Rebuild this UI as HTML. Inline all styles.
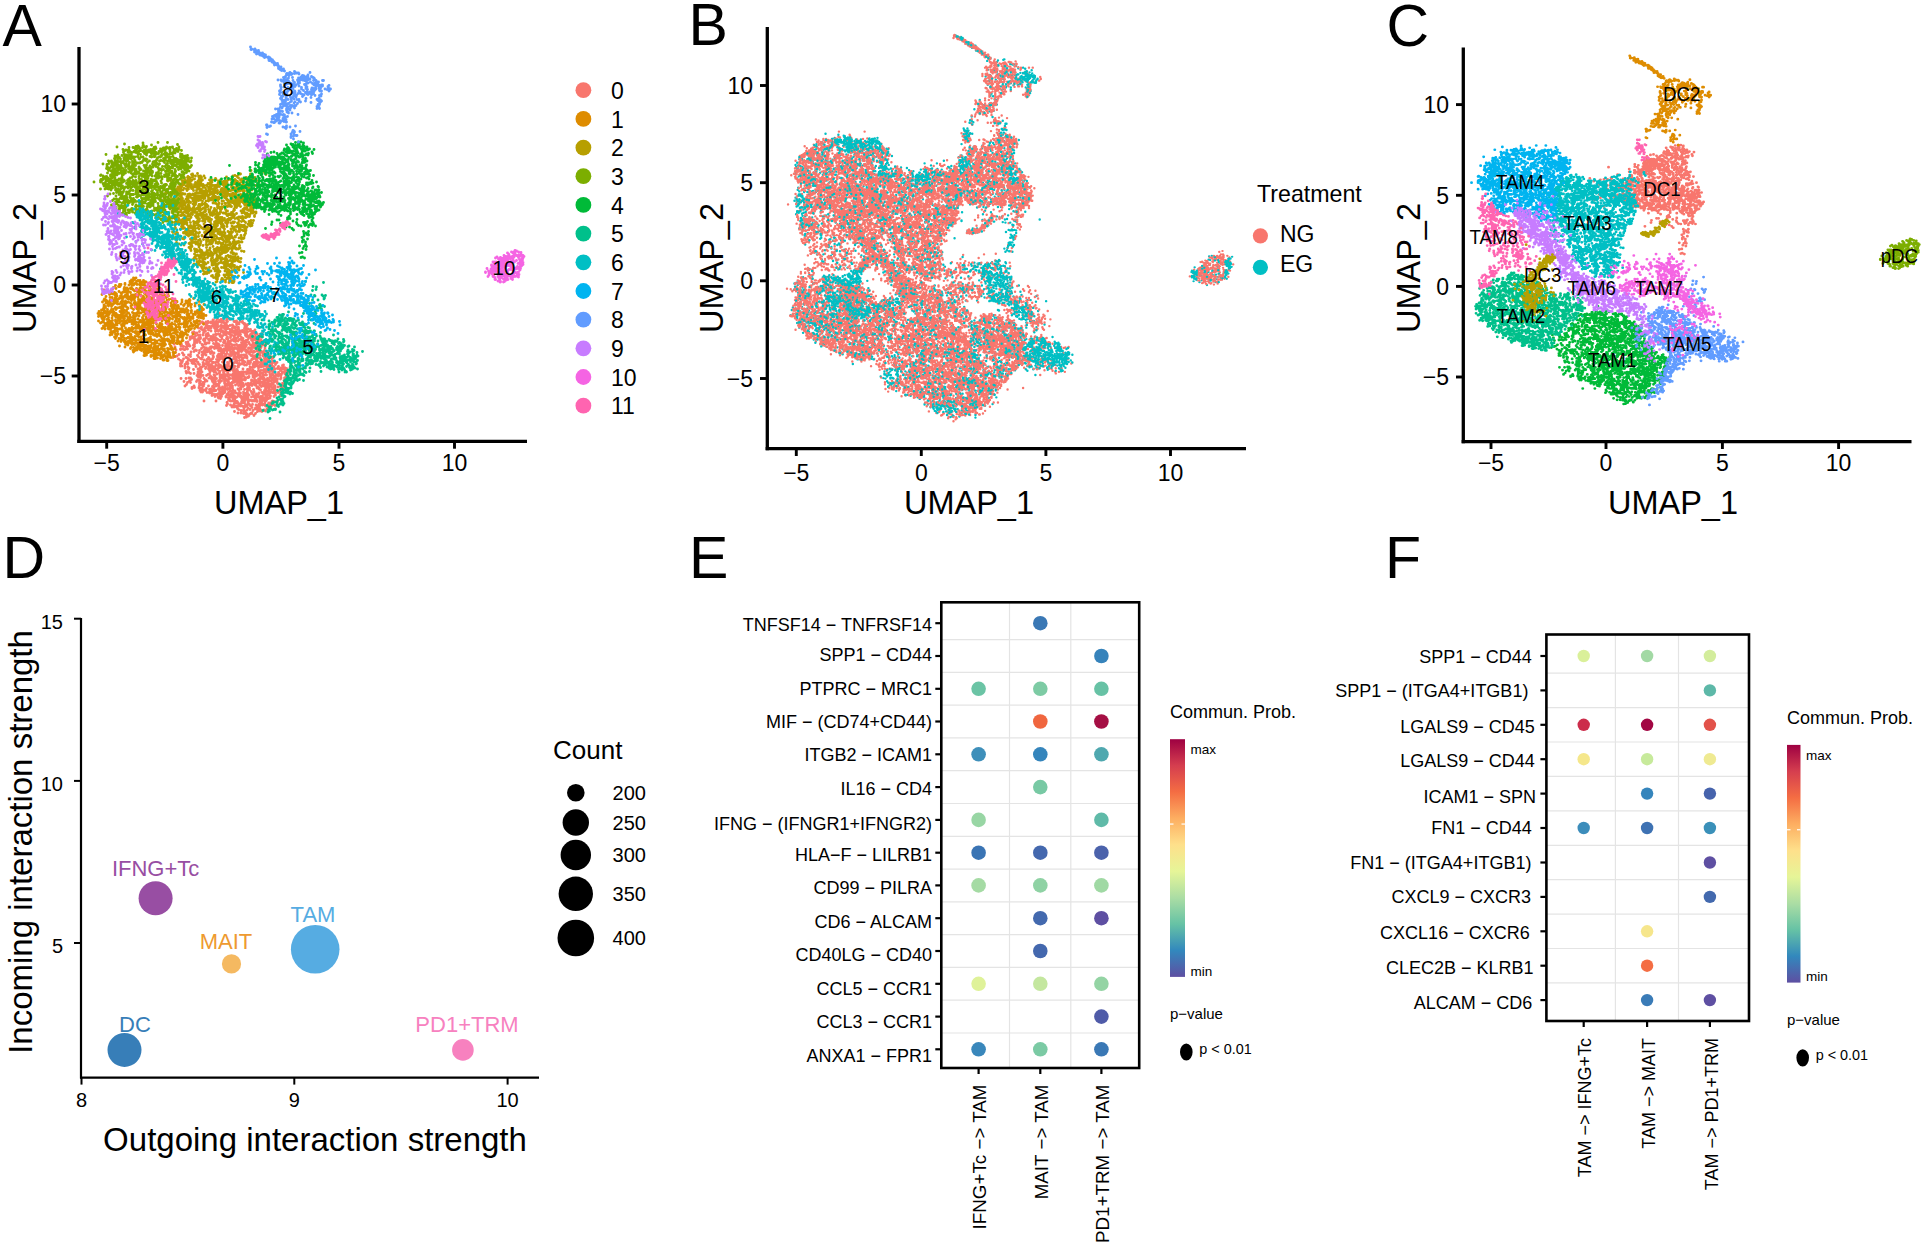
<!DOCTYPE html>
<html><head><meta charset="utf-8"><title>Figure</title>
<style>html,body{margin:0;padding:0;background:#fff}svg{display:block}text{font-family:"Liberation Sans",sans-serif}</style>
</head><body>
<svg width="1925" height="1244" viewBox="0 0 1925 1244">
<defs><linearGradient id="spec" x1="0" y1="0" x2="0" y2="1">
<stop offset="0.000" stop-color="#9E0142"/><stop offset="0.111" stop-color="#D53E4F"/><stop offset="0.222" stop-color="#F46D43"/><stop offset="0.333" stop-color="#FDAE61"/><stop offset="0.444" stop-color="#FEE08B"/><stop offset="0.556" stop-color="#E6F598"/><stop offset="0.667" stop-color="#ABDDA4"/><stop offset="0.778" stop-color="#66C2A5"/><stop offset="0.889" stop-color="#3288BD"/><stop offset="1.000" stop-color="#5E4FA2"/>
</linearGradient></defs>
<defs><path id="k0" d="M438 627h0m47 16h0m-5 0h0m-7-1h0m-3 1h0m-2 0h0m-8-4h0m-4-4h0m-1 8h0m-1-5h0m-1 3h0m-6 1h0m-2-2h0m-3-1h0m0 0h0m-3 2h0m-4-4h0m0 0h0m-1 1h0m-1 4h0m-6-2h0m-1 0h0m-10 3h0m-19 13h0m3-9h0m1 10h0m2-1h0m0-2h0m1-10h0m1 0h0m0 1h0m3 3h0m2 8h0m1-10h0m1 9h0m0-11h0m0 9h0m1-3h0m1-3h0m0-1h0m0 1h0m0 9h0m1-2h0m1-2h0m1-7h0m1 10h0m1-2h0m2 3h0m1-10h0m0 9h0m0 1h0m0-12h0m1 9h0m1-9h0m0 0h0m1 1h0m1 7h0m0-2h0m2-5h0m0 8h0m1-8h0m0 11h0m1-11h0m0 11h0m1-5h0m0-2h0m0 8h0m1-2h0m1-9h0m1 11h0m0-12h0m1 3h0m0 1h0m0 3h0m2 1h0m0-9h0m5 13h0m0-13h0m0 7h0m1 2h0m0-8h0m1 7h0m1 0h0m2 0h0m0-7h0m0 10h0m2-2h0m0 4h0m1-10h0m0 6h0m1-7h0m0 6h0m0-2h0m0 5h0m1-8h0m0-1h0m1 3h0m1 8h0m2-4h0m0 4h0m4-6h0m5 5h0m0-1h0m0-5h0m2 3h0m3 3h0m1-2h0m2-6h0m1 1h0m2-3h0m0 0h0m0 9h0m1 2h0m0-2h0m1-7h0m7-3h0m3 3h0m1-1h0m0 10h0m1-5h0m0 2h0m1 3h0m0-8h0m1 2h0m1 2h0m3-4h0m29 21h0m-1-3h0m-3 2h0m-1 0h0m-6-1h0m-2 1h0m-2-2h0m0-1h0m0-6h0m-1 7h0m0-2h0m-3-2h0m-2 3h0m0 0h0m0-2h0m0 6h0m0-7h0m-3 6h0m0-10h0m-1 12h0m0-11h0m0 2h0m-4-4h0m-1 6h0m0-6h0m-1 1h0m0 11h0m-1-8h0m0 5h0m-2 4h0m-1-4h0m-1-4h0m-1 0h0m-1 1h0m-1 0h0m-1-3h0m-1 2h0m-3-1h0m0 1h0m0 6h0m-1-4h0m0 6h0m-1-3h0m0-3h0m-1 1h0m-1-7h0m0 11h0m0-12h0m0 7h0m-1-7h0m-1 8h0m-1 0h0m0 2h0m0-5h0m-1 2h0m0-5h0m-1 9h0m0-9h0m-1 1h0m0 5h0m0-3h0m0 6h0m-1-6h0m0 2h0m-1 1h0m0 1h0m-2-5h0m-2 2h0m-1-4h0m-1 9h0m0-6h0m0 8h0m-3-12h0m0 5h0m0 4h0m-2-1h0m-1 0h0m-2-1h0m0-1h0m-2-1h0m0 0h0m-1-5h0m0 11h0m-1-5h0m0 4h0m-1-6h0m-2 3h0m-2-1h0m0 6h0m-1-9h0m-3 1h0m0-5h0m-1 3h0m0-3h0m-1 10h0m0 0h0m-2-7h0m-1 7h0m-1-6h0m-3 7h0m0-8h0m0-2h0m-2 1h0m0 3h0m0 6h0m-4 1h0m-5-8h0m-5 8h0m0 1h0m0-11h0m-1 7h0m-1 4h0m-2-3h0m-1 3h0m-1-9h0m-2 1h0m0-5h0m-1 4h0m-1 4h0m0 0h0m-1 4h0m-1-10h0m-5 10h0m-1-7h0m-2 8h0m-1-1h0m-2-4h0m-4 0h0m0 2h0m-2-4h0m-1 0h0m-2 1h0m-25 20h0m12 0h0m4-1h0m4-5h0m0-5h0m0 5h0m3-3h0m1-3h0m2 3h0m1-2h0m1 3h0m1 8h0m0-8h0m0 5h0m2-3h0m0-7h0m0 12h0m1-4h0m1 1h0m1 4h0m3-8h0m1 4h0m2 3h0m0 1h0m1-10h0m0 2h0m6 3h0m1-2h0m0 1h0m1 4h0m1-3h0m2-4h0m1-1h0m4 4h0m1-1h0m0 7h0m0 0h0m0-7h0m2 2h0m2-4h0m0-3h0m1 4h0m0-1h0m2 5h0m1-1h0m0-2h0m1-4h0m2 5h0m2-4h0m1 3h0m0 5h0m1-6h0m1 1h0m2 1h0m4-7h0m0 9h0m1 1h0m0-9h0m2 1h0m0-2h0m1 5h0m3 8h0m1-4h0m1 4h0m1-3h0m3-5h0m2-3h0m1 4h0m0 5h0m3 0h0m0 1h0m2-9h0m0-3h0m2 8h0m0 1h0m4-3h0m1-1h0m0-5h0m0 10h0m1 0h0m1-7h0m1 8h0m0-5h0m1 3h0m1-4h0m0 5h0m3 0h0m0-8h0m3 5h0m3 0h0m0 0h0m1-4h0m0 10h0m1-8h0m1 8h0m0-5h0m1-3h0m2 5h0m2 1h0m2-2h0m1 3h0m0-11h0m3 6h0m0-6h0m1 1h0m1-1h0m0 12h0m2-13h0m0 3h0m1 0h0m2 5h0m0-4h0m2 6h0m0-10h0m1 4h0m0 4h0m2-5h0m1 1h0m0-2h0m1-1h0m1 6h0m0 1h0m4-5h0m0 4h0m1 4h0m1 2h0m0-12h0m1 1h0m0 5h0m1 0h0m0 4h0m1-3h0m2 0h0m0 2h0m0 3h0m0-4h0m1-7h0m2 9h0m3 0h0m1-1h0m1 3h0m2 3h0m-2 8h0m0-5h0m-4-1h0m-3 1h0m-1-5h0m0 9h0m-1 1h0m-1-3h0m0-2h0m-1 6h0m-3-8h0m0 10h0m-1-8h0m-2 7h0m-1-6h0m-1-6h0m-1 3h0m0-2h0m0 0h0m0 3h0m-1 1h0m-1 4h0m-1-2h0m-1-7h0m-2 4h0m0 5h0m0-5h0m-1 9h0m-1 0h0m-1-9h0m-2 6h0m-1-9h0m-1 9h0m0 1h0m-4-7h0m-1 2h0m-1 2h0m0-7h0m-1 6h0m-1-2h0m-1 6h0m0-7h0m-1 1h0m0-5h0m-1 13h0m-1-11h0m0 1h0m0 10h0m0-4h0m-1 3h0m0-7h0m-1-1h0m-1 7h0m-1-7h0m-1 5h0m0-2h0m0 6h0m-2-8h0m0 6h0m-1-5h0m0 1h0m-1-1h0m-3-3h0m0 8h0m-2-2h0m-2-5h0m-1 9h0m-1-3h0m-2 3h0m0-9h0m-1 1h0m0 5h0m-1-7h0m-1 6h0m-1-8h0m0 10h0m-1-1h0m-1-2h0m0-8h0m0 8h0m-1-4h0m-1 8h0m0-12h0m0 12h0m-1-4h0m0-2h0m0-6h0m0 3h0m-1 1h0m0 2h0m-2 7h0m0-3h0m0-7h0m-1 6h0m0-8h0m-1 5h0m-2 7h0m0-13h0m-1 12h0m-3-7h0m-2 8h0m-2-3h0m0 1h0m-2-6h0m0 7h0m-1 1h0m-1-1h0m0-6h0m0-4h0m-1 8h0m-1-1h0m0 0h0m-1 0h0m0-5h0m-1 0h0m0-4h0m0 10h0m0-5h0m0 5h0m-1-2h0m0-2h0m0-3h0m-1 6h0m0-5h0m0 4h0m0-2h0m-2 2h0m0 3h0m-1-2h0m-1-8h0m0 0h0m-3 7h0m0 0h0m-1 0h0m-1 3h0m-1 0h0m0-3h0m-2 2h0m-1-10h0m-1 13h0m-2 0h0m-1-13h0m-1 10h0m-1-8h0m-1-2h0m-1 2h0m-1 7h0m-2-1h0m-2-3h0m0-1h0m-1-1h0m-1 8h0m0 0h0m-14-8h0m0-2h0m0 6h0m-2-3h0m0 1h0m-1 6h0m-6-5h0m-1 0h0m-1-3h0m-2-1h0m-1 10h0m-1-5h0m-1-5h0m-1 6h0m-2 5h0m-2 0h0m-1-6h0m-3 5h0m-1-9h0m-1 3h0m-1 6h0m0 1h0m-11-5h0m-2-6h0m3 25h0m1-13h0m2 12h0m4-3h0m7-3h0m2 4h0m1 0h0m9 0h0m4 3h0m0-4h0m1-5h0m6-1h0m3-3h0m2 1h0m2 10h0m3-5h0m1-5h0m5 3h0m0 6h0m2 0h0m0-6h0m3 4h0m0-8h0m2 4h0m0-1h0m1-2h0m0 9h0m2-6h0m3-4h0m1 3h0m3 4h0m2-2h0m0-2h0m0 3h0m1-2h0m2 7h0m2-5h0m7 6h0m2-3h0m0-8h0m1 7h0m1 5h0m0-13h0m0 13h0m0-12h0m0 12h0m2-12h0m1 12h0m0-4h0m1 2h0m0-6h0m1 6h0m0-5h0m0 3h0m0-9h0m2 3h0m1 3h0m1-2h0m0 0h0m0-3h0m1 0h0m0 12h0m1 0h0m1-4h0m0 1h0m3-8h0m0 5h0m3-7h0m2 9h0m0 4h0m1-13h0m1 4h0m1 6h0m0-3h0m1 4h0m2-7h0m1 0h0m1 4h0m1-1h0m1 6h0m0-8h0m0 7h0m1-3h0m0 1h0m0-2h0m1-1h0m0-1h0m3 0h0m1 0h0m1-6h0m0 10h0m0-8h0m1 5h0m0-4h0m0 0h0m1 0h0m1-3h0m0 11h0m1 1h0m1-10h0m0-1h0m1 0h0m0 12h0m0-13h0m1 3h0m0 7h0m2-9h0m3 9h0m2 1h0m1-1h0m0-8h0m1-2h0m0 13h0m1-8h0m0 6h0m1-9h0m1 0h0m0 2h0m2 1h0m2 3h0m1-5h0m2 8h0m0 0h0m1-7h0m2 8h0m0-1h0m1 2h0m0-8h0m1 7h0m1-10h0m0 1h0m1 1h0m0 8h0m3-1h0m0 0h0m2-9h0m1 7h0m1-7h0m1 6h0m1-6h0m1 8h0m0-1h0m1 2h0m1-6h0m2-2h0m1 1h0m2 4h0m0 4h0m1-8h0m1 6h0m1-9h0m0 6h0m2 2h0m0 0h0m1 2h0m1 1h0m1-8h0m0 2h0m1-2h0m1 5h0m0-4h0m2 6h0m2 2h0m14 12h0m-2 1h0m-1-1h0m-1 0h0m-4-9h0m0 7h0m-1 3h0m0-4h0m0 2h0m-1-10h0m-1 3h0m-2 10h0m-2-12h0m-2 4h0m-1 1h0m-1 0h0m-1-6h0m0 2h0m-1 1h0m0 7h0m0-7h0m0-2h0m-1 7h0m-1-3h0m0-2h0m-1 7h0m-1-7h0m0 4h0m-1 2h0m0 2h0m-1 0h0m-1 1h0m-4 1h0m0-4h0m-1-6h0m-1 0h0m-3 8h0m-1-9h0m-1 7h0m-2-2h0m0 5h0m0-7h0m-1-5h0m0 10h0m-1 0h0m-1-7h0m-1-2h0m-1 10h0m0 2h0m-2-9h0m0 0h0m-2 0h0m0 1h0m-3 3h0m0 3h0m-1-2h0m-2 3h0m-1-1h0m-1-3h0m0 4h0m-1 1h0m-1-13h0m0 2h0m0-1h0m-2 0h0m-2 9h0m-2-1h0m0 3h0m-1-10h0m-2 8h0m0-4h0m-1 0h0m0-5h0m-5 12h0m0-6h0m0-6h0m-2 0h0m-3 7h0m0 3h0m-1 0h0m0-5h0m-1-4h0m0 4h0m0-6h0m0 0h0m-1 9h0m-2 2h0m-1-11h0m-1 4h0m-1 9h0m-4-6h0m-2 1h0m0-4h0m-3 9h0m-2-2h0m-1-11h0m-6 6h0m-1 2h0m0-6h0m-2 8h0m-1-7h0m-1-1h0m-3 2h0m-1 0h0m-1-4h0m0 7h0m-1-7h0m0 1h0m-1 6h0m0 4h0m-1-3h0m0-8h0m-2 5h0m-2 6h0m-4 0h0m0-11h0m-1 2h0m-1 2h0m0 7h0m-3-4h0m-2 0h0m0-2h0m-1 4h0m-1-7h0m0 2h0m-1-3h0m0 10h0m-3-6h0m-1 3h0m-1 5h0m-4-7h0m-1 7h0m-1-2h0m-1-11h0m-2 4h0m-2-1h0m-4-3h0m-1 11h0m-1-1h0m-2-5h0m-1 3h0m-1 0h0m-1-2h0m-2 6h0m0-7h0m0 4h0m-2 4h0m-1-7h0m0 5h0m-1-1h0m0 2h0m-3-5h0m-4-3h0m-1 9h0m0-6h0m-1-5h0m-2 9h0m0-10h0m-1 0h0m-5 3h0m-2 4h0m-1 3h0m-1-2h0m-2 4h0m0-6h0m-4-3h0m-11-3h0m15 13h0m0 4h0m3 0h0m6-3h0m0 4h0m0 3h0m5-8h0m1 6h0m1 5h0m1-3h0m9 3h0m4-10h0m1 4h0m4 5h0m1-10h0m1 10h0m1-9h0m1 11h0m1-2h0m0-4h0m1 7h0m0-2h0m2-5h0m2-4h0m1 2h0m1-1h0m1-3h0m2 9h0m1-9h0m0 7h0m3-5h0m2 8h0m0 0h0m1-1h0m0-3h0m1-5h0m0 12h0m1-10h0m1 2h0m0 7h0m0-4h0m1 5h0m1-4h0m0-8h0m1 3h0m0 3h0m1 6h0m0-9h0m0 3h0m2 6h0m0 0h0m1-2h0m0-4h0m2 2h0m0 3h0m1-8h0m1-2h0m0 8h0m3 1h0m1-8h0m0 9h0m1-5h0m1-6h0m0 1h0m1 5h0m2-4h0m0 0h0m1 1h0m1 1h0m0 0h0m1 2h0m1 5h0m2-1h0m2-9h0m0 11h0m0-8h0m1 2h0m1-3h0m1 8h0m2-5h0m0-2h0m0 0h0m0 4h0m1-8h0m1 4h0m1-3h0m1 9h0m2 2h0m1-7h0m1 0h0m2-2h0m0 7h0m1-6h0m1-5h0m1 4h0m0 6h0m1-2h0m1 5h0m1-8h0m0 0h0m3 6h0m2 2h0m1-9h0m0 2h0m1-4h0m0 4h0m0-4h0m1-2h0m0 1h0m1 0h0m0-1h0m0 1h0m0 1h0m5-2h0m2 10h0m3-8h0m4 0h0m2 9h0m1 0h0m2 2h0m1-13h0m1 11h0m0-5h0m4 1h0m2-6h0m0 4h0m0 7h0m1-12h0m0 6h0m2 0h0m1-5h0m1 3h0m1-1h0m0-1h0m1 1h0m1-1h0m1 2h0m2 1h0m0 8h0m0-5h0m2-5h0m1 1h0m2 2h0m0 7h0m1-11h0m0 0h0m1-1h0m0 1h0m2 11h0m0 0h0m0-8h0m1-3h0m1 1h0m0 8h0m1-7h0m1 9h0m0-13h0m3 0h0m0 10h0m1-4h0m1-3h0m0 3h0m0 7h0m2-10h0m0 3h0m2 2h0m0-6h0m1 0h0m0 9h0m1-1h0m0 3h0m0-3h0m0-7h0m1 2h0m1-4h0m1 2h0m1 9h0m1-7h0m0 7h0m2-6h0m2 4h0m1-9h0m4 8h0m1-2h0m1-2h0m2 5h0m2 3h0m1-4h0m0-1h0m2 2h0m1-2h0m0-5h0m2-1h0m1 5h0m1 4h0m0-2h0m0-2h0m1 5h0m3 1h0m0-2h0m0-2h0m7-2h0m-3 9h0m-2 6h0m0 2h0m-1-4h0m-1 7h0m0-12h0m-1 11h0m0-12h0m-2 3h0m0 3h0m-2-4h0m-3 0h0m-1 3h0m-2 4h0m0-2h0m-3-1h0m-2 4h0m0-7h0m-1 4h0m-1 2h0m-3-2h0m0 2h0m-2-6h0m-1 10h0m-1-3h0m-1-7h0m0-1h0m-2-1h0m0 6h0m0-6h0m0 3h0m-2 9h0m0-6h0m-3 0h0m0 5h0m-1-9h0m-2-3h0m0 0h0m-2 1h0m-2 7h0m-1-1h0m-1-5h0m-1 6h0m-2-6h0m-2 5h0m-1 4h0m0 2h0m0-2h0m-1-6h0m0 6h0m-1 2h0m-2-8h0m-1-3h0m0 7h0m0 0h0m-1 0h0m0-1h0m-1 0h0m-4-3h0m-1 5h0m0-7h0m-1 2h0m-1-1h0m-1-3h0m-1 8h0m-2-4h0m-1 4h0m0 3h0m-1-11h0m0 3h0m-1 0h0m0-1h0m-1-3h0m0 4h0m-2 0h0m-3 8h0m0-1h0m0-6h0m0 0h0m-1 8h0m-1-12h0m-1 12h0m-1-9h0m-1 2h0m-1-4h0m-3 10h0m0 0h0m-2-4h0m0-4h0m0-2h0m-3 8h0m0-2h0m-1 0h0m0-6h0m0 4h0m0 7h0m-1-8h0m-1 4h0m-1-4h0m-1 1h0m0-3h0m-1 10h0m0 0h0m0-10h0m-1 9h0m0-1h0m-2-1h0m0-9h0m0 6h0m-1 4h0m-1-7h0m-2 2h0m0-3h0m0 5h0m-1 3h0m0-1h0m0 1h0m0-11h0m-1 10h0m-1-9h0m0 11h0m-1-5h0m0-6h0m-1 10h0m0-5h0m0 2h0m-2 1h0m-3-1h0m-2 0h0m-2 4h0m-1-12h0m0 6h0m0-5h0m-1 5h0m0-5h0m-1-1h0m-1 9h0m0-9h0m-2 11h0m-2 0h0m0 0h0m0-2h0m0-3h0m-1 7h0m0-5h0m0-3h0m-1 7h0m0-9h0m-3 10h0m0-5h0m-1 1h0m-1 1h0m-2 3h0m0-5h0m0 2h0m0-9h0m-1 2h0m0 1h0m-5 2h0m-2-3h0m-2 7h0m-1-1h0m-1-1h0m0-6h0m-4 11h0m-3-3h0m-1-8h0m-1 4h0m-3 1h0m-3 2h0m-7 0h0m-2-7h0m-3-2h0m0 11h0m0-6h0m0 8h0m0-6h0m-4 5h0m0-5h0m-1 4h0m0-9h0m0 3h0m-2 4h0m-6-4h0m-7 0h0m-3-2h0m-5-1h0m0 2h0m-1-3h0m-10 14h0m6 6h0m4-6h0m1 12h0m2-4h0m3-9h0m0 0h0m1 6h0m2-6h0m0 9h0m2-6h0m10 4h0m2-3h0m4 0h0m0 7h0m0-3h0m0-3h0m1 8h0m0-3h0m1-4h0m0 6h0m1 1h0m1 0h0m1 0h0m2-4h0m2-8h0m0 11h0m2-5h0m1-3h0m0 1h0m3 1h0m4-6h0m5 2h0m1 2h0m1 3h0m2-7h0m0 2h0m0 7h0m1 4h0m0-13h0m2 4h0m0 2h0m1 7h0m0-6h0m0 4h0m1-10h0m1 0h0m2 12h0m2-7h0m1 5h0m1-1h0m1-3h0m0-4h0m1-3h0m2 6h0m4-4h0m1 1h0m1 7h0m0-3h0m2-2h0m0-3h0m1 10h0m1 1h0m2-1h0m0-6h0m0-3h0m1 7h0m1-7h0m0 4h0m2-6h0m0 10h0m0-10h0m1 12h0m0-12h0m1 12h0m0-2h0m3-2h0m1-8h0m0 9h0m2-2h0m0-3h0m1-5h0m1 4h0m0 3h0m0-6h0m0 0h0m0 7h0m1-8h0m1 7h0m1-3h0m1 1h0m0-1h0m0-3h0m1 6h0m1 4h0m0-8h0m1-1h0m0-1h0m1 8h0m0-2h0m1 1h0m1-6h0m2 10h0m1-12h0m0 0h0m0 6h0m0 3h0m1 0h0m2 1h0m0-7h0m0 1h0m1 7h0m3-9h0m1-2h0m0 4h0m1-1h0m1 9h0m4-1h0m3 2h0m0-1h0m3-2h0m1-6h0m0 1h0m2 8h0m0-7h0m2-1h0m1 4h0m1-9h0m0 11h0m0 1h0m1-5h0m1 0h0m0-1h0m1-1h0m1 5h0m1-1h0m0-1h0m1-1h0m2 3h0m0-8h0m0 6h0m1-3h0m1-4h0m1 2h0m1 6h0m0 0h0m1-1h0m2 0h0m0-7h0m0 8h0m1 1h0m1 1h0m0-9h0m2-2h0m0 4h0m0 2h0m1-3h0m0 6h0m1-4h0m0 5h0m2 1h0m1 0h0m0-8h0m0 8h0m2-8h0m0 5h0m0-6h0m0 9h0m0-7h0m0-3h0m1 1h0m0 9h0m1-8h0m1 3h0m0-2h0m1 8h0m2 1h0m1-7h0m1-5h0m1 9h0m1-10h0m0 4h0m0-2h0m1 10h0m1-7h0m1 0h0m0 1h0m1 2h0m1-4h0m0 2h0m1-6h0m0 4h0m2 3h0m0-5h0m1 4h0m1-4h0m0 9h0m0-1h0m6-8h0m1-2h0m3 11h0m3-1h0m0 3h0m0-8h0m1-5h0m1 10h0m0-5h0m9-3h0m-10 19h0m-1-1h0m-1-2h0m-1 8h0m-2-9h0m-1 4h0m0 3h0m0-10h0m-1 2h0m-1 1h0m0 8h0m-3 2h0m-2-9h0m0 0h0m-5 6h0m-1-4h0m0-4h0m0 9h0m-1 1h0m0-10h0m-1 8h0m-1-2h0m-2-3h0m-2 4h0m0-8h0m-1 2h0m-4-2h0m0 9h0m0-4h0m-1-2h0m0 7h0m-2 2h0m-1-10h0m-1-1h0m0 4h0m-1 5h0m-1-8h0m0 4h0m-1 6h0m-1-2h0m-1-10h0m0 1h0m-3-1h0m-2 2h0m-2 7h0m-1-10h0m-2 6h0m0 2h0m-2-4h0m-2 1h0m0 1h0m-2-5h0m-2-1h0m-2 13h0m-1-4h0m-3-8h0m-2 12h0m-2-13h0m-1 9h0m0-3h0m-1-6h0m0 5h0m0 3h0m0-7h0m-1 5h0m-1-5h0m-1 11h0m0-11h0m0 5h0m-1 2h0m-5 1h0m-1-8h0m-2 2h0m0-3h0m-4 8h0m0-7h0m0 7h0m0-4h0m-1 2h0m0-6h0m-1 7h0m-2 4h0m-1-10h0m-1 7h0m-5-8h0m-1 12h0m-4-2h0m-1-4h0m0-4h0m-1 4h0m-1-6h0m-1 2h0m0 10h0m-2-8h0m0-4h0m0 8h0m0 4h0m-1-5h0m-4 0h0m0-6h0m0 8h0m-3-8h0m-1 1h0m-1 3h0m0 4h0m0-9h0m0 5h0m-1 4h0m-1-4h0m-1 2h0m0 2h0m-1 4h0m-1-9h0m-1 9h0m0-5h0m-3-1h0m0 6h0m-1-7h0m-1-1h0m0 0h0m0 7h0m-1-10h0m-1 5h0m0 1h0m-3-7h0m-2 10h0m0-9h0m-1 9h0m-3-6h0m0 7h0m0-5h0m-2 5h0m-1 0h0m0-9h0m-2 6h0m-1-1h0m-3 1h0m-2-7h0m-4 5h0m-1 3h0m-1 1h0m-3-1h0m-1-8h0m-3 4h0m0-6h0m0 9h0m-1-1h0m-2-2h0m-1 5h0m-1-10h0m-1 5h0m0-1h0m-9 0h0m-1-3h0m-4 3h0m0 2h0m-14-5h0m32 12h0m3 0h0m9 1h0m5 1h0m0-1h0m0-1h0m3 0h0m1 2h0m0-1h0m1 6h0m3-2h0m3 0h0m0 4h0m1-3h0m2-1h0m1 1h0m2 4h0m1 2h0m0-9h0m2 2h0m0-3h0m1 6h0m1 5h0m1-10h0m0 4h0m1-3h0m0 5h0m1-7h0m1 0h0m0 2h0m1-1h0m3-2h0m1-1h0m2 10h0m0-1h0m2-3h0m0-1h0m2 1h0m1 6h0m0-11h0m0 4h0m2 3h0m1-2h0m0 4h0m3-5h0m0-2h0m0 7h0m1-1h0m1-8h0m1 8h0m0-7h0m1 0h0m0 4h0m2 2h0m2 3h0m1 0h0m0-9h0m2 8h0m2-6h0m0 4h0m1-5h0m1 2h0m2 3h0m0 1h0m0-6h0m1-1h0m1 6h0m1 4h0m3 0h0m1-2h0m0-10h0m0 4h0m1 3h0m0-4h0m1 10h0m1-10h0m0 1h0m0 6h0m2 0h0m0-5h0m2-4h0m0 2h0m0-2h0m1 5h0m0 1h0m0-5h0m1 8h0m0 1h0m2-5h0m5 4h0m1-7h0m3 6h0m0-8h0m0 6h0m1-6h0m2 11h0m1-5h0m1 6h0m0 0h0m1-9h0m2 3h0m0 2h0m1-4h0m1-1h0m0 6h0m1-8h0m1 8h0m0 1h0m2-2h0m3-8h0m0 10h0m1-3h0m1 4h0m1-11h0m0 3h0m2 8h0m1-9h0m0 1h0m1 0h0m0 2h0m0-5h0m1 8h0m2-1h0m0 0h0m1 5h0m0-8h0m2 8h0m1-6h0m0-6h0m2 11h0m0 0h0m0-10h0m0-1h0m0 1h0m1 6h0m0-8h0m4 1h0m3 1h0m0 7h0m3-3h0m0-5h0m5 0h0m5 4h0m0 1h0m1 2h0m1-6h0m1 19h0m-9-2h0m-5 8h0m-2-8h0m-1 6h0m-2-7h0m0 2h0m-1-1h0m-2 4h0m0-1h0m-3 5h0m-1-5h0m-1 1h0m-4-6h0m-1 0h0m-2-2h0m0-1h0m0 12h0m0-4h0m-1 2h0m-1-7h0m-3 9h0m0-10h0m-1 2h0m0 5h0m-1-8h0m-3 0h0m0 2h0m0 1h0m0 9h0m0-4h0m-2 1h0m-4-5h0m-1-3h0m-1 10h0m-2-9h0m0 1h0m-4 0h0m0-1h0m-1 8h0m-1-7h0m-2-1h0m-3 8h0m0-8h0m0-1h0m-1 1h0m-1 6h0m-1-3h0m0 5h0m-1-10h0m-2 11h0m-2-1h0m0 1h0m-1-12h0m0 3h0m-1 2h0m0 2h0m-1-1h0m-1 1h0m0-6h0m0 0h0m0 5h0m-2-4h0m0 5h0m-1-4h0m0 1h0m0-3h0m-1 5h0m-2 4h0m-4 3h0m0-4h0m-2-3h0m-1-1h0m-1 3h0m-3-1h0m0-4h0m-1-3h0m0 3h0m0 5h0m-1 3h0m-2-8h0m0 0h0m0-3h0m-2 4h0m-3 8h0m0-8h0m-2-1h0m0-2h0m-2 1h0m-2 8h0m-1-3h0m-1 6h0m-21-9h0m-24 0h0m56 12h0m1-2h0m3 2h0m1 9h0m0 0h0m0-10h0m1-1h0m3 2h0m2 3h0m0-5h0m2 7h0m0-7h0m4 0h0m1 9h0m3-9h0m1 9h0m0-8h0m2 4h0m0 6h0m1-10h0m0 9h0m0 2h0m1-1h0m1-10h0m2-1h0m1 8h0m2-4h0m4 3h0m1-7h0m3 3h0m2 6h0m4-3h0m1-2h0m3 2h0m1 5h0m0-11h0m0 2h0m0 5h0m3-5h0m1 2h0m1 6h0m0-3h0m0 2h0m2-1h0m2 3h0m4-3h0m3-8h0m0 10h0m3-4h0m1-1h0m2 1h0m6-6h0m-32 15h0m-3 4h0m-4-5h0m0 1h0m-1-1h0m-3 2h0m-3 4h0m-3-4h0m-1 6h0m-1-8h0m0 3h0m-3 6h0m-2-8h0m-5-1h0m-6 0h0"/><path id="k1" d="M272 556h0m-3 3h0m-2-3h0m-36 15h0m6 2h0m1 0h0m1-4h0m1 3h0m0 1h0m1-2h0m1-2h0m8-2h0m0 2h0m8 1h0m2-7h0m0 2h0m1 3h0m1-1h0m0-4h0m1 4h0m0-7h0m0 4h0m1 1h0m0-1h0m0 6h0m1-3h0m1 0h0m1 3h0m0-9h0m1 8h0m2-2h0m3 0h0m0-4h0m1 6h0m2-8h0m3 8h0m0-6h0m1-2h0m0 9h0m0-5h0m1 2h0m0 3h0m1-3h0m2-2h0m1-1h0m1 6h0m1-9h0m1 9h0m1-7h0m0 3h0m0-1h0m1 6h0m2-7h0m9 1h0m0 7h0m5-1h0m20 16h0m-2 0h0m0-5h0m-1-2h0m-3-4h0m-2 7h0m0-8h0m-1 6h0m-3 4h0m0-6h0m-2 0h0m-1-2h0m-2 10h0m-2-7h0m-4 6h0m0 1h0m-1-4h0m0-4h0m-1 1h0m-1-5h0m0 4h0m-1-4h0m-1 1h0m0 5h0m-1 5h0m-1 1h0m-3-13h0m-1 8h0m-1 4h0m-1-9h0m-1 10h0m-2-7h0m0-3h0m-2 1h0m-2 6h0m-1-9h0m-1 9h0m-1-8h0m-1 5h0m0 1h0m-2 2h0m0-4h0m-2 2h0m-1 1h0m0-1h0m-1-5h0m0 0h0m-4 5h0m-2-2h0m0 0h0m-1-1h0m-1-1h0m-2-3h0m-1 3h0m-1-2h0m0 9h0m-4-2h0m-1-4h0m0-1h0m-1 2h0m0 4h0m0 3h0m0-4h0m-1-5h0m0-2h0m-1 4h0m0 5h0m-1-6h0m0 1h0m0 1h0m-2 1h0m-1-5h0m0-2h0m-1 3h0m0 5h0m0 1h0m-2 0h0m-4 2h0m-4-3h0m-6-6h0m-1 9h0m-2-1h0m-2-10h0m-2 3h0m-1 7h0m-4 0h0m-1 1h0m0-1h0m-11-5h0m-4 9h0m4 11h0m1-2h0m3-5h0m0 7h0m7-11h0m1 6h0m0 6h0m1-13h0m3 7h0m2-7h0m1 12h0m1 1h0m2-5h0m0 2h0m0-8h0m1 11h0m0-6h0m1 4h0m0-4h0m0 0h0m0 0h0m0-4h0m0-2h0m1-1h0m0 13h0m1-9h0m0 9h0m3-3h0m2-1h0m0-1h0m2 0h0m0-4h0m2-4h0m1 6h0m0 2h0m1-2h0m0-1h0m0 4h0m0 3h0m2-5h0m2-2h0m2-3h0m2 5h0m2-2h0m0-1h0m0-3h0m1 9h0m2-4h0m2 4h0m0-4h0m2 2h0m1 5h0m0-7h0m0-4h0m1 7h0m1-5h0m1-2h0m1 1h0m0 4h0m0-2h0m0 3h0m1 2h0m1 3h0m0-7h0m0 2h0m1-1h0m1-6h0m2 1h0m0 1h0m1-1h0m1 2h0m1 2h0m1 5h0m1-10h0m2 11h0m2-9h0m0 0h0m1 1h0m1 6h0m1 2h0m2-7h0m0 1h0m2 3h0m0 2h0m3-1h0m1-9h0m0 2h0m0-3h0m1 5h0m1 8h0m0-12h0m1 3h0m1-4h0m0 1h0m1 10h0m1 1h0m1-4h0m1-1h0m1 1h0m1-8h0m1 11h0m1-2h0m0 0h0m2-2h0m3 6h0m4-13h0m0 0h0m2 7h0m0-1h0m1 2h0m1-1h0m0 1h0m1 0h0m0-4h0m2-4h0m0 11h0m0-10h0m1 7h0m0-5h0m1-2h0m1 4h0m1-2h0m0 0h0m2 7h0m2-8h0m3 5h0m2 5h0m1-7h0m1-5h0m1 4h0m1 7h0m5-1h0m7 2h0m14 0h0m15-1h0m1 2h0m7-4h0m29 15h0m-8-3h0m-5 5h0m-2-1h0m-2-3h0m-1 0h0m0-7h0m-8 4h0m0 5h0m-7-3h0m-1 6h0m-1-4h0m-2-5h0m0-1h0m-1 3h0m-1-4h0m-1 8h0m0-10h0m0 10h0m0-8h0m0 0h0m-1 3h0m-2-2h0m-1-3h0m0 0h0m0 1h0m0 2h0m-3 4h0m-1 2h0m-1 0h0m-3-7h0m-2 4h0m-5 5h0m-1-2h0m-2-7h0m0 0h0m0-1h0m0 12h0m0-1h0m-1-2h0m0 1h0m0-2h0m-2-5h0m-2 2h0m0-1h0m-1 4h0m0 0h0m-1 3h0m0-12h0m-2 0h0m-1 13h0m0-5h0m-1-1h0m-1-3h0m0 6h0m-8-3h0m-1-3h0m0 7h0m-2-4h0m-1-3h0m-1-2h0m0 10h0m-2-10h0m-1 4h0m0-6h0m-2 2h0m0-2h0m0 8h0m-1 0h0m-2-3h0m-3-1h0m-1-3h0m-1 6h0m-3 6h0m0-13h0m-1 8h0m0-6h0m-1 11h0m-1-7h0m0-1h0m-1 2h0m0 1h0m0-8h0m-1 4h0m-1 5h0m-1 3h0m-3-2h0m0-4h0m0-2h0m-1 1h0m0 4h0m-1 0h0m0 0h0m-1-3h0m0 1h0m0-1h0m-2 0h0m0 5h0m-1-1h0m0 3h0m0-11h0m0 2h0m-1 5h0m-2-7h0m0 11h0m-1-11h0m0 7h0m0-2h0m-1 6h0m-3-9h0m-1-3h0m-1 2h0m-1-2h0m-3 2h0m0 0h0m0-3h0m-1 1h0m-2 9h0m0-3h0m0 0h0m0 6h0m-1-7h0m-1-2h0m0 2h0m-1-1h0m0-4h0m0 2h0m-1 6h0m-1 4h0m-1-6h0m-1 2h0m0-3h0m0 0h0m0 4h0m-1 3h0m-1-10h0m0 0h0m0 0h0m-1 6h0m-2-5h0m-4 4h0m-2 2h0m0 0h0m-1-6h0m-4-2h0m-3 1h0m0 10h0m-1-1h0m-2-8h0m0-1h0m0-3h0m0 8h0m-2-1h0m0 3h0m0-8h0m-1 5h0m0 0h0m-2 6h0m-1-13h0m0 0h0m0 8h0m0 1h0m-1-4h0m-1 6h0m-1-9h0m-3 11h0m0-7h0m-4 0h0m0-5h0m-3 3h0m-1-1h0m0 10h0m-3-9h0m0-4h0m-1 5h0m0 1h0m-2 0h0m0 2h0m-2-8h0m0 11h0m-1-4h0m-2-2h0m0-2h0m-1 3h0m-1-4h0m-1 4h0m0 4h0m0-3h0m0 2h0m-1-7h0m0 6h0m0 0h0m-2-8h0m-1 3h0m-1 1h0m-1 9h0m0-2h0m0-11h0m0 0h0m-2 10h0m-1-2h0m0 5h0m0-2h0m-3-9h0m-9 23h0m2-4h0m3 3h0m2-6h0m0 6h0m3 2h0m1-11h0m0 1h0m1 4h0m0 4h0m1-5h0m1 2h0m0 3h0m2-2h0m1 1h0m1 4h0m1-10h0m0 7h0m0-4h0m0 2h0m1 3h0m2 2h0m1-5h0m0 3h0m2-5h0m1 2h0m1-5h0m1 2h0m0-1h0m1 5h0m1 0h0m0-3h0m0-3h0m2 5h0m2-8h0m0 11h0m2 0h0m0-8h0m1-2h0m2-1h0m5 7h0m2-6h0m1 8h0m0 1h0m0 2h0m1-4h0m0-2h0m0-5h0m1 4h0m0-3h0m0-2h0m1 3h0m1 8h0m0-2h0m1-5h0m1 5h0m0 0h0m4 4h0m0-8h0m0 2h0m3-7h0m0 1h0m1 9h0m6-10h0m2 9h0m2-6h0m1 8h0m4 0h0m2-9h0m1 7h0m0 1h0m1-8h0m1 1h0m0 3h0m2 4h0m2-9h0m1 9h0m1-10h0m1 4h0m2 0h0m1 4h0m1-6h0m2 4h0m1 5h0m1 1h0m1-8h0m0-3h0m1 4h0m3 6h0m0-7h0m1 5h0m0-7h0m1 4h0m1 3h0m0-6h0m0 1h0m1-3h0m0 1h0m2-1h0m4 2h0m1 9h0m0-10h0m1 9h0m0-8h0m1-1h0m0 5h0m3 0h0m1-6h0m3 1h0m1 4h0m1 5h0m2-1h0m1-5h0m2-5h0m0 2h0m0 11h0m1-10h0m1 1h0m0-3h0m0-1h0m0 5h0m1 3h0m0-3h0m0 1h0m1 3h0m1-1h0m1-4h0m0 5h0m1-5h0m1-2h0m1 6h0m2 1h0m0 0h0m4 4h0m0-10h0m1 6h0m0 4h0m1-4h0m1 2h0m1-4h0m2 3h0m0-5h0m0-3h0m0 3h0m1 3h0m0-1h0m2-6h0m0 9h0m0-9h0m3 0h0m1 5h0m1 1h0m0 6h0m0-5h0m1-1h0m0 2h0m0-6h0m0 0h0m3-3h0m1 11h0m0-2h0m3-7h0m0 2h0m1 3h0m1-1h0m0 2h0m0-6h0m1 6h0m2-6h0m1 0h0m1 5h0m0-2h0m1 4h0m1-4h0m3-4h0m1 12h0m0-6h0m1 2h0m1-4h0m2 8h0m4-4h0m0-3h0m1 2h0m0-3h0m3 8h0m1 0h0m3-5h0m1 0h0m0 5h0m4-8h0m1 5h0m0 0h0m1 2h0m2-5h0m0 2h0m0 2h0m3-11h0m0 11h0m0-4h0m1 1h0m1-4h0m2-2h0m1 10h0m0-9h0m5 12h0m-5 6h0m0-3h0m0-4h0m0 1h0m0 0h0m-1 2h0m-1-3h0m-1 6h0m-1-4h0m-1 2h0m-1 1h0m-2 7h0m-1-8h0m0-2h0m-1-1h0m0 1h0m0 3h0m0-4h0m0 3h0m-2 0h0m-1 7h0m-1 1h0m-5 1h0m-2-6h0m0-3h0m-1 1h0m-3-1h0m-1 6h0m-1-3h0m-2 5h0m0-9h0m-2 10h0m-1-6h0m0 0h0m0-5h0m-1 11h0m-1-7h0m-1 3h0m-1 4h0m-2-8h0m-1 3h0m0 1h0m0 0h0m-2-2h0m-2-2h0m-3-1h0m-1-4h0m-1 10h0m0 3h0m-1-12h0m0 8h0m-2-8h0m-1 1h0m0 1h0m-1 4h0m0 6h0m-2-3h0m0-7h0m-1 2h0m-1 8h0m0-11h0m-2 1h0m-3 5h0m0-6h0m0 0h0m-5 4h0m-1 3h0m0-1h0m-1-4h0m0-4h0m0 10h0m0-5h0m0 8h0m-3-1h0m0-12h0m-2 6h0m0 7h0m-2-4h0m-1 1h0m0-7h0m0-2h0m-1 8h0m0-1h0m-2-1h0m0-4h0m-3 9h0m0-7h0m-2 2h0m-1-2h0m-2-1h0m0-4h0m-1 6h0m-1 1h0m-3 3h0m-1-7h0m0-3h0m0 6h0m0-3h0m-2-3h0m-1 10h0m-1-4h0m-1 1h0m-1 4h0m-2-8h0m-2 4h0m0 2h0m-1-7h0m-1 11h0m-1-5h0m-4-1h0m0 4h0m-1 2h0m-2-4h0m0-1h0m-1 0h0m0-4h0m-4 6h0m-1-9h0m0 12h0m-2-7h0m0-1h0m-2 6h0m-2 0h0m-1 1h0m-2-10h0m0 0h0m-2 6h0m-2-8h0m-1 1h0m-2 2h0m-1 6h0m-1-2h0m-1 6h0m0-8h0m0 4h0m-1-1h0m0-4h0m0-3h0m-2 11h0m-1-1h0m0 1h0m-1-1h0m-1-6h0m-2-1h0m0-4h0m-1 10h0m0-6h0m0 9h0m-1-5h0m0-1h0m0 6h0m-1-8h0m-1 2h0m-1 3h0m-2-8h0m0-1h0m-2 0h0m-1 11h0m-1-5h0m0 5h0m0 1h0m-1-9h0m0 3h0m0 4h0m-1-4h0m0-2h0m-1 0h0m-1-2h0m0-3h0m-1 4h0m0 8h0m-2-7h0m-1-1h0m0-1h0m0-2h0m0 6h0m0 6h0m-2-1h0m0-5h0m0-2h0m0-4h0m-3 4h0m0-2h0m0 4h0m-1-7h0m-1 12h0m-2-8h0m0-3h0m-1 11h0m0-9h0m0 7h0m-2-10h0m0 0h0m-1 0h0m-3 11h0m0-10h0m-1 5h0m-2 7h0m-4-3h0m-1-5h0m-2-4h0m-1 8h0m-2-7h0m0 0h0m-3 2h0m0 1h0m-1-2h0m0 5h0m0 1h0m0-5h0m0 5h0m-1-5h0m-1-1h0m0 1h0m0 7h0m-1-7h0m-1 3h0m-1-3h0m-1-3h0m-4-1h0m-1 3h0m0 9h0m4 4h0m2-1h0m1 12h0m2-1h0m1-4h0m0-8h0m2 10h0m1-7h0m2 4h0m3-6h0m0 2h0m1 1h0m0 3h0m0 6h0m0-9h0m0-2h0m0 10h0m2-8h0m0-4h0m0 0h0m1 10h0m1-6h0m0-4h0m1 9h0m0 2h0m0-3h0m2 0h0m0-3h0m0 7h0m1-2h0m1-7h0m0 3h0m1-1h0m1 1h0m1 2h0m0 3h0m1-1h0m2 2h0m1-7h0m0-3h0m1 0h0m1 1h0m0 10h0m0-7h0m5-4h0m4 4h0m1 4h0m0 3h0m1-9h0m0 1h0m2-2h0m1-3h0m0 7h0m2-4h0m0-1h0m1 10h0m1-11h0m2 1h0m4 11h0m5-13h0m1 4h0m0 8h0m0-1h0m3 2h0m0-8h0m1-5h0m0 4h0m3 7h0m1-11h0m0 10h0m0-5h0m0 8h0m1-7h0m0 3h0m1 3h0m1 0h0m1-5h0m1-6h0m0 5h0m2 7h0m0-13h0m1 10h0m0 1h0m1 0h0m1-1h0m0-10h0m0 13h0m0-13h0m2 12h0m1-6h0m0 6h0m0-2h0m1 0h0m0-6h0m1 2h0m0-6h0m1 11h0m0-9h0m0 6h0m3 4h0m1-6h0m0-5h0m1 11h0m0-7h0m1-3h0m1 11h0m1-8h0m0-3h0m0 1h0m0 3h0m1 4h0m0 3h0m1-9h0m0 6h0m0-7h0m1-2h0m0 10h0m0-2h0m1-1h0m0 4h0m1-7h0m0 2h0m1 0h0m1 3h0m0-1h0m0-8h0m1 0h0m2 10h0m0-3h0m1 3h0m0-9h0m6 2h0m2 5h0m3 3h0m1-5h0m0-1h0m1-3h0m2 9h0m1-3h0m0-5h0m1 9h0m0-8h0m1 7h0m2-1h0m3 2h0m1-2h0m1-9h0m1 11h0m1-10h0m3 6h0m1 2h0m0 2h0m0-8h0m1 3h0m2-3h0m1 3h0m0-4h0m1 9h0m0 0h0m1-3h0m0-8h0m1 2h0m0 0h0m5 1h0m2 2h0m0 4h0m5-7h0m0 6h0m1-5h0m2-1h0m0 7h0m3-7h0m5 1h0m0 5h0m0-9h0m1 1h0m2 8h0m1-5h0m1-4h0m0 6h0m0-7h0m1 1h0m0 7h0m1-5h0m2 8h0m3-3h0m2-6h0m1 11h0m1-8h0m1 3h0m2-1h0m2-7h0m0 13h0m0-12h0m2 2h0m1-3h0m0 8h0m2-7h0m0 9h0m0-1h0m1-9h0m0 9h0m2-4h0m10-1h0m-21 20h0m-5-9h0m-4-1h0m0 5h0m-2 7h0m-1-8h0m-2 6h0m0-7h0m-1 5h0m0-6h0m0 7h0m-3-1h0m-1 1h0m0 4h0m-2-5h0m0 3h0m-1 1h0m0-6h0m-2 0h0m0 0h0m-1 6h0m-1-3h0m-1-8h0m-4 5h0m-1 6h0m-1-10h0m-1 5h0m0-5h0m-1 7h0m0-3h0m-1-1h0m0-5h0m0 1h0m-1 7h0m-1-8h0m-1 1h0m0 7h0m0 0h0m-1-7h0m0 0h0m-1 0h0m-1 1h0m-1 0h0m-1 8h0m-2 1h0m0-7h0m0 6h0m0-4h0m0-2h0m-1-2h0m0-2h0m-4 7h0m0 5h0m-1-8h0m0-4h0m0 5h0m0 3h0m-1 0h0m0 3h0m0-3h0m-1 3h0m0-5h0m-1-2h0m-1 1h0m-1-3h0m-1 10h0m0-3h0m-1-2h0m0-3h0m-1 1h0m-2-1h0m-3-4h0m0 0h0m0 5h0m0-1h0m-2 1h0m0 8h0m-1-3h0m0-5h0m-2 7h0m-1-9h0m-1 0h0m0 7h0m-3-5h0m0 6h0m-1 2h0m-1-13h0m-2 1h0m0-1h0m0 12h0m-1-4h0m-1 1h0m-1-6h0m0 2h0m-2 5h0m0-2h0m0-4h0m-1 4h0m0-1h0m-1-4h0m-1 2h0m0-3h0m0 5h0m-1 2h0m0-2h0m0-3h0m0-2h0m-1 5h0m0-4h0m-1 1h0m-1-3h0m-4 11h0m-1-8h0m-1 6h0m0 0h0m-2 3h0m0-6h0m-1-4h0m-1 1h0m-4-1h0m0-1h0m0 4h0m-1-1h0m-2 5h0m-3-2h0m0-2h0m-1 0h0m-2 3h0m-1-4h0m-1 2h0m0-1h0m-1 0h0m-4-1h0m-1-2h0m-1 0h0m0-1h0m-1 9h0m0-11h0m0 1h0m-1-1h0m0 13h0m-2-9h0m0 5h0m0 1h0m-1-3h0m-2-4h0m-1-1h0m0 6h0m-2-6h0m0 4h0m-1 3h0m-1-4h0m0 0h0m-4-1h0m0 9h0m0-6h0m-1-1h0m-1-2h0m-1-3h0m-1 11h0m-1 1h0m0-3h0m-2-10h0m-4 0h0m0 10h0m-1-5h0m-1-1h0m0 8h0m-3-2h0m0 1h0m-1-11h0m0 3h0m0 2h0m-3 0h0m-1 2h0m-2 4h0m-1-6h0m-2 2h0m0-6h0m-1 11h0m-2-12h0m-8 0h0m19 16h0m1 1h0m1 2h0m2-4h0m3 9h0m2-5h0m2 1h0m2 5h0m0-5h0m1-2h0m0-3h0m2 7h0m1-7h0m2 8h0m1 3h0m0-7h0m1 6h0m1 0h0m2-6h0m3 6h0m0-8h0m1 0h0m2 6h0m1-5h0m1 4h0m1-7h0m0 5h0m1 1h0m0 3h0m0-1h0m0-7h0m2 6h0m0 1h0m1-3h0m0-2h0m2 2h0m2-5h0m0 7h0m1 5h0m0-7h0m0 2h0m1 5h0m1-4h0m2-9h0m2 8h0m1-6h0m2 11h0m2-11h0m0 10h0m0-5h0m5-1h0m1 5h0m0 1h0m0-2h0m0-5h0m1 4h0m4-2h0m2 3h0m0-4h0m1 7h0m2-5h0m0 2h0m0-5h0m3 6h0m0 0h0m0-4h0m0-1h0m0-4h0m3 6h0m5 0h0m1 3h0m4-10h0m0 9h0m5-2h0m3 2h0m0-8h0m2 3h0m2 4h0m0 3h0m1-7h0m2-5h0m0 12h0m1-5h0m3 1h0m0-1h0m2-1h0m1 4h0m1-3h0m2 4h0m1-1h0m2-8h0m0-2h0m0 10h0m1-7h0m1 2h0m0-5h0m0 13h0m2 0h0m0-7h0m1 3h0m0 1h0m1-9h0m0 9h0m0-2h0m1-5h0m5 6h0m1-5h0m0-4h0m1 4h0m0 5h0m2-9h0m0 12h0m0-12h0m1 12h0m1-10h0m2 11h0m2-4h0m1-7h0m0 2h0m1 5h0m7-5h0m-13 12h0m-5-1h0m-1 0h0m-2-1h0m-2 11h0m-4 2h0m-2-3h0m-1 3h0m0-4h0m0 4h0m-1-7h0m0 4h0m-1-4h0m-1-6h0m-1 2h0m-1 10h0m-1 1h0m-2-2h0m-4-8h0m-1-1h0m-1 3h0m0 7h0m-2-10h0m0 4h0m-1-3h0m-1-1h0m0 1h0m0 9h0m0 1h0m-2-8h0m0-3h0m0 7h0m-3-6h0m0 0h0m0 10h0m-1-11h0m-2 10h0m-1-5h0m-2-7h0m-1 9h0m-1 3h0m-1 0h0m0-6h0m-1-5h0m-1 5h0m0 7h0m0-6h0m-1 1h0m-1-7h0m0 0h0m-1 10h0m-2-10h0m-2 4h0m0 4h0m-2-1h0m0 4h0m-2-2h0m0-4h0m-3 6h0m0-5h0m-1 4h0m-1 2h0m-1-8h0m0 7h0m0 1h0m-2-8h0m-1 7h0m0-3h0m-2 2h0m0-7h0m-1 2h0m0 6h0m-1-12h0m-1 5h0m0-4h0m-2 2h0m0 2h0m-1 7h0m0-3h0m0-6h0m0 10h0m-1 0h0m0-5h0m0-6h0m-3 6h0m0 1h0m0 1h0m0-5h0m-1-4h0m0 5h0m-1-4h0m0 9h0m-2-2h0m0-2h0m-3 5h0m-1-9h0m-1-1h0m-1 7h0m-1-9h0m-2 3h0m-2 6h0m-1 2h0m0-11h0m-5 4h0m0-4h0m-1 0h0m0 0h0m-1 3h0m-1-1h0m-2 0h0m-1 6h0m-11-2h0m27 9h0m1 3h0m3-3h0m4-1h0m9 1h0m5 10h0m0-7h0m1 2h0m0-3h0m1-1h0m0 9h0m0-10h0m0 2h0m0 0h0m0 1h0m1-2h0m1 3h0m0-4h0m1 9h0m0-2h0m0-3h0m0-3h0m1 4h0m3-5h0m0 4h0m0-4h0m0 4h0m2-2h0m1-3h0m2 11h0m0-7h0m0 9h0m0-9h0m2 0h0m0-2h0m2 0h0m0 9h0m0 0h0m1-8h0m1 5h0m1-7h0m0 12h0m0-9h0m0 8h0m1-6h0m1 3h0m0-7h0m1 2h0m0 8h0m2-12h0m0 6h0m0 3h0m2 0h0m1 0h0m1-5h0m0-3h0m1 9h0m1-1h0m1-1h0m0 2h0m1 2h0m1-7h0m0 5h0m2 1h0m2 0h0m1-10h0m1 10h0m0-10h0m0 8h0m2-5h0m2 9h0m1-7h0m1 1h0m0 2h0m0-6h0m1 0h0m0-3h0m2 5h0m0 3h0m0-1h0m1-1h0m0 0h0m0 1h0m0-1h0m1 7h0m0-2h0m6-6h0m1 0h0m0 4h0m0 2h0m1-5h0m1 7h0m2-8h0m-9 10h0m-3-1h0m-1 0h0m-2 7h0m-2 0h0m0-3h0m-1-2h0m-1 0h0m0-1h0m-4 5h0m-2-6h0m0 6h0m-1-6h0m-1 1h0m-3 2h0m-6-1h0m-3-2h0m-1 3h0m-2-1h0m-1 1h0"/><path id="k2" d="M342 342h0m41 7h0m2-1h0m10-1h0m82 2h0m3-1h0m1 0h0m20 0h0m1-7h0m27 4h0m0-3h0m3 7h0m-19 12h0m-3-6h0m-3 4h0m-3-2h0m-3-7h0m-3 5h0m-3 7h0m-3-7h0m-1 3h0m-4 1h0m0 3h0m-4-4h0m-2 2h0m-4-4h0m-2 7h0m-1-10h0m-1 10h0m-1-1h0m-1-2h0m-1-9h0m0 8h0m-3 2h0m0 1h0m-1-10h0m-5 7h0m-5 1h0m-3 2h0m0-8h0m-2 9h0m0 0h0m-1-1h0m-2 1h0m-1 0h0m0 0h0m-6-3h0m-4 2h0m-5-3h0m-1-2h0m-6 3h0m-2 0h0m-3 0h0m-1 0h0m-9-4h0m-2-4h0m-3 8h0m-2-5h0m0 4h0m-1-2h0m-1-5h0m-1 11h0m-1-6h0m-1 3h0m0-5h0m-1-3h0m-1 10h0m-5-10h0m-2 6h0m-3-7h0m-1 3h0m-1 6h0m0-10h0m-1 11h0m-2 2h0m-1-7h0m-1-1h0m0 7h0m0-5h0m0 0h0m-1 4h0m0-2h0m0-1h0m-1 2h0m-1-7h0m0 6h0m-1-4h0m-2 8h0m-2-1h0m-1-2h0m-1-4h0m-2 5h0m-1 2h0m-2-2h0m-17 0h0m-6 0h0m-4-2h0m-1 3h0m-7 11h0m3-4h0m7 5h0m3 3h0m5 0h0m9-3h0m2 2h0m0-1h0m2-4h0m1 0h0m1 2h0m2 0h0m1-7h0m1 3h0m2 0h0m0 8h0m1-13h0m3 8h0m0-8h0m2 1h0m1 2h0m0 6h0m0-2h0m1-4h0m1 7h0m1-2h0m0-8h0m1 5h0m0-4h0m1 3h0m1 0h0m0 5h0m1-1h0m0 0h0m0 2h0m1-5h0m0 8h0m1-1h0m3-1h0m0-2h0m2-4h0m1 4h0m1 0h0m0-8h0m1 2h0m1 3h0m0-1h0m0 6h0m2-1h0m0-3h0m1-2h0m0-3h0m1 1h0m0 2h0m1 4h0m1 4h0m0-13h0m3 7h0m0-7h0m0 4h0m4 1h0m0 6h0m1-2h0m1-2h0m3 5h0m2-5h0m3-3h0m0-1h0m1 9h0m0-2h0m2-7h0m2 0h0m0 4h0m0-6h0m1 10h0m1-2h0m1-3h0m0-6h0m4 7h0m1 5h0m2-5h0m1 0h0m0 4h0m2 0h0m2-8h0m1-2h0m0 6h0m1-6h0m1 8h0m3-9h0m1 4h0m1-1h0m0 10h0m1-8h0m1 0h0m0-5h0m2 8h0m2-7h0m0 9h0m0-6h0m1 2h0m1 6h0m0-6h0m2 7h0m0-12h0m0 9h0m1-4h0m8-5h0m0 9h0m0-4h0m1 7h0m1-13h0m0 4h0m2 6h0m1-7h0m0-3h0m1 0h0m1 3h0m0-3h0m1 12h0m1 1h0m2-4h0m0-6h0m2 2h0m0 8h0m1-6h0m2-5h0m3 5h0m1 6h0m1-13h0m2 4h0m1 3h0m0-2h0m5 2h0m1 1h0m0 2h0m3-6h0m2 8h0m0-9h0m4 1h0m9 3h0m7-7h0m-7 26h0m-1 1h0m-4-1h0m-2-10h0m-1-1h0m-2 8h0m-1-9h0m-1 0h0m0 9h0m-4-2h0m0-3h0m-3 8h0m-1 0h0m-2-8h0m-2-3h0m-1 4h0m-1-2h0m0-2h0m-1 11h0m-3-1h0m-1-7h0m-1-1h0m-1 1h0m-2-2h0m-1 2h0m0 1h0m-3-2h0m0-2h0m0 7h0m0 5h0m0-13h0m0 3h0m0-2h0m-1 9h0m-1 0h0m-2-8h0m-1 7h0m-1 3h0m-1-10h0m0 7h0m-1-9h0m0 13h0m-2 0h0m-1 0h0m0-9h0m-1 8h0m0-1h0m-2 0h0m0-9h0m-2 3h0m-1 2h0m-1 1h0m-1 2h0m0-6h0m-1-4h0m-1 4h0m-1 1h0m0 5h0m-1 3h0m0-3h0m0-4h0m-1-5h0m0 6h0m-1-7h0m-1 5h0m-1 2h0m-1 6h0m-1-3h0m-1-8h0m0 3h0m0 3h0m0 3h0m0-10h0m-2 5h0m-4 2h0m-1-5h0m0 6h0m-4-6h0m0 4h0m-1-6h0m0 0h0m-1 2h0m0-1h0m-1 3h0m0 4h0m0 4h0m-1-11h0m-2 6h0m-1 2h0m0-10h0m-1 6h0m-3-5h0m0 10h0m0-4h0m-2 5h0m0-11h0m-2 3h0m-2 3h0m0 1h0m0 5h0m-2-1h0m0-10h0m-2 3h0m0 4h0m-3 4h0m0-9h0m-1 3h0m-1 3h0m-1-7h0m-2 1h0m0 3h0m0-6h0m-1 6h0m-1-3h0m0 4h0m-3-8h0m-1 8h0m-2 0h0m-1-5h0m-2 5h0m-1 4h0m-3-9h0m0 9h0m-1-2h0m-1 1h0m-3 1h0m-3-2h0m0 1h0m-2-11h0m-1 11h0m-2-8h0m-1-3h0m-3 10h0m-2 0h0m-2-8h0m-1 7h0m-2-7h0m0 10h0m-1-11h0m0-1h0m-1 0h0m0 5h0m-1-1h0m0 6h0m-1-8h0m0 11h0m0-1h0m-1 0h0m0-9h0m0-2h0m0 9h0m-4 2h0m0-6h0m-1-1h0m0-2h0m0-3h0m-1 1h0m-1 10h0m-1-1h0m-4-5h0m-6 4h0m-4-1h0m-4-6h0m-1 6h0m0 2h0m-25-1h0m22 9h0m4 6h0m5 1h0m5-8h0m0 10h0m2-1h0m2 1h0m4-10h0m0 9h0m1-12h0m1 9h0m2-1h0m0-1h0m0 6h0m1-2h0m1-6h0m3-5h0m1 0h0m0 7h0m1 3h0m1-8h0m0 8h0m1 2h0m0 1h0m0-11h0m0 5h0m1 1h0m1-3h0m0 8h0m3-2h0m0-1h0m4-4h0m0 7h0m2-12h0m0 8h0m1 0h0m0-2h0m2 6h0m0-9h0m1 6h0m0 1h0m1-10h0m2 12h0m2-9h0m3 6h0m0-2h0m1-4h0m1 9h0m0-3h0m0-2h0m1-5h0m1 1h0m0 8h0m1-2h0m1 3h0m1-4h0m0-3h0m0-6h0m1 2h0m1 0h0m1-1h0m1-1h0m0 9h0m1-2h0m1-6h0m0 1h0m1 6h0m1-8h0m0 8h0m2-4h0m1-4h0m1 10h0m0-7h0m2 0h0m1 2h0m2-5h0m0 4h0m2 6h0m5-4h0m0 4h0m0-2h0m0-5h0m3 4h0m2-2h0m0 3h0m1-4h0m2 1h0m0-3h0m1 3h0m1 8h0m0-5h0m3-4h0m1-3h0m1 7h0m1-4h0m1 0h0m2 5h0m1-7h0m1 4h0m0-3h0m0 0h0m6 7h0m1-10h0m2 10h0m2-7h0m3-3h0m0 2h0m0 2h0m1 3h0m1 1h0m0 0h0m0-2h0m0-6h0m2 13h0m1-4h0m2 4h0m1-13h0m0 13h0m1-3h0m2-8h0m1 7h0m0-4h0m0 8h0m1-7h0m0 7h0m1-13h0m1 0h0m1 12h0m1-2h0m2-3h0m0 2h0m2-8h0m0 5h0m0 7h0m1-8h0m1 6h0m0 2h0m1-6h0m1 1h0m1-4h0m1 7h0m0-4h0m0-6h0m2 4h0m1 2h0m1-2h0m0 6h0m1-4h0m0 1h0m0 0h0m0-8h0m2 13h0m0-2h0m1-6h0m2-5h0m1 7h0m1-1h0m2-6h0m2 0h0m1 11h0m1-4h0m0-5h0m0 10h0m2-7h0m1 4h0m1-9h0m1 6h0m2 2h0m1 5h0m0-7h0m2 5h0m0 0h0m1 1h0m1-9h0m1 7h0m0-1h0m2 2h0m5 11h0m-1-1h0m-3-6h0m-1 7h0m-2-6h0m-1-1h0m-1 1h0m-2 10h0m-1 0h0m-1-5h0m0-3h0m0 2h0m-1-3h0m-2-3h0m0 10h0m-1-5h0m-4-1h0m-1 9h0m0-7h0m0-6h0m-1 13h0m0-4h0m0-3h0m-1-5h0m-1 2h0m-1 1h0m-1-4h0m0 12h0m0-8h0m-1-2h0m0 11h0m0-10h0m0 7h0m-3 3h0m-5-6h0m-2-6h0m0 1h0m-1-1h0m-2 4h0m-3-1h0m0 5h0m-1-8h0m-1-1h0m0 6h0m0-4h0m-1 6h0m-1-5h0m0-1h0m-1 10h0m-1-12h0m-4 7h0m0 0h0m-1 0h0m-1-2h0m0 0h0m-2 1h0m-1-3h0m-1-3h0m0 6h0m-1-1h0m-1 2h0m-2-1h0m-2-5h0m0 12h0m0 0h0m-1-12h0m-2 6h0m-4 3h0m0-8h0m0 8h0m-1-1h0m0-1h0m0 3h0m0 1h0m-1 1h0m-2-1h0m-2-4h0m0-8h0m-1 9h0m0-6h0m-2 3h0m0 3h0m-3-8h0m-3 10h0m0-11h0m-3 0h0m-4 9h0m-5 4h0m-1-7h0m0 1h0m-1-1h0m0 1h0m-2-4h0m0 4h0m-2 5h0m0-4h0m0-3h0m-1-5h0m-1 9h0m-1-7h0m-2 9h0m-1-9h0m-1-1h0m0 3h0m-1 9h0m-1-1h0m-2-5h0m0 4h0m-1-8h0m0 6h0m-1-6h0m-1 8h0m0-5h0m0 7h0m-2-2h0m0-1h0m-2 2h0m-1 0h0m-1-9h0m0-2h0m-2 0h0m-1 6h0m0 5h0m0-2h0m-1-8h0m0 11h0m-1-1h0m0-1h0m0-1h0m0-8h0m-2 11h0m-3-1h0m-2-2h0m0-1h0m-1-1h0m0-3h0m0 8h0m-1-3h0m0 3h0m0-9h0m-1 5h0m0-5h0m-2 9h0m0-5h0m0 4h0m-1-3h0m-3-4h0m0-5h0m-1 4h0m0-3h0m0 10h0m-1-7h0m-1 7h0m0-6h0m0 7h0m-1-8h0m0-1h0m-1 1h0m0 4h0m0 1h0m-1 2h0m0-5h0m-1-4h0m-2 0h0m-1 0h0m0 1h0m0 4h0m-1 0h0m-1-6h0m0 10h0m-2-10h0m-1 1h0m0 11h0m-1-8h0m-2 0h0m-2 6h0m-1-7h0m-1 6h0m-1-1h0m-3-4h0m-2-5h0m-3 7h0m-1 2h0m6 8h0m10 1h0m0-4h0m2 10h0m3-6h0m2 7h0m0 0h0m1-11h0m1 5h0m0 6h0m2-2h0m1 1h0m0-4h0m3-2h0m0 7h0m2 2h0m0-12h0m1 3h0m0 0h0m1 2h0m1 0h0m2-6h0m0 7h0m0 5h0m1-9h0m0 6h0m1-7h0m0 9h0m1 0h0m0-10h0m1-1h0m2 7h0m1-1h0m2 3h0m0-7h0m2-1h0m0 0h0m1 3h0m2-3h0m0 4h0m1 7h0m3-3h0m0-4h0m1 6h0m1-3h0m2-7h0m0 0h0m1 8h0m0 1h0m1-7h0m1-3h0m1 6h0m0 5h0m2-3h0m1 1h0m0 4h0m0-2h0m2-6h0m1 5h0m1-7h0m2-3h0m0 3h0m0 10h0m0-11h0m2 7h0m5-5h0m0 0h0m2 4h0m0-8h0m1 10h0m0-3h0m1-2h0m2 1h0m1 1h0m0 4h0m0-4h0m1 2h0m1-7h0m1-1h0m0 6h0m0-4h0m0 0h0m1-1h0m1 7h0m1-7h0m0 6h0m2-5h0m0-3h0m1 5h0m0 5h0m2 3h0m2-6h0m1 1h0m1-3h0m1-1h0m0-1h0m5 3h0m2 0h0m3 1h0m2-4h0m1 6h0m0 2h0m1-9h0m1 9h0m2-2h0m0-1h0m2 1h0m3 1h0m0-5h0m2 2h0m2 1h0m0-6h0m1 10h0m1-12h0m0 11h0m4-4h0m9-5h0m2 4h0m1 7h0m1-10h0m3 3h0m0-1h0m2 4h0m2-1h0m1-2h0m1 7h0m2-4h0m1-8h0m0 11h0m1-12h0m0 13h0m1-4h0m2-3h0m1-3h0m1-2h0m1 5h0m0 0h0m1-6h0m1 5h0m0-1h0m2 7h0m0 2h0m3-9h0m0 2h0m-5 15h0m-2 5h0m-1 0h0m0 1h0m-2-6h0m-1 5h0m-3-3h0m-6-8h0m-1 10h0m-1-10h0m-2 7h0m-2-7h0m-1 3h0m-2 5h0m-1-8h0m0 0h0m-1-1h0m-1 1h0m-2-1h0m0 7h0m-1 5h0m-2 0h0m0-9h0m0-1h0m-1 0h0m-4 1h0m0 0h0m-1 7h0m-1 1h0m-1 1h0m-1-11h0m0 9h0m-4-8h0m0 10h0m0-8h0m-2 2h0m-2-3h0m0 1h0m-1 2h0m-1 2h0m0 3h0m-1-6h0m-3 6h0m-1-4h0m0 4h0m-2-8h0m-3 4h0m-2 1h0m0 1h0m0 3h0m0-11h0m-1 6h0m0-3h0m-1-2h0m0 5h0m-1-6h0m-2 10h0m0 0h0m-1-8h0m-1 5h0m-2-4h0m-1 7h0m0-7h0m-1-3h0m0 2h0m-1 5h0m0 4h0m-1-11h0m0 12h0m-2-3h0m-6-5h0m-2 5h0m-1-2h0m-1-6h0m0 7h0m-1-6h0m-1 5h0m0-5h0m-1-3h0m-1 4h0m-2-4h0m-2 5h0m-1 0h0m0 5h0m-3-9h0m0 5h0m-1-5h0m0 6h0m-1 1h0m-1-7h0m-5 7h0m0-4h0m-2-2h0m0 0h0m0 8h0m-1-10h0m0 0h0m0 5h0m-1 3h0m0 0h0m-1 4h0m-1-2h0m0-9h0m-2 11h0m-3 1h0m0-3h0m-1-1h0m-5-8h0m0-1h0m-1 11h0m-2-7h0m0 0h0m0 2h0m-2-2h0m-1 1h0m-2 6h0m0-6h0m-2-3h0m0 9h0m0-1h0m0-8h0m-1 9h0m-1-6h0m0-2h0m0 10h0m0-13h0m0 10h0m-1-3h0m-1 1h0m-1-1h0m0 6h0m-1-9h0m0 5h0m-2-3h0m-2 6h0m0-5h0m-2 5h0m-2-7h0m0-1h0m-1-2h0m0 8h0m-1 3h0m-2-4h0m0-9h0m-1 13h0m-1-3h0m-2 1h0m0-8h0m-1 8h0m-8-2h0m-1 1h0m-1-7h0m-4 0h0m-8-3h0m17 15h0m5 8h0m1-6h0m0 6h0m1-1h0m10 2h0m2-5h0m1-1h0m1 4h0m0-7h0m0 6h0m1-6h0m0 3h0m0 5h0m0-2h0m2-7h0m1 8h0m4 3h0m1-10h0m1 11h0m1-2h0m1-4h0m0 7h0m0-4h0m1-4h0m0 2h0m2-2h0m1 2h0m0 0h0m0-4h0m1 1h0m1 3h0m3 5h0m0-2h0m1-5h0m0 1h0m1-5h0m0 1h0m2 2h0m1 5h0m4-7h0m1 6h0m1-6h0m0 1h0m1 7h0m1-7h0m3 3h0m2 2h0m3 2h0m1-10h0m2 4h0m1 7h0m1-1h0m1-3h0m0 3h0m1-4h0m2 0h0m1 6h0m1-4h0m4 4h0m0-12h0m0 11h0m1-4h0m1 2h0m0-2h0m0 5h0m3 0h0m1-7h0m0-4h0m1 0h0m1 2h0m1 6h0m1 2h0m1-6h0m2-5h0m0 3h0m1 8h0m4-1h0m2-10h0m1 0h0m0 1h0m0 4h0m2 1h0m1 1h0m0-6h0m2 8h0m0-5h0m1 6h0m5-10h0m0 5h0m8 5h0m2-6h0m2 5h0m2 2h0m1-5h0m0 6h0m2-1h0m2-6h0m1 0h0m2-2h0m0 1h0m2 9h0m0-8h0m0 3h0m2 2h0m0-5h0m0 3h0m1-4h0m0-2h0m3 3h0m0 7h0m0-9h0m2 2h0m0-1h0m0 1h0m0 8h0m1 0h0m1-10h0m1 5h0m0-3h0m0-2h0m2 10h0m1-3h0m0 3h0m0-6h0m0 3h0m2-4h0m2-6h0m3 3h0m0-3h0m1 1h0m1 3h0m3-1h0m-13 16h0m0-5h0m0 4h0m-1-4h0m-1 8h0m0 1h0m-6 4h0m-1-4h0m-3-8h0m-3 0h0m-2 6h0m-2-6h0m-1 11h0m-1-1h0m-5-9h0m-1 1h0m-1-2h0m0 9h0m-1-3h0m-1-5h0m-1 9h0m-1-2h0m0-4h0m0 3h0m-1-6h0m0 7h0m-2 4h0m0-1h0m0-11h0m-2 9h0m-1 3h0m-3-9h0m0 9h0m-1-5h0m-1-7h0m-1 1h0m0 7h0m-3-3h0m0 6h0m0-1h0m-1-8h0m0 0h0m-2-2h0m-1 5h0m0 1h0m-1-4h0m-2 2h0m-1 0h0m0-4h0m-2-1h0m-1 11h0m0-11h0m-2 9h0m-2-8h0m0 0h0m0 7h0m0 2h0m0-10h0m-2 13h0m0-13h0m0 3h0m0 3h0m0-3h0m-2 1h0m-1 1h0m0 7h0m-1-4h0m-1 0h0m0 2h0m0-10h0m0 5h0m-1 3h0m-1-4h0m0 4h0m-2-6h0m-2-1h0m-2 0h0m-1 4h0m0 2h0m-2-4h0m0 3h0m0 4h0m-2-7h0m-5 7h0m0-1h0m-5-6h0m-2 2h0m0 6h0m-4-8h0m-1 8h0m0-8h0m0-1h0m0 11h0m-1-6h0m0 3h0m-1 2h0m0-12h0m-2 7h0m-1 0h0m-1-7h0m0 7h0m0-2h0m-2-5h0m-1 6h0m-1 1h0m-1-3h0m0-4h0m-1 4h0m-1 2h0m0 0h0m0 2h0m0-2h0m-2 4h0m-1-5h0m-1 2h0m0-2h0m-2 2h0m0-3h0m0-3h0m-2 4h0m0-5h0m-2 12h0m0-9h0m-2 1h0m0-1h0m-7 7h0m-5-6h0m-2-2h0m-2 4h0m-5-3h0m-1-1h0m-1 13h0m4-1h0m5 3h0m0 6h0m1-8h0m0 2h0m4 9h0m7-11h0m3 1h0m1 9h0m9 0h0m3-2h0m0 3h0m0-10h0m1 1h0m1 1h0m0-1h0m0 8h0m2-3h0m0-4h0m2-4h0m1 2h0m0-2h0m0 9h0m2-1h0m1-8h0m0 0h0m1 12h0m0-10h0m0 6h0m3 1h0m0 2h0m2-6h0m3 6h0m0-8h0m1 8h0m1-4h0m5-4h0m5 10h0m1-5h0m0-6h0m0 3h0m2-1h0m1 1h0m0-3h0m3 4h0m0 4h0m1 2h0m1-7h0m0 7h0m0-4h0m1-1h0m0 1h0m2-5h0m0 8h0m0-9h0m0 6h0m1 1h0m1-3h0m2-3h0m2 0h0m1-1h0m1 5h0m0 3h0m3 0h0m1-9h0m0 10h0m2-3h0m1-6h0m0 0h0m0 7h0m1 1h0m0-9h0m1 9h0m3 1h0m0-9h0m1 0h0m0 1h0m1 9h0m0-2h0m2-4h0m4-3h0m0 6h0m2-7h0m1 5h0m2 6h0m0-12h0m0 5h0m1-3h0m1 5h0m1-7h0m1-1h0m1 12h0m4-12h0m0 0h0m0 8h0m1 2h0m0 1h0m1-7h0m2 8h0m0-3h0m1 4h0m1-1h0m0-2h0m0-2h0m0 1h0m2 0h0m0-1h0m0 2h0m3-3h0m1-7h0m0 9h0m2-1h0m3-6h0m0-2h0m1 8h0m3-7h0m1-1h0m0 27h0m-5-1h0m-3-6h0m-1-1h0m0-4h0m-2 7h0m-3 0h0m-1-1h0m-1 0h0m0 1h0m-2-4h0m0 1h0m-1 1h0m-1-3h0m-1 3h0m-1-4h0m-2 8h0m0-5h0m-4-4h0m-1 6h0m-2 0h0m-1 4h0m-1-10h0m-1 10h0m0-10h0m-1 8h0m0-4h0m-1 7h0m0-1h0m-2-11h0m0 5h0m0 5h0m-1-5h0m0 2h0m-1-1h0m0 6h0m0-8h0m-1 0h0m0 4h0m-1-3h0m-1 8h0m-1-1h0m-1-12h0m0 10h0m0-5h0m0 1h0m0 3h0m-1-5h0m0 4h0m0-3h0m-4 2h0m0 4h0m-1-2h0m-2-4h0m-2 8h0m0-6h0m-1 3h0m-1-2h0m0 2h0m-2 3h0m0-1h0m-1-3h0m-2-6h0m-6 4h0m0-1h0m-1 4h0m-4-10h0m-1 11h0m-1-6h0m-7-4h0m-2 12h0m-1-2h0m-3-2h0m0-9h0m-1 12h0m-1-8h0m-1-4h0m-2 13h0m-1-3h0m-1-1h0m0 4h0m-3-1h0m-1-4h0m-5-5h0m-1-3h0m-1 5h0m0 6h0m-1-3h0m0-5h0m-1 3h0m-2-1h0m-10-5h0m-20 24h0m13-4h0m28 5h0m0-7h0m1 6h0m1-10h0m2 7h0m2-1h0m3 3h0m1 4h0m1-6h0m1-6h0m1 9h0m1 1h0m0-7h0m1 3h0m1 0h0m0 6h0m1-11h0m2 2h0m0-2h0m1 10h0m0-6h0m0 5h0m1-6h0m2-4h0m0 4h0m2-2h0m1 1h0m0 7h0m1-10h0m0 5h0m1 2h0m1-4h0m2-1h0m1 4h0m0 0h0m1-1h0m0-6h0m1 13h0m1-11h0m1 9h0m1-7h0m0 2h0m1-2h0m5-2h0m1 11h0m0-12h0m1 5h0m0 2h0m1 5h0m1-4h0m0 3h0m1-3h0m1 3h0m1-11h0m1 10h0m0-5h0m1-1h0m0 6h0m2 1h0m0-8h0m1 8h0m0-12h0m3 0h0m0 1h0m3 0h0m0 12h0m0 0h0m2-4h0m1-9h0m3 7h0m2 3h0m3-2h0m1-7h0m0 11h0m3 1h0m0-12h0m1 3h0m0 6h0m1 2h0m0-10h0m1 8h0m2-1h0m1-5h0m1 8h0m1-8h0m3 6h0m1 3h0m5 0h0m-1 7h0m-3-1h0m-2-4h0m0 3h0m-1-2h0m-2-1h0m-3 1h0m0 2h0m-1-1h0m0 10h0m-1-9h0m-3 2h0m0 5h0m-1-7h0m0 2h0m-2 6h0m0-2h0m-2-7h0m-3 8h0m-1 0h0m0-7h0m-1 3h0m0-3h0m0 2h0m-1-1h0m0 8h0m-1-12h0m0-1h0m-1 5h0m0 4h0m-2-8h0m-1 5h0m0 5h0m0 2h0m0-3h0m0 3h0m-1-6h0m0 0h0m-3 1h0m0-8h0m-3 4h0m0-3h0m-1 6h0m-4 2h0m-2-6h0m0 8h0m-2-7h0m-1 6h0m0-9h0m-2 3h0m0 5h0m0-4h0m0 2h0m-2 4h0m0-9h0m0 8h0m-1-6h0m-1 8h0m-1 0h0m0-6h0m-1 2h0m0-2h0m0 6h0m-2-9h0m-6 4h0m-4 3h0m-2-10h0m-1 7h0m-2 5h0m0-12h0m-1 3h0m0 4h0m-1-7h0m0 7h0m-1-2h0m-1 8h0m-1 0h0m-1-8h0m0 8h0m-2-10h0m-1 5h0m0 3h0m-1-4h0m-2 2h0m0-4h0m-1 1h0m0 7h0m-1-13h0m-5 10h0m-1-10h0m16 15h0m0-1h0m1 3h0m1 1h0m0 1h0m0-2h0m1 6h0m0-7h0m2-2h0m1 12h0m1-8h0m1 1h0m1 7h0m0 0h0m1-8h0m2 9h0m1-5h0m2 5h0m1-2h0m0-8h0m1 7h0m2 0h0m5-5h0m3 5h0m0-5h0m2-4h0m0 2h0m1 7h0m0-1h0m1-7h0m0-2h0m2 5h0m0 5h0m0 1h0m1 2h0m0-5h0m3 3h0m3-8h0m4 0h0m2-1h0m0 2h0m1 6h0m0-8h0m3 4h0m0-5h0m0-1h0m1 12h0m2-1h0m0-4h0m1 3h0m1-2h0m1 4h0m0-11h0m1 10h0m1-10h0m0 10h0m1 1h0m1-8h0m0 7h0m0-7h0m0-4h0m1 12h0m1-12h0m0 9h0m4-5h0m0 3h0m1 3h0m1 3h0m1-2h0m2-9h0m1 4h0m3-3h0m0 5h0m3-7h0m6 12h0m-10 7h0m-9 7h0m0-5h0m0 1h0m-1-1h0m-2-2h0m-1-1h0m0 1h0m-1-1h0m-1-1h0m-1 0h0m0 7h0m-1-8h0m-2 2h0m0 5h0m-1-10h0m0 7h0m0-4h0m-2 1h0m-1 7h0m-1-8h0m-3 5h0m0-2h0m-2-2h0m-2 9h0m-2-2h0m-6-6h0m-1-3h0m0 3h0m-1 2h0m0 0h0m0 0h0m-1 5h0m-1-2h0m0 1h0m-1-9h0m-1 3h0m0 6h0m0-7h0m-2 5h0m-3 0h0m-2-4h0m-2 1h0m-9-5h0m-4 0h0m-3 1h0m25 16h0m2-1h0m9-3h0m8 4h0m0-3h0m7 4h0m1-5h0m5 2h0m0 3h0m0 0h0m3 0h0m1-2h0m0-2h0"/><path id="k3" d="M249 288h0m23 5h0m1 0h0m3-1h0m10-1h0m0-5h0m1 5h0m6 2h0m10-3h0m13-5h0m19 0h0m20 4h0m8 12h0m-5-7h0m0 5h0m0 0h0m-1 0h0m-1 4h0m-1-3h0m-2-3h0m0 5h0m-3 4h0m-2-5h0m0-2h0m-1 7h0m-1-1h0m-1-11h0m0 1h0m0-1h0m-2 13h0m-1 0h0m-2-4h0m0-2h0m0-6h0m0 4h0m-1-1h0m-2-2h0m-4 0h0m0-2h0m0 12h0m-1-9h0m-1 9h0m0-8h0m0 1h0m0 6h0m-1-4h0m-1-5h0m0 3h0m-2-3h0m-1 1h0m-1 5h0m-2 3h0m-1-4h0m-1-3h0m-3 5h0m-1 4h0m0 0h0m-5-2h0m0-8h0m-1 8h0m0-11h0m-2 7h0m-1-6h0m0 6h0m0-3h0m0-3h0m-1 7h0m0 3h0m0 2h0m-1-7h0m0 5h0m-1-2h0m0-2h0m0 3h0m0-5h0m-1 8h0m0-1h0m-1-3h0m0 1h0m-1 2h0m0-2h0m-1-5h0m-1 5h0m-1-2h0m0 1h0m0-1h0m-2-2h0m0 2h0m-2 3h0m0-4h0m-1 5h0m0-4h0m0 0h0m0 4h0m-2-12h0m0 1h0m-1 5h0m-1 5h0m-1-4h0m0 3h0m0 3h0m0-1h0m-1-12h0m0 7h0m-2 2h0m-1-8h0m-3 6h0m0 0h0m-1 0h0m-1-4h0m-2 6h0m0-7h0m0 6h0m0-8h0m-1 0h0m0 11h0m-1-2h0m-1-6h0m-1 6h0m-2 1h0m0 1h0m0-5h0m-1 1h0m0-2h0m-2-3h0m-1 7h0m0 1h0m-2-9h0m-3 10h0m-3-2h0m-2-3h0m0-5h0m-1 10h0m-1-5h0m0 4h0m-4-4h0m-3 2h0m0 0h0m-2 2h0m0 1h0m-1-6h0m-12-5h0m-22 15h0m17 8h0m1 3h0m0-8h0m2 3h0m1-2h0m2 2h0m0 6h0m1-11h0m0 5h0m0 2h0m3-2h0m2 3h0m3-7h0m4 6h0m0-2h0m0 2h0m0 4h0m1-2h0m0 1h0m0-11h0m1 5h0m1 7h0m2-7h0m0 5h0m0-9h0m2 6h0m1-2h0m0 6h0m1-9h0m0 6h0m1 0h0m3-8h0m0 4h0m1 5h0m1-10h0m2 8h0m0-3h0m1 3h0m1 1h0m1 0h0m2-3h0m0 7h0m5-8h0m1 0h0m0-5h0m2 9h0m1 1h0m2-9h0m1 5h0m4 0h0m1 6h0m1 0h0m0-2h0m2 0h0m1 3h0m1-3h0m1-8h0m1 9h0m6-6h0m3 1h0m0-6h0m2 5h0m3 0h0m1-3h0m1 3h0m3 8h0m0-1h0m0-12h0m1 11h0m1-3h0m3-2h0m3 0h0m1-3h0m0 0h0m0 10h0m1-9h0m1-2h0m3 7h0m1-9h0m1 8h0m1-7h0m1 2h0m0 9h0m0-10h0m1 5h0m1-4h0m0 0h0m1-2h0m1 4h0m0 0h0m2 2h0m0-2h0m2 5h0m0-10h0m1 10h0m1-4h0m0 0h0m4-6h0m0 12h0m1-7h0m1 7h0m0 0h0m2-3h0m2 3h0m1-3h0m1 3h0m1 1h0m1-2h0m2 1h0m3 0h0m1-6h0m0-6h0m0 4h0m1 1h0m0 8h0m0-8h0m0 7h0m2-11h0m0 10h0m1-3h0m1-4h0m0 4h0m4 2h0m0 1h0m0-3h0m1-4h0m1 3h0m1 5h0m1-1h0m1 2h0m0-10h0m1 9h0m1-4h0m0 2h0m6-2h0m0 15h0m-1-9h0m-1 2h0m0 10h0m-1 1h0m-1-12h0m-2 10h0m-1-11h0m-1 8h0m-2 5h0m0-12h0m-1 10h0m0-5h0m-1 5h0m-1-2h0m0-7h0m-1-2h0m-1 8h0m-1-4h0m-1 7h0m0-10h0m-2 12h0m0-5h0m-2 1h0m0-5h0m0 7h0m-1-9h0m-1 8h0m0-3h0m0 4h0m-2 1h0m-1-10h0m0 10h0m-1-8h0m-1-4h0m0 6h0m0-6h0m-1 12h0m0-6h0m0-5h0m-3 8h0m0-9h0m0 9h0m0-7h0m-1 0h0m0 0h0m-2-2h0m-1 10h0m0-4h0m0-4h0m0 0h0m-1 9h0m0-9h0m-1 10h0m0-2h0m-1-3h0m-1-4h0m0-2h0m-1 4h0m0-3h0m0 11h0m-1-9h0m0 0h0m-1-4h0m0 0h0m-2 11h0m-1-1h0m-1 1h0m0-11h0m0 13h0m-1-8h0m0-3h0m-2 5h0m-1 2h0m-2 2h0m-1-8h0m-3-3h0m-1 11h0m-6-5h0m0-6h0m-1 7h0m-1 0h0m-1 6h0m0-7h0m-1 0h0m0 0h0m-3-3h0m0 8h0m-2-3h0m0-6h0m0 1h0m-1-2h0m-1 7h0m-2-6h0m0 8h0m0-8h0m0 10h0m-1-6h0m-1 6h0m-3 0h0m-1-2h0m-1-10h0m-4 3h0m-2 5h0m0 0h0m-1 4h0m-2 1h0m-2-4h0m-3-8h0m-1 2h0m-3 0h0m-1 1h0m-2 8h0m0 0h0m-2-8h0m-2 0h0m-2-1h0m-1 6h0m0 0h0m-1-7h0m-2 6h0m0-7h0m0 6h0m-1 6h0m0-4h0m-1 3h0m0-1h0m0 0h0m-1-7h0m0-3h0m0 12h0m0-5h0m-1 2h0m0 1h0m-3 1h0m-1 1h0m-1-10h0m-1 3h0m0-1h0m0 6h0m0-5h0m-2 3h0m-1 1h0m-1-10h0m-2 5h0m0 4h0m0-3h0m-1 7h0m-1-5h0m-2-3h0m-2-4h0m-1 1h0m0 1h0m-3-2h0m0 8h0m0-5h0m-2 9h0m-1-2h0m0-10h0m-1 12h0m0-4h0m-3-4h0m0 6h0m-1-10h0m0 3h0m0 1h0m-1 3h0m0 2h0m-1-8h0m-3 2h0m0 5h0m-1-4h0m0-1h0m-1 8h0m-1-5h0m0-1h0m0 0h0m-1 1h0m0-4h0m0 10h0m-1-7h0m-1 5h0m0-11h0m-1 11h0m0-10h0m0 11h0m-4-7h0m-1-5h0m-2 12h0m-1-5h0m0 1h0m0 3h0m-8-5h0m7 9h0m2 9h0m1-7h0m1-2h0m0 4h0m2-4h0m3 5h0m1 7h0m1 0h0m1-8h0m0 4h0m1-1h0m0 1h0m2-7h0m2 3h0m0 6h0m0-4h0m0 5h0m3-12h0m1 10h0m1-9h0m0 1h0m0 4h0m1 4h0m2 1h0m1-1h0m0-7h0m3 7h0m0-10h0m0 9h0m1-2h0m0-1h0m0-6h0m1 13h0m0-5h0m0 5h0m1-13h0m0 10h0m1-1h0m0-2h0m1 6h0m1-7h0m0 5h0m0-7h0m3 6h0m0 0h0m1-5h0m5 3h0m0-7h0m3-1h0m0 7h0m0-4h0m1 0h0m0-2h0m1 9h0m1-8h0m1 3h0m1 7h0m0-10h0m1-2h0m0 3h0m1 10h0m0-1h0m2-11h0m1 7h0m0 1h0m1-4h0m0 6h0m1-8h0m0 9h0m1-4h0m0 1h0m0 2h0m0-4h0m0 5h0m4-4h0m1-7h0m0 10h0m1-10h0m1 0h0m0 3h0m2-1h0m0 9h0m0 1h0m3-1h0m2-6h0m1 7h0m3 0h0m0-4h0m0 2h0m1-7h0m1 8h0m0-3h0m1-6h0m0 8h0m2-5h0m1 2h0m0-8h0m1 9h0m1-4h0m1 7h0m1 1h0m1-1h0m0-9h0m0 5h0m1 4h0m1-3h0m1-2h0m0 2h0m8 1h0m0 2h0m3 1h0m0-2h0m1-10h0m0 7h0m0 4h0m1-8h0m0-2h0m4 9h0m0-9h0m1 3h0m4-2h0m4 4h0m2-6h0m0 10h0m1-6h0m1-2h0m2 4h0m1 6h0m1-9h0m0 6h0m1-9h0m3 8h0m1-2h0m1-7h0m1 13h0m1-1h0m3-9h0m0 6h0m1-2h0m0-1h0m0 1h0m6-4h0m2 10h0m3-11h0m2 6h0m1 0h0m1 0h0m2-7h0m0 10h0m0-1h0m0 2h0m2-8h0m2-3h0m0-1h0m1 2h0m0 7h0m0-8h0m1 4h0m2-4h0m2 5h0m-10 13h0m-1 0h0m0-2h0m-4-1h0m0-2h0m0 6h0m-1-3h0m-2 5h0m-4 3h0m-1 1h0m0-9h0m-1 10h0m-1-3h0m-1-4h0m0-4h0m0 3h0m0-3h0m-1-2h0m0 8h0m-1-6h0m-1 6h0m-2 2h0m0 1h0m-1-1h0m0-9h0m-2 0h0m-2 5h0m-1 0h0m0 3h0m-3-9h0m-1 9h0m-1-6h0m0 1h0m-1 7h0m0-3h0m-1-7h0m-1 2h0m-4 0h0m0-3h0m-5 8h0m0-4h0m-1-1h0m-1 9h0m-2-8h0m-2-2h0m0 2h0m0 0h0m-1 2h0m0 0h0m0-1h0m-2-1h0m-1-2h0m-1-2h0m0 13h0m0-6h0m-1-7h0m-2 2h0m-1 8h0m-1 2h0m0 0h0m-3 1h0m0-3h0m-1-8h0m0 8h0m-2-1h0m0 4h0m-3 0h0m-2-11h0m-1 4h0m-1 5h0m-2-7h0m0 1h0m0 1h0m-1-3h0m0-2h0m0 0h0m-1 1h0m-1 3h0m0 5h0m-3-7h0m-1-2h0m-1 11h0m-1-9h0m-1 6h0m-1-9h0m-3 8h0m-1-5h0m0 4h0m0 6h0m0 0h0m-6-2h0m-1 1h0m0-8h0m-1 9h0m0-1h0m-2 1h0m-2-2h0m0-9h0m-2 3h0m-4 1h0m0 6h0m0-6h0m-3 3h0m0 3h0m-2-1h0m-6 1h0m-1-1h0m-1-1h0m-1 2h0m-1 1h0m-1-7h0m0 6h0m0-8h0m-1 7h0m0-2h0m-2-1h0m-1 1h0m-2-1h0m-2 2h0m-2-10h0m-3 10h0m-1-4h0m-1-4h0m0 9h0m0 2h0m-1-8h0m0-3h0m0 10h0m0 1h0m-2-13h0m0 12h0m-2-6h0m-1-1h0m-2-3h0m0 8h0m0-10h0m-1 11h0m-1 2h0m0-5h0m-2 1h0m0 4h0m0-1h0m0-5h0m0 3h0m0 1h0m-3-7h0m0 1h0m-1-1h0m0-1h0m0 8h0m0 0h0m-1 1h0m0-3h0m-2-5h0m0 3h0m-4-5h0m0 7h0m0-2h0m-2 4h0m0-1h0m-2-1h0m0-9h0m-1 11h0m0-10h0m-13 13h0m13 0h0m5 3h0m1 2h0m1 3h0m2-2h0m1-5h0m1 9h0m1-4h0m1 4h0m0 3h0m1-8h0m1 3h0m0 4h0m2-9h0m1 5h0m0 0h0m0 3h0m0-9h0m0-2h0m0 9h0m3 0h0m0-9h0m0 2h0m1 11h0m1-6h0m0 4h0m0-3h0m1 4h0m0-9h0m0 2h0m1-1h0m0 2h0m4 1h0m0 2h0m0-9h0m0 7h0m0-3h0m1 1h0m0 7h0m2-7h0m0-1h0m1-4h0m1 3h0m0 1h0m2 3h0m0 1h0m1-6h0m0 1h0m3 6h0m0-6h0m0 3h0m0-4h0m0-1h0m1 12h0m1-12h0m0 1h0m0 5h0m2 4h0m0-3h0m1-8h0m3 12h0m1-1h0m1-1h0m2-7h0m1-1h0m1 8h0m0-8h0m0 7h0m1 3h0m1-6h0m0 5h0m0-4h0m2-1h0m1-2h0m0 4h0m0-6h0m1-2h0m1 3h0m0 9h0m2-11h0m0 9h0m1-6h0m0 5h0m1-8h0m3 3h0m0 0h0m1 3h0m0 3h0m0-7h0m1 8h0m1-11h0m1 2h0m0 3h0m2 4h0m1-7h0m0 11h0m2-3h0m1 0h0m0 0h0m0 3h0m1-8h0m1-2h0m0 5h0m2-2h0m1-5h0m0 4h0m1 1h0m1 5h0m1-10h0m2 8h0m0 2h0m1-4h0m0 0h0m1-3h0m0 1h0m0 6h0m1-1h0m0 0h0m1-4h0m1-4h0m0 7h0m2 1h0m0-3h0m1 4h0m0 2h0m1-10h0m1 8h0m1-6h0m0-1h0m1 5h0m1-1h0m1 4h0m0-4h0m1-5h0m0 0h0m2 6h0m1 1h0m2 1h0m0 2h0m1-8h0m0 2h0m1-2h0m2-5h0m0 3h0m1 7h0m0-2h0m1-5h0m0 0h0m1 2h0m2 6h0m0 2h0m3-4h0m1 2h0m1-9h0m2 10h0m1-4h0m2 1h0m0-3h0m1 4h0m1-3h0m1-2h0m2 1h0m6 3h0m1 2h0m1-7h0m1 0h0m0 1h0m1-4h0m1 4h0m0 5h0m0-1h0m1-2h0m1-5h0m0 9h0m2-9h0m1 1h0m0 7h0m1-2h0m1-3h0m0-2h0m1-3h0m5 3h0m0-1h0m4 2h0m9-3h0m-13 22h0m-2-1h0m-1 5h0m-1-7h0m0 1h0m-3-4h0m-1 3h0m0-1h0m-1 2h0m0-7h0m-1 5h0m0-1h0m-2 6h0m-1-9h0m-1 12h0m-1-6h0m0 6h0m-1 0h0m0-6h0m-3 5h0m-1-12h0m-1 7h0m-1-3h0m-1-3h0m-2 3h0m-1 7h0m-2 0h0m0-10h0m-2 1h0m0 8h0m-3-4h0m-2 5h0m-1-5h0m-1-4h0m-2 10h0m-3 1h0m0-9h0m0 3h0m0 4h0m-2-9h0m-3 10h0m0-2h0m-3-2h0m-1 5h0m0-5h0m0 5h0m-1-10h0m-2 7h0m0-5h0m-4 6h0m-2-3h0m-1-5h0m0 0h0m-1 10h0m-1-5h0m-1-7h0m-1 3h0m0 3h0m0-7h0m-1 9h0m-2-9h0m0 7h0m0 3h0m-2 1h0m0 1h0m0 0h0m0 0h0m-1-11h0m0 8h0m0-2h0m-1 0h0m0-2h0m-1 6h0m-1-9h0m-2 2h0m-1-3h0m-2 12h0m-1-13h0m0 7h0m-1-6h0m-1 5h0m-1 5h0m0-9h0m-1-1h0m0 9h0m-1-3h0m0-3h0m0 6h0m-5 1h0m-1-8h0m0 0h0m-1 8h0m-2 0h0m-2-8h0m-1 10h0m0-10h0m-1 6h0m-2-3h0m0 2h0m0 1h0m-3-1h0m0 0h0m-1 2h0m0 2h0m0 0h0m0-6h0m-5-5h0m0 0h0m-1 4h0m-1 2h0m-2 4h0m0 1h0m-1-5h0m-1 5h0m0-1h0m-1-10h0m0 9h0m-1-5h0m-1-1h0m0 2h0m-1 2h0m0 3h0m0-7h0m-1 0h0m-1-4h0m-1 1h0m-1 4h0m-1 2h0m-2-5h0m-4 7h0m-5-7h0m-2 8h0m-3-10h0m-7 0h0m-9 0h0m14 14h0m10 9h0m3-3h0m3 7h0m0-1h0m1 0h0m0-12h0m1 12h0m0-6h0m1 2h0m1-1h0m1 5h0m1-3h0m2 3h0m1-7h0m1-1h0m1 0h0m0-2h0m1 3h0m1 0h0m0-4h0m2 12h0m1 0h0m1-5h0m0 4h0m1-8h0m0-3h0m0 10h0m1-8h0m0 6h0m0-3h0m1 1h0m2 4h0m0-10h0m0 7h0m1-4h0m1 4h0m1 1h0m3 4h0m1-11h0m0 8h0m1-6h0m1 6h0m0-5h0m0 5h0m2-3h0m0 2h0m1 4h0m1-1h0m1 1h0m0-2h0m0-6h0m3 4h0m2 2h0m1-9h0m2-1h0m0 1h0m2 9h0m2 0h0m2-11h0m1 12h0m1-8h0m1 5h0m1 4h0m0-6h0m0-2h0m2 7h0m1-7h0m0 8h0m1-7h0m3-5h0m0 8h0m1-4h0m0-2h0m4 2h0m0 2h0m1-4h0m0-3h0m1 1h0m0 0h0m1 12h0m2-4h0m0 3h0m1-10h0m0 5h0m1 5h0m0-7h0m1 5h0m0-6h0m1-2h0m0 0h0m1 11h0m0-5h0m0-3h0m1 1h0m1-2h0m0-3h0m1 3h0m0 4h0m1 3h0m4-7h0m4 3h0m0-2h0m1-5h0m1 10h0m0-4h0m1-6h0m1 8h0m0-7h0m2-1h0m1 12h0m2-3h0m1-6h0m2-1h0m1 10h0m0-5h0m1 2h0m1 2h0m2-9h0m0 8h0m1-5h0m1 7h0m0 0h0m2-4h0m1 3h0m2-2h0m0 4h0m0-5h0m3-1h0m1-1h0m0 2h0m1-4h0m1 8h0m1-3h0m2-8h0m1 11h0m3-4h0m1 5h0m1-7h0m-3 19h0m-2-8h0m0 10h0m-1-7h0m0-2h0m-1-1h0m0 4h0m0 6h0m0-9h0m-2 7h0m0-11h0m-1 4h0m-1 0h0m0 0h0m-1 9h0m-1-3h0m-1-9h0m-1 3h0m0-4h0m0 5h0m0 3h0m-3 4h0m-1-4h0m-1 0h0m0-6h0m-1 0h0m-2 0h0m-3 3h0m-2 2h0m-2 4h0m0-9h0m-1 5h0m-1-7h0m0 3h0m-1 9h0m0-1h0m-3-3h0m-2 4h0m0-2h0m-2 2h0m-1-3h0m0-3h0m-1 3h0m0-8h0m-3 10h0m-4-1h0m0 2h0m-3-9h0m0 2h0m-1-2h0m-2-1h0m-1-1h0m-1 6h0m-1-6h0m0 7h0m-1-5h0m-1 4h0m-1-6h0m-1 3h0m-1-2h0m-1 10h0m0-5h0m-2 6h0m-2-13h0m-3 7h0m-1-1h0m0-6h0m-2 8h0m0-6h0m-2 3h0m0-1h0m-1-4h0m0 1h0m0 1h0m0-1h0m0 10h0m-2-4h0m-1 0h0m-1-1h0m0 7h0m-3 0h0m-1 0h0m-1-9h0m0 4h0m-1 5h0m0-6h0m-6-4h0m-1 8h0m-1 1h0m-7-8h0m0-3h0m-4 7h0m-1 1h0m-1 3h0m0-10h0m-1 7h0m0-3h0m-1 0h0m0 3h0m-1 3h0m0-3h0m-1-3h0m0 4h0m-2-10h0m0 8h0m-1 1h0m-1-4h0m-1 2h0m0 2h0m0 1h0m-1-1h0m0 2h0m0-4h0m-1 5h0m-1-1h0m-1-6h0m-3-4h0m-2-1h0m0 9h0m0-7h0m-5 1h0m0 3h0m0 3h0m-1-2h0m-3-3h0m6 11h0m5 0h0m4 1h0m1 0h0m1 7h0m2-2h0m1 1h0m1-1h0m1 3h0m2-8h0m0 1h0m1 6h0m2-7h0m2 4h0m1 4h0m3-10h0m1 5h0m1-5h0m1 5h0m2-5h0m1 0h0m3 0h0m0 4h0m5 2h0m1 0h0m2-2h0m0-1h0m0 1h0m6-1h0m0-2h0m1 3h0m1 1h0m1 4h0m4-4h0m4-4h0m1 0h0m1 9h0m0-9h0m1 4h0m0 2h0m1 0h0m1-6h0m0 11h0m4-7h0m1 7h0m0-7h0m1-2h0m0 5h0m2-2h0m1 5h0m0-9h0m1 8h0m2-1h0m2-8h0m2 9h0m0 1h0m2-3h0m1-8h0m1 2h0m0-2h0m2 4h0m3-1h0m0 3h0m0-1h0m1 1h0m0-2h0m1-4h0m3 11h0m0-7h0m1-4h0m3 7h0m1-7h0m0 13h0m1-9h0m2 1h0m1 0h0m2 2h0m1-1h0m1 7h0m0-7h0m0 6h0m7-6h0m1-6h0m0 3h0m2-2h0m0 12h0m0-3h0m1-9h0m1 9h0m0-7h0m2 9h0m1-12h0m1 11h0m2-5h0m-4 15h0m-1-4h0m-2-2h0m-1 0h0m-3 1h0m-1 8h0m-1-8h0m-2 0h0m-2 2h0m-1 6h0m-2-2h0m-3 0h0m0-2h0m-1 0h0m0 2h0m-1-8h0m-1 4h0m0 3h0m-4 4h0m-1-5h0m-1-2h0m-1 2h0m-1-1h0m-1-1h0m-4-3h0m-3 1h0m-11-1h0m0-1h0m-7 4h0m-65-1h0m24 11h0m66 1h0"/><path id="k4" d="M573 290h0m9-2h0m2 2h0m0-1h0m0 1h0m2-1h0m5-4h0m0 6h0m5-1h0m1-6h0m0 2h0m0 7h0m1-4h0m1 1h0m3-6h0m3 9h0m1-3h0m1-4h0m1 6h0m20 7h0m-3 8h0m-1-3h0m-5-6h0m-2 9h0m-1-9h0m0 2h0m-2-1h0m0-5h0m0 3h0m-1 3h0m-3 2h0m-1-7h0m0 7h0m-1-5h0m-2-3h0m0 4h0m-1 4h0m-1 3h0m0-7h0m-1 1h0m0-1h0m-3-4h0m-1 1h0m-3 11h0m-1-2h0m-1 1h0m0-4h0m0 2h0m-1-3h0m0-5h0m0 2h0m-1 6h0m-1 4h0m-2-10h0m-2 5h0m0-8h0m-1 0h0m-3 9h0m0 2h0m-3 0h0m0-2h0m0-1h0m0-1h0m-2 0h0m0-1h0m0 5h0m0-8h0m-2 3h0m0-5h0m-1 11h0m0-8h0m0-2h0m0 1h0m-1 2h0m-1 4h0m-1 1h0m-3-6h0m-1 3h0m-1 6h0m-3-1h0m-10 1h0m-6-3h0m-6 1h0m-12 16h0m0-2h0m0 2h0m0-4h0m1 3h0m3-9h0m1-3h0m0 6h0m0 1h0m1-2h0m0 1h0m0 3h0m0 4h0m2-2h0m0-2h0m0 2h0m0 2h0m1-6h0m2 0h0m0 1h0m2 3h0m0-4h0m1-1h0m1 7h0m1-2h0m2-5h0m2 3h0m1-2h0m0 2h0m0-2h0m3 1h0m0 4h0m2-7h0m0 3h0m0-4h0m2-1h0m0 1h0m2-3h0m1 8h0m0-2h0m0-7h0m3 8h0m0-2h0m1 1h0m0 6h0m2-6h0m1 3h0m1 1h0m1-1h0m0-8h0m2 10h0m0-9h0m2 1h0m2 7h0m2-4h0m4 5h0m0-1h0m1-6h0m0-1h0m0 1h0m1-1h0m2-4h0m1 12h0m2-1h0m0-9h0m2 8h0m0-8h0m1 4h0m0 2h0m2-5h0m2 1h0m2 2h0m2 0h0m1-5h0m1-1h0m2 2h0m0 3h0m0-1h0m1-3h0m0 10h0m1-7h0m0 3h0m0 1h0m0-4h0m0 3h0m3 6h0m0 0h0m0-2h0m2-9h0m0 7h0m2-9h0m3 2h0m-2 12h0m-1 8h0m-1 3h0m-2-9h0m-2 1h0m-3-1h0m-1 9h0m0-7h0m0 6h0m-2 0h0m-2 1h0m0-3h0m-1 4h0m-2-10h0m-2-2h0m-1 9h0m0 2h0m-1-8h0m0 10h0m-1-8h0m0-1h0m-1 8h0m0-3h0m-1 2h0m-1-1h0m0-8h0m-3 2h0m0-4h0m-1 10h0m0-5h0m0 1h0m-1-6h0m-6 7h0m-1-1h0m0 4h0m-1-8h0m-1 7h0m-2 4h0m-1-2h0m-1-8h0m-1 1h0m0-1h0m-1 6h0m-1 4h0m-2-10h0m-1 3h0m0-2h0m-1-1h0m0 0h0m-1-1h0m-2 7h0m0 0h0m0-5h0m-2-2h0m-1 10h0m0-8h0m-1 8h0m-1-9h0m0 4h0m-2-7h0m-1 7h0m0-3h0m-2 8h0m0-12h0m0 5h0m0 1h0m-1-5h0m0 3h0m0 5h0m-1 2h0m-1-3h0m0-8h0m-1 5h0m-2-2h0m-2 6h0m-1-8h0m0 6h0m0-1h0m0-6h0m-1 3h0m-1 1h0m-1 8h0m-1-3h0m0-4h0m-1 4h0m0 2h0m-2-10h0m0 10h0m0-10h0m-2 0h0m0 5h0m0 0h0m0-6h0m-1 10h0m-1-7h0m0 9h0m-1-2h0m-1-9h0m0 3h0m-1 9h0m0-12h0m-1 7h0m-1 5h0m-8-8h0m-1 7h0m-1-3h0m-5-6h0m0 5h0m-11 5h0m-41-4h0m18 16h0m23-6h0m4 7h0m1 1h0m5-11h0m0 5h0m1-2h0m0-3h0m0 6h0m1 0h0m0-1h0m4-2h0m2 5h0m1-5h0m0-4h0m1 7h0m1 2h0m1-9h0m0 5h0m0 5h0m1-1h0m0 2h0m1 0h0m1-9h0m0 3h0m1-2h0m4 3h0m0-3h0m1 8h0m2-4h0m1-5h0m0-3h0m3 10h0m0-7h0m2 4h0m1-3h0m1 6h0m0-6h0m0-4h0m0 1h0m0 3h0m1 8h0m2-8h0m1 5h0m0-9h0m1 0h0m1 0h0m1 8h0m0 1h0m2 1h0m10-8h0m1 5h0m2-6h0m0 8h0m0-9h0m1 8h0m1 2h0m1 1h0m0-9h0m1 7h0m0 3h0m1 1h0m0-2h0m0-4h0m1-7h0m0 10h0m2-7h0m0 9h0m2-8h0m2-3h0m1 4h0m0-5h0m1 0h0m1 11h0m0-6h0m0-5h0m0 7h0m2 5h0m1-2h0m0-6h0m3 1h0m3 3h0m0 3h0m2-10h0m4 11h0m0-6h0m0 6h0m1 0h0m1-10h0m0-2h0m3 8h0m1 2h0m0-6h0m2 8h0m0 0h0m1 1h0m1-7h0m0-6h0m1 13h0m0-10h0m0 9h0m4-11h0m1 8h0m0 4h0m1-4h0m1 3h0m0-11h0m1 4h0m1 0h0m1-1h0m0 8h0m1-1h0m1-3h0m1 3h0m1 1h0m0-6h0m1 7h0m2-8h0m6 10h0m-3 10h0m-5-9h0m-1 6h0m-2-3h0m-3 1h0m-5-2h0m-4-1h0m-1-1h0m-1 6h0m-2 0h0m-2 3h0m-1-6h0m-1 4h0m-1 2h0m-2-7h0m0 7h0m-5 0h0m0-5h0m0-5h0m-1 9h0m0-7h0m-1 1h0m-1 1h0m-1 1h0m0 3h0m0 1h0m0-2h0m-5-2h0m-1 6h0m-2-7h0m-1 2h0m-1-5h0m-1 10h0m-1-4h0m-2-7h0m-1 12h0m0-7h0m-1-3h0m0 10h0m-1-6h0m-1 0h0m-4 5h0m-1-10h0m-1 11h0m-2-9h0m-2-1h0m-4 8h0m-2-1h0m0-6h0m0 0h0m-2 8h0m0-2h0m-1 1h0m-1 1h0m0-5h0m0-6h0m-4 11h0m-1-4h0m-1 2h0m-1-8h0m-1 7h0m-1 4h0m-3-4h0m-1 2h0m-1-1h0m-2 2h0m-4-6h0m0 3h0m-1-5h0m0 6h0m0-6h0m0 0h0m-2 8h0m0-12h0m-1 0h0m-3 7h0m-1 0h0m0 5h0m-2-9h0m-4 5h0m-1 5h0m0-2h0m-2 1h0m-2 1h0m-1-8h0m-1 7h0m0-11h0m-1 0h0m-2 9h0m-1-6h0m-1-1h0m0 7h0m-2-5h0m0 6h0m-1-4h0m-1 2h0m-5-2h0m-3-1h0m-1 7h0m-21-2h0m-1-6h0m0 8h0m-1-9h0m0 4h0m-7-1h0m-7 0h0m-7 1h0m-13 3h0m-8-6h0m18 9h0m1 4h0m12 6h0m4-4h0m6-1h0m1-3h0m2 10h0m7-7h0m1 2h0m0-4h0m5 2h0m0 7h0m1 0h0m3 1h0m1-4h0m3 2h0m0-10h0m2 8h0m1 2h0m3 2h0m0-7h0m0-5h0m2 4h0m1 0h0m2 2h0m0-1h0m1 0h0m1-5h0m0 4h0m3-3h0m0 8h0m1-5h0m1 2h0m0-2h0m2 0h0m1 2h0m0 6h0m6-6h0m1 4h0m0-8h0m2-1h0m0 6h0m1 2h0m1-4h0m1 5h0m1-5h0m2 1h0m2-5h0m0 6h0m1-2h0m0 3h0m1-2h0m2-3h0m1 8h0m1-7h0m3 4h0m0-2h0m3-1h0m0 5h0m2-6h0m0 2h0m0-7h0m0 10h0m3-4h0m1 4h0m1-1h0m1-7h0m0 8h0m0 1h0m3-4h0m0 5h0m1 1h0m0-8h0m1 7h0m0-1h0m1-10h0m0 8h0m1-9h0m1 5h0m1 7h0m0 0h0m0-11h0m1 12h0m0-5h0m1-3h0m0-1h0m1-3h0m2 6h0m1 5h0m1 0h0m2-5h0m3 0h0m0-1h0m1 4h0m0-1h0m1-8h0m0 5h0m1 4h0m1-3h0m0-2h0m1-2h0m0 0h0m0-1h0m1-2h0m3 13h0m0-6h0m1-6h0m0 8h0m0 4h0m0-10h0m3-3h0m0 8h0m0-5h0m1-1h0m0-1h0m2-1h0m1 1h0m1 10h0m2 1h0m1-1h0m0 2h0m1-5h0m0-2h0m1 7h0m2-1h0m1 1h0m0-12h0m1 8h0m2-5h0m1 5h0m0 2h0m1 1h0m0 1h0m0-7h0m1-1h0m1-5h0m4 13h0m1-1h0m0-2h0m1-3h0m2 4h0m0 2h0m1-4h0m0 4h0m1-3h0m4-8h0m0 3h0m2 1h0m1 7h0m0-11h0m3 2h0m2-3h0m2 2h0m2 9h0m1-2h0m0-8h0m0 0h0m7-2h0m3 9h0m1 1h0m6 11h0m-4 6h0m-1-11h0m0 6h0m-1-2h0m-1 6h0m-1-9h0m0 3h0m-2-4h0m0 7h0m-3-6h0m0-1h0m0 11h0m-1-3h0m-1-3h0m-3 5h0m0-1h0m0-4h0m-1-2h0m0 0h0m0 5h0m-2-6h0m-2 9h0m-1-2h0m-1 1h0m-1-6h0m-2 7h0m-1-3h0m0-8h0m0 2h0m-1 9h0m-4-9h0m-1-1h0m-1-2h0m0 3h0m0-1h0m0 7h0m0-3h0m-1-6h0m-1 5h0m0-2h0m-1-3h0m0 5h0m-1-1h0m0 6h0m-1-4h0m-1-5h0m-2 11h0m0-12h0m0 9h0m0-10h0m0 13h0m-2 0h0m0-5h0m-4-1h0m-2 5h0m-1-5h0m0-7h0m-1 1h0m-2 7h0m-1-4h0m-1-2h0m0-2h0m0 2h0m-2 9h0m0-3h0m-1-4h0m0 8h0m0-9h0m0 6h0m-1-6h0m0 7h0m-1 0h0m0 1h0m-1-6h0m0-5h0m-1 12h0m-2-12h0m0 7h0m-3-6h0m0 7h0m-1 4h0m-1-1h0m0-2h0m0-5h0m-1 6h0m0-2h0m-1-4h0m-2-3h0m-2 6h0m-3-6h0m0 12h0m-1-8h0m-1-5h0m-1 8h0m-3-3h0m-1-3h0m0 3h0m-2-1h0m0 0h0m-1-1h0m-1-3h0m-1 3h0m0 9h0m-1 1h0m0-12h0m0 1h0m-1-1h0m0 3h0m-1-4h0m-1 0h0m-1 6h0m0-3h0m-1 10h0m-1-3h0m-5-4h0m0-1h0m-2 8h0m0-6h0m-1 5h0m0-11h0m0 1h0m-1 11h0m-2-6h0m0-5h0m-2 0h0m-1 5h0m0 5h0m-3 1h0m0-5h0m-1-7h0m0 6h0m-3 1h0m-1-5h0m0 3h0m-1-5h0m0 4h0m0 5h0m0-1h0m0-7h0m-1 9h0m0-9h0m0 3h0m-1-2h0m-3 8h0m-1-6h0m-1 1h0m-1 2h0m0-7h0m-1 4h0m0-1h0m-1 4h0m0 5h0m0-12h0m-4 9h0m-2-10h0m-2 1h0m0 9h0m-1 0h0m-1-7h0m0-1h0m-1 3h0m0-3h0m-1 3h0m-2 0h0m0 8h0m-1-10h0m-1 8h0m-5 0h0m-1-2h0m-1 1h0m0 0h0m-10 2h0m0-12h0m-6 4h0m-14-4h0m-16 11h0m-10 12h0m12-5h0m19 1h0m0 0h0m8-3h0m1 1h0m11 0h0m3-3h0m4 9h0m0-8h0m1 10h0m0-11h0m0 2h0m1 4h0m1-5h0m0 3h0m1 1h0m1 3h0m0-8h0m1 11h0m0-8h0m5 2h0m0 2h0m1 0h0m1-7h0m0 3h0m1 9h0m0-10h0m2 1h0m2 0h0m0 5h0m1-8h0m2 0h0m3 6h0m0 5h0m1-3h0m1 5h0m1-4h0m0-6h0m2 3h0m3 3h0m1 2h0m3-6h0m0 3h0m0 3h0m2-3h0m3 0h0m0-6h0m1 5h0m2-3h0m1-2h0m0 7h0m0-6h0m1 10h0m4-13h0m3 9h0m1-6h0m0 6h0m2 2h0m2-3h0m1 3h0m1-8h0m0 4h0m2-7h0m0 8h0m2 4h0m0-6h0m0-2h0m1 0h0m0-1h0m1 8h0m0 1h0m3-6h0m1 5h0m1-4h0m1-4h0m1 0h0m3 8h0m0-2h0m3-7h0m0 3h0m0 6h0m1 0h0m1-2h0m7-4h0m2 3h0m0 4h0m0-5h0m1-7h0m1 12h0m0-12h0m0 4h0m0 6h0m1-5h0m1 2h0m1-4h0m1 1h0m1 1h0m0-2h0m3 5h0m1-4h0m0 2h0m1 7h0m0-2h0m1-9h0m1 1h0m0-1h0m2 11h0m0-8h0m1-4h0m0 10h0m1 2h0m0-9h0m0 5h0m2-2h0m1-3h0m1-1h0m1 1h0m0 7h0m2-1h0m0-2h0m0 1h0m1-9h0m4 10h0m1-10h0m1 0h0m1 6h0m3 1h0m0-7h0m2 10h0m0-7h0m0 3h0m1-5h0m0 4h0m0-4h0m1 3h0m1-3h0m0 0h0m0 9h0m0-2h0m1 5h0m1-2h0m1-9h0m1 4h0m1-6h0m0 10h0m0-7h0m1-1h0m0 4h0m1-5h0m0 3h0m2 8h0m0-6h0m1 0h0m1-4h0m0 11h0m0-11h0m1 0h0m0 0h0m0 11h0m1-8h0m1 6h0m0-8h0m4 7h0m0 3h0m1-11h0m1 0h0m0 10h0m7 1h0m-2 4h0m0-2h0m-2 3h0m0-2h0m-1 4h0m-1 2h0m-1-8h0m0 0h0m-2 4h0m-3-4h0m-1 13h0m0-6h0m-1 2h0m-2-2h0m0 5h0m-1-4h0m0 4h0m-3-8h0m-2 2h0m-3-1h0m0-5h0m0 7h0m-1 2h0m0-7h0m-3 4h0m0 3h0m-1 1h0m0 2h0m-1-8h0m-4 8h0m0 1h0m-1-9h0m-1-4h0m-1 8h0m-1 3h0m-1-2h0m0-9h0m-1 3h0m-1 7h0m-6-8h0m0 11h0m-1-7h0m0 1h0m-2 4h0m-1-1h0m0 3h0m-1-12h0m-2 10h0m-2-3h0m-1-5h0m0 3h0m-1-1h0m-1 6h0m0-8h0m0 2h0m-1 1h0m0 4h0m-5 3h0m0-11h0m0 11h0m-1-10h0m-1 2h0m-1 5h0m-1-8h0m0-2h0m-2 4h0m-2 0h0m0 4h0m0-4h0m-1 3h0m-1-5h0m-1 7h0m0 4h0m0-1h0m0 0h0m0-11h0m0 9h0m-2-5h0m0 4h0m-1 4h0m-1-6h0m-2 5h0m-1-5h0m0 2h0m-2-1h0m0 2h0m0-5h0m0 2h0m-1-7h0m-2 4h0m0 1h0m0 3h0m-1 2h0m-1-6h0m-1 6h0m0 0h0m-1 1h0m-1-3h0m-3 4h0m-1-9h0m-1-1h0m0 10h0m-3-6h0m0-4h0m-1 9h0m0-9h0m-1 5h0m0-5h0m0 3h0m-1 6h0m-1-5h0m-1-5h0m0 9h0m0-6h0m-1-2h0m-1 3h0m-1 1h0m-2-4h0m0-1h0m0 1h0m-1 1h0m0 4h0m-1-3h0m-2 9h0m0-12h0m0 8h0m-2-1h0m0-7h0m0 6h0m-1 2h0m-1 3h0m0-3h0m0-9h0m-4 12h0m0-3h0m-3-4h0m0 1h0m0-4h0m-2 7h0m0 0h0m0-5h0m-1-1h0m-3 3h0m-1 4h0m-1-8h0m0-1h0m0 5h0m0-1h0m-2 2h0m0-1h0m0-3h0m-2 1h0m0 5h0m-2-7h0m0 1h0m-7 1h0m0-4h0m-2 4h0m-47 5h0m79 8h0m0 0h0m9-3h0m0 9h0m5-9h0m1 0h0m1 3h0m4-1h0m4 1h0m2 1h0m1 1h0m1-1h0m0 1h0m0 3h0m2-5h0m3 8h0m1-11h0m6 1h0m4-1h0m1 1h0m2 1h0m2 11h0m3-9h0m0 4h0m6-7h0m2-1h0m5 9h0m6-5h0m2 3h0m3-4h0m0 5h0m0-7h0m0 8h0m2-5h0m1 7h0m1-8h0m1-2h0m0 0h0m3 6h0m1-5h0m0-1h0m1 7h0m2 5h0m1-4h0m2-5h0m1-3h0m1 7h0m1-7h0m1 4h0m1 6h0m3-5h0m0 0h0m1 2h0m2-8h0m0 4h0m3-4h0m1 1h0m3-1h0m-12 16h0m0 9h0m-2-5h0m0 2h0m-3-8h0m-3 0h0m0 1h0m-3 8h0m-2 4h0m-3-2h0m-3 0h0m-13-6h0m-1 6h0m-7-3h0m-6-5h0m-5 2h0m0-3h0m-5 11h0m-9 0h0m-3-7h0m-4 0h0m-10 4h0m-13 13h0m12-8h0m29 5h0m7 0h0m5 3h0m3 3h0m7-12h0m3 3h0m5 1h0m7-4h0m1 3h0m2-1h0m5 4h0m1-3h0m3-3h0m1 1h0m3 2h0m2-3h0m4 4h0m-14 11h0m0 7h0m-1-2h0m-2 1h0m-2-3h0m-4 2h0m0 4h0m-1-9h0m-3 12h0m1 9h0m0-2h0m1-1h0m1-1h0m0 0h0m4 4h0m0 5h0m4-11h0m-2 15h0m-1 6h0m-1-8h0m-3 2h0m-2 4h0m-7-5h0m0 14h0m3 9h0m2-10h0m1 9h0m4 2h0"/><path id="k5" d="M611 563h0m15 10h0m21-8h0m-14 9h0m-1 5h0m-7 2h0m-30 20h0m21-8h0m6-3h0m3 10h0m4-9h0m1 1h0m6 8h0m8-10h0m2 2h0m2 6h0m1-2h0m2-5h0m-2 22h0m-5-1h0m-3 1h0m-1-4h0m-1 1h0m-14 3h0m-1 2h0m-5-8h0m-14 5h0m-40 17h0m2 0h0m10-5h0m30 3h0m5-11h0m1 5h0m3-3h0m2 11h0m8-1h0m4-5h0m1-1h0m1 5h0m2-11h0m4 0h0m5 2h0m1 13h0m-13 0h0m-1-1h0m-8 10h0m-25 0h0m-4 2h0m-5-3h0m-1-1h0m-3 0h0m-1 3h0m-2-4h0m-2 4h0m-1-4h0m-3 2h0m-2 4h0m-2-7h0m-1 7h0m-1-4h0m-1 2h0m-3-7h0m-1 3h0m0 5h0m-3-5h0m0-6h0m-2-1h0m0 10h0m-3 0h0m0-5h0m-1 6h0m-1-6h0m-2 6h0m-2-1h0m-1 2h0m-11 0h0m-14-2h0m-11 2h0m6 13h0m4-1h0m15-5h0m0 8h0m0-4h0m2-1h0m0-4h0m4-3h0m2 1h0m2 2h0m2 4h0m0-7h0m0 7h0m2 0h0m4 1h0m0-2h0m0 2h0m1-2h0m0-4h0m1-3h0m1 5h0m0-1h0m2 1h0m0-3h0m4 7h0m1 4h0m0 0h0m1-9h0m0 3h0m2-3h0m0-1h0m1 7h0m0 2h0m0-2h0m2-10h0m1 6h0m0 7h0m1-13h0m0 3h0m2 1h0m1 7h0m2 0h0m1 2h0m3-6h0m2-4h0m0 8h0m1-9h0m0-2h0m2 13h0m1-7h0m1 6h0m0-10h0m2 6h0m1-1h0m6-5h0m1 11h0m0-8h0m2 0h0m2 0h0m0-2h0m1-3h0m2 10h0m1-4h0m1-2h0m1 7h0m3-6h0m3 6h0m3 1h0m9-9h0m15-1h0m24 24h0m-26-5h0m-9 4h0m0 1h0m-2-1h0m-1-7h0m-1 0h0m-3 9h0m-4-9h0m-1 2h0m-2-1h0m-1 0h0m0 3h0m-2-2h0m0 2h0m-1-4h0m-3-2h0m-1 8h0m0-4h0m-1-1h0m-1 7h0m-1 1h0m0-8h0m-2-2h0m-3 1h0m-2 3h0m0-2h0m-1-4h0m-3-1h0m-1 0h0m-1 9h0m-1-2h0m-1-1h0m-3 5h0m0-3h0m-2-2h0m-1 5h0m-1-4h0m-1 3h0m-1 1h0m-1-6h0m0-2h0m0 1h0m-2 2h0m-2-4h0m-3-1h0m-1 5h0m-2-3h0m-1-1h0m0 1h0m-3-2h0m-2-1h0m-2 10h0m0-7h0m0 7h0m-2 0h0m-3-3h0m-1 3h0m-1-3h0m-2 0h0m0-1h0m-3-2h0m-1-3h0m-1 12h0m-2-2h0m-1-7h0m-1 6h0m0 0h0m0-4h0m0 3h0m-1-8h0m0-1h0m-1 4h0m-1-2h0m0 10h0m-1 0h0m0-7h0m-1 6h0m-1 0h0m-2-11h0m-1 7h0m-32 8h0m9 12h0m0-8h0m2 1h0m2-5h0m5 0h0m1 12h0m1-11h0m7 11h0m2-4h0m5 1h0m0 0h0m0-3h0m1 2h0m1-4h0m0 2h0m0 1h0m0 0h0m1 2h0m0-3h0m1 0h0m1 4h0m0-5h0m0 3h0m2-1h0m3-6h0m1 2h0m2-4h0m4 7h0m2 4h0m0-8h0m0-2h0m2 2h0m0 0h0m2 10h0m1-11h0m0 2h0m0 5h0m1-4h0m0 2h0m0-1h0m1 6h0m1-6h0m0-6h0m1 6h0m4 3h0m0-9h0m2 2h0m0 11h0m1-13h0m0 3h0m4 3h0m0 3h0m0-6h0m0 8h0m1-6h0m5-2h0m0 3h0m0 0h0m1 5h0m3-1h0m1 2h0m1-8h0m1-4h0m0 1h0m0 2h0m0 5h0m1 0h0m1-2h0m1-4h0m0 1h0m2 5h0m1-3h0m1 5h0m0-2h0m1-4h0m0 1h0m2 4h0m0 1h0m1 3h0m1-13h0m1 12h0m2-1h0m3-5h0m1 6h0m0-12h0m0 11h0m1-9h0m0 2h0m2 1h0m2-3h0m1 0h0m0 4h0m2 6h0m1-10h0m2 0h0m0 6h0m4 0h0m0-7h0m1 11h0m1-6h0m1-1h0m1 5h0m1-5h0m3-5h0m3 10h0m4-10h0m1 3h0m1 4h0m0-1h0m2 5h0m1-5h0m0 2h0m1 3h0m2-5h0m1 0h0m0 3h0m1-2h0m0 1h0m4 3h0m4-4h0m2 2h0m1 0h0m4 1h0m2 1h0m1 2h0m0-2h0m2-1h0m1 0h0m1 1h0m2-1h0m2-4h0m3 7h0m8-6h0m0 5h0m1-2h0m21 12h0m-4 5h0m-7-7h0m-2 1h0m-7-2h0m-3 2h0m0 2h0m-1-5h0m-2-1h0m0 9h0m-1-5h0m-1 4h0m0-11h0m-1 6h0m-1 6h0m-1 0h0m-1-11h0m0 7h0m-1 5h0m-1-6h0m-2 3h0m0 3h0m-4-10h0m-2-1h0m-2 9h0m-1 0h0m0-11h0m-2 12h0m0-5h0m-4 0h0m-1 4h0m-2-7h0m0 5h0m-1 4h0m-1-10h0m-1 3h0m-2-6h0m0 2h0m-1 6h0m0 4h0m0-7h0m0-3h0m-1-1h0m-2 4h0m0 6h0m0-10h0m-1 12h0m0-2h0m0-7h0m-2 9h0m-1-8h0m-3 7h0m-1-5h0m-1 0h0m-2-5h0m-2 6h0m0-1h0m-2 6h0m0-3h0m-2-5h0m-1-2h0m0 10h0m-1-1h0m0-2h0m0 2h0m-2-3h0m0-1h0m-1 1h0m0 1h0m-1-9h0m0 7h0m-2-3h0m0 8h0m-1-8h0m0 5h0m0 0h0m-1 3h0m0-4h0m-1 4h0m-1-2h0m0-8h0m0 8h0m0 1h0m-1-5h0m-1-5h0m0 2h0m-2-4h0m-1 9h0m-1-9h0m-1 10h0m0-2h0m0 5h0m-2 0h0m0-1h0m0-8h0m-1 4h0m0-4h0m-2-3h0m0 8h0m0-2h0m-1-5h0m0 1h0m-1-1h0m-1 2h0m-2 5h0m0 2h0m-1-10h0m0 12h0m-1-6h0m-3-5h0m0 8h0m0 0h0m-1-9h0m0 5h0m0 3h0m-1-1h0m-1-8h0m0 9h0m0-2h0m0 6h0m0-1h0m-1-7h0m0 6h0m0-6h0m-1 4h0m-1-5h0m0 5h0m0 3h0m0-9h0m-1 9h0m0-12h0m-1 1h0m-2 4h0m0-5h0m-2 12h0m-2 1h0m0-1h0m-2-2h0m-1-2h0m0 1h0m-1-8h0m-1 2h0m0 2h0m0 6h0m-1-1h0m-1-4h0m-1-2h0m0 2h0m0-4h0m-1 5h0m-1-5h0m0 10h0m-3-3h0m0-3h0m-1 5h0m-1-10h0m-1 2h0m-1-2h0m-1 8h0m-3 1h0m-1 1h0m-1-4h0m-1-6h0m-1 7h0m-1-7h0m-1 0h0m-1 12h0m0-12h0m0 4h0m-1 7h0m-1-12h0m0 2h0m0 2h0m0 4h0m0-1h0m-4 0h0m-6-1h0m-1 1h0m-1 4h0m-3-10h0m-5 4h0m-6-4h0m-5 6h0m-2 6h0m-2-6h0m-1-7h0m-2 0h0m-1 11h0m2 16h0m1-4h0m5-9h0m10 9h0m6-2h0m12 6h0m2-3h0m1-10h0m2 2h0m3-1h0m1 7h0m4-6h0m0 6h0m2-4h0m0-3h0m3 6h0m0-1h0m1 5h0m1 2h0m0-8h0m0-2h0m1-3h0m2 7h0m1 0h0m1-5h0m4 10h0m0-5h0m1-2h0m0 0h0m0-5h0m1 8h0m1 5h0m4-12h0m0 4h0m0 0h0m2 5h0m2-3h0m0-1h0m0-4h0m0 1h0m1 6h0m1 4h0m1-12h0m0 9h0m0-8h0m1 8h0m0-7h0m1 6h0m1-8h0m1 7h0m1-1h0m0-4h0m1 4h0m0-3h0m0 1h0m1-2h0m1 9h0m0-7h0m1 3h0m0-5h0m0 7h0m2-1h0m1 1h0m1-6h0m2 3h0m1-3h0m0-3h0m4 1h0m0-2h0m0 5h0m1 4h0m4-2h0m1 5h0m1-11h0m1 11h0m1-8h0m0-3h0m1 0h0m0 9h0m2-10h0m0 1h0m1 9h0m0-10h0m0 8h0m0-8h0m2 8h0m1-7h0m1 3h0m0 6h0m1 2h0m0-11h0m0 1h0m4 5h0m1 5h0m1-1h0m0 2h0m1-5h0m2-2h0m0 4h0m1-10h0m0 6h0m1 0h0m0 2h0m0-7h0m1 12h0m3-1h0m0 1h0m1-8h0m1 4h0m0-2h0m1 5h0m0-10h0m1-1h0m0 8h0m1-1h0m0 2h0m1 0h0m2-6h0m0 9h0m1-11h0m0 1h0m0 10h0m1 0h0m0-13h0m3 1h0m1 12h0m0-12h0m0 5h0m1 1h0m1-3h0m1 7h0m0-7h0m1 5h0m1 0h0m0-3h0m2-2h0m0 6h0m2-10h0m1 13h0m0-11h0m1 10h0m1-3h0m4-2h0m2-3h0m1 2h0m0 1h0m1 0h0m0-6h0m1 7h0m1-7h0m1 1h0m0 11h0m4-1h0m4 1h0m0-3h0m6-7h0m0 5h0m1-8h0m0 9h0m0 4h0m1-1h0m1-6h0m2-2h0m5-1h0m1 5h0m0-6h0m0 9h0m1-3h0m0 3h0m0 2h0m1-1h0m0 1h0m0-12h0m1 11h0m0 0h0m5-2h0m0-5h0m2 7h0m9-9h0m-10 18h0m-2 6h0m-1-12h0m0 9h0m-1-7h0m-1-2h0m0 9h0m-1-10h0m-1 2h0m0 2h0m-1 1h0m0 4h0m-1-5h0m0 1h0m0-2h0m-1 1h0m0 0h0m-2 3h0m-1 0h0m-1-6h0m0 9h0m-1-5h0m-3 1h0m-3 6h0m0-4h0m-1-7h0m-1 9h0m-1-4h0m-2-3h0m0 1h0m0 3h0m-2-2h0m0-4h0m-1 7h0m-1 3h0m0-7h0m-1 6h0m-2-9h0m0 8h0m0 0h0m-1-6h0m0 2h0m-1-4h0m0 8h0m0 3h0m0-10h0m-1 9h0m-2-1h0m-1 2h0m-3-5h0m0 4h0m-1-9h0m-2 1h0m-1 1h0m-1 0h0m-1-1h0m-2 8h0m-1-2h0m-1-5h0m-1 3h0m-3 3h0m0 0h0m-1 1h0m0-10h0m-2 10h0m-2-10h0m-1 6h0m-1 6h0m-1-4h0m-1-7h0m0 3h0m-1 0h0m-1 8h0m-1-10h0m0-1h0m-1 9h0m-1-10h0m-2 11h0m-1-9h0m-1 6h0m-1-9h0m-4 3h0m-1 4h0m-1-2h0m-1-1h0m0 4h0m-1-8h0m-1 8h0m-1-3h0m-1-3h0m-2 7h0m-2 4h0m0-4h0m-2 4h0m0-7h0m-1 6h0m-1-12h0m0 7h0m-2 3h0m-1-3h0m0 2h0m-1 4h0m0-13h0m-1 1h0m-1 1h0m-2 5h0m0-3h0m-1 9h0m-6-6h0m0-3h0m-1 0h0m-1 3h0m0-4h0m-1 4h0m0 1h0m-4 4h0m-1-8h0m-1 3h0m0 0h0m0 6h0m-1-10h0m0 3h0m-1 3h0m-5 0h0m-1 2h0m-1-11h0m-2 4h0m0 3h0m-2 1h0m-1 4h0m-2 1h0m0-7h0m-1 3h0m-2-7h0m-1 7h0m-1-3h0m0-6h0m-3 5h0m0 0h0m-1-3h0m-6 0h0m-25-2h0m-2 2h0m-16 4h0m53 21h0m1-1h0m4-3h0m0-6h0m0 9h0m0-7h0m1 8h0m2-9h0m2 3h0m2 4h0m0-2h0m3-6h0m1 9h0m2 1h0m0-7h0m0 5h0m0 2h0m2-9h0m0-3h0m0 11h0m0-6h0m1 6h0m0-9h0m2 8h0m0 1h0m0-8h0m1 8h0m1-9h0m0 6h0m5 1h0m1-2h0m4-3h0m0 3h0m0 0h0m3-8h0m1 2h0m1-2h0m4 8h0m1-8h0m11 1h0m5 1h0m2-2h0m0 3h0m0 1h0m2 3h0m6-3h0m4-3h0m3 5h0m1-1h0m2-5h0m1 8h0m0-8h0m1 2h0m0 6h0m0-3h0m1-3h0m1 8h0m0-10h0m2 5h0m1 4h0m0-6h0m1-1h0m0-1h0m2 6h0m1 4h0m1-8h0m2 1h0m3 2h0m2-4h0m1 9h0m1-10h0m1 8h0m0-1h0m0-5h0m1 5h0m2 2h0m0-2h0m2 2h0m0 2h0m0-8h0m1 0h0m0 4h0m0-8h0m1 10h0m1-1h0m0-1h0m0-8h0m2 11h0m4-6h0m3-3h0m1-1h0m0 1h0m2 5h0m2-3h0m0 8h0m0-6h0m2 5h0m1-6h0m1-5h0m0 5h0m0 5h0m1-8h0m1 3h0m3 3h0m2-8h0m3 10h0m-22 6h0m-1-1h0m-2 1h0m-12 0h0m-36-1h0m-23 0h0m-7 2h0m-3-2h0m-1 8h0m-2-1h0m0-2h0m-3 0h0m-1 1h0m-2-6h0m-1 1h0m0-2h0m-1 8h0m-1 0h0m-2 2h0m-2-6h0m-1 0h0m-1 5h0m0 0h0m-2-6h0m0 2h0m-1-3h0m-1 6h0m-1 3h0m-4-11h0m-1 7h0m-1-4h0m-4 7h0m0 0h0m-2-5h0m-1 3h0m-14 18h0m10-6h0m1 6h0m1-2h0m0-6h0m1 9h0m2-4h0m0-8h0m0 6h0m2-7h0m0 4h0m0-1h0m1 1h0m1 8h0m1-12h0m0 11h0m1 1h0m0 1h0m0-12h0m1 4h0m2 8h0m0-6h0m1 5h0m0-4h0m0-8h0m0 1h0m0-1h0m2 10h0m1-10h0m0 8h0m1-2h0m2-2h0m2-4h0m1 2h0m2 3h0m4-2h0m8 2h0m-25 10h0m0 3h0m0 2h0m-4 1h0m-2 0h0m0 5h0m-1-4h0m0 1h0m-1 0h0m-2-5h0m0 4h0m-1 3h0m-1-8h0m0-1h0m0 8h0m-1-8h0m-3 7h0m-2-1h0m-2-7h0m-1 8h0m-6 2h0m-1 15h0m4-2h0m5-9h0m0 4h0m1 2h0m2-7h0m1 2h0m1 6h0m0 2h0m0-2h0m2 1h0m2-8h0m0 0h0m4 1h0m2-1h0m1 1h0m1 2h0m1-4h0m1 2h0m3 1h0m-17 20h0m-2 3h0m0-7h0m-1-5h0m-1 1h0m-1 3h0m0 6h0m-1-7h0m-1 7h0m0-1h0m0-8h0m-5 1h0m0 10h0m-2 1h0m0-4h0m0-2h0m-2-1h0m-5 1h0m-1 1h0m0-2h0m-2 3h0m-10 4h0m-8 10h0m10 3h0m1-4h0m1-6h0m1 8h0m1-7h0m1 2h0m0-3h0m4 6h0m3-1h0m3 0h0m0-1h0m6-5h0m3 11h0m-20 13h0"/><path id="k6" d="M278 401h0m71-8h0m-3 18h0m-13 2h0m-9-6h0m-1 4h0m-37 7h0m-6 0h0m0-1h0m-1-9h0m-11 10h0m-13-7h0m-19 16h0m11 3h0m25-1h0m2-5h0m0 8h0m2 0h0m0-9h0m1 6h0m0 2h0m1-3h0m0 0h0m2 2h0m0 3h0m2-8h0m1 6h0m0-9h0m1 2h0m0 9h0m0-3h0m0 3h0m0-6h0m1-5h0m1 7h0m2-8h0m0 11h0m2-7h0m2 0h0m0 4h0m1 4h0m3-2h0m0-8h0m2 5h0m4-5h0m0 2h0m1-1h0m0 8h0m1-3h0m1 0h0m0 1h0m8 2h0m3-6h0m2 4h0m3 2h0m1-11h0m8 4h0m2 3h0m5-3h0m0 4h0m8 4h0m24 3h0m-16 3h0m-13 5h0m-8-6h0m-3-3h0m-1 0h0m0 0h0m0 5h0m-2 0h0m-5 7h0m-3-2h0m0 0h0m-2-7h0m-3 3h0m0 4h0m-2-9h0m-1 9h0m0 1h0m-1-2h0m0 3h0m-1-4h0m-1 4h0m0-4h0m-1 0h0m0 2h0m-2 2h0m0-4h0m0-3h0m-1-3h0m0 10h0m-1-11h0m0 6h0m-2 2h0m0-1h0m-1-2h0m0 6h0m0-6h0m0 2h0m-1-1h0m-1 4h0m0-1h0m0-11h0m0 12h0m-1-11h0m0 11h0m0-10h0m-2 0h0m-1 6h0m-1 1h0m-2-5h0m-1 7h0m0-10h0m-3 4h0m-1 7h0m-1-5h0m-3-7h0m0 3h0m-1 3h0m-3-5h0m-3-1h0m-6 12h0m-3-1h0m4 10h0m0 1h0m11-3h0m1 0h0m1-5h0m2 9h0m1-5h0m2 3h0m1 3h0m0-10h0m1 9h0m0 0h0m1 1h0m0 2h0m0 0h0m2-5h0m0-3h0m0 4h0m2 3h0m0-6h0m2 3h0m2 1h0m1 1h0m1 0h0m3-6h0m2-4h0m0 5h0m1 5h0m0-6h0m1 2h0m1 7h0m1-13h0m0 13h0m0-4h0m0-3h0m1-1h0m0-5h0m0 4h0m0 5h0m1-9h0m1 9h0m1-8h0m0 11h0m1-3h0m0 0h0m0-3h0m1-1h0m0 3h0m2 4h0m2-10h0m1 6h0m2-3h0m1 0h0m1 3h0m0-2h0m2 1h0m1-2h0m1-2h0m2 5h0m0-2h0m1 4h0m5 2h0m0-11h0m0-1h0m1 11h0m3-10h0m1 4h0m2 5h0m1-8h0m0 7h0m1 1h0m2 0h0m3-8h0m2-2h0m2 12h0m4-11h0m3 10h0m12 0h0m-3 16h0m-8-2h0m-5 1h0m0-1h0m-1-2h0m-1-2h0m-3 5h0m-4-11h0m-2 8h0m0 2h0m-2 0h0m-1 1h0m0-2h0m-2 1h0m0 0h0m-2-3h0m-1 4h0m0-11h0m-1 8h0m-1 1h0m0-4h0m0-4h0m-1 3h0m0 6h0m-2-4h0m0 3h0m-5 2h0m0-4h0m-1 1h0m0 3h0m-2 1h0m0-3h0m-1-7h0m0 0h0m-1 10h0m-2 0h0m-1-9h0m0 9h0m-1-1h0m0-10h0m-1-2h0m0 11h0m0-10h0m-1 11h0m-2-12h0m-1 4h0m0 3h0m-1 4h0m0-9h0m-2 2h0m0 5h0m-1-4h0m0 0h0m-1 7h0m-1-7h0m0 4h0m-1 4h0m0-3h0m0 0h0m-2-4h0m0-4h0m-1 1h0m0 0h0m0 3h0m-1 7h0m-1-2h0m0-5h0m-1-1h0m-1-2h0m0 7h0m0-8h0m-3 5h0m0 0h0m-2-2h0m-1 1h0m-4-4h0m0 0h0m-1 6h0m-2 1h0m-1-2h0m-2-2h0m-1-5h0m-4 7h0m-26 5h0m19 9h0m11-7h0m2 12h0m17-12h0m1 2h0m1 9h0m0-11h0m2 6h0m1-1h0m4-1h0m4 8h0m0-5h0m0-6h0m1 7h0m2-6h0m0 6h0m2-8h0m1 1h0m0 8h0m1-6h0m1-3h0m0 2h0m0 2h0m1 9h0m1-4h0m1-7h0m0 9h0m1-1h0m0-10h0m1 6h0m1 2h0m0 2h0m0 0h0m0 1h0m1 0h0m0-10h0m0 7h0m2-1h0m0-7h0m2 9h0m0-8h0m0 4h0m1 6h0m0-4h0m1 4h0m1 0h0m0-3h0m1-1h0m0-4h0m1 6h0m0-4h0m0-1h0m3 4h0m2 2h0m1-8h0m5 10h0m1-9h0m3 0h0m1 9h0m5-9h0m4 8h0m4 1h0m3-3h0m13-9h0m-13 25h0m-7-2h0m-2-9h0m-1 9h0m-1 0h0m-2-1h0m-2 1h0m0-4h0m-1-3h0m-1 7h0m-1 2h0m0-11h0m-4 2h0m-2 5h0m0 1h0m-1-8h0m0 13h0m-1-3h0m0 2h0m-1-7h0m0-1h0m-1 4h0m-1 1h0m-2-9h0m0 9h0m-1-3h0m0 6h0m0-11h0m-3 5h0m0-2h0m-1 6h0m-2-10h0m0 12h0m0-12h0m-1 3h0m0 3h0m-2-1h0m-1 0h0m-3 0h0m-1-1h0m0-4h0m-1 1h0m0 1h0m-1 0h0m-2 5h0m0-2h0m0 0h0m-4-4h0m-4 4h0m-1-3h0m-2 9h0m-7-1h0m-13 4h0m35 6h0m3-6h0m3 11h0m0-7h0m1 5h0m0-5h0m4 6h0m1-6h0m1-3h0m1-1h0m0 4h0m1 0h0m0 2h0m1 1h0m2-6h0m0 10h0m1-10h0m1 5h0m0 5h0m0-6h0m0 0h0m1 0h0m0-1h0m1 0h0m0-4h0m2 4h0m0 3h0m1 1h0m0 5h0m0-4h0m5-5h0m2 2h0m0-3h0m0 9h0m1-2h0m2 1h0m0-10h0m2 7h0m1 4h0m1-10h0m1 10h0m0-10h0m0 4h0m0-6h0m1 8h0m0 0h0m1-3h0m1-3h0m0 8h0m1-2h0m0 0h0m5-3h0m0 6h0m18 14h0m-4-8h0m-2 10h0m-4-11h0m-1 5h0m-3 3h0m0-5h0m0-4h0m-1 0h0m0 9h0m-1-9h0m0 7h0m0-6h0m-2 11h0m0-3h0m0-5h0m-1-2h0m0 9h0m-1-10h0m0 1h0m-1 8h0m0 0h0m-1-3h0m0-8h0m0 4h0m-1 7h0m0-6h0m-1 8h0m-1-6h0m-1 3h0m-1-5h0m-1-1h0m0 8h0m-1-5h0m0 5h0m0-3h0m-1-3h0m-1-1h0m-1 6h0m-1-11h0m-1 6h0m-2-4h0m-3-1h0m0 0h0m-5 2h0m0 7h0m-2-9h0m-2 3h0m-1-3h0m-3 2h0m-4 6h0m-15 11h0m30-2h0m3 4h0m9 1h0m0-7h0m0 7h0m0 4h0m1-11h0m2 2h0m1 0h0m1 1h0m1 3h0m2-4h0m1-1h0m0-3h0m0 5h0m0-1h0m2 6h0m0-4h0m1 5h0m2-9h0m1 0h0m1 9h0m1 2h0m0-6h0m2 0h0m0 1h0m1-1h0m1 2h0m0-7h0m1 5h0m0-5h0m1-1h0m1-1h0m1 9h0m1 4h0m2 0h0m0 0h0m4-11h0m6 9h0m16-3h0m-7 18h0m-11 1h0m0-4h0m-4 1h0m-3 0h0m-4-7h0m0 10h0m0-6h0m0 6h0m-2-6h0m0-3h0m-1-1h0m-2 8h0m0 2h0m-4 0h0m-2-13h0m-1 10h0m-2-8h0m0 8h0m-1-5h0m-1 5h0m-1 0h0m-1-6h0m0-2h0m-1 7h0m-3-1h0m-1 5h0m-2-11h0m-1-1h0m-4-1h0m8 19h0m6 6h0m2-8h0m2-3h0m2 9h0m7 0h0m1-9h0m1 4h0m0 7h0m0-6h0m2 4h0m1-1h0m0-3h0m0-3h0m1 0h0m1-2h0m0 5h0m0 2h0m1-1h0m0 1h0m0 0h0m0 6h0m1-2h0m0-3h0m1-6h0m0 3h0m1 2h0m2-1h0m1 1h0m1-6h0m0 12h0m1-1h0m2-2h0m0-3h0m0 4h0m1-6h0m0 7h0m1-9h0m0 3h0m2 0h0m0 5h0m0 1h0m0-9h0m1 10h0m0-1h0m1-4h0m1 0h0m0 3h0m5-3h0m0-5h0m1 6h0m1 3h0m2-7h0m1 8h0m1 0h0m5-6h0m4 3h0m11-5h0m4 7h0m1 1h0m5 0h0m20 10h0m-5 1h0m-1 1h0m-4-5h0m-1 3h0m-1 3h0m0-4h0m-1 4h0m-2-3h0m0-3h0m-2-1h0m-2 0h0m-2-5h0m-3 11h0m0-2h0m-2-5h0m0 0h0m-2 6h0m0 1h0m0-6h0m-2 1h0m-1-6h0m-2 13h0m-3-2h0m-2-9h0m0 8h0m0-2h0m-4 4h0m-3-8h0m0 4h0m-2-1h0m-3 5h0m-1-2h0m-1 1h0m0-8h0m-1 5h0m0-1h0m0 2h0m0-2h0m0 6h0m-1-2h0m0-11h0m0 9h0m0-5h0m-1 1h0m0 6h0m0-3h0m0 4h0m0-12h0m0 6h0m0 5h0m-2-4h0m-1-3h0m0-1h0m0 0h0m0 2h0m0 4h0m-1 1h0m0 3h0m-1-10h0m0 7h0m0-8h0m-3-1h0m-1 10h0m0-3h0m0 4h0m0-4h0m-1-3h0m0-5h0m0 8h0m-1 3h0m-1-2h0m-1 2h0m-2-4h0m-2-4h0m0 5h0m0-3h0m0-3h0m0 9h0m0-5h0m0-2h0m-1 6h0m0-2h0m-1-8h0m0 7h0m-1 5h0m0-6h0m0 3h0m-1 1h0m-4 0h0m-12 5h0m3 4h0m7 3h0m2-6h0m1 2h0m4 8h0m2-5h0m0-5h0m1-1h0m1 4h0m2 6h0m1-6h0m0 2h0m1-4h0m0 6h0m1-6h0m0 10h0m1-10h0m0 2h0m0 0h0m0 7h0m1-5h0m0 5h0m0-6h0m1-5h0m0 6h0m0-4h0m0 5h0m1-6h0m0 11h0m1-10h0m1 8h0m1-5h0m1-2h0m1 5h0m1 3h0m0-12h0m1 10h0m0 1h0m1-5h0m0-6h0m0 13h0m2-3h0m2-1h0m1-5h0m1 3h0m0-1h0m1-1h0m1 3h0m0-4h0m2 1h0m1 8h0m0-13h0m0 7h0m0-1h0m1-1h0m1 0h0m0 0h0m0 7h0m1-7h0m0-4h0m2 10h0m2-10h0m0 3h0m1-3h0m0-1h0m1 6h0m3-3h0m0 5h0m2-8h0m0 3h0m1 4h0m0 0h0m1 0h0m0-5h0m1 9h0m1-10h0m1 1h0m2 5h0m1-5h0m2 3h0m1 5h0m1-4h0m0 2h0m2 2h0m0 0h0m1-5h0m5 1h0m3 2h0m2 1h0m4 3h0m1-5h0m0-4h0m0 8h0m2 0h0m0 0h0m1-7h0m2 4h0m0 2h0m1-1h0m1-3h0m0 2h0m0 0h0m12 2h0m2 0h0m3 3h0m3-1h0m16 12h0m-4-1h0m0 0h0m-4-3h0m-3 5h0m-2-1h0m-2 3h0m0-7h0m-3 1h0m0-4h0m0 10h0m-3-13h0m-1 6h0m0 0h0m0 2h0m0-7h0m-1 6h0m-1 0h0m-3-1h0m0-5h0m-1 9h0m-1-3h0m-2 4h0m-1 0h0m-1-7h0m-3 4h0m-2 2h0m0 1h0m-1-11h0m0 9h0m-1 3h0m0-7h0m-1 1h0m-1 3h0m0 2h0m0-3h0m-2-5h0m-3 4h0m-2-7h0m-1 10h0m-3 0h0m-1-2h0m-2 4h0m-1 0h0m-2-8h0m-1-1h0m-1 2h0m-1 5h0m0-10h0m0 6h0m-1-2h0m-2 8h0m0 0h0m0-9h0m-2-3h0m-1 7h0m0-5h0m0 11h0m0 0h0m-2-10h0m-1 5h0m-1 3h0m0-2h0m-4 1h0m0-3h0m-1 0h0m0 4h0m-3 1h0m0-4h0m0 2h0m0-3h0m-1 2h0m0 4h0m0-2h0m0-4h0m-1 6h0m0-12h0m-2 0h0m0 0h0m-2 12h0m0-1h0m0 1h0m0-11h0m-1 3h0m-1 4h0m0 0h0m-2-1h0m0-2h0m0 5h0m-1-2h0m0 1h0m-1-9h0m-1 2h0m-2 10h0m-1-9h0m0-2h0m-1 2h0m-1 6h0m-1-1h0m-2 4h0m-4-5h0m-2-8h0m-1 0h0m-4 2h0m-4 9h0m-6-7h0m6 13h0m21 5h0m1-6h0m0 3h0m2-2h0m1-3h0m1 2h0m3 6h0m2-4h0m1-3h0m3 12h0m1-2h0m0-9h0m0 1h0m1-1h0m0 10h0m0-5h0m1-5h0m3 1h0m6 3h0m3-5h0m0 5h0m1-6h0m0 11h0m1-10h0m1 10h0m0-4h0m3 3h0m3 1h0m1-3h0m0-6h0m1 1h0m1 10h0m1-13h0m0 6h0m1-4h0m2-1h0m1 5h0m1 0h0m2 2h0m3 4h0m1-11h0m0 12h0m0-9h0m1 2h0m2-4h0m0 3h0m1 3h0m1-3h0m0 3h0m2 1h0m0 2h0m0 0h0m1-10h0m1 6h0m1-7h0m0 0h0m2 10h0m2 1h0m0-7h0m1 6h0m0-6h0m0-1h0m1 0h0m0 6h0m3-3h0m1 1h0m0 0h0m0-4h0m1 5h0m0-1h0m1-1h0m1 2h0m2-3h0m1-5h0m1 8h0m0-7h0m2 10h0m1-6h0m1 8h0m0-9h0m2 4h0m2 3h0m0-1h0m1 2h0m0 0h0m1-7h0m0 8h0m3-3h0m1-5h0m4 5h0m0-4h0m1 7h0m0-1h0m0 0h0m3 1h0m3 0h0m5-6h0m3 5h0m-3 5h0m-2 5h0m0 2h0m0-3h0m-2-6h0m-1-1h0m-4 3h0m-1 1h0m-4 5h0m-2-8h0m-1 9h0m-1 2h0m0-1h0m-1-10h0m-2 2h0m0-3h0m0 7h0m-2-5h0m-2 0h0m0 0h0m-2 3h0m-1 2h0m0-2h0m-1-3h0m0-2h0m0 2h0m-1 9h0m-1-4h0m-2 4h0m-2-9h0m-2 5h0m-6 0h0m-1-1h0m0-3h0m-2 4h0m0 0h0m0 0h0m-1-4h0m0 4h0m-1-7h0m-1 5h0m-1 4h0m-3-2h0m-10-5h0m-1-1h0m0 7h0m-3 0h0m-4-1h0m-4-4h0m-2-2h0m0 0h0m-2 3h0m-3-2h0m0 5h0m-1-1h0m-3-6h0m-1 1h0m-4 1h0m-4 3h0m-3-3h0m-2-2h0m0 5h0m69 12h0m10-2h0m5-1h0m1 10h0m0-8h0m1 5h0m0 3h0m3 1h0m3-8h0m3 5h0m1 3h0m1-5h0m3-2h0m3 6h0m12 0h0m1-6h0m-10 18h0m-2 4h0m-2-3h0m0 2h0m-3-9h0m-2 3h0m-2 6h0m0-7h0m-3 6h0m-10-3h0m3 10h0m12 9h0m2-3h0m3-2h0m2 3h0m4 3h0m1-4h0m0-8h0m3-1h0m7 12h0m6 2h0m-7 4h0m-4 7h0m-20-11h0m-5 2h0m12 24h0m2-10h0m2 7h0m4-8h0m2 0h0m1 6h0m0-3h0m2-2h0m0-2h0m4 2h0m2 7h0m10 10h0m-11 3h0m-9 1h0m-3 1h0m0-10h0m-7 14h0m3 0h0m4 11h0m3-7h0m3 6h0m1-1h0m6 7h0"/><path id="k7" d="M553 516h0m27 0h0m27 15h0m-19-5h0m-2 0h0m-2-4h0m-4 4h0m-1 5h0m-1-2h0m-1-4h0m-18 1h0m-10 1h0m-14 0h0m-26-8h0m-19 12h0m-26 13h0m7-3h0m3 4h0m13-5h0m8 4h0m3-9h0m2 4h0m0 6h0m10-2h0m2-5h0m2-5h0m0 0h0m2 3h0m8 7h0m5 0h0m11-6h0m2 1h0m0 1h0m0-5h0m1 9h0m2-1h0m6 0h0m3-1h0m1 3h0m0-12h0m3 9h0m1-7h0m0 11h0m3-2h0m1 1h0m0-7h0m0 7h0m1-5h0m0-3h0m2 2h0m2 6h0m1-5h0m3 5h0m1 0h0m1 0h0m0-2h0m0-7h0m0 8h0m2-6h0m2-2h0m0-3h0m2 3h0m0 3h0m0 2h0m1-7h0m2 12h0m0-5h0m1 5h0m1-4h0m2-1h0m1 0h0m1 0h0m1 3h0m3-2h0m1-9h0m1 8h0m2 0h0m0 5h0m0 0h0m2-7h0m4-1h0m2 8h0m26-5h0m-13 9h0m-5 7h0m-10-8h0m-1 0h0m-4-1h0m0 11h0m-1-2h0m-1-3h0m0 3h0m-2-3h0m-1-1h0m0 0h0m-3 3h0m-1-1h0m-2-7h0m-1 8h0m0-1h0m0-4h0m-1 0h0m-1 0h0m0 7h0m0-7h0m-1 9h0m-1-11h0m-1 5h0m-1 2h0m-1 2h0m0-4h0m-2-4h0m-1 5h0m-2-5h0m0 1h0m-1 0h0m-1-1h0m-1-1h0m-1 5h0m-1-5h0m0 11h0m-1 0h0m0-11h0m0 10h0m-4-12h0m-2 5h0m0-5h0m-1 3h0m-1-2h0m-1 10h0m-1-3h0m-1 0h0m0 4h0m-3-5h0m-11-7h0m-2 12h0m-3-8h0m-4-3h0m-8 1h0m-6 7h0m-1 1h0m-4-9h0m-3 0h0m-11 1h0m-1-1h0m-1 3h0m-1-4h0m0 0h0m-1 7h0m-2-2h0m-2 4h0m-4-3h0m-1 5h0m-3-2h0m-10 0h0m-5-2h0m-2 5h0m-2-3h0m-21 8h0m15-1h0m18 4h0m2-1h0m14 6h0m17 2h0m0-4h0m5 0h0m6-9h0m5 11h0m4-2h0m1-2h0m4 6h0m10-9h0m11 1h0m0 5h0m1-10h0m0 0h0m3 0h0m2 3h0m0 5h0m0-3h0m2 3h0m0-8h0m2 0h0m1 13h0m0-12h0m1 12h0m0-13h0m1 8h0m1-6h0m0 7h0m1-5h0m0 3h0m1-7h0m0 3h0m2 9h0m0-8h0m6 7h0m1 1h0m1-9h0m0 7h0m1-4h0m1-6h0m1 1h0m1 10h0m1-3h0m1-2h0m1-6h0m1 2h0m2 0h0m2 9h0m3-8h0m1 6h0m2 3h0m2 0h0m1-6h0m1-3h0m2 8h0m2-2h0m2-6h0m-5 24h0m-3-7h0m-1 7h0m-1-8h0m-2-2h0m-3 4h0m-1 2h0m0-2h0m-1 0h0m-3 4h0m-2-2h0m-1-4h0m-2 2h0m-3-1h0m0-3h0m-1 1h0m-2 0h0m-2 6h0m0-5h0m-3-1h0m0 5h0m-1-5h0m-4 0h0m0-1h0m-1 1h0m-1-2h0m-1 10h0m-1-12h0m-1 13h0m0-2h0m-1-6h0m-2-3h0m0 6h0m-2-6h0m-4 11h0m-3-10h0m-1 9h0m-4-1h0m-3 1h0m0 1h0m-3-8h0m0 3h0m-1-7h0m-3 8h0m-2-6h0m-1 10h0m0-7h0m-4-6h0m-1 2h0m-3 0h0m0 6h0m-2-7h0m-2 12h0m-1-12h0m-1 4h0m0 2h0m-2-2h0m-1 1h0m0-6h0m-2 3h0m0 7h0m-5-4h0m0-2h0m-2 6h0m0-6h0m-2 4h0m0-4h0m-2-4h0m-2 5h0m-2 5h0m-1-1h0m0-8h0m-1 11h0m0 1h0m0-7h0m-4-3h0m-1 9h0m-1-7h0m-3 3h0m-4 2h0m-4 3h0m0-5h0m0 4h0m0 2h0m3 6h0m2-4h0m1 3h0m3-1h0m1-4h0m2 7h0m1 6h0m0-8h0m1 1h0m1-3h0m1-3h0m3 6h0m4-6h0m4 13h0m1-8h0m1-3h0m4 5h0m1-1h0m2 4h0m0 0h0m1-5h0m1 5h0m4-8h0m0 5h0m2 0h0m2 3h0m1-3h0m1 5h0m0-3h0m0-6h0m1 3h0m1-4h0m1 7h0m3 3h0m0-10h0m3 4h0m3 4h0m1-5h0m4-5h0m0 7h0m4-7h0m4 11h0m1-10h0m2 2h0m3 4h0m2-2h0m0 6h0m1 2h0m3-9h0m0 1h0m0 2h0m0-1h0m2-1h0m0 8h0m0-4h0m2-8h0m0 10h0m1-2h0m0-6h0m2 6h0m1 3h0m2 0h0m2-1h0m0-6h0m1 1h0m1 1h0m1 6h0m0-2h0m0 2h0m2-9h0m0 8h0m1-12h0m2 11h0m1-8h0m0-1h0m5 3h0m2 6h0m0-4h0m0 1h0m0-5h0m1 9h0m0-11h0m0 4h0m0-1h0m0 5h0m1-4h0m1 8h0m2-8h0m2 4h0m1-4h0m0 1h0m2 3h0m1 0h0m2-1h0m1 3h0m3-8h0m1 9h0m3-6h0m1 3h0m0 4h0m4-9h0m5 3h0m20 16h0m-13 2h0m0 0h0m-5-8h0m-1 10h0m-4-3h0m0-6h0m-5 7h0m-3-11h0m-1 4h0m0 8h0m0-11h0m-1 1h0m0 7h0m-1-4h0m0 4h0m-1 2h0m0 0h0m-2-9h0m0 3h0m0 3h0m-1-8h0m0 13h0m-1-6h0m0 6h0m-1-10h0m-1 6h0m-3-1h0m-1 1h0m0-7h0m-1 2h0m-4-3h0m0 3h0m-1-2h0m-1 1h0m-1 1h0m-2 0h0m-2-3h0m-2 2h0m-5 3h0m-4 7h0m0-6h0m0 0h0m-2-4h0m-2 0h0m-1-1h0m-1 6h0m-1-4h0m-2 6h0m-39-8h0m-3 0h0m-4-1h0m-2 3h0m-16-4h0m83 16h0m3 9h0m4 2h0m14-7h0m3-4h0m2 4h0m0 4h0m3-3h0m0-5h0m1 11h0m1-1h0m1-1h0m0-9h0m0 10h0m2-5h0m1 5h0m1-11h0m0 3h0m1 7h0m1 2h0m1-2h0m2 1h0m0-9h0m5 1h0m2 1h0m7 0h0m0 5h0m1-5h0m4 6h0m0 1h0m1-2h0m6 0h0m1 1h0m0-1h0m23 17h0m-12-2h0m-1-2h0m-1-9h0m-7 11h0m0-8h0m-5 9h0m-1-5h0m-2 6h0m-1-6h0m0-3h0m0 6h0m-2-9h0m-1 9h0m-1-5h0m-1-3h0m-2 10h0m-1-10h0m0 9h0m-1-3h0m-3 4h0m0-8h0m-1 4h0m-1 1h0m-1-6h0m-2 9h0m-1-8h0m0 0h0m0 5h0m-2-2h0m-1-2h0m-2 5h0m-1-8h0m-1 8h0m0-1h0m-3-8h0m-1 2h0m-2 3h0m-1-2h0m0 6h0m-13-7h0m-8 3h0m-6-4h0m-15-1h0m28 25h0m8-7h0m6-3h0m14 3h0m4-5h0m3 8h0m0-8h0m3 4h0m1-3h0m0 10h0m1-11h0m2 3h0m1 1h0m1 5h0m4-9h0m2 1h0m0 5h0m0-1h0m2 7h0m2-12h0m4 0h0m2 1h0m4-1h0m13 6h0m-4 17h0m-7-6h0m-9-2h0m-8 1h0m-2 1h0m-20 8h0m-2-4h0m-4 0h0m-19 4h0m-3-8h0m-3 4h0m-1-7h0m-5 9h0m-12 3h0m1 6h0m3 8h0m1-6h0m6-2h0m0 2h0m4-4h0m3-2h0m4 1h0m1 2h0m2 1h0m5 7h0m0-2h0m2-7h0m1 9h0m1 0h0m6 0h0m15 6h0m-7 5h0m-5-5h0m-9 8h0m-7-9h0m-6 11h0m-3 0h0m-5-3h0m-7-4h0m0-3h0m-4 6h0m-7 0h0m-28 11h0m9-2h0m9-4h0m3 2h0m15 3h0m9-3h0m8 7h0m3 4h0m19-12h0m-37 21h0m-1-5h0m12 17h0m9-3h0"/><path id="k8" d="M501 94h0m30 16h0m0 0h0m-3-1h0m-2 0h0m0 2h0m-1-5h0m0 3h0m0 1h0m0-1h0m-1 2h0m0-4h0m0 1h0m0 0h0m-1 1h0m-1 0h0m0 0h0m0 1h0m-1-2h0m-1-2h0m0 4h0m-1-1h0m0-1h0m0 0h0m-1-3h0m-1-4h0m0 2h0m-2 4h0m0-4h0m0-1h0m0 4h0m-1-3h0m-1 2h0m0-1h0m0 4h0m-1-7h0m-2-3h0m-1 6h0m-1-5h0m0 0h0m-5-1h0m0 1h0m-1 0h0m25 14h0m1-1h0m0 1h0m1 0h0m0 2h0m0-1h0m1 0h0m0 0h0m1-1h0m1 1h0m5 3h0m0-3h0m1 7h0m0 0h0m1-6h0m1 3h0m0 1h0m0 2h0m1-1h0m0-1h0m1-1h0m1 3h0m1 1h0m0 2h0m0 0h0m0-1h0m0 0h0m1-3h0m0 0h0m0 2h0m0 0h0m1 2h0m1-1h0m1 1h0m19 14h0m0 1h0m-1 0h0m-4-1h0m0 0h0m0-4h0m0 5h0m-2 0h0m-1-3h0m0 1h0m-1-1h0m-1 1h0m0-2h0m0-3h0m-1-1h0m-1-3h0m0-1h0m0 3h0m-1-1h0m0-1h0m0 2h0m-1-2h0m-1 1h0m0-1h0m0 1h0m-2-3h0m0 2h0m-1 2h0m-1-3h0m15 14h0m4 0h0m0 0h0m2 1h0m2 11h0m2-5h0m0 2h0m1-3h0m4 4h0m0-2h0m1-3h0m1-1h0m3 2h0m0 2h0m1-1h0m5-5h0m0 4h0m3-1h0m2 0h0m3 0h0m1 2h0m7 3h0m0 0h0m3 1h0m0 0h0m6 1h0m2-3h0m4-5h0m3 8h0m24 8h0m-2 0h0m-8 3h0m-1 3h0m-3 0h0m0-4h0m-1-2h0m0 3h0m-3-6h0m0 9h0m-1-11h0m-1 5h0m-1-6h0m-1 12h0m-4-3h0m-1-6h0m-3 0h0m0 1h0m-1 7h0m0-12h0m-1 6h0m-1-2h0m-1-4h0m0 13h0m-1-13h0m0 4h0m0 4h0m-1-2h0m-1 0h0m-1 1h0m0-4h0m-1 0h0m-1 3h0m0-3h0m-1-1h0m-1-1h0m0 5h0m-3-6h0m0 5h0m-1-1h0m-2 8h0m0-5h0m0-2h0m0 3h0m-2 2h0m0-8h0m-1 11h0m0-4h0m-1-3h0m-6 5h0m-3-4h0m-1-6h0m-2 12h0m-4-2h0m0 2h0m-1 0h0m0-2h0m-1-2h0m0-7h0m0 6h0m-2-4h0m0 3h0m-1 6h0m0-7h0m-1 2h0m-2-8h0m-2 3h0m0 2h0m0 8h0m-1-6h0m0 3h0m0-8h0m0 0h0m0 9h0m0-7h0m-1-3h0m0 6h0m-1 1h0m-3 0h0m-1-2h0m-6 0h0m5 10h0m0 2h0m1 3h0m0 4h0m6-5h0m2-4h0m3-2h0m1 0h0m2 12h0m0-5h0m2 5h0m2-3h0m1 0h0m2-4h0m2 2h0m0-3h0m0-3h0m1 1h0m0 7h0m1-9h0m3 5h0m1-3h0m0 1h0m1-1h0m6 2h0m5 3h0m0 3h0m0 0h0m4 3h0m2-12h0m2 1h0m1 1h0m0 6h0m0-1h0m0-2h0m2 0h0m1 5h0m8 0h0m1-3h0m0 4h0m4-10h0m0 7h0m1-7h0m1 10h0m1-2h0m1 0h0m0-5h0m1-5h0m0 4h0m2-4h0m2 3h0m1 5h0m1 5h0m0-10h0m0 8h0m2-2h0m2-4h0m0-3h0m2 0h0m0 0h0m0 2h0m0-1h0m5 7h0m4 1h0m2-6h0m0 1h0m2 3h0m0 4h0m0-10h0m2 8h0m1-1h0m-3 4h0m-15 0h0m0 6h0m-1 4h0m-1-2h0m-1-8h0m-1 9h0m-9 0h0m-2-8h0m-1-1h0m0 5h0m-2-4h0m-1 1h0m0 3h0m0 0h0m0 2h0m-2 6h0m0-6h0m-2-5h0m-1 2h0m-1 1h0m0-2h0m-2 4h0m-2-6h0m0 5h0m-3-3h0m-3 5h0m-3-1h0m0 4h0m-4-6h0m-1-3h0m-2-2h0m-2 5h0m-3 4h0m-1 3h0m0-3h0m-2-8h0m0 3h0m0 5h0m0-1h0m-1-6h0m0-2h0m-1 5h0m-1 5h0m-5 3h0m-2-2h0m-5-10h0m-1 6h0m-1-4h0m0 8h0m-1 2h0m-2-6h0m-4 1h0m0 2h0m-1-7h0m-1 10h0m-1-2h0m-3-8h0m-1 4h0m0-7h0m2 15h0m0 12h0m1-13h0m2 11h0m0-6h0m0-1h0m0 0h0m1 2h0m0 6h0m2-1h0m0-2h0m1-4h0m1 5h0m2-3h0m0 5h0m1-12h0m0 3h0m1-1h0m1 10h0m2-9h0m1 8h0m4-3h0m1-6h0m1 4h0m2-6h0m3 10h0m0-8h0m2 6h0m4-5h0m1 8h0m3-8h0m0 3h0m3 2h0m10-2h0m1-5h0m10 8h0m12-6h0m2 2h0m0 8h0m1 0h0m0 0h0m1-13h0m1 12h0m0-9h0m0 10h0m0-5h0m0-5h0m1 3h0m0 3h0m1-5h0m1 3h0m1-1h0m-4 15h0m-1-2h0m-1-4h0m-1 0h0m-2 6h0m0-4h0m-42-2h0m-2 0h0m-1 5h0m-3-4h0m-2-1h0m-2 4h0m-1-4h0m0 2h0m-1 7h0m-2-2h0m-2-2h0m0-3h0m-2 2h0m-1-3h0m0 6h0m0 2h0m-2-9h0m-3 0h0m-1 1h0m-2 11h0m-1-7h0m-3 6h0m0-8h0m-2 8h0m-1-4h0m-1 3h0m0-1h0m-1-2h0m-5 0h0m-6 15h0m2 3h0m2-5h0m4-2h0m0 5h0m2 0h0m1-2h0m1-5h0m0-3h0m1 11h0m1-4h0m2-3h0m4 2h0m1 7h0m1-6h0m0-2h0m1 2h0m1 6h0m0-3h0m0-4h0m2 4h0m3-10h0m1 9h0m1-9h0m1 2h0m7 0h0m12 3h0m-23 15h0m-1 0h0m0-5h0m-3 3h0m-1 1h0m0-3h0m-1-1h0m-4 3h0m-2 2h0m-1 2h0m-1-5h0m-1 5h0m-1-7h0m-1-1h0m-2 3h0m-1-1h0m-2 3h0m-2 2h0m-1-7h0m-1 7h0m-3-7h0m-1 6h0m-9 6h0m-1 0h0m1 5h0m0-1h0m5-1h0m2-1h0m25 2h0m4 1h0m1 1h0m1 1h0m1-2h0m0-3h0m7 2h0m5 10h0m1-3h0m2 2h0m0-1h0m1 2h0m2-12h0m9 11h0m-6 8h0m-2 0h0m-4-2h0m-1 9h0m0-6h0m-5 3h0m0-2h0m0-5h0m-47 1h0m-2-1h0m64 16h0"/><path id="k9" d="M520 273h0m-4 0h0m-3 18h0m2-3h0m1-8h0m1 9h0m2-4h0m0 5h0m0-8h0m0 5h0m3-1h0m1 4h0m1-1h0m0 4h0m0-2h0m1-6h0m1 3h0m0 1h0m0 4h0m5-10h0m2 1h0m-3 16h0m-1-6h0m0 9h0m-2-6h0m0-3h0m-1 1h0m-2-1h0m-2 5h0m-1 3h0m-2 0h0m-3-7h0m9 21h0m1-6h0m4 1h0m0 3h0m6-4h0m2 2h0m-322 76h0m-7 10h0m1-5h0m0 5h0m11 5h0m10 12h0m-1-3h0m0 7h0m-2-6h0m0-6h0m-1 7h0m0-5h0m0 9h0m-1 0h0m0 0h0m0-1h0m-1-1h0m-4-1h0m-2 2h0m-4-10h0m-1 2h0m0 2h0m-1 0h0m-2 5h0m0-3h0m0 1h0m-1-1h0m-1 6h0m0 0h0m-1-13h0m0 4h0m-1 3h0m-3 6h0m-3-1h0m4 3h0m2 1h0m3 1h0m0 10h0m0-6h0m1 1h0m0 1h0m0-7h0m0 3h0m0-2h0m3 5h0m1-6h0m2 0h0m1 2h0m1 9h0m3-6h0m1 1h0m1-7h0m1 12h0m2-8h0m1 1h0m1-3h0m0 9h0m0-8h0m2 0h0m1 6h0m0-5h0m0-4h0m2 0h0m0 1h0m3 10h0m2-4h0m0-5h0m0 10h0m1-7h0m3 4h0m3 0h0m5 3h0m24 14h0m-5-3h0m-8 2h0m-1-10h0m-5-1h0m-1 11h0m-2 1h0m0-2h0m-5 1h0m0-2h0m-2-1h0m-1-1h0m-3 4h0m-4-4h0m-1-1h0m-1 4h0m-3-2h0m0-6h0m0-2h0m0 4h0m-1 3h0m-2 0h0m0 0h0m0-6h0m-2 1h0m0 3h0m-1 0h0m-1 3h0m0-9h0m-2 9h0m-1-7h0m-1-1h0m-5 10h0m0-7h0m-1 9h0m-3-12h0m-2 8h0m-4-8h0m-3 4h0m3 11h0m4 0h0m5 10h0m0-3h0m5-5h0m3 0h0m3-4h0m0 4h0m1 9h0m0-10h0m0-1h0m1 0h0m0 6h0m1 3h0m1 2h0m0-8h0m0 2h0m1 5h0m2-6h0m1 5h0m0-4h0m0-1h0m1 5h0m4-4h0m2-6h0m1 12h0m5-8h0m1 0h0m1-2h0m1-2h0m1 6h0m1-2h0m3-3h0m4 1h0m0 8h0m1-10h0m2 10h0m0-7h0m3 3h0m5-5h0m1 4h0m0 4h0m6-7h0m8 10h0m1 9h0m-3-1h0m-4 0h0m0-2h0m-1 7h0m-3 0h0m0-5h0m-2 0h0m-5 6h0m-1-2h0m-1-6h0m-1 1h0m-3-4h0m-2 9h0m-2-7h0m-7 2h0m0-1h0m-4 1h0m-6 3h0m-2 2h0m-1 0h0m-1-6h0m0 8h0m0-3h0m0-3h0m0-4h0m-2 9h0m0-11h0m0 5h0m-2-4h0m0 5h0m-1-2h0m-2 7h0m-1-9h0m-1-1h0m-2 6h0m-2-2h0m-1 0h0m-2-6h0m-2 5h0m0-3h0m-2 10h0m0-1h0m0-9h0m-1 9h0m-2-10h0m0 3h0m-1-3h0m-2 6h0m5 10h0m1-3h0m0 3h0m1 9h0m1 0h0m0-4h0m1-3h0m1 4h0m1-2h0m0 3h0m3 3h0m1-10h0m2 10h0m2-13h0m1 7h0m2 4h0m3-9h0m2-1h0m5 6h0m2 0h0m2 3h0m1-10h0m13 13h0m1 0h0m3-11h0m6 7h0m0-2h0m4-3h0m8 1h0m0-3h0m1 9h0m3-8h0m2 6h0m1-5h0m10-2h0m1 21h0m-4-9h0m-4 0h0m-5 6h0m-2-4h0m-7 9h0m-1-8h0m-1 5h0m-6-6h0m-1 7h0m-1-4h0m-3-3h0m-1-2h0m-1 0h0m-4 9h0m-1-7h0m-1-1h0m-1 10h0m-4-3h0m-2-5h0m-1 4h0m-5 3h0m-2-10h0m-5 4h0m-1 0h0m-4 1h0m-3 2h0m-5 1h0m-1-5h0m-6 5h0m4 11h0m1-4h0m8 4h0m0 4h0m1 3h0m6 1h0m0 0h0m1-4h0m1-8h0m1 3h0m2 4h0m2 0h0m0-5h0m1-2h0m1-1h0m2 9h0m4-8h0m4 10h0m0-1h0m1-7h0m10-2h0m0 8h0m0-6h0m1 3h0m5-4h0m2 8h0m0-7h0m1 6h0m0 4h0m2-2h0m0 2h0m1-6h0m2 6h0m2-10h0m1 3h0m1 7h0m0-8h0m1 5h0m5-9h0m4 0h0m2 11h0m17 5h0m-3 9h0m-9-4h0m-4-3h0m-1 4h0m-9-6h0m-2 4h0m-1-5h0m-2 6h0m-1-5h0m0-2h0m-3 6h0m-2 4h0m0-7h0m-1-3h0m-2 2h0m-1-3h0m-2 1h0m-1 11h0m-1-11h0m0 1h0m-14 1h0m0 10h0m-3-2h0m-1 2h0m-2-11h0m0 5h0m-4 0h0m0 6h0m-13-11h0m-10 23h0m2 2h0m6-4h0m2 4h0m8-11h0m6 11h0m1-5h0m4-8h0m1 2h0m1 2h0m0 1h0m2 6h0m2 1h0m4-10h0m0 3h0m1-4h0m0 10h0m10-1h0m1-6h0m5 4h0m0-7h0m4 10h0m11-7h0m0-2h0m1 9h0m7-6h0m2-2h0m1 1h0m0 20h0m-3-5h0m-22 0h0m-23-4h0m-16-1h0m-2 4h0m-3 6h0m-2-3h0m0 0h0m-1 5h0m-4-2h0m0-4h0m-2 7h0m-1-7h0m-2 3h0m-1-7h0m-21 24h0m5-6h0m2-4h0m1 11h0m3-13h0m1 13h0m1-4h0m0 0h0m1-3h0m0-3h0m3 2h0m2 0h0m1 0h0m4-3h0m1-1h0m3 1h0m1 1h0m0-2h0m1 2h0m-6 13h0m-2 7h0m-2-5h0m-1 3h0m0 0h0m-3 4h0m-2-2h0m-1-4h0m0 0h0m0 1h0m-2 5h0m-1-5h0m0-1h0m-1 1h0m0 5h0m-1-4h0m-1 4h0m-1 2h0m-2-4h0m-1 4h0m-1-2h0m0-4h0m-1-3h0m19 23h0"/><path id="k10" d="M1033 502h0m-3-1h0m-1 2h0m-38 13h0m3-2h0m6 2h0m1-1h0m3 2h0m3 0h0m1-2h0m0-4h0m2 4h0m2-2h0m2 2h0m1-2h0m0 2h0m0-9h0m2 5h0m0-3h0m0 0h0m1 2h0m0 1h0m1 4h0m1 1h0m0 1h0m1-1h0m0-1h0m1-1h0m1-10h0m2 10h0m0-1h0m1 2h0m0-9h0m2 8h0m0-1h0m0-4h0m2-1h0m0-2h0m1 4h0m2 1h0m0 0h0m1 0h0m0 0h0m3 4h0m0-11h0m1 6h0m2 1h0m0 0h0m1 1h0m1-7h0m0 3h0m2 9h0m2-6h0m0 5h0m0-1h0m2-2h0m-2 12h0m0 4h0m-1-9h0m-1 0h0m0 9h0m-3-4h0m0 6h0m0-9h0m-1 6h0m0-3h0m-1-6h0m0 8h0m-1-1h0m-2 1h0m-3-6h0m-4 3h0m-2-2h0m-1-4h0m-1 6h0m-2-2h0m-1 1h0m0 7h0m0-3h0m-1-3h0m-2 4h0m0 1h0m-2 2h0m0-1h0m-1-10h0m0 5h0m-2 6h0m0-2h0m-1-6h0m0 5h0m-1-8h0m0-2h0m-3 0h0m0 4h0m-1 5h0m-2 2h0m-1-5h0m0 1h0m-1-5h0m0 1h0m-2-3h0m0 7h0m-1 5h0m0 0h0m-1-7h0m0 0h0m0-4h0m-1 8h0m0-6h0m-2-3h0m0 13h0m-3-6h0m0 5h0m-1 0h0m-1-1h0m0-5h0m-1 1h0m-1 4h0m-1-5h0m-1 2h0m-2-2h0m-3 7h0m0-1h0m-12 14h0m0 1h0m3-8h0m3 5h0m1 2h0m2-1h0m2-5h0m0 0h0m2-2h0m0 6h0m1 0h0m0 1h0m0-2h0m0-8h0m1 6h0m0 0h0m0 0h0m1-7h0m1 1h0m0 1h0m1 7h0m1-6h0m0 1h0m0 6h0m1 1h0m0-10h0m2 8h0m1-4h0m1 7h0m2-8h0m2-4h0m0 13h0m1 0h0m0-6h0m1 6h0m1-8h0m2 5h0m0-9h0m0 3h0m1 7h0m0 0h0m1 1h0m0-2h0m1-1h0m1-8h0m0 12h0m0-10h0m2 1h0m1-4h0m4 13h0m1-4h0m2-2h0m3 0h0m0-6h0m2 2h0m0 0h0m1-1h0m1-2h0m0 3h0m1 6h0m1 1h0m0-1h0m1-2h0m0-1h0m1 7h0m1-8h0m1-1h0m0 9h0m1-7h0m3-5h0m1 4h0m1 7h0m0 0h0m3-10h0m0 6h0m1-8h0m0 5h0m2-5h0m-5 17h0m-1 5h0m-2-1h0m0-3h0m-1 1h0m0-5h0m-2 0h0m-2 7h0m-1-7h0m-1 0h0m-1 6h0m0-2h0m0-1h0m-1 5h0m0-8h0m0 0h0m-1 13h0m-1-7h0m-2 3h0m0 2h0m-1-5h0m-4 0h0m-1 7h0m0-9h0m-2 5h0m0 0h0m0-5h0m-1 9h0m0-10h0m0 7h0m-1-7h0m0 0h0m-1 7h0m0 0h0m-2-3h0m0 6h0m0-9h0m-1 2h0m-1 6h0m-1-9h0m-1 1h0m-2 5h0m-1-5h0m-1 2h0m-1-1h0m0-1h0m0 8h0m-1-8h0m0-3h0m0-1h0m-2 9h0m0 0h0m-1-2h0m0-5h0m-5 11h0m-1 0h0m0-4h0m-2-1h0m-1-3h0m0-2h0m0 1h0m0-3h0m-1 6h0m-1-7h0m-1 2h0m0 0h0m0-2h0m-1 0h0m-5 0h0m0 4h0m-2 3h0m20 9h0m2-1h0m2 3h0m1-1h0m0 1h0m6 0h0m2-1h0m4-3h0"/><path id="k11" d="M576 445h0m-3-2h0m0 1h0m-1 3h0m-1 0h0m0-2h0m-5 1h0m-15 14h0m1 1h0m2 0h0m5-3h0m0 1h0m1 2h0m1-10h0m2-2h0m0 2h0m2 4h0m0-1h0m0-3h0m2-2h0m0 2h0m0 5h0m1-7h0m0 4h0m1-2h0m0 5h0m1-5h0m0 1h0m0 6h0m4-7h0m5-3h0m-19 15h0m-2 6h0m-3-3h0m-1 3h0m-1-5h0m-1 5h0m0 1h0m-1 0h0m0-2h0m-1-1h0m0 7h0m-1-2h0m0-5h0m-2 4h0m-1-1h0m0-1h0m0 5h0m-1-4h0m0 4h0m-1-3h0m-2-2h0m0-1h0m-2 6h0m-1 0h0m0 0h0m-1 1h0m-1-3h0m-2 2h0m0 1h0m-1-4h0m0 3h0m0-2h0m-2-3h0m-2 4h0m-2 2h0m-1-5h0m-1 4h0m-2-2h0m0 0h0m9 5h0m1 0h0m1 1h0m3 1h0m10-2h0m-252 19h0m52 21h0m5 7h0m-1-2h0m0 2h0m-2-2h0m-1 6h0m0-5h0m-1 2h0m-1-2h0m-1-1h0m-1 3h0m-1 2h0m0-4h0m-1 4h0m-1 3h0m0 1h0m0-7h0m0 7h0m-1-10h0m0 2h0m0-1h0m-1 2h0m0 7h0m0-1h0m0-5h0m0 4h0m-1-1h0m0-8h0m0 11h0m-1 0h0m-1-12h0m0 5h0m0 6h0m0-2h0m-1-6h0m0 6h0m-1 2h0m-1-1h0m-1-1h0m0 3h0m-1-5h0m-2 4h0m-7-4h0m-4 18h0m0 0h0m2 0h0m1-5h0m0 0h0m1-5h0m1 11h0m0 0h0m2-2h0m0 2h0m0-7h0m0 4h0m1 3h0m1-2h0m0-9h0m1 9h0m0-2h0m0 0h0m0-5h0m0 4h0m1-7h0m0 11h0m2-9h0m0-3h0m1 0h0m0 2h0m1 0h0m0 7h0m1-5h0m1 2h0m0-2h0m1 6h0m0-8h0m3-2h0m3 1h0m0 3h0m1-4h0m3 0h0m1 17h0m-14-3h0m-1 3h0m-2-2h0m-1 2h0m-1 1h0m-3-2h0m0-1h0m-1 1h0m-3-1h0m0 4h0m0 3h0m-1 5h0m0-2h0m-1-6h0m0 2h0m0-3h0m-1 6h0m0 3h0m-1-1h0m0-5h0m-1-4h0m-2 3h0m-3 1h0m-2 1h0m-3 5h0m-2-4h0m-10 18h0m1-7h0m0 3h0m5-3h0m1 1h0m0 3h0m1-9h0m1-1h0m1 13h0m1 0h0m1-7h0m0 4h0m3-5h0m0 6h0m0-4h0m0-2h0m0-4h0m1 4h0m0-4h0m0 4h0m1 5h0m0-3h0m0 3h0m2-4h0m0 6h0m1-3h0m0-1h0m1-8h0m0 4h0m2-4h0m3 8h0m5 2h0m26-7h0m-18 23h0m0-2h0m-1-5h0m-2-5h0m-4 10h0m-2 0h0m-1-2h0m-1 1h0m0 3h0m0-8h0m-1 7h0m-2 0h0m-1-2h0m0-2h0m-3 2h0m-3 1h0m-1 3h0m-1-4h0m0-3h0m-1-2h0m0-2h0m0 0h0m0 9h0m0-5h0m-1-5h0m-1 6h0m0-6h0m0 10h0m-1-9h0m0 5h0m-2-1h0m-1 7h0m-1-3h0m0 2h0m-4-9h0m-1 0h0m-1 8h0m0 0h0m-2 2h0m0-2h0m-5-10h0m-1 10h0m-4-5h0m-12 0h0m1 10h0m8 2h0m11 8h0m1-1h0m1-11h0m3 4h0m0 8h0m0-5h0m0-1h0m1 2h0m1-8h0m6 4h0m2-2h0m0 9h0m0-6h0m3-2h0m2 10h0m1-13h0m1 8h0m1-2h0m0 0h0m1 4h0m2-5h0m1 4h0m0-5h0m1 4h0m0-3h0m2 4h0m1-1h0m2-8h0m0 7h0m0 6h0m2-6h0m7-3h0m10 5h0m1-9h0m4 10h0m1 7h0m-15-1h0m-1 10h0m0-5h0m-1 3h0m-4-3h0m-3 2h0m0-2h0m-2-7h0m-3 2h0m-1 1h0m-1-3h0m-3 5h0m0 4h0m0 2h0m-3 0h0m-1-9h0m0-2h0m-1 7h0m0-5h0m-4 9h0m-1-3h0m-1-6h0m-1 3h0m0 0h0m-2 7h0m-1-9h0m0 8h0m-1-1h0m0-3h0m0-7h0m0 2h0m-3 11h0m-1-1h0m0-11h0m0 3h0m0 5h0m-1 2h0m0-2h0m-2 0h0m0-9h0m-2 7h0m-1 5h0m-1-4h0m-2-4h0m-18 8h0m23 10h0m2 5h0m1-11h0m0 9h0m0-1h0m6-7h0m1 7h0m1 3h0m1-5h0m1 4h0m0-11h0m1 11h0m0-4h0m1 5h0m0-8h0m1 6h0m1-6h0m1-1h0m1 3h0m1-3h0m1-2h0m1 7h0m3-9h0m2 3h0m1 1h0m5-4h0m1 4h0m0-3h0m10 14h0m-6 6h0m-9 1h0m-1-1h0m-1 0h0m-2 3h0m-2-1h0m-1 0h0m-1-9h0m-1 3h0m0 0h0m-1 3h0m-1-2h0m0-4h0m0 2h0m0 6h0m-2-7h0m-1 3h0m-6-4h0m0 0h0m-2 0h0m0 3h0m-1 0h0m-2 2h0m14 22h0m1-12h0m23 3h0m-46 11h0"/><path id="Bb" d="M504 96h0m22 13h0m-9-5h0m-3-5h0m-2 1h0m-1 1h0m-2 0h0m17 11h0m7 1h0m2 7h0m1-3h0m1-1h0m0 1h0m0 0h0m1 2h0m1-3h0m2 0h0m0 4h0m1 5h0m0-6h0m4 3h0m1 3h0m3 0h0m16 12h0m-8-4h0m-8-4h0m13 16h0m6-5h0m9 10h0m3-3h0m2 6h0m0-9h0m10-1h0m2-1h0m11 9h0m4 1h0m3 0h0m8 7h0m-4-4h0m-2 12h0m-5-5h0m-13-6h0m0 9h0m-2 1h0m-1-6h0m-1-1h0m-12 7h0m-5-2h0m0-2h0m-12 0h0m-4 13h0m8-3h0m11 9h0m3-10h0m4 8h0m1-6h0m2 1h0m1 3h0m2-9h0m1 12h0m3-11h0m5 0h0m1 7h0m1-4h0m4 2h0m3-2h0m5 0h0m2 2h0m2-3h0m24 23h0m-2 1h0m-1-1h0m-15-9h0m-1 5h0m-4-7h0m0 8h0m-8 1h0m-5-4h0m-1-4h0m-3 1h0m-1 2h0m-4 7h0m-5-8h0m-4 8h0m-1-12h0m-2 4h0m-1 7h0m-16-6h0m0 7h0m-1-7h0m-2-4h0m-2 8h0m7 17h0m9-8h0m10 1h0m3-2h0m5-3h0m9 0h0m28 0h0m2 4h0m1 3h0m3 0h0m1-3h0m1-4h0m1 7h0m-64 17h0m-3-1h0m-3-6h0m-5-1h0m-20 8h0m8 13h0m0-3h0m3 5h0m7-4h0m1-4h0m4 1h0m3 3h0m6-2h0m-6 12h0m-8 1h0m-11 1h0m-5-2h0m-12-3h0m-5 14h0m0 8h0m3 3h0m39-3h0m1 2h0m4 2h0m3-2h0m15 16h0m-2-12h0m-336 19h0m17 8h0m307-4h0m1-3h0m0-1h0m5 2h0m1 6h0m0-6h0m5 5h0m1-3h0m2-1h0m1 4h0m7 1h0m14 4h0m-3 8h0m-15 1h0m-10-7h0m-7 7h0m-3-9h0m-8 9h0m-2-3h0m-4-3h0m-41-1h0m-2 0h0m-4-2h0m-1-1h0m-7 9h0m-238-4h0m-3 2h0m0-8h0m-1 11h0m0-7h0m0-4h0m-1 6h0m0 0h0m-16 3h0m-1-2h0m-2 1h0m-9 2h0m-11 15h0m2-1h0m4-3h0m0 5h0m3-5h0m2-2h0m6 1h0m3-2h0m2-3h0m2 6h0m1 5h0m1-12h0m9 9h0m2-7h0m3-1h0m34 10h0m3 1h0m4-3h0m1 0h0m5-1h0m4 3h0m4-3h0m1 1h0m0 3h0m1-3h0m2-3h0m4 6h0m2 0h0m16-2h0m5-3h0m2 3h0m2-4h0m3-1h0m1 4h0m2-6h0m6 2h0m162 4h0m1-8h0m3 2h0m1 7h0m0-4h0m8 6h0m3-8h0m1-5h0m7 7h0m0 4h0m1-1h0m6-4h0m2 4h0m14-8h0m5-2h0m6 5h0m7-1h0m1 3h0m1-2h0m0 2h0m1 5h0m4-7h0m2-3h0m2 7h0m0 5h0m-2 12h0m-5-1h0m-6-1h0m-2 3h0m-5-3h0m-6-4h0m-3-4h0m-3 5h0m-6 0h0m-2-7h0m-11 12h0m-1-11h0m-11 11h0m-4-8h0m-1 3h0m-3 4h0m-8-7h0m-1 7h0m-2-4h0m-1-4h0m-1 0h0m-8 6h0m-6-4h0m-5 3h0m-125-2h0m-8-6h0m-3 1h0m-4 9h0m-1-9h0m-1 9h0m-2-7h0m0 3h0m-3 2h0m-2-3h0m0 5h0m-3-8h0m-2 5h0m-2 1h0m-3-2h0m-2-3h0m-3 1h0m-4 1h0m-1-4h0m-2 1h0m-1 1h0m-1-3h0m-1 6h0m-5 7h0m-7-13h0m-3 1h0m-1 6h0m-1-6h0m-3 1h0m-1 1h0m-13 6h0m-2 0h0m0 4h0m0-10h0m-12 2h0m-3-1h0m-3 1h0m-1 3h0m-2 4h0m-1-3h0m-4 4h0m-9-12h0m-1 9h0m0-5h0m-8 7h0m-1-2h0m-1 3h0m-1-6h0m-3 4h0m-1-5h0m0-2h0m-3 1h0m-1-1h0m-7 4h0m0-5h0m-4 6h0m0 3h0m-2-12h0m-2 7h0m-1 4h0m-2 1h0m-10 1h0m0-3h0m-2-3h0m-3 5h0m-7 11h0m1 4h0m4-3h0m4 1h0m3 2h0m5 0h0m1-11h0m14 0h0m1 4h0m1 1h0m8 5h0m5-12h0m9 0h0m1 0h0m1 0h0m1 5h0m1 6h0m1 0h0m1-8h0m21 2h0m3 7h0m3-1h0m5-1h0m2 3h0m2-11h0m0 9h0m5-1h0m1-2h0m7 0h0m1 5h0m1-6h0m3 0h0m5-6h0m1 11h0m4-2h0m2-2h0m0-7h0m6 1h0m2-2h0m2 6h0m4-2h0m1 4h0m7 3h0m3-8h0m4 1h0m1-1h0m0-2h0m3 0h0m103 5h0m13-5h0m8 12h0m6-2h0m6 2h0m26-11h0m2 6h0m0-3h0m2-4h0m2 2h0m3 4h0m1 5h0m1-3h0m4 1h0m2 3h0m3-7h0m1-2h0m13 7h0m2-1h0m0-6h0m3 3h0m3-4h0m3 10h0m5-10h0m4 3h0m9 3h0m1-3h0m2 4h0m2 0h0m2-1h0m1 0h0m2-3h0m1 2h0m3-7h0m4 3h0m2 4h0m4-2h0m2 5h0m11 12h0m-3-3h0m-24 3h0m-1 0h0m-1-9h0m-5 4h0m-8 3h0m0 1h0m-6 0h0m-5-4h0m-2 7h0m-8 2h0m-9-11h0m0 1h0m-2 7h0m-5 1h0m-3-10h0m-2 1h0m-1-2h0m-3 3h0m-5 6h0m-3-4h0m-2 3h0m-1-6h0m0 11h0m-2-12h0m-1 5h0m-1 5h0m-1 0h0m-4-4h0m0 2h0m-3 2h0m-2-1h0m-1 1h0m-2-3h0m-1-3h0m-4-1h0m-1 8h0m0-2h0m-1 1h0m0-1h0m-4 3h0m-2-7h0m-4-3h0m-2 3h0m-1-6h0m-5 13h0m-9-9h0m-8-1h0m-3 8h0m-1 1h0m0-6h0m-8 3h0m0-6h0m-19 1h0m-14 3h0m-5 1h0m-3-3h0m-4-4h0m-10 6h0m-1-1h0m0-6h0m-9 6h0m-3 6h0m-26 1h0m-3-4h0m0 2h0m-1 1h0m-7-11h0m-1 12h0m0-12h0m-2 11h0m0-8h0m-2-1h0m-8 10h0m-2-1h0m-2-4h0m-6-1h0m0-1h0m-6 5h0m-1-2h0m-2 2h0m-2-10h0m-1 1h0m-3 11h0m-2-13h0m-2 4h0m-1-1h0m-7 6h0m-5-4h0m-6-3h0m-2-2h0m-7 2h0m-2 6h0m-1-6h0m-1 0h0m-5 5h0m-3 2h0m-3-1h0m-4 3h0m-1-7h0m-2-4h0m-1 12h0m-2-2h0m-7 0h0m-1-6h0m-6 4h0m0-2h0m-2-1h0m-1 5h0m-10-3h0m-1 4h0m-1-5h0m0 1h0m-3-5h0m-2 11h0m-4-3h0m0-8h0m-1 0h0m-2 11h0m0-3h0m-1 3h0m-1-6h0m0-5h0m-2 3h0m-4-2h0m0 2h0m-1-2h0m-2 9h0m-1-1h0m3 10h0m3-4h0m1 9h0m4-2h0m2-10h0m1 8h0m2 0h0m0 1h0m3-1h0m0-4h0m9 2h0m6 6h0m1-2h0m1-5h0m0 0h0m0 6h0m2-3h0m9 3h0m1-2h0m1-3h0m2-6h0m3 8h0m3-6h0m1 9h0m11-1h0m5-10h0m2 0h0m7 6h0m9 7h0m7-6h0m3-7h0m2 2h0m1 10h0m2-4h0m3 0h0m13-7h0m0 2h0m1 0h0m3-1h0m1 9h0m8-9h0m0 8h0m4 1h0m2-3h0m0-3h0m3 0h0m3 6h0m3-1h0m0-2h0m3 0h0m3-1h0m1-2h0m0 4h0m1-7h0m1 6h0m2-1h0m2 4h0m1-3h0m1-2h0m3 3h0m1 4h0m2-6h0m0 4h0m3-5h0m2 3h0m0 1h0m5-8h0m2-1h0m2-1h0m2 13h0m0 0h0m3-6h0m4-3h0m3-3h0m2 10h0m5 2h0m4-8h0m1-3h0m0-1h0m2 12h0m2-6h0m1 2h0m0 3h0m4-1h0m37-3h0m2-4h0m0 0h0m1-2h0m1-1h0m2 9h0m1-4h0m2 1h0m8 4h0m4 2h0m1 0h0m2-4h0m4-4h0m3-1h0m3 6h0m1-8h0m1 8h0m1-6h0m7 6h0m0-9h0m8 0h0m3-1h0m0 13h0m1-12h0m0 8h0m7 4h0m1 0h0m4-2h0m5-9h0m16 11h0m1 0h0m3-12h0m4 2h0m6 8h0m2 2h0m1-4h0m3-5h0m9 5h0m42 0h0m1 1h0m4-10h0m1 10h0m4 3h0m2-3h0m8 14h0m-6 3h0m-1-1h0m-4-7h0m-1-2h0m0-2h0m-8 6h0m-1-6h0m-2 2h0m-2 9h0m-5-1h0m0-8h0m-1 1h0m0-1h0m-1 7h0m0 2h0m-2-10h0m-1 10h0m-1-7h0m-1 2h0m-2-3h0m-8 6h0m-6-1h0m-4 1h0m-4-2h0m-5-7h0m-5-1h0m0 6h0m-2 1h0m-3-3h0m-3 6h0m-1 1h0m-6-10h0m-47 6h0m-3 6h0m-1-4h0m0-3h0m-2 2h0m-1 2h0m0-8h0m-2 7h0m-8-3h0m-2 5h0m-2-7h0m-1-1h0m-6 10h0m-5-10h0m-3-2h0m-4 6h0m-4-7h0m-7 7h0m-3-4h0m-2-2h0m0 8h0m0 0h0m-1-2h0m0-2h0m-3 1h0m-1-1h0m-1-1h0m-3 9h0m-1-6h0m-10 1h0m-2-3h0m0 1h0m-2-1h0m-2 0h0m-1 1h0m-2 1h0m-1-3h0m-1-1h0m-2 10h0m-3-13h0m-2 5h0m-2 8h0m-3-8h0m-1-4h0m0 6h0m-1-5h0m-4 0h0m-10 6h0m-8-8h0m-2 4h0m-2 1h0m0 2h0m-10 1h0m-1 2h0m-12 3h0m-6-7h0m-2-5h0m-2 10h0m-1-8h0m-1 10h0m-1-8h0m-3 7h0m-10-4h0m-6-8h0m-1 7h0m-1 4h0m-6 2h0m-1-6h0m0-7h0m-2 9h0m-3 2h0m-3-1h0m-6-6h0m-3 0h0m-6 4h0m-2-4h0m-2 7h0m-1-7h0m-1 0h0m-14 2h0m0 0h0m-3 5h0m-2-11h0m-1 1h0m-1 11h0m0-3h0m-4-3h0m-5-4h0m-7-2h0m-4 12h0m-6-9h0m-8-2h0m-6 6h0m-3-6h0m-3 0h0m-1 0h0m0 12h0m-10-2h0m-1 4h0m3 3h0m9 1h0m8 6h0m0-11h0m1 10h0m2 0h0m1-6h0m3 0h0m2-1h0m5-1h0m0 3h0m3-2h0m4-1h0m3 0h0m1 10h0m10-6h0m4-1h0m2 1h0m8-4h0m9 9h0m24-10h0m4 7h0m2 0h0m6-8h0m7 3h0m8 1h0m0-4h0m2 8h0m0 1h0m1-6h0m1-2h0m1 3h0m1 7h0m2-8h0m5-3h0m2 0h0m1 9h0m2 4h0m0-3h0m2 1h0m1-1h0m13-2h0m2-2h0m3 7h0m6-10h0m10 8h0m4-11h0m6 4h0m2 1h0m2-2h0m2 3h0m9 4h0m0-6h0m3 1h0m4 5h0m1 3h0m4-5h0m3-8h0m1 8h0m1-3h0m0 0h0m7-2h0m9 5h0m2-7h0m3 9h0m1-5h0m3 0h0m3-1h0m2-2h0m19 5h0m1-5h0m5 11h0m0-12h0m1 5h0m1 5h0m1-11h0m3 6h0m2-2h0m3-1h0m3-1h0m2 11h0m1-10h0m6 8h0m1-6h0m3 2h0m3 0h0m0-2h0m5-5h0m5 8h0m18 4h0m6-3h0m4-4h0m1-1h0m14 5h0m7 0h0m2-1h0m2 5h0m1-2h0m1-3h0m3 5h0m3-3h0m1 1h0m1-1h0m1-3h0m0-6h0m4 3h0m4 3h0m2 1h0m1-4h0m6 6h0m1-6h0m1-2h0m1 8h0m3-3h0m5-1h0m5 3h0m6 0h0m1-3h0m3 6h0m6-4h0m0 4h0m-8 11h0m0-7h0m-5 3h0m-6-3h0m-12 1h0m-2 8h0m-14-1h0m-1-9h0m-4-1h0m-2 8h0m0-4h0m-6 7h0m-1 1h0m-2-1h0m-4-11h0m-7 5h0m-1 8h0m-8-9h0m-1 6h0m-4 2h0m-3-3h0m-3 3h0m-8 1h0m-6-4h0m-2 3h0m-1-7h0m0 2h0m0-6h0m-3 5h0m-16-4h0m-2 6h0m-2 5h0m0-8h0m-4-3h0m-11 11h0m-3-4h0m-12-4h0m-20 8h0m-8-12h0m-9 4h0m-2-5h0m-4 11h0m-13-6h0m-5-1h0m0 2h0m-3-6h0m-3 10h0m-1-3h0m-4 2h0m-6-1h0m-15-5h0m-1 2h0m-1-1h0m-1 8h0m-1-11h0m0 12h0m-1-6h0m-4-2h0m-6 5h0m-3 3h0m-2-11h0m-2 9h0m0-11h0m-2 5h0m0-1h0m-7 1h0m-1-4h0m0 3h0m-9-3h0m-2 3h0m-1-2h0m-2 10h0m-4-10h0m-8 9h0m-4-4h0m-5-2h0m-1 4h0m-6 3h0m-15-5h0m-9 1h0m-2-5h0m-7-1h0m-3-1h0m-5 10h0m0 2h0m-1-2h0m-5-1h0m-2-2h0m0-6h0m-5 3h0m-1 1h0m-6-2h0m0 4h0m-3-5h0m-9-1h0m-14 3h0m-1 4h0m-3-4h0m-2 1h0m0-1h0m-12 2h0m-1 2h0m0 4h0m-2-11h0m16 13h0m2 8h0m3-7h0m0 1h0m1-3h0m4 6h0m4 0h0m1-6h0m3 8h0m1-3h0m3 5h0m1-6h0m3-4h0m6 13h0m8-5h0m4 1h0m16-4h0m9 4h0m3-6h0m1 7h0m1 3h0m4-11h0m5 9h0m1 0h0m1-11h0m2 11h0m3-4h0m0 1h0m2 0h0m1-8h0m2 13h0m4-9h0m4 6h0m5 0h0m2-2h0m1-6h0m0 6h0m1 0h0m2 5h0m4-10h0m5 2h0m2 5h0m7-3h0m0-7h0m3 7h0m3-5h0m19 0h0m0 0h0m1 1h0m16 1h0m0 9h0m0-2h0m6 0h0m2-10h0m5 2h0m1 9h0m2-1h0m1-5h0m2 3h0m0-5h0m10-2h0m4 7h0m1-3h0m3 6h0m1-7h0m1-3h0m6 3h0m6 7h0m4-12h0m4 6h0m7-4h0m4 9h0m2-2h0m3-1h0m8-3h0m3-2h0m7 0h0m6-1h0m6 5h0m1-4h0m6 1h0m2-1h0m22-2h0m1-1h0m12 7h0m5-2h0m3-4h0m4 5h0m1-6h0m2 13h0m5-11h0m2-1h0m2-1h0m15 6h0m6 0h0m2-4h0m1-1h0m12 9h0m0-7h0m4 3h0m0-4h0m8-1h0m2 6h0m3-6h0m2 8h0m2-2h0m5-2h0m-9 19h0m-1-8h0m-1 9h0m-3-10h0m-14 7h0m-11 2h0m-5 3h0m-5-3h0m-26-4h0m-39-4h0m-18 2h0m-1 5h0m-9-1h0m-1-5h0m0 1h0m-1 4h0m-2-3h0m-7-2h0m-4 2h0m-4 2h0m0-1h0m-4 0h0m-1 1h0m0 0h0m-6 0h0m-2 0h0m0-1h0m-2 7h0m-5-6h0m-3 0h0m-2 2h0m0 2h0m-6-11h0m-2 1h0m0 12h0m-5-11h0m-3 5h0m-2-5h0m-5 6h0m-1 1h0m-1-2h0m-7 6h0m-5-8h0m-1 0h0m-4 4h0m-7-4h0m-9-4h0m0 3h0m-2 8h0m-7 1h0m0-7h0m-7 6h0m0-6h0m-2-3h0m-2 2h0m-14-5h0m-2 6h0m-2-6h0m-5 9h0m0 0h0m0 2h0m-3-10h0m-5 4h0m-7-3h0m-1 2h0m-2 1h0m-3 1h0m-1 2h0m-5-7h0m-9 0h0m-1 2h0m-4-3h0m-2 13h0m-1-4h0m-2-5h0m-2-3h0m0 3h0m-1 1h0m-6 2h0m-5-7h0m-3 0h0m-3 1h0m-15 7h0m-4 2h0m-2 0h0m-4-1h0m0-8h0m-16 1h0m0 10h0m-13-2h0m-17-4h0m15 10h0m0 8h0m0 0h0m1-4h0m0-3h0m6 8h0m1 1h0m1-12h0m1 13h0m1-8h0m5 4h0m5-2h0m1-1h0m2 4h0m3 3h0m26-12h0m4 2h0m0-3h0m2 8h0m8 2h0m2 1h0m3-9h0m1 0h0m1 8h0m6-5h0m0 3h0m5 0h0m1 3h0m6-3h0m8 0h0m0 0h0m4 4h0m0-10h0m8 2h0m9 6h0m2 0h0m1-3h0m9 4h0m3-3h0m3-6h0m1 2h0m2 3h0m0-3h0m1 6h0m1-8h0m0 8h0m7 0h0m17-6h0m1 1h0m15 0h0m1 1h0m2 6h0m2 0h0m1-2h0m6-6h0m9 9h0m11-2h0m10-3h0m0-2h0m26-2h0m1 8h0m6-4h0m0 0h0m6-8h0m2 5h0m4-2h0m2 3h0m0 2h0m1-4h0m2 3h0m4-6h0m1 1h0m13 3h0m0-1h0m39-1h0m2 10h0m5 0h0m0-4h0m4 4h0m1-10h0m3 1h0m6 2h0m1 0h0m16 1h0m4-5h0m4-1h0m13 3h0m2 1h0m2-1h0m1 3h0m43-5h0m-108 17h0m-6 6h0m-2 2h0m-1-5h0m0-3h0m-5 7h0m-3-7h0m-3 5h0m-5 3h0m-2-2h0m-30-11h0m-14 9h0m-5-1h0m-5 0h0m-5-8h0m-5 9h0m-1 0h0m-3 2h0m-1-10h0m-5 2h0m0-2h0m-1 2h0m0 10h0m0-6h0m-3 6h0m-6-6h0m-13-7h0m-6 10h0m-6-9h0m-5 10h0m-2-8h0m0 0h0m-5 3h0m0 6h0m-6-6h0m-7-4h0m-9 3h0m-1 2h0m-8 6h0m-3 0h0m-2-13h0m-1 12h0m-2-4h0m-2-4h0m0 7h0m-8-11h0m-22 8h0m-5 4h0m-1-7h0m-3-3h0m-3 6h0m0 3h0m-2-10h0m-3 2h0m-8 9h0m0-3h0m-15-9h0m-4 4h0m-24 6h0m-15 0h0m-4 2h0m-1-9h0m-7 4h0m-2-3h0m-4-4h0m0 4h0m-3-1h0m-6 6h0m-6-2h0m0 2h0m-6-4h0m4 9h0m7 2h0m5-2h0m23 11h0m1-7h0m1 5h0m15 4h0m2-1h0m6-8h0m3 6h0m9-2h0m9-5h0m9-1h0m1 10h0m3-5h0m5 4h0m3-7h0m4 7h0m0-9h0m1 4h0m4 5h0m0-10h0m1 1h0m1 4h0m3-2h0m7 0h0m10 3h0m0-6h0m4 0h0m5 9h0m8-7h0m10-3h0m9 6h0m1-5h0m0 9h0m1 3h0m2-2h0m4-4h0m6 6h0m4-6h0m2 1h0m7-3h0m1-3h0m4 8h0m1 0h0m0 3h0m2-8h0m2 6h0m0-3h0m2-5h0m8-3h0m8 12h0m0-9h0m3 2h0m2 4h0m1-8h0m11 4h0m10 2h0m0 2h0m4-3h0m3 0h0m1-4h0m11 0h0m44-2h0m-53 15h0m-7 6h0m-8-2h0m-4-2h0m-3 8h0m-1 0h0m0-7h0m-5 6h0m-4-1h0m-12-9h0m-1 2h0m-1 6h0m-1-1h0m-2 2h0m-1-5h0m-4-1h0m-4 8h0m0-5h0m-1-4h0m0 0h0m-2 6h0m0-5h0m-16 6h0m-1-4h0m-1-1h0m0 6h0m-7-3h0m-4-4h0m-21 9h0m-1-3h0m-6-3h0m-3 0h0m-8 3h0m0-9h0m-2 2h0m-1 10h0m-1-1h0m-2-7h0m-5 7h0m-4 0h0m0-10h0m-12 4h0m-4 1h0m-20-5h0m-3-1h0m-4 0h0m-4 6h0m-3 3h0m-5-2h0m-3-6h0m-3 12h0m-5 0h0m0-4h0m-44-1h0m22 19h0m15-8h0m12-3h0m2 10h0m14-5h0m8-3h0m36-3h0m5 10h0m6-8h0m1-3h0m4 0h0m1 7h0m4 5h0m1-10h0m5 5h0m1 0h0m1 1h0m8-2h0m3 5h0m17 2h0m9-13h0m0 6h0m2-2h0m2 6h0m2-9h0m4 8h0m1 1h0m3-3h0m1-4h0m1-1h0m4-2h0m0 13h0m10-8h0m3 0h0m15 2h0m11-1h0m7 6h0m6-1h0m1-7h0m0 6h0m1-10h0m3 7h0m4 2h0m131-1h0m-32 17h0m-101-10h0m-3 1h0m-11 1h0m-7 10h0m-1-8h0m-4-5h0m-8 12h0m-7-9h0m0 8h0m-2-8h0m-5-2h0m0 1h0m0 2h0m-12-3h0m-11-1h0m-4 5h0m-14 6h0m-15 2h0m0-3h0m-2-4h0m-2 1h0m-2-7h0m-2 8h0m-1-8h0m-5 9h0m0-9h0m-2 11h0m-1-11h0m-5 11h0m-2-7h0m-1 4h0m-2-5h0m-3 7h0m-2 0h0m-7 3h0m0-9h0m-1 4h0m0-5h0m-1 8h0m-4-10h0m-28 0h0m-6 6h0m-12 3h0m-7 1h0m0 1h0m-3-6h0m-1-4h0m-16 11h0m-1-4h0m-23 18h0m51-11h0m6 8h0m1-2h0m9-2h0m4 5h0m7-11h0m2 3h0m7 10h0m9 0h0m1 0h0m0-11h0m3 4h0m2-3h0m6-2h0m18 8h0m7-8h0m2 1h0m2 5h0m2-4h0m1 7h0m3-4h0m2 3h0m0-5h0m10 3h0m0 6h0m2-8h0m1-3h0m0 10h0m6-4h0m2-5h0m3 7h0m4-7h0m0 3h0m2-3h0m2 2h0m2-1h0m11 6h0m5 0h0m4-5h0m2 0h0m7 5h0m1-4h0m7 4h0m9 1h0m2-5h0m0-5h0m3 8h0m5 0h0m6-9h0m4 4h0m8 5h0m55-8h0m6 2h0m6 1h0m10 0h0m3-2h0m6 0h0m2-2h0m-20 21h0m-21-3h0m-13-4h0m-21 10h0m-1-5h0m-8 8h0m-5-11h0m0 0h0m-9-1h0m-10 3h0m-5 4h0m-9-1h0m-1-4h0m-2 10h0m-8-13h0m-1 3h0m-2 5h0m-1-7h0m-34 5h0m-3 5h0m0-3h0m-1-5h0m-13 0h0m-1 8h0m-1-2h0m-4-2h0m-9-1h0m-38-3h0m-2-3h0m0 2h0m-4 0h0m-1-1h0m-7-1h0m-32 0h0m-27 12h0m-22 0h0m-5-2h0m-1-9h0m-1 0h0m0 0h0m-26 26h0m5-2h0m9-6h0m1 3h0m1-7h0m21 11h0m16-11h0m0 6h0m83 1h0m43 1h0m3-7h0m0 7h0m6-3h0m2-2h0m7 9h0m1-8h0m0 7h0m1-2h0m0 2h0m2-11h0m0 3h0m1 8h0m11-1h0m0 1h0m1-6h0m1 5h0m0 0h0m55-11h0m12 3h0m29-1h0m34 5h0m5-3h0m69 13h0m-69 0h0m-5 10h0m-3-8h0m-5-1h0m-4-3h0m-5 9h0m-2-5h0m-1 5h0m-2-8h0m-1 6h0m-1 4h0m-7-12h0m-3 10h0m-5-10h0m0 8h0m-14-3h0m-2-2h0m-5 7h0m-3 2h0m-19 1h0m-1-10h0m0 8h0m-5 2h0m-19-11h0m-1 5h0m-3 0h0m-5-2h0m-4-3h0m-7 10h0m-1 1h0m0-8h0m-4 2h0m-6 1h0m-1 5h0m0-4h0m0-9h0m-2 13h0m-3-2h0m-2-2h0m0-1h0m-7 5h0m0-13h0m-11 2h0m-43 6h0m-12-1h0m-3 1h0m-2 5h0m-1-1h0m-1-1h0m-2-3h0m-1 1h0m-5-2h0m-2 0h0m-2 0h0m-1 0h0m-3 4h0m0 0h0m-2-4h0m0-1h0m-5 0h0m0 3h0m0 1h0m-1-1h0m0-1h0m-2 4h0m0 1h0m-1-6h0m-1-3h0m-1 8h0m0-8h0m-3-2h0m0 1h0m0 2h0m-1 0h0m-2 5h0m-1 2h0m-1-9h0m-7 4h0m-2-1h0m0 2h0m-5-4h0m-3 6h0m0-2h0m-5 3h0m-3-6h0m-4 0h0m-1 1h0m-4 6h0m-3-6h0m-2 7h0m-8-13h0m-5 4h0m-2 8h0m-13-5h0m-3 5h0m-6-10h0m-2 10h0m-2-5h0m-3 4h0m8 6h0m1 6h0m0-4h0m4 1h0m4 0h0m1 1h0m10-6h0m16 3h0m15-4h0m1 12h0m26-4h0m1-3h0m0-2h0m1-1h0m3 11h0m0-4h0m1 4h0m4-2h0m1-5h0m3 4h0m2-2h0m6-8h0m4 2h0m5 3h0m0-3h0m1 6h0m0 4h0m1-4h0m3 3h0m4-5h0m2 7h0m3-9h0m2 0h0m6-4h0m5 11h0m36 2h0m10-7h0m6-1h0m1 4h0m5-8h0m0 7h0m3-6h0m1 7h0m0-3h0m3-1h0m1 7h0m3-6h0m2 4h0m0-1h0m1-4h0m2 6h0m0-6h0m0 5h0m2 2h0m1-4h0m3 2h0m1-5h0m1-2h0m0 1h0m1-2h0m1 10h0m0-6h0m2 0h0m4 4h0m9-2h0m1-4h0m1 5h0m12 2h0m4-4h0m6 4h0m2-9h0m7-1h0m1 3h0m9 4h0m6-3h0m4 4h0m0 1h0m4-8h0m1-1h0m3 9h0m13-7h0m5 5h0m2-8h0m23 7h0m3 2h0m4-4h0m2 7h0m54-2h0m12 2h0m3-5h0m28 2h0m18 10h0m-19 1h0m-10-3h0m-2 10h0m-4-10h0m-13-2h0m-1-1h0m-1 5h0m-1 3h0m-8-1h0m0-4h0m0 1h0m-4 4h0m-2 3h0m-1-4h0m0 0h0m-2 0h0m-38-2h0m-23-1h0m-21 0h0m-13-3h0m-8 2h0m-7 9h0m-1-6h0m0 1h0m0-2h0m0-3h0m-10 5h0m-3 1h0m-4-8h0m-1 1h0m-4 0h0m-7 12h0m-4-13h0m-6 0h0m-4 2h0m0 11h0m-8-2h0m-2-2h0m-1 3h0m-10-5h0m-3-1h0m-5-6h0m0 1h0m-1 0h0m0-1h0m-1 1h0m-1 2h0m0-2h0m-4-1h0m0 7h0m-9-2h0m0-1h0m-2 2h0m-1 5h0m0-7h0m-22-3h0m-4 2h0m-1 1h0m0 6h0m0 2h0m-2-5h0m-5 6h0m-3-9h0m0 1h0m-2 2h0m-11 6h0m-4-2h0m-1 1h0m-3-6h0m0 4h0m-3 3h0m-5-4h0m-1-5h0m-2 6h0m-4-8h0m-1 11h0m0 0h0m-1-2h0m-2 2h0m-1-5h0m0-3h0m-3 2h0m-2 4h0m-2-9h0m-1-1h0m-1 0h0m0 2h0m-1 10h0m0-7h0m-1 1h0m0 4h0m-2-8h0m-2 0h0m-2 4h0m-3-4h0m-2 2h0m-1 8h0m0-2h0m0-10h0m-3 4h0m0 3h0m0-3h0m-1 0h0m-1 0h0m-1 6h0m-1-11h0m0 5h0m-1-4h0m-32 0h0m-2 8h0m0-1h0m-3 1h0m0 3h0m-1-4h0m0-4h0m-2 2h0m-4 0h0m-19 0h0m-4 7h0m-4-8h0m-3 6h0m-5-9h0m-2 6h0m-1-8h0m-6 4h0m-1 9h0m-7 9h0m2-5h0m7 5h0m4 4h0m0-8h0m3 7h0m3-9h0m1 4h0m7 4h0m2-5h0m0 3h0m2 5h0m1-4h0m4 4h0m7-1h0m3 0h0m0-1h0m0-9h0m4 11h0m7-8h0m0 0h0m1 2h0m1-4h0m1 3h0m7 6h0m28-4h0m0 1h0m1-3h0m0-1h0m2-1h0m3-3h0m0 6h0m3 3h0m0-1h0m1-4h0m0 6h0m1-11h0m1 1h0m0 0h0m1 12h0m1-9h0m1-3h0m0 10h0m1-1h0m0 1h0m1-8h0m0 5h0m0 5h0m1-12h0m1 1h0m1 3h0m1-3h0m1 0h0m27-2h0m4 5h0m2-1h0m4-2h0m0 1h0m3-3h0m3 7h0m3 6h0m2-9h0m1-3h0m4 9h0m0-5h0m5 2h0m2-6h0m4-1h0m0 5h0m5 0h0m1 7h0m0-6h0m15-6h0m1 10h0m0-7h0m0-2h0m6 8h0m16 0h0m7 1h0m8-4h0m3-3h0m11 10h0m3-9h0m1-1h0m5-2h0m0 10h0m10-11h0m0 10h0m1-4h0m2 2h0m0-6h0m7 7h0m4-7h0m6 1h0m0 1h0m3 6h0m2-7h0m4 0h0m2 3h0m1-3h0m4 2h0m10 8h0m2-3h0m1-8h0m7 11h0m58-4h0m19 0h0m35-4h0m3 5h0m0-4h0m0-6h0m16 10h0m-11 5h0m-2 8h0m-1 3h0m0-10h0m-1 1h0m-2 4h0m0 4h0m-1-11h0m0 3h0m-1-3h0m-2 12h0m-52 1h0m-4-4h0m-5-5h0m-2 1h0m-2 7h0m-7-2h0m0 2h0m-5 0h0m-39-11h0m-8 6h0m-9-1h0m-16-2h0m-4 1h0m-5 8h0m-5-13h0m-10 10h0m-4-2h0m-3 1h0m-1 1h0m0-9h0m-6-1h0m-1 11h0m-3-1h0m-1-2h0m0-5h0m-4 6h0m0-1h0m-7-8h0m-1 12h0m0-9h0m-1 10h0m-1-4h0m-2-8h0m-27-1h0m-1 3h0m-4 8h0m-3-10h0m-4 3h0m-1 9h0m-3-4h0m-1-3h0m0-2h0m-2 6h0m-1-4h0m-2-5h0m-1-1h0m-1 7h0m-2 6h0m-3-13h0m-2 10h0m-1 2h0m-6 0h0m-4-5h0m-3-1h0m-1 3h0m-3-3h0m-2 4h0m-3 0h0m-2 2h0m-1 1h0m-7-2h0m-23 0h0m-1-6h0m0 8h0m-4-10h0m-1 7h0m0-2h0m0-1h0m-3-5h0m-2 3h0m0 6h0m-1-3h0m0 2h0m-5-2h0m-2-8h0m-3 12h0m-3-6h0m-4 3h0m-1 2h0m-3 0h0m-5-5h0m0 1h0m-2 0h0m-9 0h0m-1-6h0m-1 2h0m0 10h0m-1-1h0m-4-5h0m-5-2h0m-1-4h0m-1-1h0m-4 11h0m-3 0h0m0 2h0m-1 0h0m-2-9h0m-2-3h0m-1 9h0m-4-5h0m-7 4h0m0 2h0m-2-5h0m-1 2h0m-1-8h0m-8 8h0m-1 3h0m-1 2h0m-6-3h0m-1-5h0m-1-3h0m0 4h0m-10-2h0m12 15h0m8 2h0m5-6h0m2 8h0m1-7h0m1 10h0m1-8h0m2 0h0m2-3h0m0 5h0m1-5h0m1 10h0m2-9h0m4 2h0m1-3h0m1 7h0m2 2h0m1-10h0m1 7h0m3-6h0m1 1h0m1 7h0m1-4h0m1 2h0m0 6h0m1-8h0m1-4h0m0 11h0m0-3h0m1-6h0m2 9h0m3-2h0m1-9h0m0 1h0m1 8h0m0 2h0m1-8h0m0 8h0m1-7h0m0-5h0m3 8h0m1 2h0m0 1h0m4-1h0m2-9h0m1 1h0m2-1h0m6 8h0m1-6h0m1 7h0m1-2h0m0 4h0m1-4h0m0-6h0m4-2h0m2 0h0m5 13h0m5-9h0m1-4h0m0 11h0m2-5h0m4-5h0m0 9h0m1-10h0m1 3h0m3 7h0m1-10h0m1 6h0m1-3h0m4 8h0m0-9h0m11-2h0m3 9h0m1 0h0m0-1h0m2 3h0m6-10h0m1 9h0m0 0h0m1-4h0m3 2h0m6 5h0m0-10h0m3 2h0m2-3h0m1 11h0m1-11h0m0 1h0m2-3h0m3 10h0m11-8h0m1 7h0m11-1h0m1-6h0m3 1h0m15 9h0m4-7h0m6-4h0m5 12h0m1-11h0m7-1h0m2 4h0m3 3h0m0-8h0m0 7h0m1-4h0m4 9h0m2-6h0m1-4h0m1 5h0m1 3h0m8 2h0m2-12h0m6 5h0m0-5h0m6 3h0m1-3h0m5 11h0m2-6h0m2 1h0m2 6h0m3-10h0m3-2h0m0 0h0m8 13h0m2-2h0m18-4h0m13 5h0m3-7h0m2 6h0m6-11h0m1 5h0m1 6h0m8 2h0m1-8h0m3-3h0m0 5h0m4-7h0m1 0h0m4 1h0m3 1h0m3 10h0m9-6h0m12 7h0m2-10h0m3 10h0m1-6h0m1-1h0m3-6h0m2 7h0m3-4h0m1 4h0m2 1h0m2-5h0m2 9h0m1-7h0m2 1h0m1 4h0m21-6h0m7-3h0m3 0h0m4 0h0m5 12h0m1-11h0m1 4h0m13 2h0m-34 6h0m-6 12h0m-1-7h0m-1 5h0m-3-7h0m-2-1h0m0 9h0m-1-8h0m-3 8h0m0 0h0m0-8h0m-2-1h0m-2 1h0m-5-2h0m0 0h0m-6-1h0m-1 13h0m-6-8h0m-3 5h0m-2 0h0m-6-5h0m-3 2h0m-10 4h0m-4-9h0m-6 3h0m-5-4h0m-2 1h0m-1 5h0m-5 2h0m-2 2h0m-2 2h0m-1 0h0m-1 0h0m0-6h0m-1 3h0m-1-3h0m-1-1h0m0 0h0m-1-6h0m-2 11h0m-1-2h0m-2 2h0m0 1h0m-29-4h0m-1-6h0m-2 5h0m-1 0h0m-1-3h0m-2-4h0m-3 12h0m-16-10h0m-2 6h0m-4 5h0m-2-5h0m0-7h0m-7 10h0m-7-4h0m-1 0h0m-1 6h0m-3 0h0m-7-8h0m0 1h0m-13 0h0m-2 2h0m-7-8h0m-9 1h0m-24 2h0m-2 4h0m-11 4h0m-2-5h0m-4 1h0m-8 4h0m-15-1h0m-2 3h0m-1-3h0m-8-7h0m-4-1h0m-1-1h0m-6 9h0m-3-10h0m-1 4h0m-4-4h0m-1 3h0m0 5h0m-6-4h0m-5 1h0m0 5h0m-6-1h0m-2 3h0m-3-1h0m0 2h0m0-8h0m-4 0h0m-2 5h0m-2-2h0m0-8h0m-7 2h0m0-2h0m-2 12h0m-3-2h0m-1-7h0m-1-1h0m-3 5h0m-1-2h0m-1-5h0m0 2h0m-1 8h0m-2-7h0m0 1h0m-2-3h0m-1-1h0m-3 1h0m-2 3h0m-3 5h0m-1 2h0m-2-4h0m-4 0h0m-1-6h0m-2 5h0m0 0h0m-8 5h0m-7-3h0m0-6h0m-8-2h0m-3 10h0m-7-10h0m25 16h0m2 7h0m4-2h0m3 1h0m6-2h0m4 5h0m1 2h0m2-1h0m0-5h0m6-6h0m1 3h0m6-1h0m3 4h0m6-6h0m2 10h0m6-3h0m2 1h0m6-5h0m13-4h0m3 12h0m2-10h0m0-2h0m1 1h0m2 2h0m3 10h0m6-9h0m0-1h0m2-1h0m3 2h0m2 8h0m4-6h0m0 5h0m0-4h0m0-4h0m12 10h0m0-3h0m3-1h0m2-2h0m2-5h0m1 2h0m7-2h0m13 1h0m1 7h0m1-5h0m0 1h0m2 3h0m1-9h0m2 6h0m5 1h0m2 1h0m2-1h0m3-4h0m13 3h0m1-5h0m0 11h0m3 0h0m1-5h0m6 3h0m4-2h0m1 0h0m4-7h0m10 11h0m0-2h0m16-4h0m2 3h0m6-9h0m3 4h0m10 0h0m7 2h0m15 6h0m3-8h0m10 4h0m2-4h0m0 0h0m1 7h0m5-5h0m0 4h0m1-6h0m0 9h0m1-12h0m11 11h0m3-2h0m0-1h0m6-9h0m2 8h0m1 0h0m1-8h0m1 3h0m1-3h0m3 6h0m0 7h0m1-6h0m7-7h0m0 6h0m3-4h0m2 11h0m0-9h0m0 8h0m0 1h0m1-2h0m1-1h0m2 2h0m0-7h0m5 8h0m0-4h0m0-5h0m2-4h0m0 12h0m4-6h0m2 3h0m5-4h0m7 0h0m2 4h0m3-2h0m2-2h0m2-1h0m3-2h0m0 5h0m4 3h0m5-7h0m4 9h0m0-12h0m5 1h0m2 4h0m2 5h0m0 0h0m0-2h0m1-6h0m1 11h0m4-3h0m1-7h0m1-2h0m1 7h0m8-1h0m3 3h0m2-2h0m3-4h0m5 2h0m-25 18h0m-1-7h0m0 8h0m0-7h0m0 0h0m-3 3h0m-4 0h0m-1 3h0m-2-8h0m-2 9h0m-7 2h0m-1-1h0m0-7h0m0 6h0m-8-1h0m-1 2h0m0-1h0m-10-2h0m-12-9h0m-5 4h0m-1 2h0m-1 4h0m-3 0h0m0-3h0m-1 6h0m0-4h0m-4-4h0m-2 0h0m-1 0h0m-6 0h0m-1 5h0m0-1h0m-4-2h0m-2 3h0m-17 0h0m0 2h0m-1-12h0m0 13h0m-1-12h0m-2 8h0m-1-4h0m-19 8h0m-18-11h0m-7 5h0m-2-2h0m-3 6h0m-9-3h0m-10-2h0m-5 6h0m-4-7h0m-2 0h0m-1-5h0m-1 11h0m-1-6h0m-1 3h0m-4 2h0m-6-1h0m-1 3h0m-2-8h0m-1 4h0m-4 4h0m-1 0h0m-14-5h0m0 4h0m-2-4h0m-1 4h0m-9-2h0m-5-9h0m-1 2h0m-6 6h0m-5 2h0m-12-3h0m-4-5h0m-5 5h0m-8-1h0m-1-6h0m-3 4h0m-2 6h0m-4 0h0m-12-10h0m-3 5h0m-1-2h0m-2 2h0m-1 7h0m-2-1h0m-1-6h0m-1 4h0m-5-7h0m-3 7h0m-5-7h0m-5 7h0m-9-1h0m-1 4h0m-9-2h0m-8-6h0m0-3h0m-2 2h0m-2 10h0m-3-9h0m-5 5h0m-4-4h0m-3-2h0m-1-2h0m0 1h0m34 16h0m0 3h0m4 2h0m2-8h0m7 4h0m2-3h0m18-2h0m1 0h0m2 3h0m0 9h0m4-10h0m7 2h0m1-2h0m1-2h0m4 0h0m1 11h0m2 1h0m1-3h0m3-2h0m9 1h0m9-5h0m2 2h0m7 0h0m14 6h0m3-6h0m2 1h0m2 3h0m15-2h0m3-3h0m1 2h0m7 7h0m3-11h0m6 7h0m0-8h0m3 10h0m3-1h0m2 2h0m1 0h0m2 1h0m5-12h0m2 2h0m8 2h0m1 5h0m4-7h0m0-1h0m3 9h0m2-3h0m2-3h0m1-5h0m0 3h0m12 10h0m2-9h0m2 2h0m5 4h0m1 1h0m1-2h0m1 0h0m9-2h0m3 2h0m0-7h0m5 10h0m7-5h0m1-1h0m4-2h0m0 1h0m1 7h0m1-4h0m3 3h0m2-7h0m0 7h0m2-5h0m0-1h0m0 3h0m1 4h0m16-1h0m7-9h0m2-1h0m1 4h0m7-1h0m6 9h0m4-5h0m1-3h0m1 4h0m21 2h0m1-3h0m0 3h0m0-2h0m0-1h0m3-6h0m1 9h0m1-5h0m1-4h0m0 10h0m1-10h0m0 11h0m6-9h0m1-2h0m1-2h0m4 9h0m3-3h0m1-2h0m0 0h0m0-2h0m8 10h0m0 1h0m0-13h0m0 13h0m8 11h0m0 0h0m-2-2h0m-1-2h0m-2 7h0m-2-10h0m0 9h0m-4-7h0m0-5h0m-1 10h0m-2-2h0m-1 5h0m-4-9h0m-1 6h0m-5-10h0m-2 12h0m-4-11h0m-5 5h0m-4-6h0m-12 9h0m-1-1h0m-2-6h0m-2 8h0m-4-6h0m-3-2h0m-1 5h0m-6-6h0m-7 1h0m-1 6h0m-12 1h0m-1 0h0m-1-7h0m-2 2h0m-1 7h0m-2-2h0m0 3h0m-1-2h0m0 2h0m-2-3h0m-4-5h0m-1-2h0m0-1h0m-1-1h0m0 12h0m-1-5h0m0-6h0m-1 2h0m0 5h0m-1 1h0m-3-9h0m-1 8h0m-1-2h0m0-1h0m-6 1h0m-2 4h0m-2-3h0m-5-6h0m-3 6h0m-6-7h0m-14 4h0m-7-4h0m-18 2h0m-7 7h0m-1-2h0m-8 5h0m0-12h0m-4 6h0m-1-2h0m-2 1h0m-3 0h0m-16 7h0m-9 1h0m-12-11h0m-1-1h0m-1 7h0m-5-6h0m-1 3h0m-1-5h0m-1 12h0m-2-9h0m-7 2h0m-1-4h0m-51 5h0m-6-6h0m-1 5h0m-9-5h0m0 14h0m74 10h0m4-8h0m2 5h0m1-5h0m2 9h0m4-9h0m1 3h0m1-1h0m0-1h0m6 5h0m0 1h0m6-5h0m0-1h0m4 10h0m2-12h0m1 4h0m8 2h0m1-3h0m0 5h0m1-4h0m17-3h0m0 8h0m1-5h0m2 4h0m1 3h0m1 1h0m6-7h0m9-3h0m1-3h0m1 9h0m2 4h0m2-3h0m4-1h0m2-5h0m3-1h0m16-2h0m6 5h0m8 2h0m3 5h0m1-6h0m4-4h0m4 7h0m4 0h0m3-2h0m7 4h0m0-8h0m0-2h0m0 3h0m0 4h0m0-8h0m1 5h0m0-4h0m1 0h0m1-2h0m0 10h0m2-7h0m0 6h0m2-5h0m0-2h0m0-1h0m1-1h0m6 4h0m2 1h0m1-2h0m0 1h0m1 8h0m1-11h0m6 5h0m2-1h0m15 1h0m1 6h0m1-8h0m2 2h0m2 7h0m3-1h0m0-1h0m1 1h0m3 1h0m0-7h0m2-5h0m0-1h0m2 2h0m6-1h0m3 9h0m5 0h0m0-3h0m1 3h0m2-7h0m1 1h0m0 0h0m0 8h0m0-1h0m3-5h0m17 4h0m3-6h0m0 9h0m3-9h0m1 2h0m2-3h0m1 0h0m1 2h0m3 5h0m6-4h0m0 2h0m4 0h0m4-4h0m12 3h0m3 2h0m26 4h0m-3 1h0m-48 7h0m-54-7h0m-1 5h0m-9 1h0m-2 5h0m-1 1h0m-1-3h0m0-3h0m0-1h0m-15 0h0m-3-3h0m-2-2h0m-6 0h0m-5 9h0m-9 4h0m-1-1h0m-3-9h0m-2 1h0m-3-4h0m-2 6h0m0-2h0m-5-4h0m0 13h0m-5 0h0m-3-1h0m-5-6h0m-13-1h0m-2 1h0m-1 0h0m-12-3h0m0 9h0m-16-5h0m-3 5h0m-1 0h0m-1-11h0m-1 8h0m-1 2h0m-3-11h0m-1 12h0m0-4h0m-9-2h0m-3 5h0m0-3h0m-1 5h0m0-2h0m-1-3h0m-4-1h0m-4 5h0m-1-8h0m-3-4h0m-8 8h0m-3 5h0m-4-8h0m-1 7h0m-3-5h0m0 4h0m-4-5h0m-9-5h0m-32-1h0m-7 10h0m17 16h0m14-4h0m5-1h0m1 1h0m0-7h0m2 10h0m2 2h0m46-2h0m3-6h0m7 2h0m5-6h0m17 3h0m1 5h0m3-9h0m4 1h0m3 2h0m1 2h0m3 1h0m2 0h0m0 3h0m3-5h0m0-3h0m1 4h0m2-4h0m1 3h0m3 9h0m1-1h0m2-7h0m1 7h0m2-2h0m2-7h0m9 0h0m1 8h0m3-2h0m1-8h0m0 7h0m6-5h0m0-2h0m1 1h0m0 2h0m6-1h0m2-1h0m3 11h0m12 0h0m1-3h0m8-3h0m19-4h0m7-3h0m-15 15h0m-3 8h0m0-2h0m-2-6h0m-3 3h0m-3 4h0m-5-5h0m0 9h0m-1-3h0m-2-9h0m-3 0h0m-4 1h0m-4 0h0m-2 0h0m-5 8h0m-4-9h0m-3 3h0m0-1h0m-3 10h0m-1 1h0m-2-13h0m0 13h0m-2-10h0m0 2h0m0 5h0m-2-8h0m0 5h0m0-4h0m-1-3h0m-10 7h0m-1 1h0m-5-5h0m-2 2h0m-2-4h0m-12 1h0m0-1h0m-10 6h0m0 1h0m-1-6h0m-2 6h0m-4-7h0m0 2h0m-8 7h0m-9-2h0m-1 0h0m-11 1h0m-4 3h0m-4-3h0m0 0h0m0-2h0m-6 0h0m-2 2h0m-1 2h0m-1 0h0m-1-1h0m-3 2h0m-5-5h0m-6-5h0m-3 0h0m-1 0h0m-13 4h0m-4-5h0m-2 9h0m-5-9h0m-10 1h0m33 16h0m3-1h0m6-1h0m0 3h0m13 3h0m4-5h0m0 8h0m1-7h0m1-3h0m5 5h0m1-2h0m6-3h0m2 12h0m1-11h0m4 1h0m3-1h0m2 6h0m2-6h0m4-1h0m5 8h0m5-4h0m0-5h0m2 9h0m0-8h0m2 8h0m3-4h0m0 7h0m0-8h0m3 7h0m0-7h0m1-3h0m1 10h0m3-7h0m11-3h0m0 9h0m0-1h0m3-4h0m9-4h0m2 7h0m0 0h0m4 1h0m5-1h0m12-4h0m2-4h0m6 2h0m6 2h0m1 1h0m1-2h0m5 0h0m2 2h0m3 4h0m9-7h0m5 6h0m-7 13h0m-7-6h0m-3 3h0m-2-2h0m-2 8h0m-7-4h0m-3 1h0m-1-1h0m-2-6h0m-3 12h0m0-2h0m-7-4h0m-3 4h0m-1-4h0m-5-3h0m-2 0h0m-2 6h0m-5-8h0m-2 5h0m-1 4h0m-7-10h0m-1 8h0m-2-2h0m0 0h0m-1 5h0m0-6h0m-3-1h0m0-3h0m-2 8h0m-4-7h0m-2-1h0m-3 3h0m-1-4h0m-2 6h0m0-1h0m-3-2h0m0 2h0m-2-4h0m-1 3h0m-1-2h0m-2 4h0m-10-2h0m-3 7h0m-3-10h0m0 10h0m-3-2h0m-1-5h0m-1 9h0m-3-13h0m-2 8h0m0-7h0m-6 6h0m0 1h0m62 9h0m6 8h0m1-6h0m1-4h0m1 8h0m2-9h0m0 6h0m3 4h0m0 2h0m2-7h0m4 1h0m7-6h0m8 10h0m-2 9h0m0-5h0m-30 3h0m-11-1h0m-2 1h0m0-3h0m-4 4h0"/><path id="Ba" d="M501 97h0m0-1h0m1-1h0m1 2h0m30 13h0m-3 0h0m-2 0h0m-1 0h0m-1 1h0m0-1h0m-1-2h0m0 2h0m-1-2h0m-2-3h0m0 1h0m0 2h0m-1-3h0m0 0h0m-1 3h0m0-2h0m-1 0h0m0 2h0m0-3h0m0 1h0m0-2h0m0 2h0m-1-3h0m-1 1h0m0 3h0m-1-4h0m0 0h0m0 2h0m0 1h0m-3-2h0m0-2h0m-1 0h0m0-2h0m0 4h0m-1-2h0m-1-1h0m0 2h0m-1-1h0m0-1h0m-1 2h0m0-4h0m0 0h0m0 1h0m0-1h0m-1 2h0m0 1h0m-1-4h0m-2 0h0m-4 3h0m22 11h0m4 0h0m1 3h0m0-2h0m2 1h0m1-1h0m0 4h0m1-3h0m1 4h0m1-5h0m0 2h0m0 2h0m0 1h0m0-3h0m1-3h0m0 3h0m1 0h0m0 2h0m1-4h0m1 7h0m0-3h0m1-1h0m0 0h0m0 1h0m2 0h0m1 4h0m1 0h0m0-2h0m1 4h0m0-3h0m0-2h0m0 6h0m1-3h0m1 1h0m1 2h0m0-3h0m0 0h0m1 4h0m0-3h0m1 2h0m0 0h0m0 0h0m2 0h0m0 1h0m19 14h0m-4-6h0m0 5h0m0 1h0m0-1h0m-1-1h0m0 0h0m0 1h0m0 0h0m0-2h0m0-3h0m0 4h0m-1 0h0m-2-1h0m0 1h0m0-3h0m0 3h0m-2-8h0m0 9h0m0 0h0m0-2h0m-1-2h0m0-4h0m0 3h0m0 2h0m0 2h0m-2-6h0m0 2h0m-2-6h0m-1 2h0m0 4h0m0-1h0m-1-3h0m-1 1h0m0-1h0m0-1h0m-1-1h0m0 0h0m0-1h0m-1 3h0m-1-3h0m0 2h0m-1-1h0m-1-1h0m19 15h0m0 0h0m0-1h0m2 3h0m0-3h0m0 2h0m0 0h0m0-1h0m1 6h0m1-6h0m0 7h0m0 0h0m2 3h0m0-3h0m3 1h0m2-2h0m0-2h0m1 6h0m0-9h0m1 6h0m2 5h0m0-5h0m0 0h0m6 2h0m3 1h0m4-1h0m0-1h0m2 3h0m1-4h0m0 0h0m0 4h0m2-2h0m1 2h0m4-5h0m2 0h0m3 1h0m4 3h0m4-5h0m1 5h0m1 0h0m30 7h0m-7 0h0m-5 8h0m-10-6h0m0-2h0m-1 4h0m-4-5h0m-5 10h0m0-12h0m-1 12h0m0-5h0m-1-6h0m0 10h0m-1-2h0m-1-3h0m-1 6h0m0-3h0m-1 0h0m-1-4h0m-1 0h0m-1 5h0m0-2h0m0 1h0m-1-3h0m0-5h0m-1 6h0m-1-6h0m0 7h0m-3 2h0m-1-11h0m0 7h0m-1-7h0m0 11h0m-2-1h0m-1 3h0m0-2h0m0-4h0m-1-2h0m-1 0h0m-1 7h0m0-11h0m-1 5h0m0-4h0m-1 8h0m0 3h0m-1 0h0m0-12h0m-2 12h0m-1-2h0m-5-4h0m0-7h0m0 2h0m0 7h0m-1-2h0m-1 6h0m-1-4h0m0-1h0m-1-5h0m0 4h0m0-2h0m-1 8h0m-1-13h0m-1 5h0m-1 7h0m-1-4h0m-2 3h0m0-10h0m-1 11h0m-1-9h0m0 5h0m0-8h0m-1 3h0m-1 0h0m-4 4h0m0-3h0m0 5h0m-1 0h0m-1-7h0m-2 2h0m-5 12h0m0 4h0m5 6h0m1-10h0m1 2h0m0 7h0m2-10h0m1 3h0m1 0h0m0 5h0m1 1h0m0-2h0m0-2h0m1 2h0m1 5h0m0-8h0m0 8h0m0-7h0m2 0h0m1 3h0m0 1h0m1 3h0m1-12h0m0 9h0m5-1h0m1-2h0m1-2h0m1 0h0m2 5h0m0 0h0m1-4h0m0 4h0m1-8h0m1 10h0m2-1h0m1 1h0m0 1h0m2-11h0m0 5h0m0 2h0m1-9h0m0 1h0m0 3h0m1 6h0m1-4h0m1-6h0m0 8h0m1 4h0m0-7h0m3 0h0m1-2h0m2 5h0m2 0h0m1-1h0m1-4h0m1 5h0m1 3h0m1-8h0m1 10h0m0-2h0m1-8h0m0 5h0m3-5h0m1 8h0m0-1h0m1-2h0m4 4h0m1-1h0m1 2h0m1-2h0m3 1h0m5-12h0m4 3h0m2-3h0m3 12h0m1-9h0m10 7h0m11-2h0m1 3h0m0 1h0m-3 3h0m-11 2h0m-1 0h0m-3 1h0m-1 5h0m-1 3h0m-1-7h0m-1 6h0m-3-8h0m-3-1h0m-7 10h0m0-3h0m0-7h0m-3 0h0m0 5h0m-2-4h0m-1 9h0m-1-9h0m0 9h0m0-9h0m-1 2h0m-1 1h0m-1-3h0m-1-3h0m0 2h0m0 0h0m-3 11h0m0-9h0m-1 4h0m0-6h0m0 5h0m0-5h0m-2-1h0m0 1h0m-3 0h0m-1 2h0m-3 3h0m-1 5h0m-1-5h0m0 4h0m0-4h0m-2-4h0m-4 9h0m-1-12h0m0 2h0m-1 2h0m-1 7h0m-1-1h0m-2-7h0m-2-1h0m-1-2h0m0 3h0m-2 8h0m0-6h0m-1 8h0m-1 0h0m0-4h0m-1-7h0m-1 5h0m0 4h0m-2 2h0m-1-10h0m-1 0h0m-3 4h0m-2 0h0m0-6h0m0 3h0m0-4h0m0 10h0m0-10h0m-1 10h0m0-2h0m0 0h0m-2-8h0m-1 5h0m-2 2h0m-2-5h0m0 6h0m-3-3h0m0-3h0m-3 0h0m-1-1h0m3 14h0m2 1h0m0 6h0m1 0h0m2 0h0m0-2h0m0 0h0m1 3h0m1 3h0m1-2h0m1-9h0m0-1h0m1 2h0m0 8h0m2-10h0m1 3h0m0-3h0m0 8h0m2-6h0m1 0h0m2 4h0m0 3h0m0 4h0m0-1h0m0-4h0m1-1h0m2-4h0m0 1h0m1 2h0m1 0h0m0-5h0m0-1h0m0 0h0m1 2h0m0-1h0m0-1h0m2 10h0m1-7h0m0-1h0m2 9h0m2-5h0m1-5h0m0-1h0m0 12h0m1 0h0m0-3h0m0-1h0m1 5h0m1-12h0m0 12h0m0-5h0m1 0h0m0-4h0m2 4h0m9-1h0m27 6h0m1-3h0m2-3h0m0 3h0m1-5h0m1-1h0m0-3h0m0 12h0m1-10h0m0 6h0m1-3h0m0 0h0m1 2h0m1-8h0m1 4h0m-3 11h0m-3 3h0m-1 1h0m-1-5h0m0 2h0m-1 1h0m-5-3h0m-41 4h0m-1-3h0m-2 1h0m-2 4h0m-1-2h0m0 4h0m0-4h0m-1 7h0m-1 2h0m-2-8h0m-1-1h0m0-4h0m0 2h0m0 3h0m0 7h0m-1-4h0m-6-1h0m-4-3h0m0-3h0m-1 9h0m-7-3h0m0 4h0m-10 2h0m-7 0h0m-1-2h0m0 7h0m1-2h0m3 1h0m1 10h0m1-6h0m0 1h0m1 0h0m1 2h0m0-6h0m0 5h0m0 3h0m2-11h0m0 9h0m2-6h0m0 6h0m1-4h0m1 6h0m1-1h0m0-4h0m1 3h0m1 2h0m0 1h0m1-4h0m0-6h0m2 4h0m2 0h0m2 1h0m2-4h0m0 8h0m0 0h0m1-4h0m0 4h0m0-6h0m2-4h0m0 0h0m3 8h0m1-5h0m0 2h0m1 5h0m0-10h0m2 2h0m1-4h0m1 6h0m0-1h0m1-1h0m10 22h0m-9-11h0m-6 1h0m-1 1h0m-1-1h0m-1 0h0m-1 9h0m0-5h0m-1-1h0m0-3h0m0 1h0m-4-3h0m-2 7h0m-1-3h0m-1-4h0m0 1h0m0 12h0m-1-2h0m0-11h0m0 2h0m-2 7h0m-2-4h0m-1 1h0m0 3h0m-1 1h0m-3-6h0m-1-2h0m-1 5h0m-1 2h0m-2-3h0m0-3h0m-2 0h0m-2 3h0m-2 4h0m-7 2h0m-12 12h0m11 3h0m1-8h0m6-5h0m5 7h0m19 5h0m6 0h0m5-2h0m1-4h0m2 6h0m0-9h0m0 3h0m1 1h0m1 5h0m3-3h0m2-7h0m1 8h0m2 1h0m12-8h0m-3 18h0m-2 1h0m-3 3h0m-7 1h0m-3-9h0m-1 0h0m0 8h0m-7-7h0m-39-2h0m-250 23h0m1-10h0m2 11h0m11 1h0m7-6h0m1 3h0m2 3h0m25-12h0m181 3h0m2 6h0m3 2h0m1-11h0m0 8h0m2 3h0m1-1h0m1-8h0m0 1h0m1-2h0m1 9h0m2-5h0m2-1h0m39-5h0m6 9h0m0-1h0m5-5h0m2 3h0m0 1h0m1-1h0m1 6h0m0-11h0m1 10h0m1 1h0m0-3h0m3-1h0m6 4h0m1-7h0m0 7h0m0 0h0m3-3h0m4-1h0m1-1h0m0 4h0m0-3h0m1 3h0m1 1h0m6-1h0m6 15h0m-1-4h0m-1-7h0m0 4h0m-1 2h0m0-4h0m-1 0h0m-1 8h0m-1-2h0m-1-4h0m0-1h0m0-4h0m-1 13h0m0-1h0m0 1h0m-1-9h0m0-1h0m0 6h0m0-2h0m-1-3h0m0 7h0m-1-1h0m-1-2h0m0-5h0m-1 1h0m-1 5h0m-1 0h0m0-7h0m-1 2h0m-1-3h0m-1 4h0m0 7h0m-1-10h0m0 8h0m-1-8h0m0 11h0m0-9h0m-1 4h0m-1 0h0m-1 2h0m0 0h0m0-1h0m-1 4h0m-2-9h0m0 2h0m-1-2h0m0 2h0m0 0h0m0-1h0m0-5h0m-2 0h0m-2 9h0m0-5h0m-1 1h0m0 1h0m0-5h0m0 2h0m0 2h0m-1-3h0m0 10h0m0-4h0m0-5h0m0 1h0m-1 6h0m-1 0h0m0-5h0m-1-5h0m0 4h0m-1 2h0m0-2h0m-2 7h0m0-11h0m-1 7h0m0-1h0m-3-3h0m0-1h0m-2-1h0m-4 3h0m-5 3h0m-3-1h0m-4 4h0m0-7h0m-2 8h0m0 0h0m0-2h0m0-7h0m-8 1h0m-16 0h0m-1-3h0m-2 6h0m-1-6h0m0 7h0m-1 0h0m-1-5h0m-2 0h0m-1 2h0m0 2h0m-1 2h0m-1-5h0m-3 0h0m-153 7h0m-10-5h0m-9-2h0m-7-3h0m-2 9h0m-2 3h0m-3-2h0m0-2h0m-1-7h0m-1 12h0m-2-5h0m-5 1h0m-2 1h0m-1-8h0m-2 10h0m-2-6h0m-6 7h0m0-6h0m-2 3h0m-7 0h0m0-7h0m-1 2h0m-3 6h0m-5-3h0m0 0h0m-2-4h0m-4 1h0m-2 0h0m-2 3h0m0 5h0m-2-13h0m0 13h0m0-10h0m-1-2h0m-1 2h0m0 6h0m0-2h0m-1 0h0m-1 6h0m-1 0h0m-2-3h0m-1-6h0m0 9h0m-2-9h0m-1 8h0m-2-5h0m-1 2h0m0-5h0m0-1h0m-2 2h0m-2-4h0m-2 6h0m0-2h0m-3-4h0m0 10h0m0-8h0m-2 5h0m-2 5h0m-1-5h0m0-1h0m-1 3h0m-3-6h0m0 7h0m0 2h0m-1-6h0m-2 0h0m-2-5h0m-4 10h0m-17 3h0m3 9h0m1-5h0m2 7h0m2-3h0m1 0h0m1 2h0m0 0h0m1-2h0m1 4h0m0-3h0m0-4h0m1 5h0m0-4h0m1 6h0m0-2h0m1-7h0m0 8h0m0-1h0m0-4h0m0 6h0m2-3h0m0 3h0m2-11h0m1 9h0m3 2h0m0-10h0m1 9h0m1-7h0m0 7h0m2-4h0m0 1h0m2-3h0m1 1h0m1 1h0m0-4h0m1-1h0m0 9h0m0-1h0m0-7h0m2-1h0m1 0h0m2 3h0m0-4h0m1 0h0m0 2h0m0-2h0m0 0h0m1 9h0m0-7h0m1 2h0m2-5h0m0 4h0m0-1h0m1 9h0m0-6h0m2-6h0m0 7h0m1-1h0m0 4h0m0-11h0m0 5h0m2-3h0m0 1h0m3 1h0m0 5h0m2-8h0m9 7h0m2-5h0m2 7h0m0-5h0m3 4h0m1 1h0m3-10h0m0 2h0m13 5h0m0 4h0m1 1h0m1-3h0m1 0h0m2-1h0m1 4h0m1-2h0m0 3h0m0-1h0m1 0h0m0-7h0m5 0h0m0 8h0m1-2h0m1-10h0m0 9h0m4-3h0m0 6h0m2-12h0m2 6h0m1-3h0m0 1h0m1 0h0m0 3h0m1-1h0m2-1h0m3 6h0m0-4h0m2-3h0m2-1h0m0 7h0m1-7h0m0 6h0m1 2h0m1-2h0m3-7h0m0 9h0m0-10h0m1 6h0m2 1h0m1-1h0m0 5h0m1-12h0m0 9h0m0 2h0m1-12h0m1 9h0m2 0h0m1 1h0m4-6h0m3 8h0m1-6h0m0-5h0m1 10h0m1-7h0m0 9h0m1-5h0m1-1h0m2 4h0m0 0h0m2-1h0m4-5h0m139 3h0m3-4h0m2 5h0m4 4h0m2-1h0m1-6h0m1 1h0m0 6h0m0-8h0m0-5h0m2 10h0m1-1h0m1 4h0m0-6h0m1-1h0m1 5h0m0-4h0m1-5h0m0 3h0m1 4h0m0-4h0m0-2h0m0 3h0m1-5h0m0 6h0m0-4h0m1 7h0m0-6h0m1-2h0m0 1h0m1 5h0m1-1h0m2 6h0m4-5h0m0 0h0m1 5h0m0 0h0m1-6h0m1-5h0m0 10h0m1 1h0m1-13h0m2 2h0m1 4h0m1-3h0m0 6h0m1-6h0m0 4h0m0-1h0m1-2h0m0 3h0m1 1h0m0 3h0m0 0h0m2-4h0m0 1h0m0-4h0m0 3h0m1 4h0m0-7h0m0-4h0m1 2h0m0 4h0m0-5h0m1 2h0m1-1h0m2 1h0m1-3h0m1 4h0m0 4h0m1 1h0m0-5h0m4-3h0m0 1h0m2 4h0m1 6h0m1 0h0m1-9h0m0 0h0m1 2h0m0 8h0m0-4h0m2-9h0m0 0h0m0 10h0m1-3h0m0-4h0m0 6h0m1-5h0m0 6h0m0 1h0m0 0h0m1-5h0m0-5h0m1 1h0m0-1h0m0 6h0m0-2h0m1-4h0m1 2h0m0 1h0m0-1h0m1 8h0m0-11h0m3 0h0m1 9h0m4 3h0m1-4h0m0-2h0m1-4h0m1 10h0m0-11h0m1-1h0m1 6h0m0-3h0m3 6h0m0 2h0m0 1h0m0-9h0m2 0h0m1-1h0m2 1h0m5-1h0m0 1h0m-7 17h0m0 4h0m-2-4h0m-2-3h0m0 1h0m-2 1h0m0 0h0m-2 3h0m0-7h0m0 1h0m-2-2h0m-2 7h0m-1-4h0m-1-2h0m-1 3h0m-2 3h0m0-6h0m-1 7h0m0 5h0m0-8h0m-1 4h0m-1-7h0m0 4h0m-1-3h0m0 10h0m-1-8h0m0 3h0m-1 5h0m-1-8h0m-1 6h0m-1-8h0m0 10h0m0-10h0m0-1h0m0 6h0m-1-5h0m-1-1h0m-1 0h0m0 9h0m0-6h0m0 2h0m0-5h0m0 10h0m0-11h0m-1 0h0m0 7h0m-1-3h0m0-5h0m0 11h0m0 1h0m0-7h0m-1 5h0m-1 2h0m0 1h0m-1-11h0m-1 1h0m-1 9h0m0-9h0m0 5h0m-1 4h0m0-5h0m0 3h0m-1 2h0m0-3h0m0 3h0m-3 1h0m0-1h0m0-8h0m-1 6h0m-1-4h0m0-1h0m-1 5h0m0 3h0m0-2h0m0 2h0m-1-2h0m-1 0h0m0-8h0m-1 9h0m0-7h0m0 2h0m-1-5h0m0 1h0m0 6h0m-3-7h0m-1 5h0m-1 3h0m0-10h0m-1 5h0m0-3h0m0 8h0m-3-2h0m0 4h0m-1-4h0m-1 3h0m-1-10h0m0 2h0m-2 6h0m0-4h0m-1-5h0m0 6h0m-1 4h0m-1 0h0m0-4h0m-1 1h0m0-6h0m-1 4h0m-1 3h0m-1 1h0m-4-9h0m0 13h0m-1-8h0m-1-4h0m0 0h0m-1 1h0m-1 5h0m-1 0h0m0 5h0m-1-4h0m0 3h0m-2 2h0m0-7h0m-1-6h0m0 11h0m-2-6h0m0 6h0m-1-9h0m0 11h0m0-2h0m-1-10h0m0 12h0m-2-2h0m-4 2h0m-2-6h0m-3 1h0m-1-3h0m-4 4h0m-128-6h0m-2 3h0m-1 6h0m-4-6h0m-1 0h0m0-5h0m0 9h0m0-10h0m-1 10h0m0 3h0m-2-4h0m0-9h0m-1 0h0m-1 12h0m-2-5h0m0-4h0m0 5h0m0-1h0m0-4h0m-1-3h0m0 13h0m-1-12h0m0 5h0m0-4h0m-1 8h0m-1-2h0m0 1h0m0-4h0m-2 4h0m-1-9h0m0 0h0m-1 4h0m0 2h0m-1-2h0m0 0h0m-1-3h0m-2-1h0m-1 8h0m-2 4h0m-1 0h0m0-6h0m0-5h0m-1 7h0m0-7h0m-3 12h0m-2-13h0m-1 10h0m0-10h0m-2 10h0m0 2h0m0-3h0m-2-6h0m0 0h0m0 9h0m-1-5h0m0 4h0m0 0h0m-2-1h0m0-10h0m0 5h0m-1 4h0m-1-1h0m0-3h0m0-4h0m-1 10h0m-1-10h0m-1-1h0m0 7h0m-1 1h0m0 0h0m0 2h0m-1-10h0m-1 6h0m-2 5h0m-1-3h0m-1-8h0m-1 3h0m0 5h0m0-2h0m0 1h0m-1-2h0m-2 0h0m-1 4h0m0 4h0m-1-10h0m-1 8h0m0-7h0m-2 2h0m-5 5h0m-1-5h0m-1-6h0m0 7h0m0-1h0m-1 3h0m0 4h0m-2-2h0m-2-1h0m0-6h0m-1 5h0m0-3h0m-1 5h0m0-4h0m-1 3h0m0-1h0m-1 0h0m-1-2h0m-3 0h0m-1-4h0m-2 1h0m-1-3h0m0 9h0m-2 0h0m-2-7h0m0-2h0m0 3h0m-1 5h0m0-3h0m-1 2h0m0 2h0m0-9h0m-1 9h0m0-6h0m-1-3h0m-1 7h0m0 0h0m-1-2h0m0 5h0m-2-7h0m0 9h0m-1-6h0m-1 0h0m-1 6h0m-2-12h0m-4 10h0m-3-8h0m-1 0h0m0 4h0m-1 5h0m0-2h0m-1 2h0m0-12h0m0 9h0m-1 2h0m0-6h0m-2 1h0m0 4h0m-1-4h0m0 2h0m-2-3h0m0-5h0m-1 5h0m0 0h0m-2 2h0m-1 6h0m0-1h0m-2-1h0m-1 0h0m0 2h0m-1 0h0m0-6h0m0-1h0m0 7h0m0-11h0m-1 9h0m-1 2h0m0-10h0m0-1h0m-1 4h0m0 6h0m-1-3h0m0-4h0m0-3h0m-1-1h0m0 0h0m0 12h0m-1-1h0m-1-1h0m0-11h0m0 13h0m-2-12h0m0 0h0m-1 12h0m0-4h0m-1-4h0m0 6h0m-1-6h0m0 0h0m-1 2h0m0 3h0m0-4h0m-2-2h0m0 9h0m0-11h0m-1 1h0m0 3h0m-1-3h0m0 4h0m-1 5h0m0-8h0m-1 0h0m0 1h0m-1 1h0m-1-6h0m-2 4h0m-1-2h0m-1-2h0m-1 2h0m-1-2h0m-1 6h0m0 1h0m-1-5h0m0 6h0m-1-6h0m-2 2h0m0 4h0m-2-3h0m-1 4h0m-1 4h0m-1-2h0m0 1h0m0-6h0m-8 9h0m5 12h0m1-5h0m1-4h0m2 0h0m1 2h0m1-6h0m2 6h0m1 2h0m0-4h0m2 6h0m0-6h0m0-4h0m2 13h0m1-6h0m1-4h0m0-1h0m0 7h0m0 2h0m2 1h0m1-11h0m0 12h0m1-11h0m0 3h0m0 7h0m1-7h0m0 0h0m3-5h0m0 12h0m1-6h0m0-1h0m0 0h0m1 4h0m0-6h0m1 5h0m0-3h0m0 6h0m4-2h0m1 3h0m1-6h0m1 0h0m0 0h0m1 6h0m1-3h0m0 3h0m1-6h0m0-5h0m1 7h0m0 4h0m0-6h0m0-6h0m0 13h0m1 0h0m1 0h0m0 0h0m0-7h0m1 0h0m0-1h0m0 3h0m1 3h0m0-5h0m0-1h0m1 5h0m1-2h0m0-8h0m1 3h0m0 9h0m0-2h0m1-8h0m1 4h0m2-3h0m2 6h0m0-6h0m1 10h0m2-6h0m1-2h0m0 4h0m1 1h0m1-5h0m0 1h0m0 2h0m2 1h0m0 4h0m0-4h0m0-5h0m1 7h0m1 1h0m1-8h0m0 5h0m0 0h0m1-3h0m1 3h0m1-3h0m0 5h0m0-8h0m0 0h0m1 7h0m2-10h0m2 0h0m2 2h0m0 3h0m1 5h0m0 1h0m3 1h0m0-8h0m1 6h0m0-2h0m0 4h0m1-12h0m0 10h0m1-7h0m1 10h0m0-9h0m1 8h0m2-2h0m1-7h0m0 4h0m0-2h0m0-3h0m4 9h0m0 0h0m0-11h0m1 5h0m0 6h0m0 1h0m2-2h0m0-7h0m1 3h0m1 0h0m0 5h0m1-2h0m0 2h0m1-7h0m1 1h0m0-5h0m1 2h0m1 3h0m0-2h0m1 9h0m0-4h0m0 1h0m2 1h0m0 1h0m0 1h0m0-12h0m1 4h0m0 9h0m0-9h0m2 6h0m1 0h0m0-5h0m0-4h0m1 7h0m0-2h0m0 6h0m0-5h0m1-6h0m0 11h0m0-3h0m1-2h0m1-4h0m0 10h0m1-2h0m1-1h0m3 0h0m0-2h0m2-8h0m0 3h0m2 4h0m0 5h0m2 1h0m2-12h0m2 7h0m1-7h0m0 10h0m1-4h0m2 3h0m2 3h0m0-5h0m0-4h0m0-4h0m1 7h0m1-4h0m0 5h0m1 5h0m1-11h0m1 3h0m0-4h0m1 2h0m1 6h0m0 1h0m1 1h0m1 0h0m1-1h0m2-8h0m0 0h0m6 1h0m3 0h0m2 9h0m2-9h0m4-1h0m0 5h0m0-2h0m3-5h0m2 10h0m1 2h0m10-8h0m11 8h0m52 1h0m12-13h0m4 11h0m12-2h0m0-2h0m2 4h0m3 0h0m3-2h0m5-9h0m14 11h0m4-4h0m0 6h0m4-9h0m1 7h0m2 1h0m0-12h0m3 10h0m0-1h0m0-9h0m1 4h0m0-1h0m1 6h0m0 2h0m2-10h0m1 11h0m0-2h0m2 3h0m1-12h0m3 12h0m4-9h0m2-3h0m0 2h0m2-2h0m1 11h0m1-1h0m1 2h0m1-1h0m1-7h0m0 0h0m2-3h0m0 6h0m1-3h0m0 5h0m1-2h0m0 3h0m0-3h0m0 3h0m0 1h0m1-4h0m0-8h0m1 6h0m0 2h0m1-6h0m0 8h0m0 2h0m0-1h0m1-1h0m0-9h0m0 12h0m1-12h0m0 5h0m1-5h0m0 6h0m1-5h0m0 1h0m0 1h0m1 1h0m1 5h0m0-10h0m1 4h0m1-3h0m1 2h0m1 2h0m1-5h0m2 12h0m0-9h0m1 4h0m3 3h0m1-3h0m1-4h0m1 8h0m1-8h0m2 6h0m0-1h0m1-3h0m1 8h0m1-1h0m0 1h0m0-5h0m0 0h0m2 4h0m0-5h0m0-1h0m1 7h0m0-1h0m1-6h0m1 1h0m0 4h0m3-2h0m2-3h0m0 3h0m1 3h0m1 1h0m1-13h0m0 7h0m1-4h0m0 0h0m1 0h0m0 4h0m1 2h0m1-5h0m1 8h0m1-5h0m0 6h0m2-2h0m0-7h0m0 5h0m0-4h0m1 1h0m0-1h0m0 0h0m0 6h0m1-10h0m0 10h0m1-9h0m1 0h0m0 8h0m1-5h0m1 7h0m1-1h0m0-7h0m1 5h0m0 4h0m1-5h0m1-5h0m1 6h0m1-9h0m2 11h0m0-2h0m1 1h0m0-1h0m1-3h0m1 6h0m0-7h0m0-2h0m1 5h0m0 3h0m0-9h0m2 11h0m1-1h0m2-1h0m2-5h0m6 16h0m-1 1h0m-3-3h0m-1 2h0m0 1h0m-1-7h0m-1-2h0m-1 10h0m-1-4h0m-3 5h0m-2-10h0m-2 0h0m0 1h0m-1 4h0m0-3h0m-1 4h0m-2 6h0m0-13h0m-1 6h0m-1 6h0m0-3h0m-3 4h0m0-11h0m-1 2h0m-1 9h0m-2-6h0m0 3h0m-1-6h0m0 2h0m0 7h0m0-12h0m0 7h0m-1-7h0m-1 1h0m0 1h0m0 9h0m0-1h0m0-4h0m-1-7h0m-1 2h0m0 6h0m0-1h0m-1-7h0m-1 5h0m-1 8h0m-2-7h0m0-3h0m0 8h0m-1-4h0m0 4h0m-2-5h0m0 3h0m0 3h0m0-6h0m-1 0h0m0 7h0m0-9h0m-1 2h0m-1 2h0m0 0h0m0 4h0m-1-7h0m0-3h0m0 9h0m-1-10h0m-2-1h0m0 11h0m0-10h0m-2 7h0m0 3h0m-1-2h0m-2-4h0m-3 3h0m-2-5h0m-1 6h0m-2 1h0m0 0h0m0-6h0m-2 9h0m0-6h0m0-1h0m-1-6h0m-2 0h0m-3 4h0m-1 4h0m0-8h0m-1 13h0m0-1h0m-1-7h0m-1 6h0m-1-3h0m-1 2h0m0-10h0m-1 6h0m0-2h0m0-4h0m-1 3h0m-2 5h0m0-6h0m-1 4h0m0 4h0m0 2h0m-2-12h0m0 4h0m0 2h0m-1 6h0m-1-11h0m0 0h0m0-1h0m0 6h0m0-4h0m-1 9h0m-2-9h0m-3 10h0m-1-11h0m-1 9h0m0-4h0m-3-3h0m-1 1h0m-1 8h0m0-6h0m0 4h0m-2-6h0m-1 8h0m0 0h0m-1 1h0m0-4h0m-1 0h0m0-1h0m-1 2h0m0-8h0m-1 3h0m-1-2h0m0 10h0m-3-12h0m-4 3h0m-2 6h0m-2-3h0m-1 0h0m0 3h0m-1-8h0m0 11h0m0-6h0m0 0h0m0 6h0m0-11h0m0 6h0m-1-3h0m-1 4h0m-1-1h0m-1-6h0m0-1h0m0 11h0m-1-5h0m0 3h0m0-7h0m0 9h0m-2-1h0m0-6h0m-1 6h0m0 0h0m-1 2h0m-1 0h0m0-8h0m-1-1h0m-1 5h0m-1-2h0m0 5h0m-3-1h0m-2 0h0m0-9h0m0 10h0m-2-2h0m0-1h0m0 3h0m-2 0h0m-2-3h0m-1-1h0m-2 3h0m0 1h0m-1 0h0m-1 1h0m-1 0h0m0-6h0m-2 5h0m-1-2h0m-2-5h0m-1 7h0m-1-1h0m0-2h0m-1 3h0m0-8h0m-1 4h0m0 1h0m-3-1h0m-1 0h0m-4 2h0m0-5h0m0-1h0m0 5h0m0-4h0m-1 7h0m0-3h0m0-3h0m-4-1h0m0-2h0m-1 10h0m-1-10h0m0 6h0m-1 2h0m0-10h0m-2 8h0m0-7h0m-5 1h0m-3 10h0m-18-1h0m-2-5h0m-2 4h0m-1-2h0m-9 2h0m-5-1h0m0 0h0m-1-2h0m-1-3h0m0 0h0m-1-2h0m-1 8h0m-1-4h0m-1-2h0m-1 8h0m0-10h0m0 10h0m0-1h0m-1 1h0m0-5h0m0 5h0m-1-4h0m-1-7h0m-2 6h0m0 4h0m-1-12h0m0 10h0m-4-7h0m-1 1h0m-1 7h0m-5-1h0m-4 2h0m-1-4h0m-3-3h0m-2-2h0m0-2h0m-2 6h0m0-2h0m-3-5h0m-1 8h0m0-1h0m-12-5h0m-1 1h0m-1 10h0m0-8h0m-1-5h0m-1 0h0m0 9h0m0-6h0m-1 10h0m-2 0h0m0-2h0m0-2h0m-1-7h0m0 8h0m0 0h0m-2-1h0m0-9h0m-1 3h0m0 6h0m-1 2h0m0-4h0m0-2h0m-1-4h0m-1-1h0m-1 4h0m-2 8h0m0 0h0m-3-8h0m0 5h0m0 4h0m-1-10h0m-1 4h0m0 3h0m-1-6h0m0 2h0m0-1h0m0 6h0m-1-4h0m0-4h0m-1 1h0m-1 2h0m-1 0h0m0 1h0m0-3h0m0 6h0m-1-2h0m-1 2h0m0 1h0m0 0h0m-2 2h0m-1-4h0m0 4h0m-1-4h0m-2 0h0m0-5h0m0 9h0m0-7h0m-1-2h0m0-2h0m-1 6h0m-2-5h0m0 4h0m0 6h0m-1-12h0m0 4h0m-1 7h0m0-8h0m-4-1h0m0 4h0m-1-4h0m-1 4h0m0 1h0m-1-2h0m0-2h0m0-1h0m-1 7h0m0-3h0m0-4h0m0 4h0m0-3h0m-2-4h0m-1 11h0m-1 2h0m-1-10h0m-1-2h0m0 10h0m0-8h0m0 9h0m0-5h0m-1-6h0m0 1h0m0 8h0m-1-4h0m0 7h0m-1-8h0m-2 6h0m0-3h0m-1-3h0m0 0h0m0 1h0m-2-2h0m0 7h0m-1-1h0m0-6h0m-1-4h0m0 11h0m0-6h0m0-5h0m-1 12h0m-1-3h0m0-4h0m-1-3h0m0 2h0m-4-1h0m0 1h0m-1 1h0m-2-3h0m0 1h0m0 6h0m-2 4h0m-2-2h0m-1-5h0m-1 7h0m0-11h0m-1 4h0m-1 6h0m0-7h0m-2-4h0m0 2h0m-3-1h0m-1 4h0m0 7h0m0-1h0m-1-9h0m0 10h0m0-6h0m0-6h0m0 1h0m-1 3h0m0 2h0m0 4h0m-1-3h0m-1 5h0m-2-6h0m0 0h0m0-6h0m-3 7h0m0 0h0m-4-5h0m-1 10h0m-1-13h0m-4 12h0m0 1h0m-1-2h0m0-5h0m-1 5h0m0-10h0m-2 10h0m-1-1h0m0 2h0m0-3h0m-1 1h0m-3-7h0m-2-2h0m0 11h0m-1-3h0m0-9h0m-1 7h0m-2 1h0m-1-7h0m-1 3h0m0 4h0m-3 1h0m0 3h0m-1-5h0m0-6h0m0 4h0m-1 8h0m-1-2h0m0-4h0m-2 2h0m0 0h0m-3-8h0m0 0h0m0 8h0m-1-8h0m-1 5h0m0-1h0m-1 8h0m0 0h0m0-9h0m-2 4h0m-2-4h0m-1 2h0m0-1h0m-1 5h0m0 3h0m-2-12h0m0 7h0m0-1h0m-1-5h0m0 5h0m-2 5h0m-5 3h0m7 3h0m1 0h0m0 3h0m0-7h0m2 8h0m1 0h0m1 4h0m2 0h0m1-1h0m0-1h0m0-10h0m2 13h0m0-5h0m0-6h0m0-1h0m1 4h0m0-5h0m2 4h0m0-4h0m1 5h0m0 5h0m1-2h0m2-5h0m1 5h0m1-1h0m0 2h0m0 3h0m1-2h0m1-2h0m0 4h0m0 1h0m1-10h0m0 4h0m0-2h0m0-3h0m1 9h0m0-2h0m0-3h0m1-5h0m1 9h0m0 3h0m0-1h0m1-4h0m0 1h0m0-1h0m1-1h0m0-6h0m0 5h0m0 1h0m0-6h0m1 9h0m0 2h0m1-11h0m1 2h0m0 5h0m1-7h0m0 7h0m0 0h0m0-4h0m1 0h0m2 9h0m0-3h0m0 3h0m0-7h0m0-2h0m1 8h0m2-7h0m0-1h0m1 0h0m0 0h0m0-4h0m3 9h0m0 4h0m0-12h0m1 12h0m1-10h0m1 10h0m0-2h0m0 1h0m0-7h0m3 7h0m0 1h0m0-6h0m1 2h0m0 0h0m1 0h0m1 1h0m0-5h0m1-1h0m1 6h0m1-5h0m0 4h0m1-9h0m2 12h0m0-2h0m1-4h0m1-6h0m0 6h0m1 2h0m2 2h0m1-5h0m1-5h0m1 8h0m3 0h0m0 5h0m1-5h0m1-2h0m0-6h0m0 13h0m0-12h0m1 4h0m0-2h0m0 9h0m1 1h0m2-7h0m3 7h0m1-1h0m1-7h0m1-2h0m0 5h0m0-6h0m4 3h0m4 8h0m0-3h0m1 1h0m0-4h0m1 5h0m0-4h0m1 3h0m0-4h0m1 2h0m1 2h0m1-10h0m1 1h0m0 11h0m2-10h0m1 3h0m1 4h0m0 2h0m1 1h0m2-7h0m1 3h0m0 2h0m0-8h0m0-2h0m1 11h0m2-4h0m0-7h0m1 1h0m0 8h0m1-4h0m0 7h0m2-9h0m2 7h0m1-4h0m0-2h0m1 2h0m2 1h0m1-2h0m1-4h0m2 1h0m1-2h0m1 6h0m2 1h0m2-4h0m0 7h0m1-8h0m2 6h0m0 4h0m2 0h0m1-2h0m0-6h0m1-3h0m1-1h0m0-1h0m1 11h0m1-8h0m5 5h0m0-3h0m0 7h0m1-4h0m0 1h0m0 4h0m0-9h0m1 5h0m1 0h0m0 1h0m0-7h0m0-2h0m0 11h0m1-5h0m1 3h0m0 2h0m0-6h0m1 4h0m2-3h0m1 6h0m1-2h0m0-1h0m0-10h0m0 13h0m0-12h0m1 5h0m0 4h0m0-10h0m0 6h0m1-5h0m1-1h0m0 0h0m1 7h0m0 4h0m0-4h0m0-4h0m3 8h0m2-1h0m0 1h0m0-5h0m3-4h0m0 10h0m0-9h0m0 6h0m1-9h0m2 4h0m2-4h0m1 12h0m1-7h0m0 2h0m1-6h0m0 6h0m2 6h0m0-8h0m2-5h0m0 10h0m0 2h0m1-8h0m3 4h0m0-1h0m1 5h0m1-11h0m0 1h0m1 8h0m1 3h0m1 0h0m3-11h0m1 6h0m2 0h0m0-6h0m1 6h0m0-7h0m0 3h0m1 1h0m1 5h0m0-1h0m1-7h0m2-1h0m1 7h0m0 0h0m0 1h0m2 3h0m0-3h0m1-1h0m2-1h0m2 1h0m1-8h0m0 8h0m3-5h0m1 4h0m1-1h0m2-2h0m0-2h0m0 6h0m0 3h0m1-5h0m0 3h0m2-3h0m1 3h0m1-1h0m0-8h0m3 7h0m0-2h0m0 4h0m1-1h0m5 0h0m2-2h0m1 5h0m2-4h0m1 2h0m1 4h0m1-11h0m0 4h0m0 1h0m2-5h0m1 6h0m0-8h0m1 10h0m2-7h0m1-2h0m1 12h0m1-8h0m3-2h0m1 9h0m1-12h0m1 3h0m0 4h0m1 1h0m1 0h0m0-7h0m1 0h0m1 5h0m1 1h0m2-7h0m0 12h0m3-3h0m0-5h0m1 4h0m1-3h0m1 3h0m1-4h0m2 9h0m0-12h0m0 1h0m1 6h0m0 3h0m1 2h0m0-12h0m0-1h0m0 11h0m1-8h0m0 1h0m0 6h0m1-7h0m1 7h0m0-10h0m1 6h0m1-3h0m0 6h0m2 4h0m1-5h0m0 5h0m0-3h0m1 0h0m0 1h0m0-10h0m0 12h0m0-3h0m1 3h0m1-3h0m0 0h0m0 0h0m2-10h0m0 3h0m0-1h0m0 5h0m0 1h0m1 5h0m0-13h0m2 12h0m0-9h0m0 0h0m0 8h0m0-11h0m1 3h0m0 7h0m0-1h0m0-4h0m1-1h0m0 3h0m0-4h0m0 5h0m0-6h0m1 2h0m0 8h0m1-12h0m1 7h0m0 5h0m1-3h0m0 0h0m1-5h0m1-1h0m1 3h0m1 5h0m0 2h0m0-3h0m0 2h0m1-5h0m0-4h0m1 7h0m0-1h0m0-3h0m1 1h0m0 6h0m0-11h0m1 0h0m0 2h0m1 6h0m0-2h0m0 3h0m1-4h0m1 1h0m0-6h0m1 9h0m0-4h0m0-1h0m1-3h0m1 10h0m0-5h0m0 5h0m0-1h0m0-10h0m0 2h0m1-1h0m2 8h0m0-9h0m1 2h0m1 2h0m1-2h0m0 6h0m3-8h0m1 2h0m2 0h0m0-4h0m0 7h0m1-6h0m1 2h0m0 9h0m0-5h0m1 2h0m1-9h0m1 13h0m1-13h0m1 6h0m0-3h0m1 6h0m0 0h0m0-9h0m1 13h0m0-8h0m0-2h0m0-3h0m0 1h0m1 11h0m1-1h0m0-10h0m0 12h0m0-1h0m1-10h0m1-2h0m1 11h0m0-8h0m0 3h0m0 4h0m1-4h0m1 3h0m2-9h0m0 10h0m2-6h0m0 4h0m1 2h0m0 3h0m0-5h0m1-1h0m0 5h0m1-8h0m1 1h0m0-1h0m1 5h0m1-2h0m0-2h0m0-1h0m1 1h0m0 8h0m0-12h0m0 1h0m0-1h0m1 12h0m0-12h0m2 0h0m0 3h0m1-2h0m0 7h0m0-8h0m0 8h0m0-8h0m1-1h0m0 5h0m1 7h0m0 0h0m1-2h0m0 3h0m0 0h0m0 0h0m0-5h0m1-1h0m2-4h0m1 7h0m0-5h0m0-4h0m1 5h0m0 0h0m1-5h0m0 5h0m0 5h0m1-4h0m0-3h0m0 0h0m2 1h0m1 2h0m0-6h0m1 5h0m2-6h0m0 8h0m2-1h0m0-3h0m0-1h0m2 1h0m1 2h0m1-3h0m0-2h0m1 2h0m1-1h0m0 11h0m0-7h0m1-5h0m0 6h0m0 0h0m0 3h0m0-2h0m1 3h0m1-8h0m0-3h0m1 8h0m0-2h0m1-4h0m0 6h0m1-8h0m0 4h0m1-2h0m0 0h0m0 3h0m0 6h0m3 1h0m0-5h0m2 3h0m1-3h0m1 4h0m1 2h0m2-7h0m1 7h0m0-6h0m1 0h0m2-7h0m0 7h0m0 3h0m1-8h0m1 5h0m0 0h0m1 4h0m0-11h0m2 13h0m1-8h0m0 8h0m2 0h0m0-11h0m0 2h0m1 5h0m0 4h0m1-2h0m1 1h0m1-12h0m1 0h0m1 8h0m3-5h0m3 10h0m0-1h0m5-1h0m1 2h0m1-8h0m0 5h0m1-5h0m0 5h0m1-4h0m0-1h0m1 8h0m1-13h0m0 3h0m0 7h0m0-6h0m1 3h0m1-2h0m0 4h0m0-8h0m1 1h0m2 0h0m1 3h0m0-4h0m1 5h0m0 1h0m2-4h0m0 6h0m6-5h0m11 22h0m-6-4h0m-2 3h0m-4-2h0m0-7h0m-2 5h0m0-1h0m-1-3h0m0 9h0m0-10h0m-1 4h0m-1-2h0m0 6h0m0-3h0m-1 2h0m-1 4h0m-2-13h0m-1 8h0m-1 3h0m-1-4h0m0 3h0m0-2h0m0 0h0m-1-5h0m0 6h0m-1 2h0m-1-8h0m0 6h0m0-2h0m-2 2h0m0 3h0m-1-8h0m-2 8h0m0-4h0m-1-6h0m-1 11h0m-1-7h0m0 5h0m-2-8h0m0-1h0m0-2h0m-1 5h0m0-5h0m0 10h0m-3 1h0m-1-11h0m0 8h0m-1 4h0m-1-4h0m0 4h0m-1-2h0m0-9h0m-1 5h0m0-4h0m0 3h0m-1 6h0m0-9h0m0 8h0m0 1h0m0-9h0m-1-1h0m0 1h0m0 7h0m-1-2h0m0 6h0m0-10h0m0 2h0m0-3h0m0-2h0m-1 9h0m-1-2h0m-3-6h0m0-1h0m-2 13h0m-1-7h0m-2-1h0m0 5h0m-1-1h0m0-3h0m0-6h0m-1 2h0m0 5h0m-1 2h0m0-5h0m0 1h0m-1 4h0m-2-5h0m0-1h0m0 5h0m0 3h0m-1-4h0m-2-3h0m0 8h0m0-2h0m-1-1h0m0-9h0m-2 9h0m0-7h0m0 6h0m-1 0h0m0-3h0m0 0h0m-1-4h0m0 7h0m-1-4h0m0 7h0m-1-6h0m-1 4h0m0-5h0m-1-2h0m-1 3h0m0 5h0m0-10h0m-1 8h0m-1-4h0m0 9h0m0-3h0m0-9h0m0 11h0m-1-9h0m-1 9h0m-1-9h0m-1 6h0m-1 1h0m-1 0h0m0-2h0m-1-6h0m0 6h0m0-7h0m-1 11h0m-1-12h0m-1 12h0m0-11h0m0 8h0m0 0h0m-1 2h0m0-5h0m-1 6h0m0-3h0m-1 2h0m0 1h0m0-4h0m-1-4h0m-2 3h0m-1 5h0m-1-9h0m0 3h0m-2-1h0m-1 1h0m0-6h0m-1 6h0m-1-6h0m-1 4h0m-1-3h0m0 12h0m0-13h0m-2 4h0m-1-3h0m0 2h0m0-3h0m-3 0h0m0 9h0m-1-2h0m0-2h0m-1 5h0m0-3h0m0 3h0m-1-4h0m0 1h0m-1 1h0m0 2h0m-2-7h0m0 5h0m0 2h0m0 0h0m-1-3h0m-1-7h0m0 5h0m0 3h0m-1-3h0m0-2h0m0 3h0m0-3h0m0 5h0m0 0h0m-3-1h0m-1 4h0m0 2h0m0-13h0m0 9h0m0-3h0m-1 3h0m0-6h0m-1 2h0m-2 5h0m0-8h0m-1 7h0m-1 2h0m0-2h0m-1-4h0m-2-2h0m0-3h0m0 7h0m-1 5h0m-2-10h0m0 4h0m-1 7h0m-2-1h0m-1-8h0m-2 9h0m0-13h0m-4 8h0m0 4h0m0-2h0m0-7h0m0 10h0m-2-5h0m0 3h0m0 1h0m0-5h0m0-2h0m-1-1h0m-1 1h0m0 4h0m0-1h0m-1 3h0m0 0h0m-1-9h0m0 8h0m0 2h0m0-12h0m0 4h0m-1 8h0m0-5h0m-1 2h0m0-2h0m0-7h0m-1 0h0m0 12h0m0-12h0m-1 9h0m-1-1h0m-1 2h0m0-10h0m0 1h0m-1 8h0m0 1h0m-1 3h0m0-7h0m0 7h0m-1-2h0m0-9h0m-2 1h0m-1 8h0m0-9h0m-2-1h0m-1 3h0m-1 0h0m-1-2h0m0 7h0m0-6h0m-2-3h0m-1 7h0m0-4h0m0 9h0m0 0h0m-1 0h0m-1-3h0m0-8h0m-1 11h0m0 1h0m-3-9h0m0 7h0m-2-7h0m0 8h0m-5-5h0m-1 0h0m0-5h0m0 1h0m-1 10h0m-1-2h0m0-1h0m0-10h0m-1 12h0m-1 1h0m0 0h0m0-6h0m-1-2h0m0 5h0m0-9h0m-1-1h0m0 7h0m0-3h0m-2 1h0m-1 8h0m-1-2h0m-3 0h0m0-5h0m-1-3h0m0 8h0m0-3h0m-1-6h0m-1 3h0m0 4h0m0 1h0m-1-9h0m-1 12h0m-1-13h0m-1 4h0m0 5h0m-1 0h0m-1 4h0m-3-12h0m0 11h0m-2 1h0m-1-1h0m-1-8h0m-3-3h0m0-1h0m-1 7h0m0-2h0m-1 4h0m-1 4h0m0-11h0m-1 10h0m-1-6h0m-4-3h0m-4 7h0m-1-1h0m-1-4h0m0 6h0m0-10h0m-1 1h0m-2 7h0m0-1h0m-2-8h0m0 10h0m-1-6h0m0 1h0m-1-2h0m-1 9h0m-1-6h0m-1 7h0m-1-2h0m-1-1h0m-1 3h0m-2-3h0m-1-5h0m0 2h0m0 6h0m-1-8h0m0 0h0m0 3h0m-1 1h0m0-2h0m-1 3h0m0-3h0m-1 2h0m-1-6h0m-1 1h0m0 5h0m-1 0h0m0-2h0m0-5h0m-3 6h0m0 3h0m-1-9h0m0 6h0m0-5h0m-1-2h0m0 5h0m-2-5h0m0 8h0m0-3h0m0 0h0m-1 3h0m0-2h0m-1-4h0m0 8h0m-1-3h0m0 4h0m0-4h0m0 4h0m0-11h0m-1 3h0m0 0h0m-1 7h0m0-4h0m0-1h0m0-5h0m-1 3h0m0 5h0m-1 3h0m0-8h0m-2-4h0m0 11h0m0-5h0m-1 0h0m0 5h0m0-9h0m-1 6h0m0 4h0m-1-12h0m-2 5h0m-1-5h0m-3 8h0m0 5h0m-1-9h0m-1-4h0m0 10h0m-1-4h0m-4-6h0m0 2h0m0-2h0m0 5h0m-1-4h0m0 6h0m0-6h0m-2 3h0m-1-3h0m-2 10h0m-1-8h0m0 5h0m0 3h0m-1-11h0m0 4h0m0 2h0m0 4h0m-2 2h0m-1-12h0m-2 0h0m-1 10h0m-1 3h0m0-1h0m0-3h0m-1-3h0m0-4h0m0-2h0m-1 4h0m0 4h0m-1 3h0m0-8h0m-1 6h0m0 2h0m-1 1h0m0-1h0m0 2h0m0-1h0m0-9h0m-1 6h0m-1-9h0m0 5h0m-1-1h0m0-4h0m-2 0h0m-1 6h0m-3-3h0m-2 2h0m-2 7h0m0-1h0m-1 1h0m0-10h0m-2 9h0m0-8h0m0 3h0m-2 4h0m0-4h0m-1 3h0m-1 1h0m-1-2h0m0-3h0m-1 0h0m0 8h0m-1 0h0m-1-3h0m0 2h0m-1-6h0m0 4h0m0-7h0m0 7h0m-1-7h0m-1 0h0m-2 8h0m-1-3h0m0-7h0m-2 3h0m0 3h0m-1-6h0m0 8h0m-1-1h0m0-6h0m-1 11h0m-1 0h0m-1-2h0m0-7h0m0 8h0m-2 1h0m0-12h0m0 8h0m-1 1h0m-1-3h0m0-3h0m-1-1h0m-1 10h0m0-4h0m-1-1h0m-1 2h0m0-3h0m0-3h0m-1 7h0m0 0h0m-1-4h0m0 0h0m-1 5h0m-1-8h0m0 3h0m-2-3h0m0 3h0m0-3h0m-1-2h0m-1 2h0m0 7h0m-1-10h0m0 5h0m-1 7h0m-1-2h0m-1 0h0m0 1h0m0-1h0m-1 1h0m-2-8h0m-1 1h0m-1-4h0m0 0h0m-1-1h0m0 9h0m0-8h0m-1 7h0m0 5h0m-1-6h0m0 6h0m-1-2h0m-1 2h0m-1-9h0m-1 1h0m0 5h0m0-8h0m-1 7h0m-1 2h0m0-11h0m-2 8h0m0-8h0m-1 7h0m-1 1h0m0 3h0m-1-4h0m-1 6h0m0-10h0m0 7h0m0-3h0m0 4h0m-2-6h0m-1 8h0m-1-1h0m0 1h0m0-7h0m-1 4h0m-1 0h0m-1-6h0m0 5h0m0 2h0m-1-11h0m0 9h0m-1 4h0m0-3h0m-1-5h0m-1-4h0m0 1h0m-1-1h0m0 10h0m0-8h0m-1 4h0m-1-2h0m-1 0h0m0 1h0m-1 5h0m-1 2h0m0-2h0m-2-5h0m0 2h0m-1-1h0m0-2h0m0 5h0m-1-4h0m0 4h0m-1-8h0m0 6h0m-1-5h0m0-2h0m-2 0h0m-1 6h0m0-2h0m-2 2h0m0-6h0m-1-1h0m-3 2h0m-1 5h0m0 3h0m-1-1h0m-1-2h0m-1-3h0m0 1h0m0-3h0m0 10h0m-1-7h0m-1 4h0m0-8h0m-1 10h0m-2-5h0m-1-4h0m0 10h0m0 0h0m-1-6h0m0 6h0m-1-12h0m0 0h0m0 7h0m-4-6h0m-3 0h0m0 8h0m0-3h0m-4 6h0m-1-11h0m-5 22h0m3 4h0m3-1h0m4-1h0m1-9h0m0 10h0m1-2h0m0-1h0m0-9h0m2 1h0m0-1h0m4 3h0m4 8h0m1 1h0m2-6h0m1-3h0m1 10h0m0-1h0m0-8h0m1 8h0m0-1h0m1-3h0m0 3h0m0-2h0m1 2h0m2-1h0m1-4h0m1 0h0m1 2h0m1 0h0m1-8h0m2 4h0m2-4h0m1 9h0m1 2h0m1-6h0m0-1h0m1 3h0m1-4h0m0-2h0m2 4h0m0 4h0m1-7h0m1 2h0m1-4h0m0 12h0m2-1h0m1-7h0m1 2h0m0 0h0m2-4h0m0 0h0m2-1h0m1 4h0m0 1h0m0 2h0m0 5h0m1-6h0m0-2h0m0 2h0m0 3h0m1-2h0m0-8h0m1 7h0m0-2h0m1 6h0m1 2h0m0-13h0m2 13h0m0-3h0m0-4h0m0 7h0m1-10h0m1 7h0m1-4h0m1-6h0m1 2h0m0 4h0m3 1h0m0 3h0m2-7h0m1 1h0m0 8h0m0-12h0m0 3h0m1 6h0m0 0h0m0 1h0m1-3h0m1-1h0m0 0h0m1 3h0m0-4h0m0-4h0m1 5h0m1-3h0m1 6h0m1-8h0m0 8h0m1-8h0m0 12h0m0-1h0m1-11h0m0 5h0m2 7h0m0-12h0m0 5h0m0-3h0m1 6h0m0 3h0m1-8h0m0-1h0m0 3h0m1 4h0m1-8h0m1 10h0m0-10h0m1-1h0m1-1h0m0 3h0m0 2h0m0-2h0m0 3h0m1-5h0m0-1h0m0 9h0m1-5h0m0 4h0m2 5h0m1-6h0m0-5h0m1-2h0m0 2h0m1 5h0m0-7h0m0 0h0m0 0h0m0 13h0m0-9h0m2 3h0m0-1h0m0 5h0m1-10h0m0 10h0m0-1h0m1-7h0m1 5h0m1 5h0m0-2h0m1-4h0m0-5h0m0 10h0m0-11h0m0 3h0m0-3h0m1 2h0m0-2h0m0 6h0m1-4h0m0 0h0m1 9h0m0-11h0m1 0h0m0 11h0m1-6h0m0 3h0m1 0h0m0 2h0m0-10h0m3 4h0m0-1h0m0 3h0m0 4h0m0-3h0m1-4h0m0-2h0m1 4h0m0-4h0m1-2h0m0 5h0m2 2h0m1 4h0m1-2h0m0-9h0m0 3h0m1 0h0m0 10h0m0-12h0m0 9h0m0-9h0m1 0h0m0-1h0m0 0h0m0 6h0m1-6h0m1 7h0m0-1h0m0 7h0m0-8h0m0 2h0m1 4h0m1 2h0m1-8h0m0-4h0m0 9h0m0-8h0m1 8h0m0-5h0m0 0h0m0-3h0m0 9h0m1-11h0m0 3h0m1 3h0m1 1h0m1 2h0m0 0h0m1-4h0m0-4h0m1 3h0m0 4h0m1-2h0m0 3h0m0 4h0m0-4h0m1-1h0m0 5h0m0-4h0m0-5h0m0 3h0m1-2h0m0 3h0m0 1h0m0-3h0m0-2h0m1 7h0m0-8h0m1 7h0m0-3h0m0 5h0m0-8h0m1 6h0m0-10h0m0 12h0m0-12h0m0 6h0m0-3h0m2-2h0m1 7h0m0-7h0m0 2h0m0 3h0m0-5h0m1 2h0m0-1h0m0-2h0m0 7h0m0-3h0m0 8h0m2-8h0m0 9h0m0-3h0m0-4h0m1 7h0m1-1h0m3-1h0m1-1h0m0-6h0m1-2h0m0 5h0m0 3h0m1-5h0m1 2h0m1-3h0m1 7h0m0-2h0m0 2h0m0-7h0m0-2h0m1 9h0m0 1h0m1-5h0m0 6h0m1-10h0m0 0h0m0 5h0m0-3h0m1 0h0m0 8h0m1-10h0m1 6h0m0 3h0m0-4h0m3 5h0m1-12h0m2 12h0m1-8h0m0 8h0m1-11h0m0 8h0m1 1h0m0 0h0m3-1h0m0 0h0m0-4h0m1 6h0m2-11h0m0 1h0m1-1h0m0 4h0m1-1h0m1 1h0m2-1h0m2-4h0m0 7h0m2 3h0m0-10h0m0 11h0m1-1h0m0-5h0m0-1h0m1 5h0m1 1h0m1 2h0m1-1h0m1-11h0m1 12h0m1-8h0m0 7h0m2-7h0m1 3h0m0-5h0m2 3h0m4 4h0m1-8h0m0 6h0m1 4h0m1-2h0m1-4h0m0 5h0m1-9h0m0 6h0m0-2h0m1 7h0m0-6h0m0 1h0m1-1h0m1-3h0m0-3h0m1 4h0m1 0h0m0-3h0m1 1h0m1 3h0m1 8h0m1-3h0m1 1h0m2-8h0m1 0h0m0-3h0m0 0h0m1 0h0m0 10h0m1-3h0m1 6h0m0-8h0m0-5h0m2 7h0m1 6h0m0-10h0m1 3h0m1-3h0m1 7h0m1-7h0m0-1h0m1 5h0m0-4h0m1 7h0m1-10h0m2 5h0m0-2h0m0 9h0m0-7h0m0 8h0m1-4h0m0-6h0m1-3h0m0 4h0m1-2h0m1 7h0m1-6h0m0-3h0m1 6h0m0 5h0m0-4h0m3 5h0m1-10h0m0 7h0m1 1h0m0 3h0m1-3h0m1-5h0m0 2h0m0 6h0m0-6h0m1 3h0m1-8h0m0 5h0m1-4h0m1 5h0m0-3h0m2 7h0m0-4h0m2 3h0m1-7h0m0 6h0m0-9h0m0 9h0m1-1h0m0-5h0m1-2h0m1 0h0m1 10h0m0-11h0m2 4h0m0 7h0m0-10h0m1 6h0m0-1h0m0-3h0m0 4h0m3-1h0m1 1h0m0-6h0m1-2h0m0 0h0m1 5h0m0-5h0m1 12h0m0-6h0m0-4h0m0 4h0m1-2h0m2-4h0m0 7h0m0 3h0m0-7h0m1 7h0m1 3h0m0-6h0m1-7h0m0 3h0m1 2h0m0 2h0m0 2h0m0-2h0m1 5h0m0-5h0m1 1h0m0 3h0m0-7h0m0-2h0m1-2h0m0 5h0m1-5h0m1 11h0m1-5h0m1 6h0m0-9h0m0 4h0m1-7h0m0 2h0m1 7h0m0-1h0m1-6h0m0 0h0m1 1h0m0 0h0m0 9h0m1-1h0m0-7h0m0 1h0m1 5h0m0-2h0m1-6h0m1 4h0m0 6h0m0-4h0m0-6h0m0 0h0m0 7h0m1 3h0m1-10h0m0-2h0m0 1h0m1 6h0m0 2h0m0 1h0m0-1h0m0-5h0m1 5h0m0-4h0m0-5h0m0 2h0m1 3h0m1-2h0m1 1h0m0-3h0m1 12h0m0-1h0m0-5h0m0 1h0m1-1h0m0 0h0m0-5h0m3 4h0m0-5h0m1 4h0m1 6h0m1-11h0m1 1h0m1 11h0m2-4h0m0-1h0m1-2h0m0-2h0m0 2h0m3 6h0m0-4h0m0 1h0m1-5h0m1 3h0m1-1h0m1-3h0m0 1h0m0-2h0m1 2h0m0 1h0m1 6h0m0-2h0m2 4h0m0-9h0m1 10h0m0-10h0m0 2h0m1 7h0m0-1h0m0-10h0m1 6h0m0 6h0m2-1h0m0-3h0m1-6h0m1 7h0m1-6h0m1 6h0m0-3h0m1 4h0m0-7h0m1 8h0m0-5h0m0-3h0m0 8h0m0-4h0m1-6h0m1 11h0m1-10h0m1 2h0m1-3h0m1 3h0m1 5h0m0-7h0m1 1h0m2 6h0m1-3h0m0 3h0m0-5h0m2-2h0m2 4h0m0-6h0m2 1h0m2 4h0m0-6h0m1 10h0m1 1h0m3-8h0m1 4h0m7-1h0m0-2h0m0 2h0m1-3h0m0 6h0m0-7h0m0 2h0m1 5h0m0-5h0m0-4h0m0 10h0m1 0h0m0-10h0m1 11h0m3-3h0m0 2h0m2-9h0m0 11h0m1-7h0m3 7h0m2 1h0m0-3h0m1-4h0m1 5h0m2 2h0m0-5h0m1-1h0m1-3h0m0-2h0m2 9h0m1-7h0m1-2h0m0 1h0m0 4h0m1 1h0m0 0h0m1 1h0m0 1h0m2 2h0m1 0h0m0-1h0m0-10h0m1 10h0m0-11h0m0 6h0m0-4h0m2 10h0m0-3h0m1 0h0m0-9h0m0 10h0m0-4h0m0 3h0m1-4h0m0 8h0m3-5h0m1-4h0m1-2h0m1 7h0m2 4h0m1-4h0m1-1h0m0 3h0m0-11h0m0 3h0m1 6h0m0-4h0m1 5h0m0-6h0m2 0h0m1 3h0m0-6h0m0 6h0m1 0h0m1-6h0m1 4h0m0 1h0m1-3h0m1 7h0m1-2h0m1-2h0m0-6h0m2 12h0m1-3h0m0-1h0m1-1h0m2 2h0m0 4h0m0-4h0m1-2h0m0-5h0m1 2h0m2 8h0m-1 10h0m-1 0h0m-1-8h0m-1 5h0m0-2h0m-1 4h0m-1-6h0m-1 0h0m-1-1h0m0 10h0m0-5h0m-1 1h0m0-6h0m0 11h0m0-2h0m0-2h0m-1 6h0m0-12h0m-1 11h0m-2-8h0m0 6h0m-1-5h0m0-4h0m-1 11h0m-1-11h0m-1-1h0m0 10h0m-1-5h0m0 1h0m0-3h0m0 6h0m0 1h0m-1 3h0m0-6h0m0-1h0m0-6h0m0 5h0m-1 5h0m-1 3h0m-2-7h0m-2 7h0m-1-12h0m0 6h0m0 5h0m-4-6h0m0-2h0m-1-2h0m0-1h0m-2 7h0m0 4h0m0-11h0m-1 8h0m0-3h0m-2-3h0m0-3h0m0 3h0m0 4h0m-1-4h0m0-3h0m-1 8h0m0-6h0m0 11h0m0-10h0m0 5h0m-2-4h0m-1 2h0m0 7h0m0-3h0m0-8h0m-1-1h0m0 4h0m-1 1h0m-1-1h0m0 5h0m-2-6h0m-3-2h0m-1-2h0m-1 9h0m0 3h0m-1-1h0m-1-3h0m0-4h0m-1 6h0m0-2h0m0 1h0m0-6h0m0 7h0m0-3h0m0-5h0m-2-1h0m-1 12h0m0-7h0m0-3h0m0-1h0m-1 5h0m0 0h0m-1 1h0m0 1h0m-1 4h0m0-11h0m-1 9h0m0 0h0m0 1h0m-1-7h0m0 4h0m-1 3h0m-1 1h0m0-10h0m0 7h0m-2-6h0m-1 4h0m-1 1h0m0 4h0m0-5h0m-1-6h0m0 6h0m-1-5h0m-2 2h0m-1 2h0m0 3h0m0 1h0m-2 1h0m0-8h0m-2 5h0m-2 4h0m-1-11h0m0 9h0m-2-9h0m0 9h0m-1-10h0m0 10h0m-1 1h0m-2-5h0m-3 2h0m0-7h0m0 10h0m-1-1h0m0-10h0m0 12h0m-1-10h0m0 4h0m-3-4h0m-3-3h0m-1 1h0m0 10h0m0-10h0m-1 11h0m-1 0h0m0-12h0m0 11h0m-1-11h0m0 1h0m0 7h0m0 3h0m0-8h0m-2 1h0m-1 3h0m0 1h0m0-7h0m-1 9h0m0 1h0m-1-5h0m0 7h0m-2-5h0m0 2h0m0-4h0m0 6h0m-1-12h0m0 1h0m0 8h0m0-7h0m-1 9h0m0-9h0m0 1h0m-2-2h0m0-1h0m-1 4h0m0-1h0m0 1h0m-1 4h0m0-4h0m0 9h0m0-1h0m-1-7h0m0 3h0m0-6h0m-1 5h0m0-3h0m-1 1h0m0 4h0m0-9h0m0 8h0m-1-4h0m0 5h0m0-4h0m-1 7h0m-1 0h0m0-4h0m-2-7h0m0 5h0m0 3h0m-1-4h0m-1-2h0m0 1h0m-1-4h0m-1 3h0m0 3h0m-2-5h0m-4 8h0m-1-5h0m0 6h0m-1-8h0m-1 9h0m-1-5h0m0-3h0m0 10h0m0-11h0m-1 1h0m0 1h0m0 5h0m-1-1h0m0-7h0m-1 4h0m0-5h0m0 10h0m-1-3h0m0-6h0m0 4h0m-1-3h0m0 7h0m0-3h0m0-2h0m0 0h0m-1 0h0m0 4h0m-1 1h0m-2 2h0m-1-3h0m-2-7h0m-2 10h0m-2 1h0m-1-3h0m0-4h0m0-1h0m-2 6h0m-1-1h0m0-3h0m-1 1h0m-1 5h0m0-9h0m0 9h0m0 1h0m-1-5h0m0 5h0m0-1h0m-1-4h0m0 4h0m-2-1h0m0-8h0m0 2h0m-2 3h0m-2-3h0m-1-4h0m-1 0h0m-1 2h0m0-3h0m-1 10h0m-4-8h0m-1 6h0m0 0h0m-1-8h0m0 12h0m-1-10h0m0 1h0m-2 0h0m-1 0h0m-2 2h0m-2-1h0m0-4h0m0 2h0m-1 0h0m-2 7h0m0-9h0m-1 4h0m0-2h0m0-1h0m-1 6h0m-1-3h0m0 9h0m0-2h0m-1-2h0m-1 3h0m0-2h0m-2-5h0m0 3h0m0 2h0m-2-9h0m-2 7h0m0 4h0m0-6h0m-1 2h0m0 3h0m-6 2h0m-1-11h0m-2 7h0m0 4h0m-1-12h0m-1 2h0m0 8h0m0-11h0m-1 9h0m-1-2h0m0-5h0m-2 0h0m-1 5h0m0 0h0m0 5h0m0-8h0m0-2h0m-1 4h0m0 3h0m-2-5h0m0 3h0m-1-7h0m-2 6h0m0 1h0m-1-2h0m0 5h0m-1 2h0m0-7h0m0 6h0m-1-10h0m-1 9h0m-1-2h0m-1 3h0m0 2h0m-1 0h0m-2 0h0m0-11h0m0 2h0m-1 8h0m0-2h0m-1 2h0m-2-2h0m-1-6h0m-1 4h0m-2-7h0m-1-1h0m-2 5h0m0 2h0m0-6h0m-2 5h0m0 5h0m0 0h0m0-3h0m0-8h0m0 9h0m-1 1h0m0 0h0m0-9h0m0 5h0m0 1h0m-1 4h0m-1 1h0m-1-9h0m0 9h0m0-8h0m-1-2h0m-1 5h0m0 5h0m-1-4h0m0-3h0m-1-1h0m-2 1h0m0 4h0m-1-1h0m-1-7h0m-1 2h0m0 8h0m-1-11h0m0 6h0m-1 3h0m0-4h0m-1 3h0m-1-8h0m-1 9h0m0-4h0m0 7h0m-1-1h0m-1-5h0m0 4h0m-1 1h0m0 0h0m0-2h0m-1 3h0m0 0h0m0-11h0m-1 1h0m-1 11h0m0-7h0m-1 7h0m0-10h0m0 6h0m-1-2h0m0-1h0m-1 7h0m-1-3h0m-1 3h0m0-12h0m-1 2h0m0 8h0m0-1h0m-1-7h0m-3 2h0m0-2h0m-2-3h0m0 4h0m-1-1h0m0 2h0m0 6h0m-2-9h0m0 10h0m-1-7h0m-1 4h0m0 3h0m0-12h0m0 8h0m0 0h0m-1 4h0m0 0h0m0-6h0m-1 5h0m0 0h0m-1 2h0m-1-11h0m0 4h0m0 2h0m0-7h0m0-1h0m-1 2h0m0 8h0m-1-8h0m0 5h0m0 2h0m-1-1h0m0 4h0m-1-4h0m0-7h0m0 7h0m-1-3h0m0-3h0m0 6h0m0-6h0m-1 3h0m0 8h0m-1-11h0m0 6h0m0-6h0m-1 4h0m-1 1h0m0-7h0m-1 10h0m-1-8h0m0 9h0m0 1h0m0-7h0m0 7h0m-2-10h0m0 5h0m0 2h0m-1-5h0m0-3h0m0 4h0m0-4h0m0 6h0m0-5h0m-1 11h0m0-5h0m0-1h0m0-7h0m-1 10h0m0-10h0m-1 2h0m0 8h0m0-5h0m0 4h0m0-2h0m-1 5h0m0 1h0m-3-13h0m-1 3h0m0 1h0m-2-1h0m-1 7h0m-1-8h0m0 5h0m-1 0h0m0 6h0m0-2h0m-1-8h0m0 3h0m-1 7h0m-1-2h0m0-4h0m-2 2h0m-1 1h0m0 1h0m-1-7h0m0-2h0m0 7h0m0 2h0m-1-4h0m0-3h0m-1 6h0m0-1h0m0-7h0m-1-1h0m-1 7h0m-1 4h0m0-2h0m0-6h0m0 2h0m-1 0h0m0-3h0m-1 8h0m-1-8h0m-1 8h0m0-10h0m-1 9h0m0 1h0m0-8h0m-1-1h0m-1 11h0m-1 0h0m0-6h0m0-7h0m-1 9h0m-2-1h0m-2-6h0m-1-2h0m0 13h0m0 0h0m-1-12h0m-1 0h0m-1 11h0m-3-1h0m0 0h0m0-9h0m-2 0h0m0 3h0m-1 1h0m-1-4h0m0 6h0m0-4h0m0 5h0m-1-4h0m0-3h0m-1 3h0m0-5h0m-1 4h0m0 2h0m0-3h0m-1 4h0m0 0h0m-1 6h0m-1-11h0m0 4h0m0-2h0m-1 6h0m0-7h0m-3-2h0m0 4h0m0 7h0m-1-6h0m-1-1h0m0 2h0m0 6h0m-1-8h0m0 5h0m-1 2h0m0-4h0m-1 3h0m0-7h0m0-3h0m0 5h0m0 1h0m-1-1h0m-1 2h0m-2-2h0m-1-6h0m0 0h0m0 11h0m0-3h0m-1-7h0m0 10h0m0-1h0m-3-2h0m-1 1h0m-1-2h0m0 6h0m0-11h0m0 3h0m-1 5h0m0-1h0m0 3h0m-1-3h0m0-9h0m-2 8h0m0 4h0m0-8h0m-2 9h0m0 0h0m-1-8h0m0 1h0m-2-6h0m0 8h0m0-8h0m0 10h0m-1-3h0m-1 2h0m0-8h0m-4 12h0m-1-12h0m0 0h0m0 11h0m-2 1h0m0-2h0m0-2h0m-2-9h0m-1 13h0m-1-1h0m0-6h0m0 2h0m0-1h0m-1 4h0m0-11h0m-1 12h0m-1-4h0m0 1h0m0-5h0m-1 8h0m0 1h0m0-6h0m-1 6h0m0-3h0m-1 3h0m0-2h0m0-5h0m0 4h0m-1-10h0m-1 7h0m-1 2h0m0-1h0m-3 2h0m0-7h0m-1 10h0m-1-1h0m-1-9h0m0 8h0m-1-8h0m-1-3h0m0 13h0m-1-9h0m0 6h0m-3 3h0m0-4h0m0-4h0m-1-3h0m0-1h0m-1 0h0m-1 0h0m0 9h0m-1-5h0m-1 3h0m-4-1h0m-3 2h0m-2-2h0m0 4h0m-3-2h0m-3 0h0m-1-6h0m-16 12h0m15-1h0m1 1h0m5-1h0m2 12h0m2 0h0m1-6h0m3 1h0m1-4h0m1 2h0m0-5h0m0 1h0m4 11h0m0-8h0m1 3h0m1 0h0m0-2h0m0 0h0m1 5h0m0-5h0m1 1h0m0 3h0m2-8h0m1-1h0m2 1h0m1 10h0m3-3h0m0 3h0m0-4h0m1-1h0m1 4h0m0 3h0m1-12h0m1 1h0m1 8h0m0-9h0m0 5h0m0-2h0m0 5h0m2-8h0m1 4h0m1-3h0m1 5h0m0 1h0m0-8h0m1 2h0m0 5h0m0-1h0m2 2h0m0-7h0m0 9h0m1-10h0m0 5h0m1 1h0m0 2h0m1-5h0m0 0h0m0 0h0m0 7h0m1-3h0m1 0h0m0-3h0m0-1h0m2 4h0m0 3h0m0-10h0m3 3h0m1 2h0m0 0h0m1 3h0m1-8h0m0 8h0m1-7h0m4 3h0m0 1h0m0 6h0m0-8h0m1 10h0m0-6h0m1-3h0m1 0h0m1-4h0m1 4h0m0-3h0m0-1h0m0 9h0m1-3h0m0 5h0m2-8h0m0-2h0m1 3h0m0 3h0m1-5h0m0 5h0m0 4h0m0-6h0m1 7h0m1-9h0m1 10h0m0-11h0m0 9h0m3 1h0m0-7h0m1 7h0m1-6h0m1-1h0m0 3h0m0-4h0m1 2h0m1-2h0m1-2h0m0 9h0m1-11h0m0 2h0m0-1h0m0 12h0m0-3h0m1 2h0m1-9h0m0 1h0m0 5h0m1-7h0m0 0h0m1 11h0m0-7h0m1 1h0m0-3h0m0-2h0m1-2h0m1 2h0m0 5h0m0 6h0m2-13h0m0 0h0m1 5h0m0 1h0m1 6h0m1-5h0m1-4h0m0-3h0m1 9h0m1 1h0m1-6h0m0 1h0m2 2h0m0-1h0m1 7h0m1-6h0m0-3h0m2 6h0m1-9h0m1 3h0m0 3h0m0-5h0m1 3h0m1 0h0m1 6h0m0 1h0m1-11h0m0 4h0m0 6h0m2-1h0m0-8h0m0 11h0m1-5h0m1 1h0m0 3h0m0 1h0m1-13h0m0 9h0m0 4h0m0-3h0m0-10h0m1 12h0m0-8h0m0 8h0m1-4h0m1-2h0m0-6h0m1 13h0m1-6h0m0 3h0m0 0h0m1 1h0m0-2h0m2 3h0m1-7h0m0-1h0m1 8h0m1-5h0m1 6h0m0-11h0m1-1h0m0 11h0m1-8h0m1-3h0m0 1h0m0 4h0m0 7h0m1 0h0m1-7h0m0-4h0m0 9h0m1-11h0m0 4h0m0 8h0m0-12h0m1 3h0m0 0h0m0 7h0m1-2h0m1 3h0m0-6h0m0-1h0m1-4h0m0 8h0m0-7h0m0 4h0m0 6h0m0-7h0m0-3h0m1 11h0m0-12h0m2 8h0m0 0h0m0 5h0m1-2h0m0-8h0m0 10h0m0-6h0m1 4h0m0-8h0m0 7h0m0 3h0m1-7h0m0 6h0m2-11h0m0 9h0m2 3h0m0-5h0m1-2h0m1 5h0m0 0h0m1-7h0m1 6h0m0-9h0m0 5h0m0 1h0m0 4h0m1-8h0m0 9h0m0-8h0m1 5h0m0-2h0m2 1h0m0 2h0m1-4h0m1-1h0m0-2h0m0 1h0m1 6h0m0 2h0m2-1h0m1-8h0m1 9h0m0-8h0m0-1h0m1 3h0m0 6h0m1-4h0m1-1h0m0 1h0m0 2h0m1-9h0m0 11h0m2-5h0m0-5h0m1 2h0m1-2h0m1 6h0m0-1h0m0 2h0m1-9h0m0 0h0m0 0h0m0 3h0m1 1h0m0-4h0m2 12h0m1-6h0m1 4h0m1 0h0m0-2h0m1-5h0m2 1h0m0 8h0m1-7h0m1 1h0m1 3h0m1-6h0m0-1h0m1 11h0m1-11h0m0 0h0m1 10h0m0-1h0m1-1h0m0 3h0m1-11h0m0 3h0m1 3h0m0-4h0m1 8h0m0 1h0m0-12h0m0 7h0m2-3h0m1 2h0m0-7h0m1 12h0m1-4h0m1-6h0m4 0h0m0 11h0m1-9h0m0 3h0m0-4h0m1-1h0m0 7h0m0 1h0m2-10h0m0 5h0m2 0h0m0-1h0m0-1h0m1 5h0m1 2h0m0-6h0m1 1h0m0 3h0m0 5h0m1-5h0m0-3h0m0-5h0m2 2h0m1 9h0m0-2h0m1-2h0m1-2h0m0 6h0m0-6h0m1 7h0m1-8h0m1-1h0m0 5h0m0-7h0m1 5h0m0 7h0m0-4h0m1-6h0m0 0h0m0 4h0m0-1h0m1-4h0m0 3h0m1-1h0m1 2h0m0 2h0m0 2h0m1-5h0m1-3h0m0 1h0m1 0h0m1 4h0m0 5h0m2 0h0m0 1h0m1-8h0m0 6h0m1-10h0m1 8h0m0-5h0m0 4h0m1-5h0m0 9h0m1-7h0m0 5h0m0-4h0m0 1h0m0 6h0m0-7h0m0-6h0m1 11h0m1-8h0m1 3h0m0 1h0m1-4h0m0 2h0m1-4h0m1 12h0m0-8h0m0 1h0m1-4h0m1 9h0m1-11h0m0 1h0m0 5h0m3-6h0m1 10h0m2 0h0m0 0h0m1 3h0m1-9h0m2-4h0m0 11h0m1-1h0m0 1h0m1-3h0m0-6h0m0 5h0m0 4h0m1-7h0m0 7h0m1 1h0m0-10h0m1 2h0m0 8h0m0-10h0m0 11h0m1-3h0m1-9h0m0 1h0m0 9h0m1-9h0m1 5h0m3 3h0m1 1h0m0-5h0m0-1h0m1 4h0m0-5h0m2 1h0m0 8h0m0-4h0m1-3h0m0 6h0m0-4h0m1-2h0m0 6h0m0 1h0m1-2h0m3-2h0m0 0h0m0-3h0m0 7h0m1-3h0m0-2h0m0 3h0m1-4h0m1-1h0m0 6h0m1-9h0m0 8h0m0-6h0m1-5h0m0 7h0m1 6h0m0-13h0m1 2h0m1 9h0m0-7h0m0-3h0m0 11h0m1-9h0m1 4h0m1 6h0m2-12h0m1 12h0m0-12h0m1 9h0m1-9h0m1 7h0m0 4h0m2-5h0m0-3h0m2-4h0m3 1h0m2-1h0m3 2h0m19-1h0m4-1h0m7 5h0m0 1h0m3-2h0m0-2h0m3 9h0m2-10h0m2 1h0m0-1h0m3 8h0m3-8h0m1 4h0m0-5h0m1 3h0m1 1h0m8-2h0m1 9h0m3-11h0m2 1h0m3-1h0m2 1h0m1 0h0m0-1h0m2 3h0m2 0h0m0 9h0m1-5h0m1-7h0m1 0h0m1 2h0m1 0h0m2-1h0m11 8h0m1-3h0m0 2h0m2-3h0m2-2h0m2 3h0m1-4h0m1 11h0m1-13h0m3 11h0m0-1h0m0 0h0m1-2h0m1-5h0m0-3h0m0 8h0m1-4h0m1 0h0m1 2h0m0 4h0m0 2h0m1-11h0m0 7h0m0-5h0m1 1h0m1-2h0m2-2h0m0 8h0m0-8h0m0 0h0m1 3h0m1-2h0m0 0h0m1 1h0m1-1h0m1 1h0m0-2h0m2 0h0m0 2h0m0-2h0m3 8h0m0-4h0m-11 17h0m-1 3h0m-1-3h0m-2 4h0m-2-3h0m-3 1h0m0-1h0m0-6h0m0 1h0m0-1h0m-1-2h0m-2 2h0m0 10h0m0-6h0m-2 6h0m0 0h0m-1-11h0m-7 4h0m-12 1h0m-4 3h0m-1 3h0m0 1h0m-5-13h0m0 11h0m-8-1h0m-3-1h0m-2 1h0m0 3h0m-1-7h0m-1 3h0m0-1h0m-1 4h0m-1 1h0m-1 0h0m-6-6h0m-5-6h0m-11 11h0m0-4h0m-37-5h0m0-2h0m-3 4h0m0 3h0m0-8h0m-1 0h0m-1 9h0m-1-4h0m0 2h0m-1-3h0m-1 9h0m-1-5h0m0 5h0m-1-12h0m-1 4h0m0 1h0m-1-6h0m0 11h0m-1-9h0m0-2h0m0 13h0m-1 0h0m0-5h0m-2-3h0m-1 8h0m-1-1h0m-2-12h0m0 4h0m-1 3h0m-1-5h0m0 11h0m-1-4h0m0-8h0m-1 11h0m0-3h0m0-7h0m0 1h0m0 9h0m-3-9h0m0 10h0m-2-6h0m0-6h0m0 11h0m0 1h0m-1-1h0m0-8h0m-1 0h0m0 2h0m-1-6h0m0 9h0m-1-7h0m-3 1h0m0 7h0m-2 2h0m-2-12h0m-1 3h0m0 7h0m-1-10h0m0 5h0m-1-1h0m0 5h0m0-4h0m-1 6h0m0-5h0m-1-3h0m0 2h0m-1 6h0m0-7h0m0 1h0m-3 0h0m-2 3h0m-1-8h0m0 0h0m0 4h0m-1 6h0m-1-9h0m0 9h0m-1-2h0m0-3h0m0 5h0m-1-6h0m0 5h0m0-4h0m-1 3h0m-1 3h0m-1-11h0m-1 2h0m-1 9h0m0 2h0m0-7h0m-1 6h0m0 0h0m0-3h0m-1-3h0m0-1h0m0 2h0m0-6h0m-2-1h0m0 4h0m-1 4h0m0-2h0m-2 0h0m-1 4h0m0-2h0m-2 5h0m-1-5h0m0 4h0m-1 0h0m0-10h0m0 4h0m-1-6h0m0 11h0m0-9h0m0 6h0m0-2h0m-1 1h0m-1 3h0m-2-8h0m-1 10h0m0-3h0m-1 4h0m-1-10h0m0 8h0m-4 0h0m-4 1h0m-1-5h0m0-2h0m-1 0h0m-1 7h0m-1 1h0m-1-6h0m-1-7h0m0 9h0m-1 0h0m0-9h0m-1 0h0m-2 4h0m0 5h0m-2 0h0m0-5h0m-3 3h0m0-4h0m-1 8h0m-3-8h0m-3 10h0m-2-11h0m-2 11h0m-1-11h0m0-2h0m-5 2h0m0-1h0m0 5h0m-1 5h0m-2-3h0m-1 3h0m-1-1h0m0 2h0m-1-3h0m0 1h0m0-2h0m0-7h0m-3-1h0m0 3h0m-1 1h0m-1 4h0m-1 1h0m-1-3h0m0 2h0m-1-8h0m-1 11h0m-1-5h0m0 4h0m0-10h0m0 5h0m-2 4h0m-1-4h0m0 6h0m-2-9h0m0 9h0m0-10h0m0 11h0m-1-9h0m0 5h0m-1-7h0m-1 4h0m-1-3h0m0 8h0m-1-3h0m0-6h0m-2 9h0m0 2h0m-1-6h0m0 7h0m-2-1h0m0-11h0m-1 3h0m0-4h0m0 8h0m-1-7h0m-1 8h0m0 3h0m0-4h0m-1 5h0m-1 0h0m0-13h0m-1 2h0m0 1h0m-1 2h0m0-2h0m-1 5h0m0-8h0m0 4h0m0 2h0m-1-4h0m0 0h0m-1 3h0m-1-2h0m-1 2h0m0 2h0m0-4h0m-1 3h0m0 4h0m0-4h0m-1-5h0m-1 6h0m0-3h0m-1 1h0m-2-4h0m0 9h0m0 0h0m-1-3h0m0 2h0m-1 1h0m0 1h0m-1-1h0m-1-8h0m0 7h0m0-4h0m0 2h0m0 4h0m-3-9h0m0 9h0m0-9h0m0 10h0m0-9h0m-1 6h0m0-1h0m0-4h0m-1 4h0m0 0h0m-1-8h0m0 1h0m-1 1h0m0-1h0m-1 2h0m0 10h0m0-7h0m-1-1h0m0 1h0m0-5h0m0 5h0m0 4h0m0 0h0m-2-6h0m0 2h0m0-1h0m-1 1h0m-1 6h0m-1-9h0m0 8h0m-2 2h0m0-8h0m-1 6h0m-1 0h0m0-7h0m0 1h0m-1-2h0m-1 10h0m-1-10h0m0 3h0m0 5h0m-1-10h0m-1 8h0m-1-9h0m0 9h0m0-5h0m0 5h0m0 1h0m-2-6h0m0 3h0m0 5h0m-1-11h0m-2 9h0m-1-8h0m-1 1h0m0 9h0m-1-12h0m0 8h0m0-1h0m-1 4h0m0-1h0m0 1h0m-1 2h0m-1-11h0m0 7h0m0-6h0m0 9h0m-1-1h0m0-8h0m-1 5h0m0 2h0m0-8h0m0 4h0m-1 7h0m-1-5h0m-1-7h0m0 5h0m0-5h0m0 0h0m0 9h0m-1-9h0m0 2h0m0 8h0m0-8h0m0 2h0m-1 2h0m0 3h0m0 0h0m0 2h0m0-4h0m-1 2h0m0-9h0m0 6h0m0 5h0m-1 0h0m0 0h0m-1-8h0m0 0h0m0 1h0m-1-5h0m0 1h0m0 8h0m-1-2h0m0 0h0m0-7h0m0 0h0m0 12h0m0 1h0m-1-10h0m-1 0h0m0-1h0m-1 5h0m-1-2h0m0 8h0m-1-11h0m-1 8h0m-1-9h0m-1 9h0m-1-7h0m-1 6h0m0-2h0m0-7h0m-1 9h0m-4-9h0m-4 3h0m-1 6h0m-2 4h0m0 0h0m-1-1h0m-3-2h0m-3-2h0m-3-7h0m-3 1h0m0 7h0m-1-6h0m-1 6h0m-9 1h0m-1-10h0m-2 5h0m-2-3h0m-1 1h0m-1-3h0m-1 3h0m-1 0h0m0 1h0m-1-1h0m-1 8h0m0-8h0m0 9h0m-1-9h0m-4 5h0m-1-2h0m-1-2h0m0 2h0m-2 2h0m-2 5h0m-10-13h0m-1 10h0m0-10h0m-1 11h0m0-4h0m-1 17h0m3-10h0m0 3h0m3 9h0m2-4h0m2 2h0m1-7h0m1 10h0m0-2h0m2-10h0m1 0h0m0 4h0m0 6h0m1-4h0m2-1h0m1-1h0m0 2h0m0-6h0m1 9h0m2 2h0m1-1h0m0-8h0m0 9h0m0-5h0m0-6h0m0 5h0m0 4h0m0 1h0m1-3h0m0-4h0m1-4h0m0 3h0m1 9h0m1-1h0m0-11h0m1 3h0m1 0h0m0 9h0m0-10h0m0 2h0m1 1h0m2 7h0m0-9h0m1 1h0m1 7h0m1-1h0m0 2h0m1-5h0m2 3h0m0-10h0m0 8h0m1-7h0m0 9h0m4-5h0m5-2h0m1 5h0m0-8h0m1 6h0m0-6h0m1 12h0m0-12h0m1 10h0m5-5h0m1 2h0m1 6h0m0-6h0m2 3h0m1-6h0m2-2h0m0 0h0m3-1h0m3 3h0m1-4h0m0 6h0m1-5h0m1 1h0m0 4h0m3-6h0m0 2h0m0 0h0m0 10h0m0-1h0m2 2h0m2 0h0m1-8h0m2 7h0m0-4h0m1 4h0m0-9h0m1-1h0m1 0h0m1 9h0m0-4h0m1-5h0m1 9h0m1-4h0m0 0h0m0 6h0m1-8h0m0-4h0m1 0h0m1 9h0m1-1h0m4-9h0m0 9h0m1-5h0m0 5h0m3-3h0m0 1h0m1-6h0m0 1h0m0 6h0m0 2h0m0-7h0m1 7h0m0-2h0m0-2h0m0-1h0m0 2h0m1-4h0m1 3h0m0 4h0m2-10h0m0 8h0m1 0h0m1-8h0m1 2h0m0-2h0m0 11h0m1 1h0m0 1h0m0 0h0m1-8h0m0 4h0m1-2h0m1-6h0m1 2h0m2-1h0m2-2h0m1 13h0m0-12h0m2 10h0m0-9h0m1 7h0m1-3h0m1 3h0m0-3h0m1 5h0m1-3h0m1-5h0m2 2h0m2-2h0m0-2h0m0 8h0m0 0h0m1 2h0m2-8h0m1 3h0m1 5h0m1 0h0m0-5h0m1-5h0m0 2h0m2 6h0m1 2h0m2 1h0m1 0h0m4 1h0m0-6h0m1-2h0m1 3h0m3 0h0m3-8h0m1 9h0m0 0h0m0 4h0m0-12h0m1 12h0m0-3h0m1-1h0m2-4h0m1 1h0m0 7h0m1-13h0m0 8h0m0-6h0m1 1h0m1-1h0m0 1h0m2 8h0m0-9h0m0 3h0m0-5h0m0 10h0m0-3h0m0 0h0m1-7h0m0 1h0m0 2h0m0 1h0m2 7h0m1-7h0m1 3h0m0-7h0m0 3h0m0 9h0m0-8h0m1 8h0m1-3h0m1-7h0m2 3h0m0 3h0m2-3h0m0 4h0m1-5h0m0 7h0m1-7h0m1-1h0m0 6h0m2 2h0m1-10h0m2 8h0m1 2h0m2 0h0m1 2h0m1-5h0m2-8h0m1 3h0m2 8h0m1-1h0m0 0h0m1-8h0m0 9h0m1-11h0m0 4h0m1 3h0m0-7h0m0 0h0m1 4h0m0 3h0m0 3h0m0-7h0m0 2h0m0 6h0m0-4h0m1-5h0m1 8h0m0-2h0m1-3h0m0-4h0m2 4h0m0 8h0m1-4h0m1-8h0m1 10h0m1-6h0m2-4h0m0 11h0m1-4h0m1 5h0m0-2h0m1-5h0m1 1h0m0 1h0m0-2h0m1 0h0m0 6h0m1-2h0m1-9h0m1 12h0m0-12h0m1 7h0m0 3h0m0-5h0m0 4h0m1-6h0m1 6h0m1-3h0m0-6h0m0 10h0m0 1h0m0-3h0m2-2h0m1-2h0m0 5h0m0 1h0m1-11h0m1 1h0m0 2h0m2 1h0m0 9h0m1 0h0m1-1h0m4-12h0m0 1h0m1 6h0m2-6h0m1-1h0m0 4h0m0 4h0m0-7h0m1-1h0m0 7h0m1 4h0m1-6h0m2 7h0m0-11h0m2 12h0m2-2h0m0-8h0m0 1h0m2 9h0m2-9h0m0 4h0m0-4h0m0-3h0m1 9h0m0-5h0m1 2h0m0-7h0m1 0h0m0 5h0m0 4h0m2 4h0m0-11h0m1 11h0m1-7h0m1 2h0m4-4h0m0 4h0m0 0h0m1 3h0m0-8h0m1 3h0m1-1h0m1 6h0m1 1h0m1-6h0m1-1h0m1 2h0m0 2h0m0-9h0m1 10h0m0-7h0m0 7h0m2 2h0m1-5h0m0-6h0m0 10h0m2-3h0m1-5h0m0 9h0m0-11h0m2 2h0m0 1h0m0 7h0m1 0h0m2-8h0m0 4h0m0 3h0m1-3h0m1-2h0m0 7h0m2-11h0m1 4h0m1-2h0m0 7h0m1-10h0m1 5h0m0 4h0m3-7h0m4-2h0m29 3h0m14 9h0m0-7h0m4-3h0m1 11h0m0-9h0m1 5h0m0 1h0m2 3h0m0 0h0m0-1h0m0-7h0m1 4h0m0 0h0m0 1h0m1 3h0m1-7h0m1-2h0m0 4h0m0-1h0m0 0h0m1 1h0m0 0h0m0-6h0m1 1h0m0 2h0m0-3h0m1 0h0m0 0h0m1 3h0m0-3h0m0 8h0m0-7h0m0-1h0m1-2h0m0 2h0m0 0h0m1 2h0m0-3h0m1 0h0m7 1h0m6-1h0m17 8h0m7-8h0m4 2h0m5 3h0m0-3h0m0 8h0m2 0h0m2 2h0m1-2h0m2 5h0m-2 5h0m-4-3h0m-9-2h0m-49-2h0m-3 1h0m0 3h0m-2-3h0m0 8h0m0-5h0m-1-3h0m0 3h0m-2-2h0m0-1h0m0 1h0m-1-2h0m-1 7h0m0-1h0m0 0h0m-1-2h0m0 3h0m-1 1h0m0-3h0m0 0h0m-1 6h0m0-3h0m-1 4h0m-1-2h0m-1-2h0m0-1h0m-1 3h0m0 2h0m0-4h0m-2-8h0m0 13h0m0-3h0m-1 1h0m0-4h0m-1 2h0m-1 1h0m0-2h0m-1 0h0m0-2h0m0 4h0m0 3h0m-1-3h0m0 0h0m-1 2h0m-1-1h0m0 1h0m-1 1h0m-2 0h0m-1 0h0m0-2h0m-2-2h0m-1-2h0m0 3h0m-1-1h0m-1 1h0m-1-1h0m-28-8h0m-6 8h0m-4-1h0m0-2h0m-2-2h0m-1-3h0m0 1h0m-2 6h0m-2 4h0m-1-6h0m-1-4h0m0 8h0m-1-1h0m-2-5h0m0 6h0m0 0h0m-1-4h0m-2-5h0m0 4h0m0 5h0m-2-7h0m-1 7h0m-3-5h0m0 6h0m-1 2h0m0-10h0m-1 0h0m0 0h0m-1-1h0m0 9h0m-1-11h0m0 8h0m0-4h0m-1 6h0m0 1h0m-1 2h0m-1-7h0m-1-6h0m0 6h0m0-6h0m-1 1h0m0 7h0m-1-7h0m0 4h0m-1-5h0m-1 1h0m-2 6h0m-1-3h0m0 7h0m-1-2h0m0-2h0m-1 3h0m-1-3h0m-3-2h0m-1 7h0m-1 0h0m0-11h0m-1 11h0m0-4h0m0-1h0m-1 0h0m0 0h0m0-7h0m-2 9h0m-1-1h0m0-4h0m0 8h0m-2-7h0m0 2h0m-1 6h0m0-11h0m0 10h0m-1-12h0m-2 3h0m-1 2h0m-1-1h0m-1 7h0m-1 1h0m0-12h0m-1 4h0m-3 4h0m0-7h0m-2 3h0m-2 3h0m0 5h0m0-7h0m-1 0h0m0 8h0m-1-3h0m0 0h0m0-9h0m-1 11h0m0-8h0m-1-2h0m-1 9h0m0-9h0m-1 2h0m-1-3h0m0 10h0m-1-10h0m-1 3h0m-1 3h0m-2 1h0m0-7h0m0 2h0m-2 1h0m-3 4h0m0-1h0m0 6h0m0-6h0m0 0h0m-1-6h0m-1 4h0m0-4h0m-2-1h0m0 0h0m0 13h0m0-3h0m0-2h0m-1-6h0m0-2h0m0 6h0m-1 3h0m-1-3h0m0 1h0m-2-3h0m0 9h0m0-3h0m-1 1h0m-1 0h0m0 1h0m0-8h0m0 8h0m0-4h0m0-3h0m0-1h0m-1-3h0m-1 11h0m0-6h0m0 4h0m0-5h0m0-1h0m-1 0h0m-1 4h0m0 3h0m0-6h0m0 7h0m-1-11h0m-1 4h0m-1-1h0m-2-1h0m-4 1h0m0-1h0m-1-2h0m0-1h0m0 7h0m-3-6h0m-1 10h0m0-2h0m-4-8h0m0 5h0m-1 6h0m0-2h0m-1 3h0m0-5h0m0 3h0m-1 2h0m0-13h0m0 0h0m-1 6h0m0-1h0m0-2h0m-4-1h0m0 8h0m0-2h0m-2 5h0m-1-4h0m0-7h0m-2 0h0m-1-2h0m-1 9h0m-1-9h0m0 12h0m-1-4h0m0-8h0m0 2h0m-1 0h0m-1 1h0m-1 10h0m0-6h0m-3 1h0m-1-3h0m-2-4h0m0 7h0m-1 2h0m-1-9h0m-1 0h0m0 7h0m-1-3h0m0 3h0m-1-4h0m0 2h0m-1-4h0m-1 9h0m0-8h0m0 2h0m-2 0h0m0 6h0m-1-10h0m-1 9h0m0-3h0m0 1h0m-3 0h0m0 5h0m-1-9h0m-4 0h0m0 5h0m0-7h0m-2-2h0m0 12h0m-1-4h0m-1-8h0m0 6h0m-1 4h0m0-10h0m0 1h0m0 9h0m-1 3h0m0-8h0m-1 7h0m0-11h0m-1 5h0m0-1h0m0 8h0m0-4h0m0-6h0m-2 2h0m0 4h0m0-5h0m0 2h0m-1 2h0m0-2h0m-1 1h0m0 2h0m0-4h0m-1-3h0m0 4h0m0-2h0m-1-4h0m0 7h0m0-2h0m0 4h0m-1-8h0m0 4h0m-1 6h0m0-8h0m0 1h0m-1 5h0m-1-1h0m-1-4h0m-1 9h0m0-8h0m0 3h0m-1 4h0m0-11h0m0 0h0m-1 11h0m0-5h0m-1-3h0m-3 8h0m-1-4h0m-1-6h0m0 2h0m-1-3h0m0 2h0m0-2h0m-1 8h0m-1 1h0m-1-3h0m0 0h0m-1 0h0m-1 1h0m-1-8h0m-1 13h0m-1-11h0m0 8h0m0 0h0m-1-8h0m-2 0h0m0 2h0m0 6h0m-2-3h0m-1-1h0m-3-1h0m-1-4h0m-2 5h0m0 0h0m0-1h0m0 2h0m-3 5h0m-1-3h0m-2-9h0m-3 8h0m0 1h0m-1 2h0m-1-7h0m0-4h0m0 4h0m0 0h0m-1 9h0m-1-11h0m-1 11h0m-2-13h0m0 1h0m-1 12h0m-1-2h0m-1-10h0m0 1h0m-1 6h0m-1-8h0m0 7h0m-2 3h0m0-4h0m-1 4h0m-1-4h0m0-2h0m-4 5h0m-2-4h0m-2-2h0m-1 10h0m-2-12h0m0 9h0m-1-5h0m-1 8h0m0-1h0m0-1h0m-1-8h0m-2 5h0m0-8h0m0 6h0m-1-2h0m-3 2h0m-1-4h0m0 3h0m0-1h0m-1 4h0m-2 0h0m-3-7h0m-1 9h0m-2-6h0m0-3h0m-1 8h0m-2-7h0m0 5h0m-1 3h0m0-6h0m0-3h0m-1 12h0m-3-6h0m-1-4h0m-1 4h0m2 7h0m2 12h0m2-9h0m1 10h0m3-4h0m2 4h0m1-7h0m2 6h0m0-10h0m1 7h0m0 3h0m2-11h0m0 0h0m1 6h0m1-1h0m1-1h0m1-5h0m0 8h0m0-6h0m2 9h0m1-3h0m1 3h0m1-6h0m0-5h0m1 6h0m1-3h0m0-3h0m0 1h0m0 12h0m2-11h0m2 7h0m1-8h0m6 0h0m2 1h0m1-2h0m5 11h0m2-6h0m0 8h0m3-9h0m5 1h0m2 3h0m2-6h0m1-2h0m2 0h0m0 5h0m1 0h0m2 7h0m2-8h0m4 1h0m0 3h0m1 3h0m1-9h0m1 6h0m0-6h0m3 8h0m0 3h0m2-3h0m1-5h0m1 0h0m3-2h0m1 5h0m1-2h0m2-1h0m2 2h0m0 4h0m2-8h0m2 5h0m1-3h0m1 4h0m0 0h0m1-7h0m1 9h0m0-8h0m1-3h0m1 6h0m0-2h0m0 9h0m0-5h0m0-2h0m2 0h0m1 6h0m1-5h0m1 3h0m1-7h0m1 6h0m0-5h0m1-1h0m0 10h0m0-8h0m0 0h0m0 0h0m1 5h0m0-8h0m1 7h0m0 1h0m0-3h0m1-2h0m0-5h0m1 9h0m0-7h0m0 9h0m1-5h0m0-5h0m1 9h0m0-3h0m0 2h0m1 2h0m0-11h0m0 9h0m0-8h0m0 11h0m0-4h0m0-7h0m1 3h0m0 1h0m0-4h0m2 7h0m0-8h0m1 8h0m0 5h0m1-2h0m0 2h0m2-1h0m2-1h0m0-5h0m1 5h0m0-8h0m1 9h0m1-2h0m0-9h0m0 0h0m1 10h0m0 0h0m1-10h0m0-1h0m1 10h0m2-7h0m0 8h0m0-9h0m0-2h0m0 7h0m2 4h0m2-2h0m0-6h0m2 6h0m1-2h0m0-3h0m1 3h0m0 4h0m2-5h0m1 4h0m0-5h0m1 0h0m2-5h0m0 9h0m1-9h0m0 7h0m2-4h0m2 4h0m1 3h0m2-9h0m1 12h0m0-13h0m5 0h0m2 5h0m2 3h0m0-6h0m2 6h0m2-4h0m3-2h0m0 5h0m1 5h0m0 1h0m1-8h0m0 2h0m2-2h0m0-5h0m2 1h0m1 5h0m1 5h0m0-1h0m2 3h0m2-13h0m6 12h0m0-7h0m1-2h0m2-1h0m0 3h0m2-3h0m0 1h0m0-1h0m1 1h0m0 6h0m2-6h0m1 7h0m1-3h0m0 1h0m1 3h0m0-9h0m1 7h0m0-2h0m1 6h0m2-4h0m1-6h0m1 0h0m0 8h0m0-10h0m0 11h0m0-8h0m0 5h0m1 4h0m0-2h0m0-5h0m1 0h0m0-4h0m2 7h0m2-4h0m0-2h0m1-2h0m0 4h0m2 2h0m1 0h0m0-2h0m1-1h0m1 7h0m0-4h0m1-2h0m1-4h0m1 10h0m2 0h0m2-10h0m1 8h0m1-8h0m0 5h0m1-4h0m1 5h0m1 4h0m1-4h0m1-4h0m0 4h0m0 2h0m2-9h0m0 6h0m1-4h0m0 3h0m1 0h0m1 3h0m0-8h0m0 13h0m1 0h0m0 0h0m1-7h0m3-5h0m2-1h0m0 6h0m2-1h0m1 0h0m0 5h0m1-5h0m1 2h0m2 5h0m0 1h0m1-4h0m1 3h0m0-12h0m0 9h0m0-1h0m2-3h0m1 7h0m0-10h0m1 5h0m0 3h0m0-8h0m1 8h0m0-5h0m1-2h0m1 6h0m2-7h0m0 5h0m1 3h0m0-7h0m2-1h0m1 0h0m1 11h0m1-8h0m1-3h0m2-2h0m39 0h0m1 0h0m4 1h0m0-1h0m3 0h0m2 2h0m6-2h0m74 11h0m0-2h0m0-1h0m2-2h0m-15 17h0m-115-8h0m-3 1h0m-6 5h0m-1 0h0m-1 1h0m0 0h0m-1-7h0m-1 1h0m-2-2h0m0 12h0m-2-11h0m-2 4h0m-3-3h0m0 8h0m0-2h0m-1-5h0m0-2h0m-1 12h0m0-3h0m-1 3h0m-1 0h0m-2-10h0m-1 5h0m-1-7h0m0 1h0m-3 7h0m-1-1h0m0-4h0m0-4h0m-1 10h0m0-5h0m-2-2h0m-1 5h0m0-1h0m-1-6h0m0 4h0m0 1h0m-1 1h0m0 6h0m-1-10h0m-1 0h0m0-3h0m-2 11h0m0-11h0m0 8h0m-2-3h0m0 6h0m0-10h0m-2 12h0m-5-8h0m-2 1h0m0 2h0m-1-6h0m0 11h0m-1-6h0m0-3h0m-1 5h0m-1 4h0m0-3h0m0 2h0m-1-12h0m-1 12h0m-1-7h0m-2 2h0m0-1h0m-2 7h0m0-7h0m0 6h0m-2-3h0m-2-2h0m0-3h0m-1 0h0m0-2h0m-1 0h0m-1 2h0m-3 7h0m-5-1h0m-2-8h0m0 7h0m0-4h0m0 2h0m-1-6h0m-1 9h0m-1-9h0m0 0h0m-1 1h0m-1 2h0m0 1h0m0-4h0m0 4h0m0-2h0m-1 8h0m0 0h0m-2-2h0m0 1h0m0-4h0m0 5h0m-1-2h0m0 1h0m-1 2h0m-1-2h0m0-5h0m0-2h0m-1-1h0m0-2h0m0 8h0m-2 5h0m-2-10h0m-2 3h0m-2 7h0m-1-11h0m-5 3h0m-1-5h0m-3 8h0m-9 5h0m-1-7h0m-1-1h0m-2 7h0m-1 0h0m-2-3h0m-2 4h0m-1-11h0m-1-1h0m0 11h0m-1-12h0m0 2h0m0 6h0m0 5h0m-1-9h0m-1 6h0m-2 0h0m0-8h0m0 0h0m0 2h0m0-3h0m-2 5h0m0-2h0m0 6h0m-1-2h0m-1 2h0m0 0h0m0 1h0m-1-6h0m0-5h0m0 13h0m-2-1h0m0-6h0m-1 2h0m0 0h0m-1 2h0m0-6h0m0-3h0m-1 6h0m0-3h0m0 3h0m0 2h0m-1-6h0m0 2h0m-1 3h0m-1-4h0m0 9h0m0-7h0m-2-2h0m0 2h0m0-3h0m0 1h0m-1 9h0m-2-3h0m0 1h0m0-8h0m-1-1h0m-1 3h0m0-2h0m0-3h0m-1 1h0m-1 7h0m-3-4h0m-1 1h0m0 7h0m-1 1h0m-3-13h0m-2 4h0m-1-3h0m-3 3h0m0 1h0m-11 1h0m-8-3h0m-3 0h0m0 10h0m-1-7h0m-1 6h0m0-1h0m-7-11h0m-3 2h0m-1 10h0m0-1h0m-2-10h0m-5 2h0m-2 3h0m0-4h0m-2 3h0m0-1h0m-2 8h0m-1-3h0m-2-2h0m0 5h0m-1-2h0m-2-2h0m0-6h0m-4 8h0m-2-3h0m0 6h0m-1 0h0m-7-9h0m0 8h0m-3 1h0m-2-6h0m-1-7h0m-1 10h0m0-10h0m-5 13h0m-3-12h0m0 3h0m-4-1h0m-3 1h0m-2 2h0m-1-6h0m-1 5h0m-2-3h0m14 12h0m1 6h0m1-1h0m0 7h0m1 0h0m1-2h0m1 0h0m2-3h0m1-5h0m1 2h0m0 6h0m2-1h0m2-1h0m1 0h0m3 4h0m1-1h0m2-9h0m4 5h0m1-2h0m4 7h0m3-8h0m2 2h0m6-5h0m0 0h0m2 8h0m1 1h0m3-1h0m1 3h0m0-9h0m2 4h0m2-3h0m0 1h0m5 8h0m2 0h0m0-13h0m3 5h0m3 1h0m0 0h0m1 1h0m1-1h0m1 7h0m1-10h0m0 7h0m4 2h0m0-6h0m2-4h0m0 10h0m4-5h0m0 5h0m4-6h0m1-4h0m9 10h0m6-6h0m1-3h0m0-1h0m0 2h0m1 0h0m1 1h0m1 4h0m3 3h0m2-9h0m1 0h0m1 8h0m0-10h0m0 12h0m1-12h0m1 9h0m1-10h0m0 13h0m0-6h0m0-7h0m1 5h0m0 3h0m1-6h0m0 0h0m1 4h0m1 3h0m1-5h0m0 5h0m1-3h0m0-1h0m0 8h0m0-3h0m1-8h0m1 3h0m0 3h0m0-6h0m0 5h0m0 0h0m1 4h0m0 1h0m1-1h0m2 1h0m1 1h0m1-12h0m1 3h0m2 0h0m2 7h0m0 2h0m1-4h0m1-1h0m1-4h0m0 1h0m1 1h0m1 0h0m0 6h0m1 1h0m2-1h0m2-6h0m2 6h0m2-2h0m5-4h0m7-4h0m0-1h0m0 1h0m2 0h0m0-2h0m0 8h0m2 0h0m0-3h0m0 4h0m2 1h0m0 1h0m0-2h0m1-8h0m0 8h0m1 2h0m0-6h0m0 5h0m0 1h0m0-4h0m1-1h0m0-3h0m0-3h0m1 4h0m0 2h0m0-6h0m0 1h0m1 0h0m0 9h0m1-4h0m0 4h0m0-10h0m1 9h0m1-3h0m0 0h0m1-2h0m2 3h0m0-5h0m1 11h0m0-2h0m0-10h0m1 9h0m0-6h0m1 9h0m2-8h0m1-1h0m0-2h0m1 5h0m0-3h0m0 0h0m3 8h0m0-10h0m0 9h0m0-10h0m1 0h0m2-1h0m0 8h0m1-8h0m0 2h0m1 4h0m0 1h0m0-6h0m1 3h0m0-1h0m0 5h0m2-3h0m0-4h0m1 1h0m1 9h0m2-4h0m0-7h0m2 13h0m1-5h0m0 5h0m1-4h0m2-3h0m0 7h0m0-1h0m1-6h0m1-3h0m3 9h0m0-12h0m0 7h0m0-4h0m2-1h0m1 3h0m0 0h0m0-4h0m1 12h0m1-2h0m1-8h0m0 3h0m0 0h0m0-2h0m2 8h0m1-8h0m1-2h0m1 8h0m1-10h0m1 3h0m0-3h0m1 8h0m0 1h0m1-9h0m1 10h0m0-8h0m1 9h0m0-1h0m2-2h0m0-7h0m1 10h0m0-6h0m2-2h0m1 1h0m0 3h0m0-1h0m1 1h0m0 2h0m2 1h0m1-1h0m0 4h0m1-2h0m0-8h0m1 7h0m1-10h0m0 9h0m0 4h0m1-12h0m3 0h0m1 4h0m3 3h0m1 1h0m0-3h0m1 7h0m79 0h0m22-1h0m22-11h0m6 6h0m2-6h0m-23 25h0m-7-1h0m0 0h0m-1 0h0m-31-5h0m-25 6h0m-4-12h0m-5 8h0m-33 1h0m-1-3h0m-5-5h0m0 8h0m0 2h0m0-4h0m-1-3h0m-3 2h0m0 0h0m-1 0h0m0-1h0m-1-4h0m-2 7h0m0-8h0m0 7h0m-1-5h0m-3 9h0m-1-6h0m-3 8h0m-1-7h0m0-2h0m0 9h0m0-7h0m-1 3h0m0-8h0m-1 8h0m0 1h0m0-4h0m-1 2h0m-2-2h0m0 5h0m0-11h0m0 8h0m0-5h0m-1 4h0m0-3h0m0 2h0m-3 2h0m0 0h0m-2-2h0m-1 0h0m-1-6h0m0 4h0m-3 3h0m0-4h0m0 7h0m-1-7h0m-2 10h0m0-3h0m-1 3h0m-1-7h0m0 5h0m-1-11h0m-1 1h0m-1 5h0m-1 4h0m0-1h0m0-3h0m-1-1h0m-1 3h0m-1-6h0m0-2h0m-1 8h0m0-8h0m-1 0h0m0 0h0m-1 8h0m-1 0h0m0 4h0m-2-9h0m-1 0h0m-1-1h0m-3 0h0m-1 7h0m-2-7h0m-2 0h0m-5 6h0m0-1h0m0 2h0m0 4h0m-1-12h0m-1 5h0m0-1h0m-1 5h0m0-4h0m-1 6h0m0 0h0m-2-12h0m0 5h0m-1-2h0m0 2h0m0-3h0m0 8h0m-3-7h0m-1-3h0m-1 0h0m-1 10h0m-5-6h0m-5 6h0m-4-10h0m-2 13h0m0-11h0m-2 3h0m0 4h0m-1-4h0m0 6h0m-1 0h0m0-3h0m0-3h0m-1 0h0m-1 0h0m-1 2h0m0 4h0m-1-3h0m0-2h0m-1-6h0m-1 12h0m-1-12h0m0 13h0m-1-6h0m-1-3h0m0 7h0m-1-1h0m-1-2h0m-1-4h0m-1 8h0m0 1h0m-1-7h0m0-5h0m-1 10h0m0-6h0m-1-5h0m0 1h0m-1 5h0m0 4h0m0-8h0m-1 3h0m0 4h0m0-5h0m-1 2h0m0-5h0m0 1h0m0-2h0m0 11h0m-1 0h0m-1-5h0m0-2h0m0 9h0m-1-6h0m-1-6h0m-1 7h0m-1-8h0m0 3h0m0 4h0m-1-3h0m0-1h0m-1-2h0m0 10h0m-1-4h0m0-5h0m0 4h0m0-1h0m0-4h0m0 2h0m0 2h0m-1-2h0m0 4h0m-1 0h0m0 3h0m0-9h0m0 4h0m-1-2h0m0 1h0m-1 6h0m0 1h0m-1-1h0m-1 3h0m0-6h0m0-3h0m0 6h0m-1-2h0m0 0h0m-1-2h0m0 7h0m0-5h0m-1-2h0m0 6h0m-1 0h0m0 0h0m0-3h0m0 4h0m0 0h0m0-1h0m-1 0h0m0-1h0m0-1h0m0-6h0m0 2h0m-1 4h0m-1 3h0m-1-4h0m-3 0h0m0 3h0m-3-8h0m-12 1h0m-5 5h0m-1-6h0m-1 8h0m-3 1h0m-3-6h0m0-1h0m0 6h0m-1-5h0m-1 1h0m-2 0h0m-1-5h0m-1 7h0m-3-6h0m-1 8h0m0-6h0m0 0h0m-1-4h0m-2 0h0m-4 7h0m-4 2h0m-1-4h0m-1-7h0m-2 3h0m0-3h0m-4 7h0m-1-2h0m0-1h0m-2 0h0m-1 2h0m-2-3h0m0-1h0m0 5h0m-2-3h0m-5 7h0m0-3h0m-6-5h0m-1 5h0m-2-8h0m0 5h0m-5-5h0m-4 8h0m-14-7h0m-6 18h0m1 8h0m1 0h0m4-2h0m10 0h0m1 0h0m1-9h0m2 9h0m1-11h0m3 0h0m0 8h0m2-3h0m0-2h0m4 2h0m1-3h0m1 0h0m0 6h0m4 1h0m0-6h0m2-1h0m2 10h0m1 0h0m0-8h0m2 8h0m0 1h0m1-9h0m6 5h0m1-3h0m1 3h0m2 1h0m4-6h0m2 5h0m1 2h0m3 1h0m1-7h0m5-5h0m1 6h0m2 5h0m1-8h0m1 2h0m6 5h0m3-3h0m1 5h0m7-11h0m2 7h0m1-1h0m0 6h0m2-12h0m2 11h0m1 0h0m0 1h0m1-4h0m0 4h0m1-5h0m0-4h0m1 2h0m0 4h0m1-9h0m1 2h0m0 6h0m0-4h0m1-1h0m0 3h0m0 4h0m1-2h0m0 4h0m0 0h0m1-4h0m0 1h0m0-2h0m0-4h0m0-2h0m1-1h0m0 4h0m0 3h0m0 0h0m1-2h0m0-5h0m0 0h0m0 9h0m1-6h0m0-2h0m1 2h0m0-2h0m0 8h0m0-7h0m0-1h0m0-2h0m1 4h0m0-4h0m0 13h0m1-11h0m1-2h0m0 9h0m0-8h0m0-1h0m1 1h0m0 2h0m0 2h0m0-1h0m2-4h0m0 10h0m0-2h0m1-3h0m3 5h0m0-10h0m3 5h0m3-2h0m4-2h0m1 2h0m0 8h0m0-11h0m1 6h0m0 0h0m1 7h0m0-3h0m1 2h0m3-11h0m4 7h0m1-3h0m1 0h0m0-5h0m1 1h0m1 2h0m0 3h0m0 4h0m0-5h0m1-2h0m0 6h0m2 0h0m2-7h0m2 4h0m0 5h0m0-1h0m0-9h0m1 7h0m0-6h0m0 7h0m1-6h0m0 0h0m0 6h0m0-6h0m0 6h0m0-6h0m1 3h0m1-3h0m0 1h0m0 3h0m2-3h0m0 8h0m0-3h0m2-6h0m2 2h0m0 5h0m0 1h0m1 0h0m0-3h0m1-1h0m3 4h0m0-10h0m2 1h0m3 0h0m0 4h0m2 1h0m0 6h0m2-6h0m1 1h0m0-7h0m1 10h0m0-3h0m0-6h0m0 5h0m2 2h0m1-5h0m0 1h0m1 3h0m0 0h0m0 3h0m0 0h0m1-6h0m1 8h0m1-13h0m0 8h0m1-6h0m0 2h0m2 3h0m0-7h0m0 11h0m1 1h0m1 1h0m0-3h0m2 0h0m0-1h0m2-1h0m0 4h0m4 0h0m1-10h0m1 1h0m0 4h0m2 0h0m1-7h0m1 7h0m0-7h0m1 4h0m0-1h0m1 8h0m0 1h0m1-8h0m0-1h0m2 1h0m1 7h0m1 2h0m0-4h0m1-4h0m1 3h0m0 5h0m1-6h0m0 5h0m1-2h0m0-1h0m1 2h0m0-8h0m1-1h0m1-2h0m0 13h0m0-9h0m0 2h0m1 3h0m4-9h0m2 1h0m1 4h0m0 4h0m3-3h0m1 6h0m0-3h0m1 3h0m0 1h0m1-10h0m0 4h0m0 4h0m1-3h0m1 4h0m0-3h0m0-4h0m1 5h0m2-3h0m1-7h0m0 6h0m1-5h0m0 2h0m1 5h0m1-2h0m2 1h0m0 6h0m1-10h0m0 2h0m3-1h0m0-2h0m0-2h0m1 1h0m0 11h0m1-5h0m2 2h0m0-9h0m1 13h0m1-9h0m5 7h0m9 2h0m6-13h0m8 11h0m2-9h0m3 8h0m0-4h0m3-4h0m0 10h0m0-3h0m5 1h0m2-8h0m0 1h0m1 5h0m7-2h0m1-5h0m6 0h0m1 0h0m0 0h0m2 6h0m0 3h0m6-1h0m2-5h0m4-2h0m1 9h0m1-10h0m7 11h0m1-7h0m3-4h0m0 11h0m0-2h0m2-1h0m2 1h0m1-2h0m4-7h0m0 12h0m2-9h0m2 7h0m1-7h0m1 3h0m0-1h0m1-2h0m0 4h0m1 4h0m2-6h0m0 0h0m1-6h0m4 6h0m10 5h0m8-10h0m1 7h0m-3 14h0m-3 4h0m-2-11h0m-4 6h0m-5 0h0m-2-1h0m-5 2h0m-4-6h0m-3-2h0m-1 11h0m-3-1h0m-2 3h0m-1-8h0m-6-4h0m-1 8h0m0 0h0m-1 1h0m0-6h0m0 0h0m-1 3h0m-2-4h0m0 1h0m-1 3h0m-3 0h0m-1 5h0m-3-7h0m-2 2h0m-7 2h0m-2-4h0m-1 1h0m0 5h0m-4-10h0m-6 4h0m-3 2h0m-3-1h0m-1 0h0m-4-1h0m-3-1h0m0-4h0m0 3h0m0 2h0m0-4h0m-1 6h0m-3 4h0m-3 2h0m-1-8h0m-3 2h0m-1-4h0m-3 4h0m-1-1h0m0 2h0m-2-7h0m-1 11h0m-3-8h0m-1 3h0m0-1h0m0 5h0m-1-9h0m-1 10h0m-1-6h0m0-4h0m0 7h0m-4 0h0m-3-8h0m-1-1h0m-1 2h0m-2 11h0m0-3h0m-2-4h0m0 5h0m-1-5h0m-4-6h0m-1 6h0m0 0h0m-1-5h0m0 4h0m0-5h0m-1 7h0m-1-3h0m0 9h0m-1-7h0m-1-1h0m-1 0h0m0 0h0m0-2h0m0 2h0m0 5h0m-1-5h0m0 1h0m0-2h0m0-4h0m-1 11h0m0-8h0m-2-2h0m0 0h0m-1 4h0m0 5h0m0-1h0m-2-2h0m-2 3h0m-2-7h0m-1 6h0m-1-1h0m0-4h0m-1 6h0m-1-1h0m-1-4h0m0 1h0m-2-2h0m0-3h0m0-1h0m0 10h0m0-1h0m-1-7h0m0 9h0m-1 2h0m-1-5h0m-1-1h0m0-5h0m-2 0h0m-1 8h0m0-2h0m0-4h0m-3-2h0m0-2h0m-2 13h0m0-10h0m-2 3h0m-3-6h0m0 11h0m0-3h0m-1-2h0m-3-6h0m-4 2h0m-1 3h0m0-2h0m-1 4h0m-1-6h0m-4 4h0m-2-4h0m-1 8h0m-1-1h0m-2 3h0m0-6h0m-2-2h0m-1 9h0m-1 0h0m0-8h0m-2-4h0m-1 11h0m0-11h0m-2 11h0m-1-7h0m0 8h0m-1-7h0m-1 6h0m-1-7h0m-1 8h0m0-3h0m0 4h0m0-9h0m-1 1h0m0 0h0m-1 5h0m0 3h0m0-6h0m-1-5h0m0 6h0m-1 5h0m0-10h0m0 9h0m0-3h0m-1-5h0m0 3h0m-1-6h0m-1 5h0m-2-4h0m-1 2h0m0 6h0m-3-10h0m0 0h0m0 11h0m-1-9h0m-1 0h0m0 5h0m0-4h0m-1 3h0m-1-3h0m-2 7h0m-2 1h0m-2-11h0m-8 9h0m-7-9h0m0 2h0m-21-2h0m-2 3h0m-1-3h0m-2 0h0m-3 4h0m0 0h0m0-3h0m0 0h0m-1-1h0m-3 4h0m0 0h0m-1-4h0m0 8h0m0-8h0m-1 2h0m0 4h0m0 5h0m-1-8h0m0 0h0m-1-1h0m0 3h0m-3 4h0m-17-9h0m-6 0h0m-13 1h0m-4 8h0m0 1h0m-6-8h0m-1 0h0m-1-1h0m-5-1h0m-7 1h0m-15 6h0m-1 3h0m-1-9h0m0 3h0m-1-4h0m-2 11h0m-3-11h0m0 13h0m-1-6h0m-1 6h0m0-12h0m-1 1h0m-5 4h0m0 1h0m-8 1h0m0-3h0m-10 21h0m4-5h0m0 6h0m1-13h0m1 11h0m0-3h0m0 3h0m1-2h0m1 3h0m1-3h0m1-7h0m1-1h0m1 4h0m2 3h0m0 0h0m0 3h0m1-7h0m1 5h0m2-6h0m2 1h0m1 6h0m6-8h0m3 8h0m0-4h0m1 4h0m0-7h0m4 10h0m1-6h0m2 0h0m0 5h0m2 1h0m3-5h0m0 2h0m3-2h0m0-2h0m4-2h0m2 7h0m0-5h0m2 4h0m0-4h0m0-3h0m3 9h0m1-11h0m3 6h0m3 0h0m0 3h0m0-9h0m1 7h0m5 3h0m2-4h0m0 1h0m3-8h0m2 7h0m1 2h0m0 1h0m0-3h0m2 5h0m0-1h0m1-8h0m4 9h0m0-5h0m1 2h0m1 4h0m0 0h0m6-6h0m1 6h0m1-6h0m2 6h0m1-1h0m0 0h0m2 0h0m4-7h0m0 1h0m21 7h0m20-8h0m15 2h0m0-3h0m7 5h0m2-1h0m2-5h0m1 5h0m0-1h0m1 6h0m1-10h0m1 2h0m0-3h0m1-2h0m0 4h0m2 5h0m1-2h0m1 0h0m0-1h0m1-3h0m0 1h0m1-3h0m0 6h0m2-2h0m1 3h0m1 0h0m0-4h0m1 5h0m1 2h0m0-8h0m0-3h0m0 3h0m0 7h0m1 2h0m0-2h0m0 0h0m0-5h0m0 8h0m1-1h0m0-3h0m0-7h0m0 2h0m2 2h0m1-6h0m1 3h0m0-2h0m0 5h0m1 3h0m0-6h0m2 1h0m1 6h0m0-7h0m0 9h0m1 1h0m0-6h0m1-1h0m1 7h0m0-11h0m1-2h0m1 1h0m0 8h0m1 1h0m1-3h0m0-3h0m1-4h0m1 10h0m1-4h0m0-1h0m1 7h0m0-5h0m0 6h0m1-6h0m1-4h0m0 2h0m1 4h0m1-1h0m0 2h0m1 1h0m1-6h0m4 1h0m0 5h0m2 0h0m3 1h0m1-9h0m0 7h0m8-3h0m0 6h0m1-11h0m0 6h0m2 5h0m1-2h0m3-7h0m0 8h0m2-6h0m0-4h0m3 1h0m1 3h0m2 1h0m1-4h0m3 5h0m1-6h0m0 1h0m1-3h0m0 1h0m5 0h0m2 2h0m0-2h0m4-1h0m1 2h0m1 0h0m0 0h0m2 3h0m8 3h0m5-8h0m2 7h0m8 4h0m5-2h0m1-1h0m2-5h0m5 8h0m1 0h0m2 0h0m1 0h0m7-7h0m7 9h0m0-12h0m1 11h0m1-7h0m3-3h0m3 9h0m16 0h0m2-11h0m2 1h0m1 5h0m6 1h0m0 2h0m2-7h0m2 4h0m1-5h0m7-1h0m10 0h0m3 9h0m5-7h0m7 3h0m2 8h0m4-9h0m2 1h0m0-1h0m2 7h0m2-2h0m41 18h0m-10-1h0m-2-6h0m-2-2h0m-7 9h0m-2-3h0m-11-6h0m-10-4h0m0 4h0m-3 1h0m-2-1h0m-3 7h0m-2-1h0m-3-2h0m-9 3h0m-1-10h0m0 9h0m-12-7h0m-4 4h0m-5 0h0m-3-2h0m-1 4h0m-6 4h0m-4-1h0m0 0h0m-2-7h0m0 4h0m-1-5h0m-1 8h0m-2-3h0m-1-5h0m-7 6h0m0-9h0m-2 5h0m0 3h0m0-5h0m-1 7h0m0-1h0m-3-5h0m-1 3h0m-1 2h0m0-2h0m-1-1h0m-1 6h0m0-8h0m-1 1h0m-3-4h0m0 3h0m-2 5h0m-1 2h0m0-1h0m-1-5h0m-1 4h0m0-1h0m0 3h0m-1-8h0m0 4h0m-2-5h0m-2 0h0m-1 9h0m-2-6h0m-1-4h0m-3 5h0m-2 2h0m0 2h0m0-4h0m0-5h0m0 9h0m-2 1h0m0-1h0m-2-7h0m0-1h0m-1 1h0m0 1h0m-1-4h0m-3 8h0m0-8h0m-1 2h0m0 1h0m0 2h0m-1 2h0m-2-1h0m0 3h0m0-1h0m-1-1h0m-3-5h0m-1 8h0m-3-1h0m-1-4h0m-1 1h0m-6 6h0m-2-1h0m-1-7h0m0-2h0m-3 9h0m-6-8h0m-2 8h0m0-3h0m-2-3h0m0-1h0m0 4h0m-3 4h0m-2-8h0m-1 3h0m-3 4h0m-1-9h0m-2 3h0m0 3h0m0-2h0m0-3h0m-1 6h0m0-8h0m-1 6h0m-2-7h0m0 8h0m-1-1h0m0 3h0m-1-7h0m0 1h0m0-1h0m-5-2h0m0 7h0m-1-6h0m-1 5h0m0-1h0m-1-4h0m0 5h0m-2 0h0m-3 4h0m0-10h0m0 6h0m0-4h0m-1 6h0m0 3h0m-1-11h0m0 8h0m-2 1h0m0-4h0m0-5h0m-1 10h0m-1-5h0m0 3h0m0 1h0m0-11h0m0 2h0m-1 6h0m-1-6h0m0 5h0m0-4h0m-2-2h0m0 12h0m0-6h0m0-3h0m0-2h0m0 3h0m-1 6h0m0 2h0m-1-11h0m0 1h0m-2-2h0m0-1h0m-1 2h0m-1 8h0m0-8h0m0 11h0m-1-5h0m0 0h0m0 4h0m0-7h0m-1 1h0m0 7h0m0-12h0m0 9h0m0-6h0m-1 9h0m-2 0h0m0-12h0m0 3h0m0 9h0m-2-12h0m-1 4h0m0-1h0m0-1h0m0 8h0m-1-6h0m0 0h0m0 6h0m-1 1h0m-1-7h0m0 0h0m0-4h0m-1 10h0m0-10h0m0 9h0m0 3h0m-1-8h0m0 1h0m0 3h0m-1-8h0m0 10h0m0-2h0m0 2h0m0 2h0m-1-2h0m0-11h0m0 13h0m-1-5h0m0-2h0m0 1h0m-1-7h0m0 6h0m0 7h0m0 0h0m-2-11h0m0 4h0m-2-6h0m0 4h0m-1-4h0m-1 6h0m-1 6h0m0-8h0m-45 8h0m-1 1h0m-3-1h0m-6-2h0m-1 2h0m-2-5h0m-3 2h0m-2-3h0m0 2h0m0-5h0m-1 6h0m-1 1h0m0-10h0m-2 12h0m-1 1h0m0-10h0m0 1h0m0 0h0m-1 3h0m-1 4h0m0-3h0m0 5h0m-1-9h0m-2 6h0m0 1h0m0 2h0m-1-8h0m-2 2h0m0 2h0m-2 4h0m0-4h0m0 3h0m-1-7h0m0 8h0m-1-12h0m-1 11h0m-3-1h0m-1 2h0m-1 0h0m0-5h0m0-4h0m-1 3h0m0-6h0m0 6h0m-1 3h0m0 3h0m0-11h0m-1-2h0m0 1h0m-1 3h0m-2 6h0m0-6h0m0 3h0m0-7h0m0 6h0m-1 4h0m-1 0h0m0 0h0m-1 1h0m0 0h0m0-5h0m-2-5h0m-1 3h0m0-2h0m0 10h0m-1-1h0m0-8h0m-1 0h0m0 7h0m-2-6h0m-1 7h0m0 0h0m-1-9h0m0 8h0m-3-6h0m-5 2h0m-2-4h0m0 6h0m0 0h0m-1 2h0m-2-2h0m-1 1h0m0 3h0m0-4h0m-1-7h0m0 8h0m-1 0h0m-1-5h0m0 8h0m-1-11h0m0 9h0m-1-1h0m0 3h0m-1-11h0m-2 2h0m-1 10h0m-1-9h0m0 2h0m0-6h0m-1 8h0m-1-6h0m-1 6h0m-3 1h0m-1 3h0m-1-4h0m0-1h0m0 5h0m-1 0h0m0-1h0m-1 2h0m-1-4h0m-3-4h0m0 4h0m-2 3h0m-1-6h0m0 4h0m-1 2h0m-2-3h0m0 3h0m-1-12h0m-2 11h0m-1 1h0m-1 0h0m0 0h0m0-9h0m-1 4h0m-1-2h0m0 1h0m-1-2h0m-1 9h0m-1 0h0m0-2h0m-5 1h0m-1-7h0m0-4h0m-1 11h0m0-4h0m-1-7h0m0 0h0m-1 12h0m0-8h0m-1-3h0m0 2h0m-3 0h0m0-4h0m0 3h0m-1-3h0m0 2h0m-2 11h0m0-2h0m0-4h0m0-2h0m-1-5h0m-1 11h0m0 1h0m-1 0h0m-2-3h0m0-1h0m-2 2h0m0 2h0m0-7h0m0 4h0m-1-1h0m-2-8h0m0 9h0m-1 2h0m-7-1h0m-7-1h0m10 5h0m6 12h0m1-12h0m1 13h0m0 0h0m1-1h0m2-5h0m1-1h0m1-1h0m0 6h0m0-10h0m1 1h0m1 9h0m0-3h0m1-1h0m0-4h0m1 4h0m1-3h0m0-2h0m0 5h0m1-4h0m0 3h0m0-1h0m1 0h0m0-3h0m0 8h0m0-10h0m0 0h0m0 4h0m1 8h0m0-1h0m0-6h0m1 4h0m1-5h0m1-1h0m0 0h0m0-1h0m0 0h0m2 3h0m1 6h0m1-4h0m0 0h0m1 3h0m0 3h0m1-1h0m0 1h0m0-3h0m1-5h0m0-5h0m1 10h0m0-2h0m0 2h0m1 0h0m1-7h0m0 4h0m1-7h0m0 11h0m0-11h0m4 8h0m2 0h0m0 5h0m1-4h0m0-8h0m0-1h0m0 9h0m1-4h0m4-4h0m0 6h0m0 2h0m1-2h0m0 6h0m0-9h0m1 9h0m0-9h0m3 0h0m1-3h0m1 7h0m0 0h0m0 5h0m7-5h0m2-5h0m0 8h0m1 1h0m1-8h0m0 9h0m0-3h0m1-5h0m0 4h0m1 2h0m2-9h0m2 6h0m0-1h0m1 1h0m2 5h0m0-3h0m1-10h0m0 1h0m4 3h0m0 6h0m0-2h0m0 1h0m1 3h0m2-4h0m2 5h0m3-1h0m1-10h0m0 7h0m1-8h0m0-1h0m1 13h0m1-4h0m0-2h0m1 4h0m0 0h0m0-2h0m0-8h0m1 4h0m2 2h0m0 1h0m1 2h0m0 2h0m1-6h0m0-5h0m1 2h0m0 10h0m1-3h0m0-3h0m0-5h0m1 3h0m0 6h0m1 0h0m0 0h0m0-11h0m0 0h0m1 0h0m0 0h0m1 9h0m0 3h0m0-9h0m0 5h0m0 4h0m1-12h0m0 7h0m0 5h0m0-6h0m1 7h0m0-4h0m0 4h0m0-12h0m1 1h0m0 5h0m0-5h0m1 6h0m1-8h0m0 4h0m1 0h0m0 5h0m0 1h0m0-3h0m0 2h0m1 4h0m0-7h0m0 0h0m1-6h0m0 5h0m1-3h0m0 11h0m0-6h0m1 5h0m1-9h0m0 4h0m0-7h0m0 2h0m0 5h0m1-4h0m0 7h0m0 1h0m0-5h0m1-1h0m0 2h0m0 5h0m0 1h0m0-2h0m0-5h0m1 0h0m0-5h0m1 2h0m0 8h0m0 2h0m0-7h0m1-3h0m1 2h0m0 4h0m1-4h0m0-1h0m0 1h0m1-4h0m0 5h0m2 2h0m1-2h0m0 4h0m0 3h0m1-8h0m1 2h0m1-4h0m0-3h0m0 8h0m1 4h0m0-3h0m0-2h0m3-3h0m1 4h0m0-2h0m0 5h0m0 1h0m0 0h0m1 0h0m0-3h0m1-2h0m0 4h0m1 2h0m1-6h0m0 3h0m2-1h0m0 0h0m1-3h0m1-4h0m2 5h0m3-1h0m2 0h0m3 5h0m0 1h0m0-11h0m5 8h0m15 0h0m2 4h0m1 0h0m9-9h0m3 6h0m1 3h0m7-10h0m2-3h0m1 5h0m1 0h0m2-1h0m1 0h0m0 2h0m2-4h0m0 2h0m0 4h0m0-4h0m2 2h0m0-3h0m1 10h0m0-12h0m0 2h0m1-3h0m0 3h0m0 7h0m0-6h0m1-1h0m0 0h0m1-1h0m0-2h0m0 5h0m0 8h0m0 0h0m0-7h0m0-5h0m1 3h0m0 1h0m0-3h0m0 4h0m0-2h0m0 3h0m0 4h0m1-11h0m0 6h0m1-4h0m0 6h0m0 4h0m1-11h0m0 3h0m0 2h0m0 6h0m1-8h0m1 5h0m1-5h0m0 1h0m1 5h0m0 0h0m1-4h0m1 5h0m0-10h0m0 1h0m1 3h0m0-1h0m1-2h0m0 2h0m0 5h0m0-1h0m1 3h0m1 0h0m0-1h0m0-9h0m0 11h0m1-3h0m0-6h0m1 0h0m0 0h0m0 4h0m1 3h0m2-9h0m0 2h0m0 10h0m0-4h0m1-4h0m1-4h0m1 12h0m0-13h0m1 13h0m0-3h0m2-7h0m0 1h0m1 6h0m3-8h0m1 9h0m0-8h0m1 10h0m0-12h0m0 12h0m1-3h0m2-4h0m1 6h0m0 1h0m0-3h0m1-5h0m0 3h0m0-6h0m1 2h0m1 8h0m2-1h0m0-2h0m1-7h0m0 8h0m0-4h0m2 2h0m3 3h0m0 1h0m1-6h0m0-1h0m1 2h0m2 6h0m1-7h0m1-2h0m1 1h0m0 3h0m1-6h0m1 6h0m1 1h0m0 2h0m3-4h0m1 5h0m0 1h0m1-5h0m0-1h0m0 2h0m0-5h0m0 5h0m2 2h0m1-4h0m2-1h0m1-3h0m0 9h0m0-7h0m0-4h0m1 3h0m1 7h0m0-5h0m2 1h0m7-4h0m4-1h0m1 11h0m2-9h0m1-1h0m1 4h0m0-5h0m2 9h0m0-3h0m0 3h0m2-11h0m0 7h0m0 6h0m1-12h0m0 6h0m2-6h0m2 3h0m0 2h0m1-3h0m3 4h0m1 5h0m2-9h0m3-3h0m3 0h0m0 9h0m0 1h0m1-6h0m1 9h0m3-11h0m5-1h0m1 3h0m1 6h0m2-2h0m2 3h0m0 0h0m1 2h0m1-10h0m1 8h0m3-9h0m1 7h0m0-6h0m2 8h0m4 0h0m0-10h0m1 3h0m0-1h0m1 3h0m0 5h0m0-8h0m1 1h0m0 3h0m1-1h0m1 0h0m1-6h0m1 2h0m2-1h0m7 12h0m3-2h0m1-3h0m0-8h0m2 12h0m0-9h0m3-3h0m0 9h0m1 2h0m1-4h0m1-4h0m1 7h0m1-3h0m0-1h0m7 7h0m4-8h0m0 6h0m2-5h0m3 5h0m0-6h0m1 3h0m5-4h0m1 3h0m1-6h0m1 7h0m0 1h0m1 2h0m1-9h0m2 5h0m1 2h0m2-7h0m1 1h0m4 9h0m1 0h0m1-11h0m3 9h0m1 2h0m5-1h0m5-1h0m7 3h0m5-12h0m0 12h0m0-11h0m4 3h0m7 6h0m5-3h0m1 6h0m-5 13h0m-6-5h0m-4 5h0m-2-10h0m-3 10h0m0-5h0m-1-3h0m-1 4h0m0-5h0m-5 2h0m-2 7h0m-2-6h0m-1-3h0m0 0h0m-6 3h0m0-3h0m0 5h0m-2 0h0m-2-6h0m0 1h0m-1-3h0m-1 9h0m0 1h0m-1-7h0m-2 4h0m-1-6h0m-2-1h0m0 3h0m-2-4h0m-4 3h0m-2 1h0m-1 1h0m-1-2h0m-1 0h0m-2-1h0m0 11h0m-4-3h0m0 2h0m-1-10h0m-5-1h0m-1 4h0m-1 4h0m-3-4h0m-2-3h0m-1-1h0m-1-1h0m-5 0h0m0 1h0m-25 6h0m-1-6h0m-11-1h0m-8 5h0m-2-2h0m-6-3h0m-1 7h0m-1-5h0m-4 8h0m-1-6h0m-1 5h0m-2 1h0m0 2h0m-1-8h0m-1 2h0m-2 0h0m-3 6h0m0 1h0m0 0h0m-1-1h0m0-6h0m-2 4h0m0-9h0m-2 12h0m-1-4h0m-1-4h0m0-3h0m-3 3h0m0-5h0m-2 5h0m-2 6h0m0-5h0m-5 6h0m-1 1h0m0-6h0m-2 5h0m0-9h0m0 1h0m-2-3h0m0 4h0m-1-1h0m-1 6h0m0-1h0m0-6h0m0 1h0m-1 1h0m0 2h0m-1-3h0m0 3h0m-1 3h0m0-10h0m0 11h0m-1-6h0m-1 1h0m-1 0h0m0 4h0m-1-3h0m0-7h0m0 7h0m-1-4h0m0 0h0m-1 3h0m0-4h0m-1 0h0m-1 7h0m-1 4h0m-1-5h0m-2-8h0m-2 8h0m0-3h0m-1-4h0m-1 1h0m-1 7h0m-1 0h0m0-1h0m0-8h0m-1 11h0m0-5h0m0-3h0m-2 1h0m0-2h0m-4 9h0m0-3h0m0-7h0m0 4h0m0-3h0m-1 2h0m0 2h0m-1 5h0m0 1h0m-3-6h0m0 5h0m0-2h0m-1-3h0m0 1h0m0-6h0m-2 5h0m0-1h0m0 1h0m-1-5h0m0 1h0m0 7h0m-1-6h0m-4 1h0m0 1h0m0 6h0m-1-3h0m-4-2h0m0 1h0m0 6h0m0-13h0m-1 2h0m-2 11h0m0-8h0m-1 7h0m0-12h0m-1 8h0m0 0h0m0 3h0m-1 2h0m0-13h0m-1 5h0m-1-2h0m0-3h0m-1 3h0m-2-3h0m-1 8h0m-1-3h0m-1 4h0m-1-2h0m-1-5h0m0 11h0m-3-5h0m0-5h0m-3 10h0m-2-10h0m0 6h0m-2-9h0m0 8h0m-4-2h0m-2 0h0m-8 7h0m0-10h0m-2 1h0m0 6h0m0-9h0m-3 6h0m0 0h0m-2 6h0m-1-6h0m0-3h0m-1 7h0m0-7h0m-1 1h0m-4 6h0m-1-9h0m-1 10h0m0-1h0m0 2h0m0-9h0m0 1h0m-1 5h0m0-3h0m-1 2h0m-1 0h0m-1-6h0m-4 5h0m0 5h0m-1-4h0m0 3h0m-2 1h0m-1-2h0m-3 0h0m-2-4h0m-1 1h0m-1 3h0m-1-11h0m0 1h0m-2 9h0m-1-2h0m0 2h0m-1 0h0m0-5h0m0 3h0m-2-8h0m-1 9h0m-1-5h0m0 7h0m-2-10h0m0 4h0m-1-2h0m-3 1h0m-1-2h0m0-2h0m-1 10h0m-1-1h0m-2-8h0m0 1h0m0 2h0m-2-2h0m0 3h0m-1 0h0m0 2h0m0-2h0m-2 3h0m-1-1h0m0 0h0m0-1h0m-1 5h0m0-5h0m0 0h0m-1-1h0m0-1h0m-1 6h0m0-7h0m0 9h0m0 1h0m-1 0h0m0 0h0m0-6h0m0-1h0m-1 1h0m0 0h0m-1 1h0m0-2h0m-1 6h0m-1-7h0m0-5h0m-1 5h0m0 1h0m-2-1h0m0 2h0m0-6h0m-1 6h0m0-4h0m0 1h0m0 2h0m-1-1h0m-1 8h0m0-2h0m0-3h0m-1 1h0m0 4h0m-1-4h0m-1 3h0m-1-11h0m0-1h0m0 10h0m0-7h0m0-3h0m0 13h0m0 0h0m-1-5h0m0 0h0m-1 0h0m-1 5h0m-1-8h0m0 4h0m0-3h0m0 4h0m0-10h0m0 7h0m-1 0h0m0 1h0m-1-2h0m0-1h0m-1 6h0m-1-11h0m0 10h0m-1-6h0m-1-2h0m-1 11h0m-1-2h0m0 2h0m-1-1h0m-1-4h0m-1-3h0m0 8h0m-1-8h0m-1 7h0m-2 1h0m0-3h0m0-10h0m-1 12h0m0-11h0m-1-1h0m0 8h0m-1-5h0m-1 1h0m-1-1h0m-2 4h0m0-7h0m0 1h0m-1 6h0m-1-1h0m-1-4h0m0 1h0m0 0h0m0-1h0m-1 0h0m-1 0h0m0 8h0m-1 2h0m-1-10h0m-1-1h0m-1 6h0m-7 1h0m0-4h0m-1-2h0m-2 5h0m0-1h0m-1-5h0m-1 11h0m-2-3h0m-2-1h0m0-3h0m0 4h0m-1-2h0m0 2h0m0 4h0m0-5h0m-1 0h0m-1-5h0m0 6h0m-1-9h0m-1 7h0m-1 0h0m-2-7h0m0 7h0m-2-7h0m-1 0h0m0 0h0m-1 12h0m-1-9h0m0-1h0m0 4h0m0 3h0m-2-7h0m0-2h0m0 3h0m-1-3h0m0 4h0m0-3h0m-1 10h0m-1-3h0m-1-8h0m0 4h0m-2 3h0m0-1h0m-1 7h0m0-1h0m-2-10h0m-1 8h0m0-9h0m-1 0h0m-1 0h0m0 5h0m-1 1h0m-1-1h0m0 5h0m-2 1h0m-1-3h0m0-5h0m0-4h0m0 4h0m-1 1h0m-1-5h0m-1 2h0m-1-1h0m0 11h0m0-4h0m0-4h0m-1 3h0m-3-4h0m-2 7h0m0-10h0m-1 6h0m-1 0h0m0 1h0m-3 3h0m0 0h0m-1-7h0m0 10h0m0-4h0m0 4h0m-1-9h0m0 5h0m0-6h0m-2 1h0m-1 2h0m0 6h0m0-9h0m-2 0h0m0 9h0m0-2h0m-3 10h0m0-6h0m0 9h0m1-2h0m0-1h0m0 3h0m2-2h0m1 2h0m0-5h0m4 2h0m1 7h0m0-12h0m0 1h0m1 4h0m0 4h0m0-6h0m0 5h0m0-8h0m1 4h0m1-5h0m0 11h0m1-11h0m1 1h0m1 12h0m1-8h0m1 8h0m1-1h0m1-6h0m0 5h0m1-6h0m3 7h0m0 1h0m0-5h0m0 4h0m0-1h0m1-5h0m1 5h0m1-2h0m0 0h0m0 3h0m0-4h0m1 0h0m1-6h0m1 1h0m0-2h0m2 4h0m0-4h0m0 4h0m0-3h0m1 3h0m0-3h0m1-2h0m0 0h0m0 2h0m0 1h0m1 9h0m0-8h0m0-4h0m1 6h0m1-2h0m0 5h0m0-8h0m2 10h0m2-2h0m0-2h0m4-6h0m0 3h0m0-2h0m1-2h0m0 12h0m1 0h0m0-2h0m1-3h0m0-4h0m2 5h0m3-5h0m0 2h0m2 8h0m1-4h0m1 0h0m0-4h0m1 5h0m0-4h0m0-6h0m1 4h0m3-3h0m1 1h0m2-2h0m7 13h0m1-9h0m1-3h0m1 6h0m1-5h0m1 7h0m0-9h0m1 6h0m1-2h0m4 9h0m4-10h0m1-2h0m0 12h0m1 0h0m0 0h0m0-8h0m1 3h0m1-4h0m0 1h0m2 1h0m2 0h0m0-5h0m1 2h0m0 4h0m0 6h0m1-2h0m0-3h0m1 5h0m0-12h0m0 0h0m1 12h0m0-9h0m3 0h0m0-3h0m0 3h0m0 2h0m0 3h0m0-9h0m0 8h0m1-6h0m1 7h0m0-2h0m0 2h0m1 2h0m0-11h0m0 8h0m1 0h0m0-8h0m1 11h0m0-1h0m0-9h0m0 10h0m0-6h0m1 5h0m1-2h0m0 5h0m0-8h0m0 8h0m1-12h0m0 0h0m1 2h0m0 3h0m1 1h0m0 2h0m0-4h0m1 0h0m1 0h0m0-3h0m1 10h0m0-9h0m0-2h0m1 9h0m0 0h0m1-2h0m1-3h0m0-2h0m0-3h0m1 3h0m2 5h0m0-8h0m1 4h0m0 6h0m2-1h0m0 3h0m2-7h0m1-2h0m1 7h0m1-6h0m2-3h0m3 5h0m4-5h0m0 12h0m0-4h0m0-2h0m2 1h0m0 3h0m0-4h0m0-2h0m0 4h0m1-3h0m0 6h0m1-1h0m0-10h0m1 2h0m0 10h0m2-9h0m0 8h0m1-7h0m0 8h0m3-4h0m0-3h0m3 7h0m0-3h0m0 1h0m3 2h0m0-6h0m0 1h0m2-3h0m1-2h0m0-2h0m1-1h0m1 11h0m1-9h0m0 10h0m2-6h0m1-2h0m1 8h0m0-7h0m1 4h0m1-5h0m1-1h0m0 5h0m0-8h0m1 9h0m1-7h0m1 6h0m0-8h0m1 8h0m1-2h0m1 6h0m0-1h0m1-2h0m0-1h0m1 2h0m1-7h0m1 8h0m1-11h0m3 10h0m1-3h0m0 0h0m2 4h0m1-2h0m0 4h0m1-2h0m2 1h0m2-7h0m1 4h0m1-5h0m2 2h0m1-4h0m1 9h0m2-1h0m1-1h0m0-8h0m1 11h0m0-1h0m0-2h0m1-8h0m1 0h0m0 4h0m0 1h0m2 7h0m1-5h0m1-1h0m0 4h0m1 2h0m0-4h0m1-6h0m2 10h0m3-10h0m4-1h0m1-2h0m1 0h0m2 6h0m1-6h0m4 5h0m0-3h0m0 2h0m1 4h0m2 3h0m0-6h0m1 2h0m1-4h0m0 0h0m0 2h0m3 1h0m1-5h0m2 3h0m0 5h0m5-1h0m0 4h0m2 0h0m2-9h0m1 7h0m0-8h0m1 3h0m0-3h0m3 9h0m0-5h0m1 7h0m0-7h0m0 1h0m1-1h0m0 1h0m0 3h0m1-6h0m0-1h0m0-2h0m0 5h0m0 0h0m0 3h0m0 3h0m1-2h0m0-1h0m0 2h0m1 1h0m0-4h0m3-7h0m0 6h0m0-7h0m1 2h0m1 2h0m1 4h0m1 3h0m0-11h0m0 3h0m0 3h0m0 6h0m1-10h0m1 10h0m0-2h0m0-10h0m2 3h0m4-3h0m0 2h0m0 4h0m0-4h0m1 5h0m1 5h0m0-3h0m1-9h0m1 13h0m0-6h0m1 3h0m0-5h0m0 2h0m1 6h0m0-1h0m2-10h0m0 2h0m1 1h0m1 2h0m0-3h0m0 8h0m1 0h0m1-8h0m0 4h0m1 1h0m1 4h0m0-10h0m1-1h0m0-2h0m1 11h0m1 0h0m1-1h0m0 2h0m1-2h0m3-10h0m0 7h0m1 0h0m1 2h0m2-1h0m0 0h0m0-2h0m0-3h0m1-2h0m0 2h0m1 10h0m0-3h0m0 0h0m0-6h0m0-1h0m0 2h0m1 1h0m0 2h0m0-1h0m1-2h0m1-1h0m0-1h0m0 5h0m0 0h0m0 3h0m2-6h0m0 0h0m1-2h0m0 4h0m0 0h0m0 0h0m0 4h0m0-5h0m0-2h0m0 1h0m1-1h0m4 9h0m1-11h0m0 0h0m1 7h0m3-3h0m2 3h0m1-4h0m2 2h0m0-2h0m0 2h0m1 5h0m4-3h0m0 3h0m1-1h0m68-3h0m2-8h0m3 7h0m2 4h0m2-3h0m2 2h0m1-2h0m2-3h0m3 1h0m0 3h0m1-5h0m0 2h0m4 1h0m1 4h0m1-7h0m4 0h0m2-1h0m2-1h0m2 2h0m1 9h0m3-10h0m2 3h0m1-3h0m1 2h0m1 2h0m2 5h0m1-9h0m0 4h0m1 1h0m2-1h0m0 2h0m1 3h0m0-10h0m3 2h0m3-3h0m3 4h0m1-1h0m5 3h0m16 3h0m5 16h0m-10-1h0m-1-6h0m-2-2h0m-1 5h0m-1 1h0m-1 3h0m0-1h0m-5 2h0m0-5h0m-1 2h0m0-7h0m-1 0h0m0 7h0m-3 2h0m-6-7h0m0-1h0m0-3h0m-2 2h0m0 2h0m0-3h0m0-2h0m-1 6h0m0-3h0m-1 10h0m-1 0h0m0-7h0m-3 4h0m-1-6h0m0 4h0m-1-6h0m0 0h0m-3 1h0m-5 1h0m-3 6h0m-10-9h0m-10-1h0m-3 13h0m-1 0h0m-2-2h0m0-6h0m-1 3h0m-1 5h0m-1-13h0m-7 8h0m-1 4h0m-2 1h0m-1-2h0m0-2h0m-2 1h0m0-6h0m0 8h0m-1-1h0m-2-3h0m0 0h0m-2 5h0m-3-9h0m0 9h0m-1 0h0m-5-9h0m-1-3h0m-1 9h0m-1-3h0m-1 5h0m0-6h0m-1-4h0m-1 8h0m-1-4h0m-2 6h0m-1-1h0m-1-4h0m-1-2h0m0 3h0m0-1h0m0 5h0m-1-4h0m0 1h0m0-4h0m-1-2h0m-1 10h0m-1-6h0m0 2h0m0-7h0m-1 5h0m-2 1h0m-1 4h0m-1-7h0m0 7h0m-10-3h0m-8-9h0m-1 3h0m-1 4h0m0 4h0m-1-8h0m-2 10h0m0-13h0m0 10h0m-2 3h0m-2-8h0m0-1h0m-1 5h0m0-9h0m0 13h0m-2-12h0m-4 5h0m-2 1h0m-1 5h0m-1-5h0m-1-2h0m0-4h0m-1 0h0m-1 1h0m-1 4h0m-1-1h0m-2 5h0m0-9h0m-1 2h0m0 0h0m-1-3h0m-1 13h0m0 0h0m0-8h0m-1 4h0m-1-4h0m-1-5h0m0 7h0m-2 2h0m-3-4h0m0 2h0m-3-5h0m-2 0h0m-1 6h0m0-1h0m-3 4h0m0-3h0m0-3h0m-2-4h0m0 5h0m-1 7h0m0-1h0m0-10h0m-1 1h0m-1 10h0m-3-13h0m-2 7h0m-1 6h0m-1-10h0m0 7h0m-2 0h0m0-2h0m-1-2h0m-1-2h0m-1 8h0m0-7h0m-2 6h0m-1 0h0m-1-1h0m-1-5h0m-1 7h0m0-4h0m-1 2h0m0-2h0m-1 5h0m0-7h0m-1 6h0m-1 1h0m-2-11h0m-1 0h0m0 1h0m-1 9h0m-1-12h0m0 0h0m-2 7h0m-1 6h0m0-2h0m0 2h0m0-10h0m-1 7h0m0-7h0m0-3h0m0 10h0m-2-8h0m0 1h0m-1 7h0m0-5h0m0 6h0m0-2h0m-1 4h0m0 0h0m-1 0h0m-1-3h0m-1 1h0m0-10h0m-1 8h0m0-1h0m-3 0h0m0 3h0m-1-2h0m0-9h0m-1 13h0m0-2h0m0-10h0m-1 8h0m0 2h0m-1-11h0m0 5h0m-1-2h0m-1 1h0m-1 1h0m-1 6h0m0-2h0m0-8h0m-2 12h0m-1-3h0m0 3h0m-2-2h0m0 2h0m-1 0h0m-4-3h0m0 2h0m-1-1h0m0 2h0m-2-1h0m-8 1h0m0-3h0m0-9h0m-1-1h0m-1 2h0m-1 6h0m-4-5h0m0-1h0m0 6h0m0-7h0m-1 1h0m0 1h0m0 10h0m0-13h0m0 8h0m-1-3h0m0 0h0m-3 5h0m0-9h0m-1 2h0m-1 3h0m-1 4h0m0-5h0m-1 2h0m-1 3h0m-2-8h0m-2 1h0m0 4h0m-2-7h0m-1 1h0m-1 2h0m0 3h0m0-6h0m-1 11h0m0-8h0m-1-3h0m0 4h0m-1 1h0m0 8h0m0-1h0m0-9h0m-3-1h0m-1 0h0m0-1h0m-1 1h0m0-2h0m0 4h0m-1 3h0m0-7h0m-1 10h0m-1 2h0m0-4h0m0-3h0m0 6h0m-2-7h0m-1-2h0m-1 8h0m-4-2h0m-3-1h0m-2 3h0m-2-8h0m0 3h0m0 4h0m-2 3h0m0-10h0m-1 7h0m0-3h0m0-3h0m0-2h0m-1 12h0m-1-2h0m-2-10h0m0 11h0m0 1h0m-1-8h0m-1 0h0m-1 7h0m0 0h0m-5-5h0m-3-5h0m-1 8h0m-3-6h0m-1 3h0m0-5h0m-2 0h0m-2 11h0m0-9h0m-1-3h0m-2-1h0m-6 3h0m0 2h0m0 8h0m-2-3h0m0-6h0m-1-2h0m-2 9h0m0-2h0m0-8h0m-1 5h0m0-5h0m-2 11h0m-1-12h0m0 10h0m-1-7h0m0-1h0m-1 7h0m-1-6h0m-1 4h0m0-6h0m-1 6h0m0 3h0m-1 0h0m-1-2h0m-1 0h0m0-3h0m0 1h0m-1 7h0m0-3h0m0-5h0m0 5h0m-1 1h0m0-1h0m0 2h0m-1 1h0m-1-1h0m0 1h0m0-12h0m0 6h0m-1 3h0m0 2h0m0-7h0m0-3h0m-2 7h0m0-5h0m0 8h0m-2-10h0m-1 11h0m-2-10h0m0-1h0m-1-1h0m-1 4h0m-2 8h0m0-1h0m-1 0h0m0-8h0m0 9h0m-2-2h0m0-7h0m-1-3h0m-1 6h0m-2 0h0m0-4h0m-2 9h0m-2-8h0m-2 9h0m-1-1h0m0-11h0m-1 0h0m0 4h0m-1-1h0m0-3h0m-1 6h0m-1-2h0m0 8h0m-1-3h0m0 3h0m0-2h0m-1-8h0m-1-1h0m-2-1h0m0 1h0m-1 7h0m0 0h0m-1-4h0m0-1h0m-1 7h0m-1-4h0m-2-3h0m-1 6h0m0-2h0m-1-4h0m-2 3h0m0-6h0m-1 2h0m0 10h0m0-7h0m0 3h0m0 1h0m-2 0h0m0-4h0m-1-6h0m0 8h0m0-5h0m-1 1h0m0 2h0m-1 2h0m0 0h0m0 5h0m-2-5h0m-1 5h0m0-7h0m-2 7h0m0-7h0m0 0h0m0 6h0m-1-12h0m-1 6h0m0 0h0m-1 3h0m-1-2h0m-1-2h0m0 6h0m0 0h0m-3-8h0m-1 2h0m0-1h0m0 2h0m-1-2h0m0 5h0m-2-8h0m0 1h0m0 10h0m-1-4h0m0 5h0m0-13h0m-1 8h0m0 3h0m-1-2h0m-1 3h0m0-9h0m-1 10h0m-2-2h0m0-9h0m-2 1h0m-1 0h0m-1 9h0m0-11h0m-1 0h0m0 8h0m-1 1h0m0-1h0m0-1h0m-1-1h0m0 3h0m0-7h0m0 8h0m-1-11h0m0 13h0m0-3h0m-3-4h0m0 3h0m-1-5h0m0 6h0m-1 3h0m0-3h0m0 2h0m0-11h0m-1 10h0m-1-7h0m0-1h0m0 10h0m-3-12h0m-1 2h0m-1 10h0m0-11h0m-1-2h0m0 5h0m-1 5h0m-1-4h0m0 4h0m-2-9h0m-2 3h0m0 2h0m0-5h0m0 2h0m0-1h0m-3 4h0m-2-1h0m15 19h0m1-4h0m0-4h0m0 6h0m0-1h0m1 5h0m0 0h0m0 1h0m1-1h0m0-5h0m0 1h0m0 2h0m0-5h0m0 2h0m0-3h0m1 1h0m0-2h0m0-3h0m1 4h0m3 2h0m0-3h0m0 7h0m0-6h0m1 4h0m1-7h0m1 8h0m0 3h0m0-4h0m1-1h0m0 2h0m1-9h0m4 2h0m1 8h0m0 0h0m1-6h0m1-2h0m3 11h0m2-1h0m0-10h0m2 2h0m0 1h0m1 4h0m1-8h0m2 2h0m1-2h0m0 4h0m3 0h0m2 3h0m3-5h0m0-1h0m0-1h0m1 7h0m1 0h0m1-2h0m0 6h0m0-4h0m2 2h0m0 0h0m1-8h0m2 11h0m1-10h0m1 1h0m1 7h0m0-9h0m0 4h0m2 4h0m0 0h0m0-10h0m1 3h0m1-1h0m0 10h0m2-3h0m0 0h0m1-2h0m1 0h0m0 2h0m0 3h0m1-12h0m0 2h0m0 9h0m1-6h0m0-2h0m1 8h0m1-11h0m0 9h0m1-2h0m2 4h0m1-6h0m0-1h0m0 1h0m1 8h0m0-7h0m0-4h0m2 7h0m0 3h0m1-1h0m1 1h0m1-3h0m1-9h0m0 7h0m1-3h0m1-3h0m0 7h0m1 1h0m1-6h0m1 7h0m0-2h0m0 5h0m1-2h0m1 0h0m0-10h0m0 2h0m1-2h0m0 2h0m1 4h0m0 2h0m1-8h0m1-1h0m1 13h0m0 0h0m0-6h0m1 1h0m0-5h0m3 5h0m0-5h0m0 2h0m0 6h0m1-5h0m0 2h0m1 1h0m0-8h0m1 9h0m0-8h0m1 11h0m0-3h0m0-8h0m0 7h0m3 2h0m1-3h0m1-6h0m2 1h0m0 6h0m2 1h0m0-4h0m0 2h0m0 5h0m1-2h0m1-8h0m0-2h0m1 11h0m1-1h0m0-8h0m1 4h0m0-7h0m0 10h0m2-5h0m1-1h0m2 7h0m0-9h0m3 10h0m2-1h0m2-3h0m1-6h0m1 5h0m0-5h0m2 10h0m1-3h0m0 0h0m1 4h0m2-4h0m0 0h0m2-7h0m0-1h0m1 7h0m1-2h0m2 6h0m0 0h0m1-7h0m0 2h0m1 3h0m1-1h0m0 3h0m1-7h0m1-2h0m0-2h0m1 9h0m0 0h0m1-1h0m0-1h0m1 3h0m0-10h0m0 9h0m1-8h0m1-2h0m3 9h0m0-7h0m0 3h0m1 2h0m0-5h0m1 7h0m0-3h0m0-3h0m2 2h0m0 1h0m1 6h0m2-3h0m1 4h0m1-5h0m0 5h0m1 0h0m0-11h0m0 8h0m1-6h0m0 8h0m2-6h0m0-6h0m1 12h0m0-7h0m1 7h0m1-4h0m1 0h0m0 1h0m1-5h0m0 5h0m1-6h0m0 9h0m1-12h0m1 4h0m0 5h0m1 0h0m2-6h0m1-1h0m1-1h0m2 1h0m1 7h0m0 1h0m2-7h0m0 8h0m2 1h0m1-8h0m1 7h0m0-6h0m1 3h0m1-3h0m0 2h0m0 0h0m5-1h0m0-1h0m2 8h0m1 0h0m4-13h0m0 11h0m0-5h0m0-1h0m0-1h0m1 5h0m1 3h0m3-1h0m0 0h0m1-9h0m2 8h0m2-3h0m0 3h0m2 1h0m1-8h0m0 6h0m0-2h0m3-3h0m0 3h0m1-6h0m1 11h0m0-3h0m2 0h0m1-4h0m0-2h0m1 4h0m2-2h0m2-4h0m0 1h0m2 4h0m0 5h0m3 2h0m0-8h0m0 6h0m0 1h0m1-9h0m0 9h0m0-6h0m0-1h0m0 3h0m1-4h0m0 9h0m0 0h0m3-6h0m0-2h0m0 0h0m0 0h0m0-5h0m0 0h0m1 7h0m0-6h0m0 2h0m0 1h0m2 4h0m0-3h0m1 0h0m0-5h0m0 10h0m0-3h0m2 2h0m1 0h0m0-2h0m0-2h0m2 6h0m0-2h0m2-5h0m1 3h0m2-3h0m1 7h0m1 2h0m0-9h0m1-1h0m0 4h0m0-1h0m1 0h0m0 7h0m1-4h0m1-8h0m0 6h0m0 6h0m1-5h0m0-1h0m0 5h0m0-6h0m0 4h0m1-1h0m0-5h0m0 1h0m1 1h0m0-4h0m1 0h0m0 2h0m1 5h0m0-5h0m1 9h0m1-10h0m1-1h0m0 10h0m1-7h0m1 4h0m0-7h0m1 8h0m0-8h0m1 11h0m2-10h0m2 5h0m0 4h0m1-2h0m0-2h0m1-7h0m0 7h0m1-3h0m2-2h0m1-3h0m0 7h0m0 6h0m2-11h0m1 1h0m0 5h0m1 5h0m0-10h0m0 6h0m2-7h0m2-2h0m2 8h0m0-3h0m2 8h0m1-8h0m1 8h0m1-4h0m1 4h0m1 0h0m2-12h0m3 0h0m2-1h0m3 0h0m0 3h0m1-1h0m1 11h0m0-9h0m3-2h0m0 6h0m3-6h0m0 8h0m1-7h0m1 10h0m0-11h0m1 8h0m1 0h0m1 1h0m0 0h0m1 1h0m1-11h0m3 5h0m2 4h0m2-7h0m5 2h0m0 3h0m1-2h0m4-2h0m0 8h0m2 1h0m0-2h0m1-6h0m0-2h0m0 2h0m2-1h0m0 9h0m1-2h0m1 2h0m0-6h0m1-4h0m2 1h0m1-3h0m1 7h0m1-8h0m2 2h0m0 7h0m2-4h0m0 8h0m1-2h0m0-8h0m1 4h0m1 2h0m0-1h0m1-7h0m0 12h0m1-12h0m0 9h0m1-6h0m0-3h0m0-1h0m1 7h0m1 5h0m1-1h0m0 1h0m0-9h0m4 3h0m2 6h0m0-10h0m1 7h0m4-3h0m1 7h0m0-7h0m1-4h0m1 3h0m1-1h0m0 9h0m0-6h0m0 5h0m1-2h0m1-1h0m0 0h0m0 4h0m1-13h0m1 1h0m0 12h0m0-11h0m1 5h0m0 5h0m1-12h0m1 6h0m1-3h0m0 1h0m0 4h0m0-5h0m1 10h0m0-9h0m0 7h0m3 0h0m0 1h0m2 0h0m0-5h0m1-1h0m0 2h0m2 3h0m0-4h0m0-1h0m1 1h0m2 0h0m0-4h0m1-1h0m0 10h0m1-11h0m1 11h0m0-4h0m0 3h0m1-8h0m1-2h0m3 5h0m0 6h0m1-12h0m1 11h0m1-3h0m2 1h0m10 2h0m8-1h0m3-5h0m6 0h0m2 5h0m1-6h0m0 0h0m1 5h0m0 3h0m0-9h0m1-1h0m0 4h0m4 0h0m0-2h0m1 1h0m1-3h0m0 2h0m0 2h0m1-2h0m0 2h0m0-1h0m2 4h0m0-6h0m0 7h0m1-8h0m2 2h0m0-4h0m1 2h0m0-1h0m2 1h0m1 4h0m1 7h0m4-9h0m9 7h0m-10 7h0m-2-2h0m-10 0h0m-4 2h0m-2-2h0m-1 5h0m-13 5h0m-1-1h0m-6-2h0m-2-9h0m-1 5h0m0-1h0m0 6h0m-1 1h0m0-9h0m0 11h0m-1-3h0m-1-1h0m0-3h0m0 7h0m-1-7h0m0 6h0m-1-5h0m-2-4h0m0 6h0m0-5h0m-2-3h0m0 10h0m0-2h0m-2-7h0m0 8h0m-1-2h0m0-8h0m0 13h0m-1-3h0m0-6h0m0-4h0m0 0h0m0 3h0m0 7h0m-1 0h0m0 0h0m-1 2h0m-1-12h0m0 12h0m0 1h0m0-1h0m0-9h0m-1 1h0m0 2h0m0-4h0m0 0h0m-1 6h0m0 1h0m-1-1h0m0 3h0m0-1h0m-1-10h0m0 5h0m-1 4h0m-5-9h0m-1 6h0m-1-1h0m-2 7h0m0-10h0m-2 8h0m-1-8h0m0 5h0m0-4h0m-1-1h0m0 0h0m0 8h0m-1-6h0m-1 0h0m0 1h0m-1-1h0m-1 9h0m0-6h0m-4-4h0m-1 7h0m0 1h0m-1 2h0m-1-3h0m-1-7h0m-1 5h0m-1-1h0m-4-1h0m-1-4h0m0 9h0m0 2h0m-1-4h0m-1-8h0m-1 8h0m0 1h0m0-1h0m0-7h0m-2-2h0m0 3h0m0 5h0m-1 2h0m-1 0h0m0-10h0m-1 0h0m-1 9h0m-1 2h0m0-11h0m-1 0h0m0 8h0m0 3h0m-1-2h0m-1-9h0m0 11h0m0 2h0m-2-7h0m0-1h0m0 0h0m0 3h0m0 3h0m-2 2h0m-2-6h0m0 0h0m-2-2h0m0 4h0m0 2h0m-4-7h0m0 2h0m-1 4h0m0-5h0m0 0h0m0 6h0m0 1h0m-2-2h0m-1-9h0m0-1h0m-2 8h0m-1 1h0m0 3h0m-2-8h0m0 9h0m-1-1h0m0-10h0m-2 7h0m0-2h0m-1-5h0m-1 8h0m-2-8h0m0 1h0m-3 7h0m-1-5h0m-5 5h0m-5 1h0m-3 0h0m0-11h0m-2 9h0m-1-5h0m-1-3h0m-1 7h0m0 1h0m0 4h0m0-6h0m-1-4h0m-1 5h0m0-3h0m-2 6h0m0 0h0m-2-4h0m0 3h0m-1-9h0m0 11h0m-1 0h0m0-7h0m-1-2h0m-1 1h0m-1-2h0m0 6h0m0-1h0m-1-4h0m-1 9h0m0-8h0m0-3h0m-1 8h0m-1-5h0m-1 9h0m0-8h0m0 8h0m-2-4h0m0-5h0m-1 6h0m0 2h0m0-11h0m-1 11h0m-1 0h0m-1-4h0m-1-3h0m0 5h0m-2 1h0m-1 1h0m0-10h0m-1 6h0m-2-5h0m0 10h0m0-2h0m0-11h0m-2 7h0m0 3h0m0-10h0m-1 4h0m0 1h0m0 0h0m-1-4h0m-1 10h0m-1-4h0m0 2h0m0 0h0m-2 0h0m-2-4h0m0 2h0m0 0h0m0 3h0m0 1h0m-1-10h0m0 0h0m-2 1h0m-2 0h0m0 1h0m0 8h0m-1-11h0m0 9h0m-3-9h0m0 6h0m-1-1h0m-1-1h0m-1-3h0m-1 9h0m-2 0h0m-2-8h0m0 2h0m-1-3h0m0 8h0m0 3h0m0-3h0m-1 1h0m-1-1h0m-1 3h0m0-8h0m-1 8h0m-2 0h0m-1-8h0m0 8h0m-1-5h0m0-1h0m-2-2h0m0-2h0m-1 8h0m0-4h0m-1 3h0m-1 0h0m0-5h0m0 3h0m-1-5h0m-2 2h0m0 1h0m-1 1h0m0-6h0m0 5h0m0 7h0m-1-7h0m-1 4h0m0 1h0m0-5h0m0-5h0m0 5h0m-1 8h0m0 0h0m0-3h0m-2-3h0m0-2h0m0 4h0m0-5h0m-1 4h0m0 3h0m0-1h0m0-5h0m-1-1h0m-1 9h0m0-2h0m0 0h0m-1-6h0m-3 0h0m0 4h0m-1-3h0m0 6h0m0-10h0m0 9h0m-3-9h0m0 0h0m0 2h0m-1 7h0m-1 2h0m0 0h0m-1-12h0m-2 7h0m-1-8h0m-1 3h0m-1 3h0m-2 5h0m0-11h0m-1 11h0m0-4h0m0-4h0m-3-3h0m0 11h0m-2 2h0m0-7h0m-2 0h0m0 2h0m-2-3h0m-5-1h0m-4-2h0m0 8h0m-1-3h0m0 5h0m-3-11h0m-2 6h0m-1 6h0m0-10h0m-1 9h0m-2-8h0m-1 9h0m-2 0h0m0-3h0m-2 1h0m-1-2h0m-2-5h0m-2-2h0m0 4h0m-1 5h0m-1-4h0m-1 3h0m0 1h0m-1-5h0m0 4h0m0 3h0m-1-10h0m0 3h0m0-6h0m-1 0h0m-1 0h0m0 6h0m-1-1h0m0 5h0m-1-3h0m-1 0h0m-1-1h0m0 4h0m-1 0h0m-1-8h0m0 0h0m-1 4h0m0 1h0m0 2h0m-1 0h0m-1-5h0m-3-2h0m0 4h0m0 5h0m-1 1h0m-1-7h0m0-1h0m-1-2h0m-2 9h0m-2-7h0m0-1h0m0 3h0m0 2h0m0-5h0m0 2h0m-1 8h0m-1-10h0m0-2h0m-2 6h0m0-7h0m-1 10h0m-1-5h0m0 7h0m-1-8h0m0 7h0m-1-9h0m-1 2h0m-1 1h0m0 8h0m0-8h0m0 4h0m0-3h0m-2 4h0m-1 1h0m0-1h0m0-8h0m-1 5h0m0-2h0m0 0h0m-1 0h0m-1 1h0m-1 3h0m-1 2h0m-1-8h0m0 6h0m-1-8h0m0-1h0m-1 8h0m-1 4h0m0 1h0m0-1h0m-2-6h0m-2 5h0m0-10h0m0 1h0m0 1h0m-1 5h0m0-5h0m-1 3h0m-1 1h0m0 4h0m0-1h0m-1-4h0m0 4h0m0-1h0m-1-3h0m-1 6h0m0-2h0m-1-6h0m0 3h0m0 1h0m0 1h0m-1-1h0m-1-8h0m0 5h0m0 1h0m-1 7h0m-1-13h0m-1 1h0m0 4h0m-1 6h0m0-4h0m0-5h0m0 9h0m-3-9h0m0 1h0m-1 5h0m0 2h0m0-3h0m-1-4h0m0 8h0m0-10h0m-1 4h0m0-3h0m-1 11h0m-1-11h0m0-1h0m-1 5h0m0-1h0m-1 5h0m-1-8h0m0 8h0m0-1h0m-5 4h0m-2-8h0m0 0h0m0-5h0m-1 2h0m0-2h0m-1 7h0m0-2h0m-1 4h0m0-2h0m0 5h0m-1-2h0m0 2h0m0-3h0m0 4h0m-1-12h0m0 0h0m-1 0h0m-1 1h0m0-1h0m-2-1h0m-3 9h0m0 1h0m0-3h0m-1-6h0m-1 5h0m0-1h0m0 1h0m-1-2h0m0 0h0m0-3h0m-2 4h0m0 0h0m0-2h0m-2 0h0m-1 3h0m0-2h0m0 9h0m-1-9h0m-2-2h0m0 10h0m-1-1h0m-1-6h0m0-5h0m-1 6h0m0 2h0m-1 5h0m0-13h0m-6 0h0m0 7h0m-2 3h0m0-2h0m-1-3h0m-2 8h0m-1 0h0m-2-5h0m0 0h0m0-4h0m-2-1h0m-2-1h0m-5 10h0m0-1h0m-2-10h0m-2 10h0m-1 1h0m0 1h0m-2-1h0m-1-1h0m-1-11h0m0 1h0m-1 3h0m-1 2h0m0 4h0m0-1h0m-2 2h0m-1-3h0m-1 1h0m0 0h0m0-7h0m-1 3h0m-2 1h0m-2-4h0m-1-2h0m-1 3h0m-12 1h0m20 11h0m1 6h0m1-7h0m0 0h0m1 4h0m1 0h0m1 3h0m1-4h0m3 2h0m1-3h0m4 5h0m1-6h0m0 5h0m0 0h0m2 2h0m1-8h0m0 12h0m0-6h0m3-2h0m3-2h0m0 3h0m1 3h0m0 1h0m2 4h0m2-5h0m0-3h0m0 7h0m1 1h0m2-11h0m1 3h0m0 0h0m1 7h0m0-7h0m1 3h0m1 3h0m0-5h0m2 4h0m2-10h0m0 12h0m0-11h0m1 8h0m0-4h0m1-3h0m0-2h0m1 13h0m0 0h0m1-1h0m2-3h0m1-9h0m0 7h0m2 4h0m1-9h0m0 10h0m1-3h0m1-1h0m0-1h0m0 4h0m1 1h0m0-5h0m0-4h0m1 6h0m0-2h0m0 5h0m0-3h0m1-6h0m0 0h0m0-3h0m0 7h0m1-6h0m0 4h0m1-3h0m1 2h0m1 7h0m1 1h0m0-3h0m2-3h0m2 7h0m1 0h0m1-1h0m0-10h0m1 6h0m1-6h0m1 5h0m0 1h0m0 4h0m2-8h0m0 6h0m1-9h0m1 7h0m1-8h0m0 1h0m1 3h0m0-2h0m1 3h0m1 3h0m0 5h0m0-3h0m0-4h0m3 0h0m2-2h0m1 2h0m0-2h0m0 2h0m0 1h0m1-6h0m0 6h0m1 2h0m1 0h0m1-8h0m2 12h0m0-1h0m0-9h0m0 8h0m1-9h0m0 5h0m1-2h0m0 5h0m2 2h0m1-4h0m0-1h0m0 0h0m0-5h0m1-2h0m0 5h0m0-5h0m0 0h0m1 13h0m3-13h0m0 1h0m1 9h0m0 2h0m1-3h0m1 1h0m1-2h0m1-2h0m1-1h0m0-4h0m0 6h0m0-6h0m1 4h0m0-1h0m2 2h0m0 0h0m1 5h0m0-9h0m0-2h0m1 0h0m2 13h0m1-12h0m1-1h0m1 0h0m0 13h0m1-7h0m1-6h0m0 0h0m3 6h0m0 4h0m0 2h0m1-5h0m1 0h0m1 3h0m0-10h0m1 3h0m1 3h0m0-5h0m0 10h0m0-5h0m3 1h0m1-7h0m3 5h0m1 5h0m2-10h0m1 9h0m2-8h0m0 9h0m0-8h0m2 10h0m0-7h0m1-1h0m1 5h0m1-7h0m3 4h0m2 2h0m0-2h0m1 2h0m9 2h0m0-5h0m2 8h0m0-8h0m6 3h0m1 4h0m0-12h0m0 9h0m0 2h0m1 2h0m0 0h0m1-2h0m1-5h0m0-2h0m2 9h0m0-7h0m0-5h0m1 5h0m1 4h0m1-1h0m0-5h0m1 4h0m1 4h0m0-8h0m2 4h0m2 4h0m0-12h0m3 4h0m0 1h0m0 7h0m1-11h0m1 8h0m0-6h0m1 7h0m0-10h0m1 12h0m0-7h0m2-2h0m0-2h0m1 1h0m1 9h0m2-3h0m0 4h0m1 0h0m0-9h0m1 2h0m0 0h0m0 3h0m0-1h0m1 0h0m0-2h0m0 7h0m0-12h0m2 1h0m0 10h0m0 2h0m1-13h0m0 7h0m1 1h0m0-3h0m0-1h0m0-3h0m0-1h0m0 2h0m1 1h0m1 4h0m0-3h0m3 2h0m1 2h0m0 5h0m1-2h0m1-5h0m0-2h0m1-1h0m0 3h0m1 3h0m2-7h0m0 2h0m0 2h0m0-5h0m1 11h0m0-4h0m1-2h0m0 1h0m1 2h0m0 2h0m0 0h0m1-5h0m1-6h0m1 11h0m2-6h0m1 5h0m0-10h0m2 11h0m0-10h0m0 0h0m1 9h0m1-3h0m2 3h0m0-3h0m1-7h0m2 10h0m2-1h0m0 1h0m0-1h0m1-2h0m1 5h0m0-3h0m0-7h0m0 9h0m1-2h0m0-6h0m2 6h0m0 3h0m1-2h0m2-8h0m1 3h0m1-2h0m1 1h0m2-1h0m0 9h0m0-12h0m0 4h0m0 2h0m0-1h0m1 0h0m0 8h0m1-12h0m0 2h0m1 4h0m0 0h0m2-7h0m1 0h0m0 4h0m0 0h0m2 8h0m1-11h0m1 5h0m0 6h0m0-5h0m1 5h0m1-11h0m1 6h0m0-6h0m2 1h0m0 2h0m0-4h0m0 8h0m1-6h0m0 7h0m1-1h0m0-3h0m0 1h0m1-6h0m1 12h0m1-10h0m0-1h0m2 1h0m1 2h0m1 4h0m0-7h0m0 1h0m0-2h0m1 5h0m0-1h0m1 1h0m0-4h0m0 10h0m0-6h0m0 6h0m0-11h0m1 7h0m1-5h0m1 4h0m1 2h0m1-7h0m1 6h0m0-5h0m2 10h0m0-5h0m0-2h0m0 8h0m1-4h0m2-3h0m0 0h0m0 6h0m0-11h0m0 12h0m0-3h0m1 0h0m1-7h0m0 1h0m0 4h0m0-5h0m0-1h0m1 0h0m0 8h0m1-2h0m0 4h0m2-9h0m0 6h0m1-1h0m0 4h0m1-8h0m1 6h0m0-1h0m1-1h0m0-3h0m0 4h0m0-1h0m1-2h0m0-5h0m0 11h0m2-4h0m2-5h0m0-2h0m0-1h0m0 8h0m0 3h0m0-4h0m3 5h0m0 0h0m1-9h0m3 9h0m2-10h0m0 5h0m4-2h0m0 5h0m1 2h0m0-11h0m0 9h0m1-5h0m0-4h0m1 2h0m3 4h0m1 2h0m1 2h0m0-2h0m0-8h0m0 4h0m0 0h0m1-1h0m0 3h0m0-2h0m2-2h0m1 6h0m0-5h0m1 0h0m0 1h0m0 0h0m0 2h0m0 1h0m1-7h0m0 0h0m1 6h0m1 5h0m3 1h0m1-11h0m0 0h0m1 3h0m2 0h0m0 5h0m0 3h0m1-6h0m0-1h0m0 5h0m1-4h0m0-1h0m0 7h0m1-4h0m0-4h0m1-4h0m0 1h0m1 0h0m0 5h0m1-3h0m1 2h0m1-5h0m0 8h0m0-8h0m1 7h0m1 0h0m0-5h0m1-3h0m1 2h0m1 9h0m0-6h0m2 8h0m0-9h0m0 6h0m1-3h0m0 0h0m1 5h0m0-4h0m1-8h0m0 11h0m0-10h0m0 11h0m0-1h0m1-2h0m0-4h0m0 4h0m1-6h0m0 8h0m1-5h0m0 0h0m0 7h0m0 0h0m1-5h0m0 0h0m0 4h0m1-11h0m1 0h0m0 9h0m1-7h0m0 4h0m1-2h0m0-2h0m2 6h0m0-2h0m0-2h0m0 6h0m0-10h0m0 12h0m1-9h0m2 3h0m0-1h0m0 5h0m0-2h0m1 3h0m0-8h0m0-2h0m1 4h0m1 3h0m0 0h0m0-1h0m2-3h0m0 2h0m0 5h0m1 0h0m0-12h0m1 13h0m0-6h0m1 6h0m1-13h0m1 2h0m0 8h0m2 2h0m0-10h0m0 9h0m0-1h0m1-10h0m0 5h0m0-2h0m0 4h0m1-7h0m0 13h0m0-11h0m2 8h0m1-5h0m1 1h0m0-6h0m3 0h0m0 6h0m0 3h0m0-7h0m1 11h0m0-9h0m1-3h0m1 0h0m1 3h0m0-3h0m1 10h0m1-3h0m0-4h0m0-4h0m3 1h0m0 1h0m1 11h0m0-12h0m0-1h0m1 6h0m0 4h0m1 0h0m3-1h0m0 0h0m3-6h0m3 3h0m3-6h0m0 3h0m7 6h0m3-6h0m0 7h0m5 0h0m1-3h0m2-4h0m2 9h0m5-4h0m1-2h0m2 6h0m0-3h0m1-9h0m0 3h0m1 3h0m0-1h0m0 6h0m2-1h0m1 2h0m2-2h0m1-3h0m1 6h0m2-7h0m41 17h0m-6 1h0m-3 1h0m-5-2h0m-10 1h0m-1 1h0m-5-8h0m-3 8h0m-2-10h0m-2-1h0m-2 1h0m-1 4h0m-4 6h0m0-6h0m-3 2h0m0 5h0m-2-4h0m-1 2h0m-1-4h0m-1-1h0m-8 7h0m0-11h0m-1 0h0m-4 9h0m-3 0h0m0-4h0m0 7h0m-1-5h0m-5-1h0m-1-1h0m-1 7h0m-4-11h0m-3-2h0m-2 13h0m0 0h0m0-12h0m-1 3h0m0-2h0m0 10h0m-1-4h0m0-8h0m-1 13h0m0-2h0m0-5h0m-1-3h0m-1 1h0m0 7h0m0-2h0m-1-7h0m0 3h0m-1 2h0m-1 1h0m0 2h0m0 3h0m-3-9h0m0 0h0m-1 4h0m0 3h0m-2-11h0m-1 5h0m-1 0h0m-2 4h0m0-4h0m-1 6h0m0-1h0m-1-7h0m0 5h0m0-3h0m-1 7h0m0-3h0m-1 3h0m0-2h0m-1-1h0m-1-7h0m0-2h0m0 4h0m0 6h0m-1-4h0m0 7h0m0-11h0m-1 2h0m0 5h0m0 3h0m-1-4h0m-1 4h0m0-1h0m0-4h0m-1-5h0m0 9h0m0-7h0m0 0h0m-1 2h0m-1 2h0m-1-8h0m-1 6h0m0 4h0m0-1h0m-2-1h0m0 1h0m-1 0h0m0-9h0m0 9h0m0 4h0m0-13h0m-1 4h0m0 2h0m0-1h0m0-3h0m-1 7h0m0-1h0m0-5h0m-2 5h0m-1 4h0m0-2h0m0-10h0m0 5h0m-1 0h0m-1-2h0m0 4h0m-1-3h0m-2 5h0m-2-5h0m-1-3h0m0 9h0m0-9h0m-1-1h0m0 7h0m0-1h0m-2 6h0m0-5h0m-1-3h0m0 2h0m-1 7h0m0-11h0m0 1h0m-1 9h0m0-6h0m0 0h0m0-1h0m0 8h0m0-6h0m-1-4h0m0 9h0m0-6h0m0 0h0m-1 1h0m0 1h0m-1 3h0m-1-11h0m0 4h0m-1 6h0m0-4h0m-1 6h0m-1-8h0m0 5h0m-1-9h0m0 4h0m0 7h0m0-9h0m-1 4h0m0 6h0m-2-3h0m-1 4h0m0-7h0m0 2h0m0 4h0m0-2h0m-1-1h0m-2-8h0m0 7h0m0 1h0m-1 3h0m-1-11h0m-1 3h0m0 3h0m-1 6h0m-1-3h0m0-5h0m-2 1h0m0 1h0m-2 0h0m0 4h0m-1-3h0m-2-2h0m-1 6h0m0-5h0m-2-6h0m-3 5h0m-4-6h0m-1 4h0m-3 9h0m-1-9h0m0 1h0m0 8h0m-1-3h0m-1-9h0m-1 5h0m0 0h0m0-6h0m0 6h0m-1-1h0m-1 4h0m0-5h0m-1 1h0m0-3h0m-1 3h0m0-5h0m0 9h0m0 3h0m-2-9h0m0 9h0m-1-6h0m0-2h0m0 0h0m-1-2h0m0-2h0m-1 10h0m0 0h0m0-1h0m0-8h0m-1 11h0m0-7h0m0 0h0m-1-5h0m-1 13h0m-1-1h0m-1-12h0m-3 5h0m0 8h0m-2-6h0m0 3h0m0 1h0m-1 0h0m-1-9h0m-1 8h0m0-6h0m-1 3h0m-1-7h0m-1 12h0m0 1h0m-3-10h0m-2 6h0m0 1h0m0 0h0m0-3h0m0 6h0m-1-12h0m-1-1h0m0 5h0m0 1h0m-1 2h0m0 4h0m-1-3h0m-1-9h0m-1 9h0m-1-5h0m-1 6h0m0-4h0m-1 3h0m-1 4h0m0 0h0m-3-4h0m-1-3h0m0-4h0m-1 11h0m0-10h0m-1 0h0m0 4h0m-1 5h0m-1 0h0m-1 1h0m-4 0h0m0-10h0m0 7h0m-1 0h0m-1-3h0m0 4h0m-1 0h0m0 0h0m0-11h0m-3 12h0m-1-1h0m0-7h0m-1 3h0m-3 2h0m-1-7h0m0 4h0m-1-4h0m-2 0h0m0 6h0m0 2h0m-2-6h0m0 0h0m0 1h0m0-1h0m-1 4h0m0-4h0m-1 8h0m-1-8h0m0 4h0m0-2h0m-4 0h0m0-4h0m-1 4h0m-2-6h0m0 13h0m-1-3h0m-1-1h0m-4-5h0m0 9h0m0 0h0m-1-3h0m0 0h0m-1-7h0m0 0h0m0 1h0m-1-1h0m0 7h0m-1-7h0m0 0h0m0 8h0m0-6h0m-1-4h0m-1 3h0m0 6h0m0-4h0m-1 4h0m0-5h0m0 3h0m-2-4h0m-1 0h0m0-2h0m0 6h0m0-8h0m0 13h0m-1-2h0m-1 2h0m0-4h0m-1 4h0m0-6h0m-1 6h0m-1-12h0m0 2h0m-2-3h0m-2 13h0m-1-5h0m0 0h0m0-3h0m-3-2h0m0 7h0m0-5h0m0 5h0m-2-2h0m0 0h0m-1-2h0m-1 3h0m0-1h0m-2-1h0m0-3h0m0-3h0m-1 1h0m-1 9h0m0-4h0m0 5h0m-3-3h0m-1-5h0m0 6h0m-1 1h0m-1 0h0m-1 2h0m-1-10h0m-1 0h0m-2 2h0m-2-3h0m0 0h0m-2-2h0m-1 13h0m0-1h0m0 0h0m0-3h0m-1-3h0m0 2h0m0-6h0m-3-1h0m-2 3h0m0 3h0m0 6h0m-2-9h0m-1 4h0m-2 2h0m0 1h0m-1-9h0m-1 5h0m-1-7h0m-1 11h0m-2 0h0m-1-3h0m-1-8h0m-1 7h0m-8 5h0m0-7h0m-2 1h0m-1 1h0m0 0h0m-1-5h0m0 9h0m-1 1h0m-1-11h0m0 2h0m0 6h0m-1-5h0m0 0h0m-1-4h0m-1 11h0m-1 2h0m0 0h0m0-8h0m0 3h0m0-5h0m-3 3h0m-1 4h0m-1 2h0m-1-9h0m-1 6h0m-2-8h0m0 7h0m-2-5h0m0 8h0m-1-5h0m0-5h0m-3 12h0m0-12h0m0-1h0m-1 1h0m-2 2h0m-1 1h0m0 4h0m-1 4h0m0 0h0m0-1h0m-2-10h0m0 0h0m0 9h0m0-3h0m-2 6h0m0-6h0m0 3h0m-2-2h0m0-4h0m0 4h0m0-2h0m0 0h0m0-1h0m-1 5h0m0-2h0m0-3h0m-1 0h0m-1 6h0m0 1h0m-2-11h0m0 2h0m0 3h0m-2 7h0m0-5h0m0 5h0m-1-12h0m-1 6h0m0 5h0m0-3h0m-1-6h0m0-2h0m0 10h0m0 1h0m-1-4h0m0 1h0m0-8h0m-1 12h0m-1-1h0m-2-3h0m-1 1h0m-1-2h0m0 4h0m-1-4h0m0 4h0m0-6h0m0 0h0m-1 5h0m0-2h0m0-3h0m0 0h0m-1-3h0m0-2h0m0-1h0m0 12h0m-1 1h0m0-3h0m-1-5h0m-1-3h0m-2 7h0m0 2h0m-1 1h0m-2-2h0m0-10h0m-1 13h0m-2-4h0m-1 2h0m0 0h0m-1-6h0m-1 1h0m0 3h0m-1 1h0m0-5h0m-2 1h0m0 0h0m-1-6h0m-1 7h0m-1 3h0m0-8h0m-1 3h0m0 4h0m0-2h0m-1 1h0m0 3h0m-1-1h0m-1-1h0m0-2h0m0 2h0m-1-6h0m0 4h0m0 2h0m0 2h0m0-2h0m-1-8h0m0 8h0m0-8h0m-1 0h0m0 2h0m-6 5h0m0-5h0m0 7h0m0-3h0m-1 4h0m-1-10h0m0-1h0m-2 10h0m-1-7h0m0 1h0m0 5h0m-1-6h0m0 3h0m-1 4h0m0-8h0m-1 7h0m-1-2h0m0-4h0m-2 7h0m-1-7h0m0-3h0m0 12h0m-1-11h0m0 5h0m-2-4h0m-1 7h0m-2-9h0m0 4h0m-2 3h0m0-6h0m-2-1h0m-1 0h0m0 6h0m-1 0h0m-2-5h0m-1 2h0m-2 1h0m0-1h0m20 20h0m0-8h0m1-1h0m4 2h0m3 1h0m2-1h0m0 3h0m5 0h0m1-4h0m1 2h0m0 8h0m4-4h0m3-6h0m0 3h0m2-4h0m0 2h0m1-1h0m0 1h0m2 1h0m1-1h0m0 1h0m1 6h0m0-5h0m1 8h0m0 1h0m1-9h0m0 6h0m2-4h0m0 3h0m1 1h0m1-6h0m2 5h0m0-4h0m0-4h0m1 12h0m1-6h0m0-2h0m0-1h0m0 9h0m1-12h0m0-1h0m1 13h0m0-3h0m0-10h0m0 10h0m1-3h0m1 6h0m1-1h0m0-1h0m1-1h0m1-8h0m1-2h0m0 8h0m1-7h0m1 12h0m0-4h0m0 0h0m2-8h0m1 10h0m0 0h0m1-9h0m1 5h0m0-2h0m1 3h0m0 0h0m2 1h0m0 4h0m1-12h0m1 3h0m0-2h0m1 4h0m1-2h0m1 9h0m0-1h0m0-4h0m1-8h0m0 9h0m0-4h0m1 2h0m1-3h0m1 5h0m0-4h0m1-2h0m0 5h0m0-1h0m1-5h0m0 10h0m1-8h0m0 1h0m0-5h0m1 3h0m2 7h0m0-5h0m0 0h0m1-5h0m1 4h0m0 2h0m0-1h0m3 2h0m1 1h0m1-1h0m0-2h0m0-2h0m3-1h0m2 5h0m2 5h0m1-9h0m4 2h0m1 3h0m1-8h0m1 7h0m0-1h0m0-3h0m4 0h0m0 10h0m2-5h0m1 2h0m3-7h0m0 0h0m1 6h0m0-1h0m1 4h0m1 0h0m3-8h0m1 3h0m1-1h0m2-5h0m0 0h0m4 1h0m2-1h0m3 12h0m2-7h0m1-6h0m3 9h0m0-1h0m1-7h0m3 2h0m0 2h0m0 2h0m1 3h0m2-6h0m0 6h0m0-2h0m2-4h0m0-3h0m0 1h0m0 10h0m2-7h0m1 4h0m0-4h0m0-2h0m1-1h0m0 2h0m0-4h0m0 0h0m1 1h0m2-1h0m0 7h0m1-6h0m1 4h0m0 2h0m3 0h0m0 0h0m1-2h0m0 2h0m1 6h0m0-13h0m3 1h0m1 4h0m1-2h0m1 4h0m1 1h0m0-2h0m1-6h0m0 1h0m0 3h0m0 1h0m1-1h0m2-1h0m1 8h0m4-4h0m1 4h0m0-5h0m0-3h0m1-1h0m1 4h0m1 4h0m0-10h0m1 3h0m0 8h0m0-7h0m0-1h0m1 6h0m0 2h0m1 1h0m1-5h0m0-1h0m1-4h0m1 7h0m0 0h0m0-2h0m1-5h0m0 6h0m0-4h0m1-2h0m0 2h0m0 0h0m1 5h0m0-8h0m0 1h0m0 2h0m1-2h0m1-2h0m0 4h0m0-4h0m2 11h0m1-3h0m0 0h0m2-5h0m0 9h0m0-3h0m1 3h0m0-2h0m0-4h0m0-1h0m1 0h0m0 0h0m0-1h0m1 1h0m0-3h0m0 10h0m1-5h0m0-7h0m0 3h0m1 2h0m0-2h0m1 6h0m0-5h0m1 9h0m1-4h0m0-1h0m1-7h0m0 12h0m0-13h0m1 4h0m0-1h0m0 1h0m0 3h0m0-2h0m1 8h0m0-1h0m1-7h0m0 1h0m0-2h0m0 3h0m1 3h0m0-6h0m0 6h0m2-8h0m0 2h0m0 0h0m0 8h0m0-8h0m1-4h0m1 9h0m0-6h0m1 5h0m0-5h0m2-3h0m0 5h0m1 3h0m1 1h0m1 0h0m1-3h0m1-6h0m1 8h0m1-4h0m1 2h0m2-2h0m2 1h0m0 4h0m0 1h0m1 0h0m2-7h0m0 6h0m1-3h0m0 0h0m1 2h0m1-6h0m1 3h0m0 5h0m1-2h0m0-3h0m0 0h0m0 2h0m1-7h0m0 12h0m0 0h0m0-12h0m0 5h0m2-2h0m0 3h0m0-5h0m3 3h0m0 1h0m1 8h0m0-4h0m0 3h0m1-5h0m0 2h0m1-3h0m0-4h0m1 10h0m0-1h0m2-3h0m1 4h0m2-1h0m0 1h0m0 1h0m1-1h0m0 0h0m0-5h0m0 1h0m0-4h0m0 4h0m1-5h0m0 8h0m2-11h0m0 7h0m1 0h0m0 2h0m1-8h0m0 9h0m1-9h0m0 5h0m0 7h0m1-4h0m1-5h0m0 3h0m1 5h0m0-2h0m0-2h0m0-2h0m0 3h0m2-3h0m0 7h0m3-3h0m1-4h0m0 6h0m1 1h0m0-11h0m1-2h0m2 11h0m0-5h0m0 7h0m0-1h0m1-2h0m0-4h0m1 4h0m0-3h0m1-6h0m1 3h0m0 0h0m3-3h0m3 5h0m1 4h0m1-7h0m3-3h0m0 0h0m5 5h0m2-3h0m0 4h0m1-4h0m2 2h0m1 6h0m0 2h0m3-6h0m1 1h0m4-3h0m0 2h0m0-3h0m1 3h0m0-4h0m2 1h0m0 4h0m2 5h0m1-7h0m1-1h0m1 9h0m0-4h0m1 2h0m0-4h0m4 1h0m1 1h0m0-8h0m0 9h0m0 0h0m2-3h0m0 3h0m0-6h0m1 0h0m1 1h0m0-5h0m0 12h0m1-5h0m1 1h0m1 2h0m0-8h0m0 5h0m0 0h0m1 3h0m0-8h0m1 1h0m0-3h0m0 0h0m1 7h0m2 4h0m0-8h0m0 2h0m1 2h0m0 0h0m1 2h0m0-7h0m0 0h0m1 2h0m1 9h0m0-13h0m2 0h0m0 7h0m1 3h0m0-6h0m2 6h0m0-6h0m0-3h0m0 1h0m1 11h0m1-9h0m0 7h0m1 0h0m2-11h0m2 10h0m0-6h0m1 9h0m0 0h0m1-5h0m2 4h0m0-10h0m1 5h0m1-6h0m1 12h0m0-13h0m0 9h0m1-1h0m1-3h0m1 7h0m0-11h0m0 2h0m0 8h0m1-9h0m1 11h0m1-9h0m0 1h0m0 4h0m1 2h0m1 1h0m2-8h0m2 3h0m1-6h0m2-1h0m1 0h0m0 9h0m2-1h0m0 5h0m5-3h0m1 2h0m0 1h0m0-2h0m1-8h0m4 0h0m1 3h0m1 1h0m2 3h0m7-4h0m2-4h0m0 10h0m10 0h0m1-1h0m4-4h0m18 1h0m5-7h0m6 6h0m15 20h0m-7-8h0m-3 3h0m0-3h0m-3 1h0m-10-6h0m-9 6h0m-3 0h0m-2 1h0m-4-2h0m-3-1h0m0 4h0m0 0h0m-3 0h0m-1 0h0m-1-5h0m0 8h0m-3-10h0m-1 7h0m-1-7h0m0 2h0m0 6h0m-2-5h0m0 3h0m0-2h0m0 3h0m-2 2h0m-4-2h0m0-2h0m-4-4h0m-2 1h0m0 4h0m-5-3h0m-1-4h0m-2 3h0m-1 5h0m-1-8h0m-1 11h0m0-2h0m-1-1h0m-1-6h0m-1 5h0m-2 0h0m0 1h0m-1-7h0m-1 4h0m0 1h0m-3 1h0m-1-5h0m0 11h0m-1-6h0m-1 5h0m-1-2h0m-2-7h0m-1 10h0m0-6h0m-1 1h0m0-5h0m-1-1h0m-2 6h0m0-4h0m-1 8h0m0-4h0m-1 4h0m-1-7h0m0-5h0m0 2h0m-2 6h0m-1 5h0m-1-1h0m-2-10h0m-1 8h0m0 2h0m-5-11h0m0 0h0m-1 1h0m0 11h0m0-13h0m-1 13h0m-1-7h0m0-6h0m0 7h0m-1 4h0m0 1h0m-1-11h0m-1 5h0m-1 5h0m-2-9h0m-2 1h0m-4 9h0m0-6h0m-8 0h0m-3-2h0m0 8h0m0-3h0m-1 3h0m0-11h0m-5 7h0m-1-5h0m0-2h0m-1 1h0m-2-2h0m0 5h0m-1-2h0m-5 0h0m-5 10h0m0-11h0m-2 5h0m0 6h0m-2-1h0m-1-2h0m-1-1h0m-4 3h0m-1-7h0m0 5h0m-1-4h0m-1 7h0m0-10h0m-1-1h0m-1 11h0m0-6h0m-2 6h0m-1-3h0m-2-10h0m-1 10h0m-2-9h0m0 11h0m0-5h0m-1 5h0m0-8h0m0-2h0m-1 2h0m0 7h0m-2-11h0m-1 11h0m-1-10h0m0 12h0m-2 0h0m-1-4h0m0 0h0m-1-6h0m0 4h0m-1 5h0m-1-11h0m-1 0h0m-1 0h0m0 0h0m0 9h0m-1-7h0m-1 3h0m-1-3h0m-2-3h0m0 1h0m-1-1h0m0 9h0m-1 4h0m0-6h0m-1-5h0m0 4h0m-1-5h0m-1-1h0m0 9h0m0-8h0m0 9h0m-2-3h0m-1 2h0m0 1h0m-1-1h0m0-1h0m0-2h0m-1-2h0m-1 7h0m0-7h0m0 0h0m-2 3h0m0-3h0m0 8h0m-1-9h0m0-3h0m0 12h0m0-9h0m-1 9h0m0-6h0m-1-3h0m-1 10h0m0-2h0m-1-9h0m0 5h0m-1-2h0m0 2h0m-2 3h0m0 2h0m0-12h0m-1 10h0m0-2h0m0-5h0m-1 0h0m-1 6h0m-1-6h0m-2 8h0m-1-7h0m0-2h0m0 10h0m0-7h0m-2-3h0m-1 11h0m-1-1h0m-1 1h0m-2 0h0m-2-7h0m0-4h0m-1 7h0m0-9h0m-1 0h0m0 9h0m0-2h0m-3 4h0m-3 0h0m-2-4h0m-4 1h0m0 2h0m0-3h0m-2 1h0m-2 3h0m-1 0h0m0-5h0m0-3h0m0 6h0m0-8h0m0 1h0m0 3h0m0 0h0m-1 4h0m-1-8h0m0 10h0m0-9h0m-1 2h0m-1 2h0m-2-4h0m-3 3h0m-1 1h0m-1-1h0m0 2h0m0 1h0m-1-7h0m-2-1h0m0 10h0m0-3h0m-1-5h0m-1 1h0m0 10h0m-1-1h0m-1-9h0m0-2h0m-1 4h0m0-2h0m0 3h0m0 5h0m-1 2h0m0-7h0m-1 7h0m0-3h0m0 3h0m-1-3h0m-1-8h0m-1-2h0m0 8h0m0-1h0m-1 3h0m-1-1h0m-1 2h0m0-3h0m-1-1h0m0 2h0m-1-1h0m-1 0h0m0 4h0m0 1h0m0-7h0m-3 7h0m-2-2h0m-1 0h0m0 1h0m-2-2h0m-2 0h0m0 0h0m0-6h0m-1 4h0m-1-4h0m0-3h0m-1 5h0m-2 1h0m-3 2h0m0 1h0m0 0h0m0 3h0m-2-2h0m0-4h0m-2 4h0m-2-2h0m0 0h0m-1-6h0m-1 6h0m-1-3h0m-1 1h0m-2 1h0m-4-1h0m0-2h0m-2 7h0m-2-2h0m-1-3h0m-1 5h0m0-9h0m-1 8h0m-1-7h0m-2 2h0m-2 5h0m-3-10h0m0 5h0m-1 0h0m-1 7h0m-1-4h0m-6-1h0m0 5h0m-1-4h0m-1 1h0m0-8h0m-3 0h0m-3 4h0m0-1h0m-1 0h0m-1-2h0m0 10h0m-1-8h0m-4 3h0m-5-4h0m-6-4h0m-2 3h0m-1 2h0m0-5h0m-1 0h0m0 2h0m0 1h0m-1-2h0m-3 0h0m-1 0h0m-2 3h0m-1 3h0m-2-1h0m0-4h0m-1 1h0m-3 6h0m-1-8h0m0 2h0m-1 2h0m-1-5h0m0 5h0m-2-5h0m-2 1h0m0-1h0m-1 4h0m-1-4h0m0 0h0m-2 3h0m-2-3h0m-1 0h0m-3 9h0m0-8h0m-11 1h0m46 16h0m10-4h0m4 2h0m1 3h0m0-4h0m1 10h0m3-6h0m2 4h0m1-7h0m0-1h0m0 1h0m0 1h0m1 0h0m1 0h0m1 1h0m1 5h0m3 4h0m0-2h0m2-1h0m7-1h0m2-7h0m1 0h0m2 2h0m2 1h0m1-1h0m0-4h0m0 12h0m1-5h0m2 5h0m0-6h0m4-6h0m0 6h0m3-2h0m0 8h0m1-6h0m1 4h0m1-10h0m0 3h0m1 4h0m1 3h0m1-7h0m2-3h0m0 5h0m0-3h0m0-2h0m1 5h0m1-5h0m0 1h0m3-1h0m3 11h0m1 0h0m2 1h0m1-5h0m0-6h0m1 9h0m0-3h0m1-1h0m0-2h0m1 1h0m0 5h0m0-8h0m0 1h0m1 10h0m1-4h0m2 2h0m0-4h0m0 1h0m3 2h0m1 3h0m0-5h0m1 0h0m0-4h0m1-1h0m0 9h0m1-6h0m0 4h0m0-8h0m0 7h0m0 2h0m0-9h0m0 8h0m1-10h0m2 1h0m0-1h0m0 9h0m0-2h0m0-7h0m0 7h0m2 4h0m0-3h0m1-5h0m0 6h0m1 3h0m1-9h0m0 0h0m1-1h0m1 9h0m0 1h0m0 0h0m1 1h0m1-2h0m0-8h0m1 7h0m0-8h0m1 9h0m0-2h0m1 2h0m0-4h0m4 6h0m0-5h0m0 0h0m0-1h0m0-2h0m3 1h0m0 0h0m0 0h0m1 5h0m1-4h0m0-2h0m1 5h0m0-9h0m1 11h0m1-3h0m0 0h0m1-7h0m1-1h0m0 4h0m1 2h0m0 0h0m0-4h0m1 6h0m0-9h0m0 11h0m2-7h0m1-3h0m0 9h0m1-8h0m1 10h0m1-4h0m0 5h0m1-4h0m0 2h0m0 2h0m0-9h0m0 6h0m0 2h0m0-8h0m0-3h0m1 10h0m0-2h0m0-3h0m1-5h0m1 2h0m1 8h0m0 1h0m1-1h0m0 2h0m1-6h0m1 2h0m1-1h0m0-4h0m3 8h0m0-10h0m1 3h0m1-4h0m0 0h0m1 1h0m2 4h0m0 4h0m1-5h0m0 5h0m1-9h0m1 11h0m1-10h0m1 10h0m0-11h0m1 5h0m1-1h0m0 4h0m1-6h0m1 6h0m1 3h0m1-5h0m1-7h0m0 4h0m1 0h0m0 0h0m2 6h0m3-5h0m1-3h0m1 11h0m3-8h0m3 1h0m0 0h0m2-3h0m0-1h0m0 5h0m0 3h0m1-4h0m0-5h0m1 10h0m0-7h0m1 7h0m1 1h0m0-2h0m1-8h0m0 2h0m2 5h0m0-7h0m0 5h0m0 5h0m1-7h0m0 6h0m1-10h0m1 10h0m1-8h0m0 9h0m0-11h0m0 1h0m1 2h0m2 1h0m0 8h0m2-4h0m0-7h0m0 8h0m3-10h0m1 0h0m1 9h0m0-5h0m1 9h0m0-12h0m0 4h0m0 4h0m1-5h0m1 2h0m0-5h0m1 4h0m1-3h0m1 11h0m0-3h0m1-3h0m0 4h0m2-8h0m0-1h0m0 5h0m1-3h0m0-4h0m0 8h0m1-3h0m0-3h0m0 8h0m1-7h0m2-3h0m1 4h0m1 3h0m2 6h0m2-3h0m1-2h0m0 2h0m0-8h0m3 5h0m3 6h0m2-8h0m1 1h0m1 2h0m2 5h0m3-8h0m0 3h0m1-5h0m2-1h0m1-1h0m0 0h0m1 10h0m1-3h0m0-8h0m0 3h0m0 4h0m2 3h0m0-1h0m3-3h0m1 0h0m0 6h0m1-1h0m0 0h0m0-4h0m1-4h0m0 6h0m1-1h0m0-1h0m0 4h0m1-2h0m0-6h0m1 1h0m0 3h0m0-3h0m1 1h0m1 6h0m0-9h0m1 7h0m1 2h0m1 0h0m0 2h0m0-4h0m1-1h0m1 5h0m0-6h0m0 3h0m0 3h0m1-11h0m1-1h0m1 0h0m3 2h0m1 1h0m0-2h0m3 0h0m0 5h0m0 4h0m0-6h0m1-4h0m1 9h0m1-10h0m0 4h0m0 2h0m0 6h0m1-8h0m1-1h0m0 7h0m0-3h0m1 3h0m0 0h0m1-3h0m1 2h0m2-6h0m1 3h0m1-6h0m7 2h0m4 5h0m6-4h0m2-3h0m4 1h0m6 8h0m6 1h0m1-7h0m3 4h0m0 1h0m2-8h0m2 3h0m4 2h0m1-1h0m1 8h0m2-9h0m5-3h0m2 8h0m1-6h0m3 7h0m0-8h0m1 0h0m1 1h0m0 11h0m0-9h0m4-3h0m2 1h0m0 6h0m9-5h0m1 5h0m1 0h0m2-8h0m4 15h0m-11 0h0m-6 3h0m-1-3h0m-28 6h0m-54-2h0m-1-5h0m-2 5h0m-1-4h0m0-1h0m-1 1h0m-1-1h0m0 5h0m-1 5h0m0 0h0m0 1h0m-1-2h0m0-4h0m-1 8h0m-1-4h0m0 3h0m-4-2h0m-2-5h0m-1 2h0m-3 5h0m0-5h0m-1-5h0m-1-1h0m-1-1h0m-1 0h0m-1 1h0m-1 7h0m0-5h0m-3 4h0m-2 3h0m-3 2h0m0-4h0m0 4h0m0-6h0m0 4h0m-1 1h0m0-6h0m-1 3h0m-1 0h0m-1-7h0m-3 12h0m-1 0h0m-3-10h0m0 0h0m-1-1h0m0 8h0m0-7h0m0 4h0m-1 3h0m-1-7h0m-1 5h0m0 5h0m0-9h0m0 9h0m-1-9h0m0-3h0m0 10h0m0-8h0m-1 9h0m-1-12h0m0 7h0m-1-1h0m0-2h0m-3 0h0m0 5h0m-1-1h0m0 3h0m-3-8h0m0-1h0m-2 1h0m0 0h0m0 10h0m-3-2h0m0-2h0m-1 4h0m0-3h0m-1-10h0m-1 12h0m-2-11h0m0 6h0m-1 0h0m0 2h0m0 1h0m-1-4h0m-1 5h0m-3-7h0m-7-4h0m0 3h0m-1-3h0m0 8h0m-1 0h0m0-8h0m-1 7h0m0 3h0m-1-7h0m-2 3h0m-3 3h0m0-2h0m0-4h0m-3 6h0m0-1h0m0-8h0m0 6h0m0 6h0m0-1h0m-1-1h0m0-5h0m-1 2h0m-1-5h0m-2 10h0m0-9h0m-1 2h0m0-1h0m-1 5h0m0-3h0m-2-6h0m0 8h0m0-8h0m-1 6h0m0-3h0m0 4h0m0 2h0m-2-5h0m-3-2h0m0 3h0m-1 7h0m-1-7h0m0-5h0m0 4h0m-1 7h0m0-2h0m0-4h0m-1-2h0m0 7h0m-1 2h0m-1 0h0m0-11h0m0 7h0m0 0h0m-1-5h0m0 5h0m-1-6h0m-1 9h0m0-4h0m-1 2h0m-1-5h0m0 7h0m-1-9h0m0-1h0m-1 1h0m0 6h0m-2-3h0m-1 5h0m-1 1h0m0 2h0m0-10h0m0 2h0m0 2h0m0-6h0m-1-1h0m0 5h0m0-2h0m0 9h0m0-1h0m-1 0h0m-3-10h0m0 9h0m-1-1h0m-1 1h0m0-10h0m-1 5h0m-1 1h0m0-3h0m0 2h0m-1 0h0m-1 0h0m-1 8h0m-1-7h0m-3 7h0m0-1h0m-2-8h0m0-1h0m0 0h0m0-1h0m-1 8h0m-5-3h0m0-3h0m-1-1h0m-1 5h0m0-3h0m0 8h0m-1-5h0m0 2h0m-1-3h0m0-6h0m0 1h0m-2 4h0m0 1h0m-1 3h0m0-10h0m0 0h0m-1 1h0m0 5h0m0 1h0m0-7h0m-1 6h0m0 6h0m0-12h0m0 5h0m0 6h0m-1-8h0m0-1h0m0 5h0m-1 6h0m-2 0h0m0 0h0m-1-12h0m0 9h0m-2 0h0m0-8h0m-1 11h0m0-5h0m0-8h0m-1 11h0m-1-9h0m0-2h0m0 3h0m0 1h0m-3 7h0m-3-7h0m-1 8h0m0-2h0m0-3h0m-1-6h0m0 3h0m-1 2h0m-1 5h0m0-1h0m0-5h0m-1-5h0m-1 7h0m-1-7h0m-1 0h0m0 10h0m0-6h0m-1 8h0m0-10h0m-1 1h0m0-2h0m0 8h0m-2-7h0m-1 1h0m0 8h0m-1-5h0m0-4h0m0 7h0m-1 4h0m0-1h0m-1 1h0m-1-5h0m0 5h0m-2-11h0m-3 5h0m-3-2h0m-3-3h0m-3 7h0m0 4h0m-1-2h0m-23-7h0m-1 0h0m-11 8h0m7 9h0m0 4h0m8-3h0m3 5h0m1-3h0m1-6h0m2 4h0m1 0h0m2 3h0m0 2h0m2-6h0m1 1h0m0-5h0m2-3h0m1 11h0m1 2h0m0-6h0m0 6h0m3-6h0m0-3h0m1-3h0m1 10h0m1-3h0m0 0h0m1 4h0m0-6h0m0 0h0m1 2h0m2 3h0m1-10h0m3 4h0m0-4h0m0 8h0m0-3h0m2 1h0m0-5h0m3 7h0m0-3h0m2-1h0m1-5h0m1 0h0m0 12h0m1-10h0m2 7h0m1-8h0m0 4h0m0 3h0m1 3h0m1-11h0m0 0h0m1 2h0m0 4h0m1 4h0m0-8h0m1 10h0m0-12h0m0 7h0m0 4h0m1 2h0m1-7h0m1 0h0m0-1h0m1 0h0m1 1h0m0 7h0m0-11h0m0-1h0m0 4h0m0 7h0m0-5h0m2-1h0m0 6h0m1 1h0m3-5h0m0-8h0m3 8h0m0-8h0m1 6h0m1 0h0m0 1h0m1 0h0m0 4h0m1-3h0m1 4h0m1-6h0m0 4h0m0-3h0m2 1h0m0-7h0m3 0h0m1 6h0m0 0h0m1 6h0m1-10h0m0 6h0m3 3h0m0-6h0m0 5h0m1 2h0m0-13h0m1 12h0m1-4h0m1-6h0m1 2h0m0 2h0m3 2h0m0-7h0m0 2h0m0 3h0m2-5h0m2 10h0m0-1h0m1-5h0m0 5h0m0-9h0m0 0h0m1 1h0m0 0h0m1-1h0m0 9h0m1-4h0m0 1h0m0 2h0m1-9h0m0 11h0m1-4h0m1 6h0m1-12h0m1 7h0m2-5h0m0-1h0m0 3h0m0-1h0m1 3h0m0-2h0m1 0h0m2 2h0m0-4h0m4 9h0m1-8h0m2-1h0m0 2h0m2 2h0m1-6h0m1 4h0m0-5h0m1 11h0m0-2h0m1 2h0m0-11h0m1 2h0m2 10h0m2-12h0m0 4h0m0 2h0m1 0h0m1-1h0m0 2h0m0 2h0m2-6h0m0 8h0m0 2h0m1-1h0m0-4h0m0-8h0m1 5h0m0-5h0m0 8h0m2-5h0m0 0h0m0 4h0m0-6h0m1 2h0m1 10h0m0-3h0m0-5h0m1 3h0m2 5h0m0-13h0m1 10h0m0-4h0m0-6h0m1 6h0m1 2h0m0-7h0m0 10h0m0 0h0m2-9h0m0 9h0m0-2h0m1-5h0m1 4h0m0-3h0m1 6h0m0-9h0m1 8h0m2-5h0m0 6h0m1-10h0m1 1h0m0-2h0m1 6h0m0 5h0m1 0h0m0 2h0m0 0h0m1-12h0m1-1h0m0 10h0m1-5h0m0-1h0m1 0h0m1 7h0m1-4h0m1-2h0m0 8h0m0-6h0m1-2h0m0-4h0m1 10h0m1-4h0m1-6h0m0 3h0m1 2h0m0 0h0m1 4h0m1 0h0m0-7h0m1 7h0m1 1h0m0-1h0m1-7h0m1 7h0m0-5h0m1 5h0m0 2h0m2-8h0m1 6h0m0-4h0m0-1h0m0 8h0m0-11h0m1 1h0m0-3h0m0 8h0m1 0h0m1 2h0m1 0h0m1-3h0m0 4h0m1-5h0m0 4h0m3 2h0m2-8h0m1 3h0m2 3h0m1-10h0m0 3h0m0 9h0m0 0h0m0 0h0m1-6h0m0 0h0m0 1h0m1 4h0m0-2h0m1-9h0m0 8h0m0-3h0m0 0h0m1-3h0m0 8h0m0 0h0m0-4h0m1 6h0m0-8h0m2 4h0m0-4h0m1-3h0m0 2h0m0 10h0m0 0h0m1-3h0m1-7h0m0 9h0m1-3h0m0-1h0m1-4h0m1 4h0m2 4h0m0-3h0m2-4h0m2-5h0m0 11h0m1-5h0m0-2h0m0-2h0m4 5h0m1-3h0m1-2h0m1 4h0m2-3h0m3-3h0m28 18h0m-29 3h0m-12-7h0m-2 4h0m-4 3h0m0 0h0m-1 6h0m0-12h0m-1 1h0m-2 1h0m-2-1h0m-2 0h0m-1-2h0m0 9h0m0 1h0m-1-8h0m-1-2h0m0 7h0m0 1h0m-1-3h0m0 0h0m0-1h0m0 9h0m-1-8h0m0 2h0m0-4h0m0 8h0m0-3h0m-1-5h0m0 6h0m0-7h0m0-2h0m0 11h0m0-2h0m-1-1h0m0-4h0m0 5h0m-1 1h0m-1-2h0m0-7h0m-1 11h0m-2-3h0m-1-9h0m0 5h0m0 6h0m-1-10h0m0 5h0m-1-3h0m-1 6h0m0-9h0m-1 5h0m0-4h0m0 8h0m-1 0h0m0-6h0m-2 8h0m0 2h0m-1-3h0m0 0h0m-1-1h0m0 0h0m0-6h0m-1 6h0m0 4h0m0-13h0m-1 0h0m-1 9h0m0 2h0m0-9h0m0 6h0m-2 5h0m0-7h0m0-1h0m0 3h0m-1-4h0m0-3h0m-1 1h0m0 1h0m-1-3h0m0 10h0m-5-1h0m-2-6h0m0 3h0m0-1h0m-1 8h0m-1-6h0m0-6h0m-1 11h0m-1-4h0m0-3h0m0-5h0m0 5h0m-1-2h0m-1 9h0m0-9h0m-1 9h0m-3-10h0m-1 11h0m-1-7h0m0-3h0m-2 10h0m-1-6h0m-2-1h0m-1-3h0m-3-1h0m-1 2h0m-1 4h0m-1-4h0m0-4h0m-1 3h0m0-3h0m-1 13h0m0-13h0m-1 12h0m-1-6h0m-1-6h0m0 13h0m-1-13h0m-1 4h0m0 6h0m0-5h0m-1-5h0m-1 10h0m-1 2h0m0-2h0m0-3h0m-3-1h0m0-2h0m-1 6h0m-1-10h0m0 4h0m0-4h0m-2 4h0m0 6h0m-1-2h0m0-2h0m0-6h0m0 0h0m-2 1h0m0 6h0m-2-2h0m0 5h0m-1-8h0m-2-1h0m0 1h0m-1 8h0m-1 1h0m0-2h0m-3-3h0m0 6h0m0-1h0m-1-3h0m0-2h0m0 7h0m-1-4h0m0 1h0m0-4h0m0-2h0m0-2h0m-2 10h0m-1-9h0m0 8h0m0 1h0m-1 1h0m0-7h0m0-6h0m-1 0h0m0 9h0m-1-5h0m-1 0h0m-1 3h0m0 1h0m-1-7h0m-4 3h0m0 6h0m-2-6h0m-1 0h0m0-2h0m-1 5h0m0 6h0m0-5h0m-1-1h0m0-6h0m-1 9h0m0-5h0m-1-4h0m-1 10h0m-1-4h0m-1-4h0m-1-2h0m0 2h0m-2-3h0m0 4h0m-2 5h0m0 2h0m0 1h0m-1-9h0m-1-3h0m-1 9h0m-1-4h0m0 4h0m-1-1h0m0-4h0m-2 8h0m0 0h0m-1 1h0m0-11h0m-2 4h0m-1 1h0m-1 6h0m-2-6h0m0-4h0m0 8h0m-1 0h0m0 1h0m0 0h0m-1-6h0m-1-5h0m-2 5h0m0-3h0m-2 9h0m-1 0h0m0-10h0m0 11h0m0-10h0m-1 9h0m0-5h0m0 2h0m-1-1h0m0 0h0m0-2h0m0 3h0m0-8h0m-1-1h0m0 5h0m-3 5h0m-3-4h0m0 5h0m0-9h0m-1 5h0m0-7h0m-2 0h0m0 10h0m-2-5h0m-1 4h0m0 2h0m-2 2h0m-1-7h0m-2-6h0m0 8h0m-1-5h0m-1 4h0m0-7h0m0 3h0m-1 5h0m0-4h0m-1 8h0m0-1h0m0-10h0m-1 7h0m0-2h0m-1 7h0m0-1h0m-6-8h0m-1 1h0m-1 4h0m-1-9h0m-3 4h0m-5-1h0m-1 1h0m0 3h0m-2-2h0m-1-2h0m0 3h0m-5-2h0m-2 7h0m-5-5h0m30 14h0m7-2h0m7 0h0m4-2h0m4 0h0m1 3h0m0 4h0m1-7h0m1-2h0m0 8h0m1-6h0m1-1h0m1 2h0m0 2h0m0-2h0m1-2h0m0 2h0m3 3h0m1 3h0m0-6h0m1 2h0m0 2h0m0-3h0m0 0h0m2 4h0m0-6h0m1 2h0m0 5h0m0-8h0m1 6h0m1-4h0m0-1h0m0 6h0m0-7h0m1 3h0m0 1h0m2 7h0m1-12h0m2 10h0m0-10h0m3 1h0m3 10h0m1-9h0m0 0h0m0 9h0m1-4h0m0 1h0m1-1h0m0-7h0m0 3h0m0 10h0m1-9h0m0 5h0m0-5h0m1 2h0m0 3h0m0-7h0m1 0h0m0 5h0m1 1h0m0-8h0m0 4h0m0-2h0m1 7h0m1 3h0m0-4h0m0-1h0m0 0h0m1 2h0m1 1h0m0-3h0m1 4h0m0 0h0m1-10h0m1 5h0m0 2h0m0-5h0m0 6h0m0 1h0m1-4h0m0 5h0m0-2h0m0-7h0m0 7h0m1-1h0m0-4h0m1 2h0m1 3h0m0 0h0m0-7h0m1-2h0m2 8h0m0 3h0m1-6h0m1-3h0m1 0h0m2 0h0m1 0h0m1 0h0m0 10h0m2-3h0m1 1h0m0-6h0m0 1h0m0 6h0m1-10h0m0 5h0m0 5h0m1 0h0m0-8h0m1-3h0m0 11h0m2-2h0m0 4h0m0 0h0m0-5h0m0 0h0m0 4h0m1-1h0m1-9h0m0 9h0m0-11h0m0 0h0m1 12h0m1-3h0m0 0h0m1 3h0m1-11h0m3 9h0m1 1h0m0-6h0m2 8h0m2 0h0m0 0h0m0-1h0m2-2h0m2 0h0m0-1h0m0-5h0m0 0h0m1 6h0m0-2h0m1-8h0m1 7h0m0 2h0m2-3h0m0 0h0m1 5h0m0-3h0m0 4h0m1-8h0m1 4h0m2 4h0m2-2h0m0 1h0m1 1h0m2 1h0m3-12h0m0 11h0m0-4h0m1 4h0m0-7h0m0 6h0m1-3h0m0-4h0m1 8h0m0-6h0m1-6h0m0 1h0m1 7h0m0 3h0m1-8h0m1 8h0m0 0h0m0-8h0m1 5h0m2-3h0m0-5h0m1 1h0m1 12h0m0-10h0m1 8h0m1-2h0m0 4h0m1-8h0m0-3h0m1 7h0m1-6h0m0 1h0m1 6h0m0-4h0m0 2h0m4 5h0m1-5h0m0 2h0m2-10h0m1 6h0m0-3h0m1 2h0m0-1h0m1-3h0m0 1h0m1 1h0m0 3h0m1 6h0m1-7h0m0 4h0m0-7h0m0-1h0m0 3h0m0-3h0m2 3h0m0 8h0m2-12h0m0 8h0m0-7h0m0-1h0m1 9h0m0 2h0m1-7h0m0 5h0m0 4h0m3-12h0m2 12h0m1-13h0m0 0h0m1 8h0m0-7h0m1 6h0m0 2h0m2-8h0m0 0h0m0 1h0m2 0h0m0-1h0m8 17h0m-8 0h0m-7 8h0m-2-10h0m-1-2h0m0 3h0m-1 3h0m-3-3h0m-2 1h0m-1 6h0m0-3h0m0 2h0m-1 0h0m0-1h0m0 0h0m-1-7h0m0-1h0m-3 4h0m-2-1h0m0 6h0m0-1h0m-2-4h0m0 0h0m0-3h0m-1 5h0m0 1h0m0-3h0m0 2h0m-1 5h0m0-9h0m-1 1h0m0 8h0m0-11h0m0 7h0m-1 1h0m-1-8h0m0 6h0m0-1h0m0 6h0m-1-1h0m0-8h0m0 7h0m0 3h0m-1-7h0m0 5h0m0-4h0m-1 4h0m0 0h0m0-8h0m0 0h0m-1 1h0m-1-3h0m0 4h0m0 2h0m-1-3h0m0 8h0m0-5h0m-4-4h0m-1 10h0m-1-11h0m0 12h0m0-4h0m-1-7h0m-1-2h0m-1 13h0m-1-8h0m-1-3h0m-1 9h0m0 2h0m-1-13h0m0 5h0m0-5h0m-1 13h0m0 0h0m-1-3h0m0-1h0m-1-9h0m-1 6h0m0-6h0m0 10h0m-1 3h0m-2-5h0m-1-1h0m0 1h0m0 2h0m-2-5h0m-2 2h0m0-3h0m0 5h0m0-7h0m0-1h0m-1 2h0m-1 1h0m-2 3h0m-1-2h0m-1-4h0m-1 0h0m-1 2h0m0 8h0m-3-3h0m-1-8h0m-1 3h0m0-1h0m-5 8h0m0-2h0m-1 4h0m0-12h0m-1 0h0m-1 11h0m0-6h0m0 3h0m0-8h0m-3 0h0m0 6h0m-1 5h0m-4-2h0m0 2h0m0-6h0m0 8h0m0-9h0m-1 6h0m-1-1h0m-1-1h0m-1 0h0m-1-6h0m-1 5h0m0-3h0m-2 4h0m0-4h0m-2 3h0m-2-1h0m-1-3h0m-1 5h0m-2 3h0m-4-3h0m0-5h0m0 1h0m-1-1h0m-5 1h0m0 7h0m0-2h0m-1 3h0m0-6h0m-4 0h0m-3-2h0m0 7h0m-3-7h0m7 17h0m14 3h0m5-2h0m1-7h0m1 4h0m6 6h0m1 0h0m7-2h0m0 1h0m2-6h0m0 2h0m0 3h0m0-5h0m0 4h0m1 1h0m0 2h0m1-2h0m1-7h0m2 11h0m2-6h0m1-7h0m4 6h0m3 2h0m0 4h0m4 1h0m0-8h0m1 3h0m1 3h0m2-2h0m2-8h0m0 8h0m1-6h0m2-2h0m1 0h0m0 5h0m1 2h0m3 1h0m1 2h0m2-3h0m1 1h0m0-7h0m0-2h0m2 4h0m0 2h0m1 3h0m1-9h0m1 7h0m3 1h0m0-4h0m1-4h0m1 2h0m0 3h0m2-4h0m1 9h0m0-10h0m0 3h0m0 1h0m0 3h0m1-5h0m2 8h0m4 3h0m1-11h0m0 11h0m3-13h0m0 2h0m3 9h0m4-5h0m-28 8h0m-9 1h0m-1-1h0m-4 0h0m-4 1h0m-7 5h0m-1-2h0m-1 4h0m-4 4h0m0-8h0m0 0h0m-9-1h0m-1 3h0m-11-6h0m-2 1h0"/><path id="Bc" d="M528 109h0m-4 0h0m-7-8h0m-1 3h0m-1 0h0m-2-3h0m-5-3h0m-2 0h0m22 15h0m5 2h0m28 22h0m-7-6h0m-2-4h0m-7-1h0m20 14h0m81 23h0m-4 4h0m-5-2h0m-1 2h0m-1 0h0m-1-7h0m0 6h0m-4-8h0m-23 9h0m-7-8h0m-1 7h0m-3-11h0m-12-1h0m-12 25h0m20-4h0m4-6h0m20 10h0m1-2h0m3 4h0m1-10h0m3 9h0m1-12h0m0 8h0m0 3h0m1-3h0m1-2h0m0 2h0m1 1h0m0 0h0m1-1h0m1-7h0m0 12h0m0-13h0m1 11h0m0-10h0m1 12h0m1-13h0m0 8h0m0 0h0m2-8h0m0 6h0m0 6h0m0-6h0m0-3h0m1 1h0m0 0h0m2 1h0m0-3h0m0 7h0m1-5h0m0 8h0m2-4h0m0 4h0m0-4h0m0 4h0m1-2h0m0-5h0m1 4h0m0 1h0m2-6h0m1 2h0m1-5h0m1 7h0m1 5h0m1-8h0m0 1h0m1 5h0m1-5h0m0 1h0m0 1h0m5 4h0m0-1h0m-2 3h0m-1 5h0m0-3h0m-2 3h0m-3-1h0m-2-3h0m-1 3h0m-1 0h0m-5 4h0m0 5h0m-1-13h0m-1 3h0m0 6h0m-2-8h0m-2-1h0m-5 4h0m-3-3h0m-1 6h0m-11 0h0m-12-3h0m-4 4h0m-6 0h0m-23 5h0m20 12h0m18-7h0m31 4h0m1-3h0m4 6h0m-5 7h0m-92 14h0m16 8h0m6-6h0m2 0h0m-12 15h0m-9 1h0m-19 18h0m1-5h0m42-6h0m4 12h0m10 0h0m5-5h0m7 6h0m-3 4h0m0 7h0m-4 1h0m-1-2h0m-1 0h0m-6-10h0m-49 1h0m-7 12h0m-2-4h0m-3 4h0m-3-1h0m-1-3h0m-234 12h0m10 2h0m1 3h0m1-2h0m1 3h0m5-1h0m4 0h0m51 1h0m161-7h0m2 6h0m0-12h0m1 12h0m1-7h0m1-1h0m0 0h0m0 8h0m1-12h0m0 4h0m0 6h0m0-9h0m1 8h0m1-8h0m2 6h0m0 3h0m2-6h0m4 1h0m54-2h0m0 6h0m5-6h0m5 7h0m2 1h0m7 1h0m6 12h0m-25 3h0m-3-9h0m-1 4h0m-2-5h0m-15 6h0m-1 4h0m-40-8h0m-2-4h0m-2 0h0m-158 10h0m-2 2h0m0-1h0m-1-3h0m0 1h0m-1-2h0m0 0h0m0 1h0m0-2h0m-1 3h0m0-3h0m0 2h0m0-1h0m-1 2h0m-1-6h0m0 1h0m-1 2h0m0-1h0m-1-2h0m0 5h0m-2 3h0m-1-6h0m0-6h0m-2 4h0m-1-1h0m0 6h0m0-8h0m-1 5h0m0-1h0m0-2h0m-1 9h0m0-11h0m-2 8h0m-1-5h0m0 0h0m-1 0h0m-1 6h0m0-10h0m0 12h0m-1-11h0m0 7h0m-1-1h0m0 5h0m-1-6h0m-3 1h0m-2-2h0m-1 8h0m-1-2h0m-2-1h0m-2 2h0m0-2h0m-2-8h0m0 4h0m-1 5h0m0 2h0m0-7h0m-1 3h0m-1-3h0m0-1h0m-3 3h0m0-3h0m-1 0h0m-1 4h0m-1 0h0m0-7h0m-1 11h0m0 0h0m0-2h0m-2 2h0m0-8h0m0 6h0m0-5h0m-1 5h0m0 1h0m-2-1h0m-2-6h0m0-3h0m0 9h0m0 2h0m-1-1h0m0 1h0m-1-6h0m0-4h0m0 9h0m0-9h0m0 2h0m0 4h0m0 0h0m-1 4h0m0-5h0m-1-7h0m0 7h0m-1-6h0m0 5h0m0-4h0m0 4h0m-1 1h0m0 2h0m0-8h0m-1 7h0m0-1h0m-1-8h0m0 13h0m0-1h0m-1-4h0m0 3h0m-1-9h0m-1 0h0m-1 0h0m0 3h0m-1 7h0m0-2h0m-1-2h0m0-5h0m0 5h0m0 3h0m-1-4h0m0 2h0m-1-2h0m-3 1h0m-1 0h0m0-5h0m0 3h0m-2-4h0m-1 5h0m0 0h0m0-3h0m-2 1h0m0 7h0m0 0h0m-1-5h0m0-5h0m0 3h0m-1-3h0m0 6h0m0 0h0m-1 2h0m-1-4h0m0 3h0m-2-2h0m0-4h0m-6 10h0m0-2h0m-11-8h0m-3 9h0m-19 1h0m4 2h0m11 12h0m5-6h0m3-1h0m1-1h0m3 4h0m2-5h0m2-2h0m1-1h0m11 2h0m3 2h0m1 1h0m0 7h0m1-4h0m1-2h0m0-1h0m2 1h0m1 0h0m2-7h0m2 9h0m2 2h0m0-2h0m1 0h0m1-8h0m0 2h0m1 5h0m0-5h0m2 8h0m1-6h0m0 8h0m0-13h0m1 4h0m0 5h0m0-1h0m0-1h0m0 4h0m0-10h0m1 3h0m0-3h0m0 0h0m1-1h0m2 5h0m1-2h0m0 7h0m2-6h0m3 4h0m0-8h0m0 1h0m3 2h0m0 0h0m1 4h0m0-6h0m3 5h0m3 5h0m1-11h0m0 1h0m1 2h0m0-1h0m2 1h0m0-2h0m0-1h0m2 6h0m1-4h0m4-1h0m0 1h0m1-1h0m1-1h0m0 7h0m1 0h0m0 0h0m2 2h0m1-3h0m1-6h0m1 4h0m1-3h0m1 4h0m1-2h0m2 4h0m5-5h0m1 2h0m3-1h0m0 2h0m4 0h0m1-3h0m2 7h0m2 4h0m11-1h0m0-5h0m150 3h0m2-7h0m5 3h0m54 6h0m17-10h0m5 6h0m2 6h0m-4 2h0m-2 6h0m-7-7h0m-3 5h0m-3 7h0m-3-7h0m-10-3h0m-21 1h0m-2 0h0m-29-2h0m-6 6h0m-1 4h0m-4 0h0m0 0h0m-2-3h0m-139-8h0m-1 3h0m-3 8h0m-4-12h0m-2 8h0m-17-7h0m0 10h0m0 2h0m-11-6h0m-1 2h0m-5-6h0m-9 9h0m-11-4h0m-3 3h0m-24-11h0m-26 6h0m-5-3h0m-9-3h0m-15 12h0m-4-11h0m-15 7h0m-4 11h0m25-5h0m10 8h0m3-7h0m2 8h0m6-8h0m7 6h0m10-5h0m2 3h0m17 7h0m3-11h0m4 4h0m5 3h0m8-4h0m7-1h0m5 5h0m3 2h0m1-4h0m31-5h0m6 3h0m1 6h0m0-5h0m2 2h0m0-3h0m1 7h0m1 2h0m3 0h0m1-2h0m2 2h0m0-6h0m2-2h0m0-5h0m1 5h0m2 4h0m12 3h0m55-6h0m12 4h0m53 1h0m0-4h0m0-7h0m1 6h0m1-6h0m1 3h0m1 8h0m1-11h0m1 5h0m0-1h0m1 0h0m0 8h0m0 0h0m1-3h0m0 3h0m1-1h0m3-1h0m0-7h0m1 0h0m0 10h0m0-6h0m1 4h0m1-2h0m1-3h0m2-4h0m3 9h0m20-4h0m2-6h0m19 1h0m11 10h0m9-2h0m3-8h0m9 10h0m7-1h0m11 6h0m-5 5h0m-2 0h0m-1 5h0m-1-1h0m-3-9h0m-2 9h0m-1-2h0m-1-2h0m0-4h0m0-3h0m0 2h0m-2 10h0m-2-11h0m-3 0h0m-2 8h0m-7-2h0m-1-5h0m0-3h0m-13 6h0m-11 1h0m-15-7h0m-4 10h0m-13-8h0m-14 3h0m-2-1h0m0-2h0m-2-2h0m-2 1h0m-1 3h0m-14 3h0m-18 5h0m-6-3h0m-4 4h0m-6-4h0m-3 0h0m-2-7h0m0 8h0m-6 2h0m-5-7h0m0 7h0m0-2h0m-1-3h0m0 3h0m-1-6h0m-2 4h0m-8 2h0m-1 0h0m-13 1h0m-31-5h0m0 6h0m-4 0h0m-1 1h0m-2-6h0m-2-5h0m-4 2h0m-1 9h0m-2-11h0m-2 11h0m-1-10h0m0 10h0m-1-9h0m-1-4h0m0 2h0m0 1h0m0 8h0m0-6h0m-2 0h0m0 0h0m0-4h0m-1 4h0m0 6h0m0-11h0m-2 12h0m-1-12h0m-2 7h0m-1 5h0m0-3h0m-1-8h0m0 8h0m-7-2h0m-3 0h0m-14 3h0m-1-5h0m-24 0h0m-1 0h0m-4-5h0m-9 9h0m-6-7h0m-16 1h0m-9-1h0m-3 2h0m-2 8h0m-17-9h0m-17 3h0m-10-1h0m-4 11h0m7-2h0m8 6h0m1-1h0m4 6h0m1-11h0m1 9h0m3-1h0m13 5h0m12-9h0m12 4h0m4 5h0m11-7h0m10-2h0m1-3h0m11 0h0m6 2h0m10 4h0m11 0h0m2-7h0m2 5h0m2 0h0m14-4h0m4 12h0m2-13h0m1 0h0m6 3h0m5 9h0m1-8h0m3-2h0m0 1h0m2 1h0m1-1h0m4 0h0m13-2h0m5 7h0m8-3h0m8 5h0m1-7h0m0-2h0m0 3h0m5 0h0m0 9h0m0-3h0m0 1h0m1-9h0m1 3h0m1-5h0m1 1h0m0 9h0m1-4h0m0-4h0m1-1h0m0 11h0m0-9h0m1 7h0m0-8h0m1 2h0m2-1h0m1 5h0m1-2h0m1-6h0m0 10h0m1-9h0m0 3h0m0 8h0m2-1h0m1-1h0m1-6h0m0 6h0m1-8h0m0 7h0m1-9h0m1 8h0m0 2h0m0-4h0m1 3h0m0 0h0m0-8h0m1 0h0m1 7h0m0-4h0m3 4h0m5-4h0m3 7h0m6-11h0m3 1h0m4 0h0m1 10h0m9-8h0m5 1h0m16 4h0m16-7h0m1 7h0m16-7h0m2 2h0m3 10h0m1-2h0m26-8h0m19 6h0m1-8h0m11 9h0m1-2h0m0 1h0m0-2h0m2-1h0m1-5h0m0 5h0m1 1h0m0-7h0m2 11h0m0 2h0m0-5h0m1 2h0m0 1h0m1-5h0m1 6h0m1-4h0m1-8h0m0 10h0m2-3h0m0 2h0m0-3h0m2 1h0m17 5h0m-7 10h0m-10-7h0m-8 1h0m-31-1h0m-5 3h0m0-4h0m-4 13h0m-3 0h0m-5-12h0m-3 6h0m-3 3h0m-4 2h0m-23-7h0m-4-5h0m-23 6h0m-7-4h0m-9 2h0m-1 9h0m-27-10h0m-4 3h0m-1-6h0m-6 2h0m-5 2h0m-6 0h0m-6-2h0m0 7h0m-2-6h0m-2 5h0m-6-1h0m-7 4h0m-17-4h0m-26-5h0m-1 8h0m-8-2h0m-15 5h0m-10-3h0m-16-2h0m-2-1h0m-14 6h0m-1-5h0m-1-1h0m-2-5h0m-23-2h0m-9 10h0m-3 1h0m-4 0h0m-21-4h0m-4-1h0m0-3h0m0 4h0m-7-3h0m-5 2h0m-5-6h0m-6 3h0m-4 23h0m0-2h0m2 0h0m1 0h0m1 3h0m1-1h0m2 1h0m9-8h0m25 6h0m6-10h0m16 10h0m3-2h0m11-8h0m10-1h0m3 11h0m1-8h0m5-1h0m2 7h0m9 2h0m7-10h0m2 8h0m3 3h0m23-8h0m1 0h0m3 1h0m1-5h0m5 10h0m2 1h0m12-5h0m21 0h0m13 5h0m10-9h0m3 11h0m12-13h0m13 5h0m2-1h0m3-2h0m5 0h0m20 4h0m8 6h0m4-2h0m13 3h0m2-2h0m3-11h0m1 1h0m3 0h0m0 7h0m1 4h0m1-4h0m5-4h0m6-1h0m0 9h0m4-6h0m5-3h0m7 9h0m0-4h0m11-7h0m1 9h0m22-9h0m14 1h0m11-1h0m32-1h0m8 17h0m0 2h0m-11-2h0m0 10h0m-9-12h0m-6 2h0m-45 7h0m-10-6h0m-10 3h0m0 1h0m-9 0h0m-4 3h0m-4-5h0m-27-5h0m-2 2h0m0 2h0m-5 1h0m-8 2h0m-77 5h0m0-10h0m-6-2h0m-4 6h0m-1-3h0m-2 9h0m-3-3h0m-1 3h0m-7-1h0m-26-12h0m0 9h0m-2-5h0m-11 2h0m-2-3h0m-1 8h0m-18 1h0m-1-4h0m-11-4h0m-4-1h0m-15 1h0m-1 5h0m-28-8h0m-10 11h0m-6-1h0m-24-4h0m-4-1h0m-5 5h0m0-7h0m-2 3h0m-1-5h0m-1 6h0m-1-8h0m-1 11h0m-3-1h0m0-5h0m-2 4h0m0-1h0m-1 0h0m-2-3h0m-4 3h0m4 11h0m3-3h0m0 1h0m1-3h0m2 8h0m1-1h0m2 0h0m1 0h0m3 4h0m2-4h0m4-2h0m2-1h0m6-2h0m12 0h0m5 4h0m8-5h0m10 7h0m0-5h0m22 6h0m16 3h0m7-7h0m3 0h0m21 0h0m17-3h0m5 6h0m9-5h0m9 3h0m17 2h0m7-7h0m7 12h0m18-8h0m40 3h0m3 2h0m17-6h0m4 4h0m4-1h0m7 2h0m6-1h0m53-1h0m73 8h0m-16 0h0m-6-1h0m-41 13h0m-1-11h0m-95 4h0m-4 0h0m0-5h0m-6 12h0m-1-4h0m-10-2h0m-16-2h0m-4-3h0m-16 3h0m-26 0h0m-4-5h0m-7 12h0m-13 0h0m-9-3h0m-12-6h0m-4 3h0m-15-6h0m-3 8h0m-8-5h0m-16 4h0m-5 4h0m-9 0h0m-11-3h0m-10-2h0m-28-2h0m-14-3h0m-4 2h0m-2 6h0m-1-4h0m-2 8h0m-1-13h0m-2 1h0m-1 2h0m-3-1h0m0-2h0m6 19h0m2-4h0m0 12h0m1-9h0m1 5h0m1 1h0m6 2h0m1 0h0m9 0h0m19-2h0m12-7h0m7 2h0m22-3h0m8 9h0m0-2h0m6-5h0m5 1h0m8-3h0m44 1h0m4-2h0m2 9h0m2-7h0m31-2h0m3 9h0m41-7h0m5 3h0m4 5h0m24-10h0m10 12h0m4-1h0m3-4h0m60 1h0m7-5h0m31 4h0m9 0h0m4 4h0m2 1h0m5 10h0m-3-1h0m-4 1h0m0-1h0m-1-1h0m-3 2h0m-3-1h0m-5 4h0m-35-11h0m-10 10h0m-18-3h0m-45-4h0m-16 9h0m-21-7h0m-6 0h0m-10-3h0m-17-1h0m-1 1h0m-15 4h0m-2 3h0m-4-8h0m-12 1h0m-5 4h0m-13 2h0m-2-4h0m-40 5h0m-11-6h0m-5 7h0m-4-8h0m-11 1h0m-4-3h0m-47 11h0m-14-12h0m-12 3h0m4 16h0m30-3h0m1 3h0m24 4h0m24-5h0m22 7h0m3-2h0m5 1h0m17 1h0m4-1h0m29 3h0m2-13h0m4 6h0m16 5h0m12-7h0m10 6h0m51-5h0m26 5h0m35-10h0m69 9h0m1-6h0m0 6h0m2-4h0m2 2h0m0 2h0m1-1h0m0 5h0m2-9h0m3-4h0m-4 23h0m-2 3h0m-1-8h0m-2 5h0m-1-5h0m-1 3h0m-1-3h0m-1 5h0m-1-4h0m-1 6h0m-146-2h0m-1-2h0m-20-5h0m-46 3h0m-37 5h0m-23-1h0m-2-2h0m-11 2h0m-29-1h0m-56-8h0m11 21h0m1 0h0m14 6h0m25-7h0m19 4h0m16-4h0m20 0h0m14-5h0m2 2h0m1-2h0m16 3h0m20-4h0m1 3h0m7 4h0m18-4h0m2 8h0m29-7h0m0 0h0m4 4h0m7 2h0m7-1h0m0-8h0m130 1h0m2 6h0m3-3h0m1-5h0m3 7h0m-18 18h0m-1-1h0m-2 2h0m0 1h0m-3-1h0m0 1h0m-63-9h0m-48-2h0m-7 1h0m-6 6h0m-4-1h0m-5 1h0m-5-9h0m-3 11h0m-6-6h0m-37 2h0m-21-5h0m-2 8h0m-1 3h0m-7-3h0m0-7h0m-8 5h0m-7 5h0m-1-10h0m-9 4h0m-7 3h0m-36-2h0m-40 5h0m24 12h0m2-10h0m4 12h0m23-10h0m16 9h0m5 0h0m1 0h0m3-6h0m4 1h0m18-2h0m26-4h0m4 0h0m2 5h0m17-5h0m3 4h0m5 8h0m2-6h0m10 2h0m3 4h0m32-1h0m4-11h0m16 4h0m14-3h0m22 4h0m3 0h0m1 6h0m3 1h0m1 0h0m8-9h0m1 3h0m2 6h0m3-3h0m1-3h0m2 2h0m3 0h0m2-5h0m1-2h0m5 9h0m2 1h0m0 1h0m1-5h0m1 4h0m2-7h0m0 2h0m4 2h0m1-4h0m0 6h0m0-2h0m1-2h0m1-3h0m1 3h0m3 4h0m3 0h0m4-8h0m2 1h0m1 2h0m2 3h0m1 4h0m1-10h0m1 10h0m2-3h0m0 1h0m2-3h0m0 5h0m4-6h0m3 1h0m1-8h0m1 2h0m0 0h0m3 10h0m4 0h0m-2 9h0m-4-4h0m0 10h0m0-9h0m-2 1h0m0-1h0m-4 7h0m-1 2h0m-2 0h0m0-6h0m-1-4h0m-1 5h0m0-3h0m-1 7h0m-1-1h0m-1 1h0m-1-12h0m0 12h0m-2-2h0m-1-3h0m-3 2h0m-1 2h0m0-1h0m-2-10h0m0 11h0m0 1h0m-3-4h0m-1 2h0m0-3h0m-1-2h0m-2 1h0m0-2h0m0 0h0m-2 4h0m0-2h0m0 6h0m-1-3h0m-1-4h0m0 8h0m-1-7h0m-2-2h0m0-1h0m-1 1h0m-1 5h0m-1 1h0m-1-4h0m0 7h0m0-12h0m-2 2h0m0-1h0m0 6h0m0-4h0m-1 5h0m-6-4h0m0-3h0m-5 0h0m-1-1h0m-1 0h0m-9 1h0m-4 11h0m-7-13h0m-17 0h0m-9 6h0m-32 2h0m-4-8h0m-4 7h0m-4 6h0m-11-5h0m-8-2h0m-10-6h0m-9 1h0m-17 7h0m-3 4h0m-1-9h0m-8 4h0m-12-3h0m-43-2h0m-1 3h0m0 4h0m-1-3h0m-2-1h0m-1-2h0m-2 8h0m-1-7h0m-1 6h0m0-2h0m0-3h0m0 7h0m0-7h0m-1 1h0m0 2h0m-1-5h0m0 4h0m-1 0h0m-2 1h0m-1 0h0m0-6h0m-1 6h0m0-1h0m-1-1h0m0 7h0m-1-1h0m-2-9h0m-3 10h0m0-3h0m-1-2h0m-2 4h0m-1-2h0m-5 1h0m-4 2h0m-17-2h0m-8 0h0m-32-8h0m1 15h0m20 6h0m3-9h0m1-1h0m0 11h0m0 2h0m1-9h0m0 0h0m0 1h0m0 0h0m1 8h0m0-6h0m2 1h0m1-8h0m1 5h0m0-1h0m3 7h0m2-10h0m0 0h0m1 2h0m0 8h0m2-7h0m0 5h0m2-7h0m1 4h0m2-2h0m0 8h0m0-5h0m0-3h0m1-1h0m2 3h0m0 2h0m0-2h0m0 1h0m1-7h0m0 7h0m0 1h0m1 0h0m0 5h0m2-9h0m0 1h0m1 4h0m0-2h0m0-4h0m0 8h0m1-3h0m0 3h0m2-1h0m0-2h0m0 4h0m1-5h0m1-7h0m0 8h0m1 0h0m1 1h0m0-2h0m0-1h0m1 7h0m1-8h0m0 1h0m1-2h0m3 3h0m1 1h0m0 1h0m1 2h0m1-11h0m1 11h0m0 2h0m0-13h0m1 1h0m0 12h0m0-4h0m1-7h0m1 3h0m0-5h0m0 11h0m1-8h0m0 9h0m0 0h0m1-10h0m1 9h0m1-6h0m0 5h0m0-6h0m0 0h0m1 8h0m0-6h0m0 6h0m1-8h0m0 7h0m2-1h0m1-4h0m0 4h0m1-7h0m1 5h0m0 4h0m0-7h0m0 8h0m1-12h0m0 3h0m1 6h0m1-7h0m0 1h0m0-3h0m1 8h0m1-8h0m1 9h0m0-3h0m1-4h0m1 6h0m55-7h0m3 5h0m31 1h0m24 3h0m20-9h0m38-1h0m2 10h0m54-11h0m5 9h0m1 4h0m2-11h0m1 6h0m1-7h0m1 5h0m0-5h0m1 9h0m0-5h0m0-5h0m1 1h0m0 11h0m0-4h0m1 2h0m0 3h0m1-11h0m0 8h0m1-4h0m1-2h0m0 1h0m1-3h0m3 9h0m2-7h0m1 8h0m1-10h0m1 5h0m2-3h0m0-2h0m0 4h0m0-6h0m0 10h0m1 3h0m0-1h0m2-6h0m2 2h0m0-2h0m1 6h0m1-4h0m0-7h0m1 6h0m0-6h0m2 2h0m0 9h0m0-12h0m1 13h0m1-9h0m0 5h0m1-5h0m0-3h0m1 4h0m3-4h0m0 0h0m1 3h0m0-2h0m1 11h0m0-5h0m3-7h0m2 10h0m0-5h0m1-1h0m1-5h0m0 1h0m2 20h0m-4 2h0m-1-6h0m-3 4h0m-1 1h0m-1 5h0m0-8h0m-1 6h0m-1-11h0m-1 3h0m-1 6h0m0-1h0m-2-5h0m0 1h0m-1 1h0m0-5h0m0 6h0m-1-5h0m-1 10h0m-1-8h0m0 10h0m-1-10h0m-1 3h0m-1-1h0m-1-1h0m-1-3h0m-5 8h0m0-7h0m0 2h0m-1-2h0m0-1h0m0 3h0m0-3h0m-3 2h0m-1 5h0m-1-2h0m-3-4h0m0 9h0m0 2h0m-2 0h0m-2 0h0m0-10h0m-1 6h0m-1-6h0m0 5h0m-1 0h0m-7 2h0m-22 2h0m-17-3h0m0-2h0m-1 4h0m-4-3h0m-49 0h0m-36 3h0m-7-2h0m-9-1h0m0-6h0m-6 6h0m-3-8h0m-2 13h0m-58 0h0m-19-13h0m-1 6h0m-4 3h0m-1-1h0m-6-4h0m-3-2h0m-1-2h0m0 13h0m-1-12h0m-1 2h0m-1 2h0m-1-5h0m0 0h0m0 9h0m-1-8h0m-2 1h0m-2-1h0m-1 1h0m-1 0h0m-2 10h0m-3-12h0m-2 7h0m-18 1h0m-2-2h0m-4-4h0m-4 5h0m-4 5h0m-2-3h0m-1-5h0m-3 0h0m-21 2h0m-11 5h0m-12-1h0m-4-5h0m9 18h0m0 0h0m5-7h0m5 11h0m1-4h0m3-5h0m2 5h0m1-3h0m15-4h0m4 3h0m2-2h0m4-3h0m5 8h0m4 2h0m2-7h0m1 6h0m1 1h0m2-8h0m0 9h0m3 0h0m2-6h0m0-2h0m1 6h0m2 2h0m1-8h0m3 4h0m1-7h0m0 8h0m3 3h0m0-1h0m2 3h0m1-11h0m2 7h0m7-1h0m1-7h0m2 11h0m1-11h0m3 2h0m2-1h0m5 10h0m1-11h0m4 3h0m12-2h0m9 8h0m4-1h0m57-5h0m7 6h0m2 1h0m4-6h0m9-2h0m3 2h0m3 0h0m29-4h0m14 12h0m6-6h0m3 1h0m11-5h0m5 1h0m19 6h0m6-8h0m43 3h0m3-3h0m1 1h0m0 6h0m0-7h0m1 7h0m3 2h0m0-9h0m1 11h0m1 0h0m0-13h0m1 11h0m1-2h0m1 1h0m0-10h0m2 7h0m2-2h0m1 4h0m0-3h0m3 1h0m1-4h0m1 9h0m2 1h0m1-11h0m1 6h0m0 2h0m1 1h0m1 0h0m0-6h0m0 1h0m3 4h0m2 2h0m1-10h0m0 3h0m0 7h0m0-4h0m2-3h0m1 3h0m0 0h0m1 4h0m1-1h0m1-11h0m0 11h0m2-6h0m2-5h0m1 4h0m16-3h0m11 25h0m-1-3h0m-11-9h0m-5 12h0m-1-5h0m0 6h0m-3-8h0m-1 6h0m0 1h0m-7-6h0m-3 0h0m0 7h0m-1-2h0m-1-10h0m-1 9h0m-1-6h0m-2-1h0m-1-2h0m-2 7h0m0-6h0m-3 6h0m-2-6h0m-1 2h0m-3 5h0m0-4h0m-1 4h0m-2-3h0m0-2h0m0-3h0m-2 5h0m0-2h0m-2 1h0m0 1h0m-2-4h0m0 0h0m-1-2h0m-1 5h0m0-3h0m-2 2h0m0 0h0m0-4h0m-1 2h0m-2 2h0m-2 0h0m-65 3h0m-1-2h0m-4 4h0m-2-7h0m-6 7h0m-16 2h0m-32-6h0m-1 7h0m-1-3h0m-7-6h0m-2 10h0m-4-1h0m-28-4h0m-1 2h0m-2-4h0m0-5h0m-2 7h0m0-8h0m-1 1h0m-1 5h0m-1 7h0m-3-11h0m-1 6h0m-2 0h0m-4 5h0m0-3h0m-1-3h0m-1 3h0m-9-7h0m-10 9h0m-9 0h0m-2 0h0m-16-5h0m-3-3h0m-2 5h0m-5-2h0m-2 0h0m-1-5h0m-1 5h0m0-3h0m-11 5h0m-2-6h0m0 0h0m-2 8h0m-1-6h0m-2 7h0m-2-5h0m-1 0h0m-4-3h0m-4 1h0m-1-2h0m-1 0h0m0-3h0m-2 6h0m-1-6h0m-1 10h0m0-5h0m-2 0h0m0 2h0m-1-1h0m-1 5h0m0-9h0m0 3h0m-1 7h0m-1-6h0m-1 6h0m-1-4h0m0-6h0m0 2h0m0-4h0m-2 7h0m0 1h0m-1 5h0m0-5h0m0-2h0m-2-1h0m-1-2h0m-1 1h0m-1-4h0m0 13h0m0-10h0m-1-2h0m0 4h0m0-3h0m-1-2h0m-2 1h0m-6 3h0m-1 3h0m-3 0h0m-5-1h0m-5 3h0m-38-5h0m4 20h0m26-8h0m7-2h0m2 2h0m10 9h0m1-11h0m5 6h0m1-1h0m2-5h0m5 6h0m0-3h0m1 6h0m4-3h0m2-2h0m1-1h0m0 3h0m1-3h0m0-2h0m2 5h0m0-6h0m1 10h0m3-9h0m2 8h0m1-1h0m0 3h0m0-1h0m8-9h0m1-1h0m4 6h0m2-4h0m2-1h0m0 7h0m0-3h0m3 6h0m1-3h0m0-8h0m2 3h0m2 7h0m0-6h0m0 8h0m2-4h0m2-1h0m1-2h0m0 8h0m2-6h0m0 4h0m2 0h0m1-3h0m1 4h0m1 0h0m0-6h0m3-3h0m1 4h0m1 1h0m2-7h0m0 6h0m0 0h0m1 2h0m1-1h0m2 3h0m1-1h0m2-8h0m1 3h0m0 1h0m1 4h0m1 0h0m0-1h0m1-6h0m0 4h0m1 5h0m1-4h0m1 5h0m7-8h0m5 7h0m0-11h0m0 8h0m2-5h0m0-2h0m1 4h0m3-5h0m2 0h0m4 3h0m2 3h0m1-7h0m8 7h0m1-6h0m6 3h0m0 4h0m2 5h0m11-9h0m17-2h0m4-1h0m5 10h0m6-2h0m19 0h0m3-1h0m19-2h0m1-5h0m30 11h0m2-5h0m19 2h0m58-1h0m26-4h0m0 0h0m4 3h0m0-2h0m2-5h0m0 12h0m0-10h0m1 3h0m0 7h0m1 0h0m1-6h0m0-3h0m1-2h0m1 11h0m1-12h0m1 9h0m1-6h0m1 9h0m1-7h0m0 0h0m1 0h0m2 3h0m0-5h0m0 10h0m1-8h0m1 2h0m0 3h0m1-2h0m0-6h0m0 5h0m0 6h0m0 0h0m1-4h0m0 0h0m0 0h0m1-7h0m0 10h0m1 1h0m1 0h0m1-13h0m3 4h0m1 7h0m6 1h0m3-8h0m2 16h0m-5-3h0m0-1h0m-9-1h0m0 5h0m0-5h0m-2 12h0m0-10h0m-1 3h0m-3 5h0m-1-3h0m0 1h0m-1-5h0m0 0h0m-1 8h0m-2 0h0m-3-1h0m-1-7h0m0-1h0m-3 3h0m0 1h0m-1-1h0m-1 0h0m-3-4h0m-2-1h0m-3 3h0m-32 5h0m-20 2h0m-33-4h0m-5 4h0m-4-7h0m-12 2h0m-28 4h0m-18 0h0m-9-4h0m-1-4h0m-32 11h0m-7-12h0m-18 2h0m-28 3h0m-11-5h0m-10 4h0m-2-2h0m0-3h0m0 0h0m-2 2h0m-1-2h0m-1 4h0m-2-1h0m0 5h0m-1-5h0m-2 4h0m0 0h0m0-3h0m0 4h0m-1 0h0m0 1h0m0-8h0m0 1h0m-1 3h0m0 0h0m-1 5h0m-2-8h0m-1 0h0m0-2h0m-1 4h0m-2-2h0m-2 8h0m0-3h0m-2-5h0m0-2h0m-1 0h0m0 10h0m-2-7h0m-3 5h0m0-7h0m-5 2h0m-2 8h0m-2 1h0m-1-2h0m-6 0h0m-12-3h0m-1 1h0m-1-6h0m-4-1h0m-2 4h0m-1 2h0m0-6h0m-2 3h0m-1 8h0m-1-9h0m-7 7h0m-1-1h0m0 0h0m-3-2h0m-7-1h0m-18 7h0m-7-10h0m-7-3h0m-3 12h0m-9-5h0m0-5h0m3 16h0m3-1h0m7-3h0m8 3h0m5 2h0m3 1h0m4 3h0m0-3h0m1 5h0m1-1h0m7 3h0m1-10h0m0-1h0m3 5h0m0-5h0m0 2h0m3 8h0m5-3h0m5 1h0m6-2h0m2 5h0m2-11h0m9 3h0m4 0h0m17 8h0m2-11h0m2 9h0m6-1h0m7 0h0m10-10h0m29 10h0m7-3h0m6-2h0m12 5h0m4-7h0m11 6h0m4 2h0m14-9h0m3 1h0m4 7h0m5-8h0m6 6h0m9 5h0m19-3h0m42 3h0m11-8h0m14 4h0m0-7h0m5 9h0m1 0h0m3-1h0m6-10h0m8 1h0m2 3h0m7 0h0m3 1h0m17 5h0m18-5h0m9 4h0m24 0h0m18 10h0m-4 4h0m-25-8h0m-1 9h0m-4-8h0m-6-1h0m-20 12h0m-2-5h0m-12-4h0m-6-1h0m-3-1h0m-1 11h0m-7-5h0m-4-1h0m-2 4h0m-3-8h0m-11-1h0m-3 9h0m-1 1h0m-5-9h0m-1-3h0m-29 4h0m-4 9h0m-3-2h0m-35-7h0m-3 1h0m-3 8h0m-6-9h0m-8 0h0m-8 8h0m-5-5h0m-59 6h0m-4-12h0m-1 4h0m-2 8h0m-1 0h0m-2-10h0m-1-3h0m-7 12h0m-4 1h0m-16 0h0m-18-3h0m-1 0h0m-1 0h0m-5-4h0m-8 4h0m-17 1h0m-3-10h0m0 8h0m-11 0h0m-3-4h0m-4-4h0m-13 1h0m-3 5h0m-1 5h0m-1-11h0m-2 4h0m-2 7h0m-2-2h0m-10-4h0m18 17h0m1-7h0m12 2h0m7 1h0m7-4h0m6 4h0m4 4h0m15-1h0m19 3h0m10 0h0m3-10h0m6 3h0m23 3h0m21-3h0m3 3h0m0-6h0m15 7h0m7-2h0m1-4h0m11-1h0m9 7h0m15-5h0m26-3h0m1 8h0m16-2h0m48 7h0m1-6h0m4 3h0m0-10h0m1 5h0m4 3h0m0 0h0m1 4h0m1 1h0m4-4h0m9-4h0m5 5h0m13 1h0m21-10h0m3-1h0m3 6h0m1 5h0m4-9h0m7 9h0m5 2h0m12-12h0m13 11h0m2-5h0m2 4h0m2 1h0m0 1h0m5-3h0m1-5h0m0 4h0m3 2h0m4 2h0m1-5h0m1 3h0m0-2h0m2-3h0m0 0h0m1 3h0m0-2h0m1 1h0m2 3h0m0 2h0m14-9h0m4 9h0m25 12h0m-3 2h0m-10 0h0m-2-4h0m-1-5h0m-1 3h0m0 4h0m-1-10h0m-1 7h0m0-3h0m-1 3h0m0 4h0m-2-10h0m-1 9h0m-1 0h0m-1-7h0m-1 3h0m0 0h0m-7 1h0m-1-4h0m-2 0h0m-1 0h0m0 4h0m-1 3h0m-3-9h0m-1 4h0m-1-2h0m0-1h0m0 4h0m0-2h0m-1 1h0m0 4h0m-1-3h0m-1-7h0m0 1h0m0 8h0m-1-8h0m-1 1h0m-2-1h0m-1 4h0m-1 0h0m-1 3h0m0 3h0m-1 1h0m-1-8h0m0 6h0m-1 0h0m0 3h0m-1-1h0m-2-3h0m-4 4h0m-1-11h0m0-2h0m-1 13h0m-1-11h0m-1 3h0m0 4h0m-1-9h0m-1 5h0m-1-5h0m-1 9h0m-1-6h0m-1 5h0m0-7h0m-2 4h0m0 2h0m-1-1h0m0-1h0m-2 4h0m-1 3h0m0-1h0m-1-1h0m-3 2h0m-10-6h0m-7 4h0m-1-4h0m-3-1h0m-12 7h0m-8-9h0m-23 6h0m-2-6h0m-8 0h0m-6 2h0m-3-3h0m-2-2h0m-1 7h0m-1-7h0m-4 3h0m-1 6h0m-5-3h0m-26 3h0m-8 4h0m-5-9h0m-25 8h0m-2-6h0m-10-2h0m-24 3h0m-6-4h0m-1 3h0m-10 4h0m-86-4h0m-2 0h0m-15-2h0m-8 0h0m-53 4h0m-11-7h0m36 15h0m9 5h0m15-3h0m7 2h0m7 7h0m0-3h0m2-3h0m6 2h0m6-4h0m2 6h0m5-7h0m5 5h0m19-8h0m13-1h0m11 13h0m33-3h0m14 3h0m7-6h0m1 2h0m1-6h0m1 6h0m2-7h0m1 11h0m12-1h0m3-6h0m8 3h0m16-3h0m4 0h0m0 6h0m3-12h0m1 7h0m3-7h0m8 3h0m3 9h0m0 1h0m2-10h0m4 4h0m4-1h0m3-3h0m15 5h0m3 0h0m1 3h0m0-9h0m2 7h0m0 2h0m0 1h0m2-10h0m2 9h0m18 1h0m21-12h0m14 5h0m1 2h0m1-6h0m2 3h0m3-3h0m1 2h0m5 5h0m7 1h0m2 2h0m1-7h0m10-4h0m3 1h0m1 12h0m1-1h0m0 1h0m1-3h0m0-4h0m1 4h0m1-4h0m1 6h0m4-8h0m0 9h0m0-4h0m2-7h0m0 0h0m2 5h0m2-7h0m0 9h0m1-2h0m1-4h0m0-3h0m1 0h0m0 9h0m2-4h0m0 1h0m0-5h0m1 11h0m2-3h0m0-6h0m1 2h0m0 3h0m1 4h0m0 0h0m1-10h0m0 9h0m1-9h0m0 5h0m1-6h0m0 7h0m1-1h0m1-7h0m0 13h0m2-10h0m2 9h0m0-3h0m1-6h0m2 9h0m0-7h0m0 0h0m1 4h0m2 2h0m0-6h0m2 1h0m0 0h0m1 2h0m0 2h0m0-4h0m1-5h0m2 9h0m0-4h0m1 6h0m0-1h0m0-9h0m1 4h0m1-6h0m0 5h0m1-3h0m0 8h0m0 0h0m1-5h0m1 7h0m1 0h0m2-3h0m2 4h0m1-10h0m1 4h0m0 5h0m1-11h0m0 11h0m0-10h0m0 9h0m2-1h0m1-9h0m0 8h0m0 3h0m1-1h0m0-8h0m1 7h0m0-9h0m0 1h0m0 7h0m0-5h0m0-3h0m0 10h0m1 2h0m3-10h0m0 5h0m0 5h0m0-1h0m1-9h0m1 7h0m4-1h0m0-3h0m1 1h0m2 5h0m0-4h0m1 3h0m1-6h0m2 1h0m0 3h0m0-3h0m6 4h0m0 15h0m-3-4h0m-4 3h0m0-7h0m-1 0h0m-1 0h0m-2 6h0m-1-6h0m0 10h0m0-7h0m0-5h0m0 7h0m-1-4h0m0 0h0m0-4h0m0 8h0m-1 3h0m0-6h0m0-5h0m-1 7h0m0-5h0m0 2h0m0 1h0m-2 2h0m0 6h0m0-10h0m-1 0h0m-1 6h0m0-3h0m0 4h0m-1-7h0m-1-3h0m-2 0h0m0 5h0m-1-4h0m0-1h0m0 11h0m0 1h0m0 0h0m0-8h0m-1-4h0m0 9h0m-2-7h0m-1 0h0m0-1h0m0 9h0m-1-4h0m0 5h0m0-10h0m-1 1h0m0 7h0m0-9h0m0 10h0m-1-8h0m0-1h0m-1-1h0m-1 9h0m0 2h0m0-7h0m-1 1h0m-1-2h0m0 6h0m0-5h0m0 7h0m-1-5h0m0 6h0m0-7h0m-1 0h0m-1 6h0m0-10h0m-1 4h0m0 7h0m-1 1h0m-2-9h0m0 9h0m-1-13h0m-1 4h0m-1 7h0m0-9h0m0 8h0m-1-8h0m0 4h0m0-3h0m0 1h0m0 5h0m0-6h0m-2 1h0m-1 0h0m0 1h0m-1-2h0m-1-1h0m0 1h0m-1 3h0m0-2h0m-1 2h0m-2 7h0m0-8h0m0 2h0m-1-4h0m-1 6h0m-2 1h0m-3-5h0m-1-4h0m-1 11h0m0-5h0m0-1h0m-3 3h0m0-6h0m0 5h0m-1 5h0m0-9h0m-1-2h0m0 3h0m0-3h0m-1 5h0m-1 2h0m-1-8h0m-1-1h0m0 9h0m0-1h0m-2 0h0m-2-8h0m-1 6h0m-1-4h0m0 1h0m-3 2h0m-1-2h0m-18-2h0m-1 3h0m-20 8h0m-11-2h0m-15-4h0m0 0h0m-23 6h0m-4-8h0m-4 0h0m-3-4h0m0 2h0m-1-1h0m0 8h0m-1-8h0m-2 0h0m-4 9h0m-3-10h0m-13 4h0m-6-4h0m-2 0h0m-3 9h0m-10-3h0m-6 1h0m-7 6h0m-26-10h0m-12 3h0m-3-2h0m-2 8h0m0-1h0m-9-2h0m-4 3h0m-22-2h0m-28-10h0m-3 12h0m-22-7h0m-3-5h0m-1 4h0m-19 1h0m48 21h0m5-3h0m4 2h0m6 1h0m5-2h0m3-1h0m0-1h0m14-4h0m13-2h0m2 11h0m16-13h0m0 11h0m9-8h0m17 7h0m27 2h0m24-7h0m12 4h0m5 0h0m38-9h0m1 12h0m5-6h0m4 2h0m2-5h0m6 8h0m9-1h0m19-8h0m31 1h0m5-3h0m2 1h0m1 7h0m2-5h0m3 0h0m1 1h0m8 3h0m1 4h0m2-7h0m5 3h0m0-3h0m3-2h0m0 1h0m1-1h0m0 0h0m2-1h0m2 12h0m3-10h0m3 5h0m1-7h0m1 1h0m0 1h0m1 8h0m1-6h0m1 6h0m0 1h0m1-11h0m3-1h0m0 4h0m3 3h0m3-7h0m-104 17h0m-7 5h0m-9-4h0m-2 7h0m0-7h0m-3-3h0m-9 9h0m-2-8h0m0 7h0m-11-4h0m-2 3h0m0-1h0m-3 0h0m-9 1h0m-7-7h0m-12 7h0m-14 4h0m-7-6h0m-2-2h0m-30-2h0m0 8h0m-7 2h0m-9 1h0m-7-10h0m-10 0h0m-10 6h0m-4 2h0m0-8h0m-7 5h0m-6 4h0m-1-11h0m-7 12h0m-1-13h0m0 12h0m-4-5h0m-4-7h0m-6 6h0m0-6h0m0 10h0m0-2h0m-1-6h0m0 3h0m0-1h0m0-3h0m-1 4h0m-1 1h0m-6 7h0m-2-1h0m-2-5h0m-1 5h0m0-12h0m-3 7h0m0-4h0m-3 7h0m-1-2h0m-3-2h0m-1 0h0m0-2h0m-2 9h0m4 1h0m3 5h0m2 3h0m4-8h0m1 9h0m1 2h0m3-2h0m1-9h0m0 8h0m7-4h0m1-3h0m2 8h0m21-9h0m7 7h0m1-6h0m26 8h0m4 1h0m9-3h0m8 3h0m29-4h0m4 7h0m4-9h0m7-4h0m1 12h0m1-8h0m5-2h0m1-1h0m1 7h0m2 1h0m0-4h0m4 1h0m2 1h0m0-3h0m0 4h0m4-5h0m2 6h0m13-2h0m6-7h0m1 10h0m14 2h0m2 1h0m-6 9h0m-2 1h0m-3-4h0m-1 4h0m-10-4h0m-2 4h0m-3 3h0m0-3h0m-5-9h0m-4 9h0m-14-7h0m-16 5h0m-6-5h0m-21 3h0m-1-3h0m-4 5h0m-8-1h0m-4 5h0m-5-4h0m-8-5h0m0 10h0m-1 0h0m-6-10h0m-6 5h0m-3 5h0m-12-2h0m-17-7h0m-16-3h0m-15 1h0m32 16h0m35 4h0m16-7h0m2 7h0m7-4h0m10-3h0m2 5h0m13-2h0m18-2h0m5 8h0m7 1h0m7-5h0m37-4h0m8 2h0m-22 20h0m-11 4h0m-2-5h0m0-6h0m-3 2h0m-3 2h0m0 3h0m-1-9h0m-4 8h0m-15 3h0m-15-9h0m-1 9h0m-3-7h0m-3-2h0m-4-1h0m0 11h0m-2-2h0m0 0h0m-1 0h0m-5 1h0m-1 0h0m-2-2h0m-2 2h0m-1 0h0m-2-11h0m-1 9h0m-3-1h0m0 5h0m-2-6h0m-6 0h0m0 7h0m1 2h0m2 4h0m3-6h0m0 7h0m1-5h0m1 8h0m0-10h0m1 4h0m2-2h0m0 1h0m3-1h0m0 0h0m1 0h0m4 6h0m4-6h0m1 5h0m1 0h0m4-3h0m1 6h0m1-4h0m0-5h0m1 0h0m2 0h0m0 7h0m1-2h0m4-4h0m2 3h0m1-2h0m1 5h0m18 4h0m0-10h0m6 11h0m11-13h0m-52 14h0"/><path id="Tb" d="M1005 513h0m1-7h0m2 8h0m3-9h0m4 2h0m5 1h0m4 0h0m7 4h0m1-4h0m-2 13h0m-3 0h0m-2 6h0m-3 1h0m0-4h0m-15 0h0m-6-5h0m-1 12h0m-5-5h0m-6 4h0m-3 3h0m6 2h0m3 6h0m4 3h0m3-7h0m0 4h0m1-3h0m2 1h0m7 0h0m1 6h0m3-9h0m0 1h0m7-4h0m9 12h0m1-3h0m-5 9h0m-5-2h0m-3 5h0m-2-6h0m-4 7h0m-10-2h0m-4-1h0m-8-5h0m0 9h0m-2-9h0m-2 0h0m0 13h0m14 6h0m16-6h0"/><path id="Ta" d="M1032 502h0m-1-7h0m-3 7h0m-3-5h0m-32 20h0m6-2h0m2 1h0m1 1h0m1-1h0m4-7h0m2 0h0m1 0h0m2 2h0m0-2h0m0 8h0m2-1h0m1-3h0m0 1h0m0-9h0m2 4h0m0-2h0m1 3h0m0 1h0m1 2h0m1-7h0m0 3h0m1-2h0m0-2h0m1 9h0m1-7h0m1 3h0m1 6h0m1-8h0m0-3h0m0 2h0m1 8h0m0-7h0m0 2h0m0 6h0m2-3h0m0-4h0m1 3h0m1-6h0m1 4h0m1-6h0m0 3h0m0 1h0m0 6h0m0-9h0m0 3h0m0 5h0m4 1h0m2 3h0m1-12h0m1 12h0m2-6h0m1 5h0m0-8h0m1 9h0m6 6h0m-7-5h0m0 1h0m0 1h0m-2 4h0m-1 2h0m-1-1h0m0-4h0m-1-3h0m0 5h0m-2-4h0m-3 4h0m0-4h0m0 0h0m-2-1h0m0 12h0m-1-6h0m-1-1h0m-1-3h0m0-2h0m-1 4h0m0-2h0m0-2h0m-2 9h0m-2-1h0m0 4h0m-1 1h0m0 0h0m0-6h0m0-2h0m0 2h0m-1-2h0m0-1h0m0 2h0m-1 0h0m0-5h0m-1 7h0m0-1h0m-1-1h0m0 7h0m-1-6h0m-1 6h0m-3-5h0m0-2h0m0 6h0m-1-12h0m0 9h0m0 1h0m-1 2h0m-3 0h0m-1-9h0m-1 3h0m-1-3h0m0 2h0m-2 7h0m0-10h0m-1 6h0m0-6h0m0 9h0m-1-3h0m0-6h0m-1 0h0m0 6h0m-1-4h0m0 9h0m-1-2h0m0 0h0m-1-1h0m0-8h0m-1 6h0m0-3h0m0 6h0m-2 1h0m0-4h0m0 0h0m0-7h0m-2 11h0m0-12h0m0 9h0m-1 1h0m-2-10h0m-2 12h0m-10 4h0m0 11h0m7-9h0m0 8h0m0 1h0m1-13h0m0 4h0m0 5h0m1-1h0m0 3h0m1-9h0m1 6h0m0 4h0m1-10h0m1 9h0m0-2h0m0-5h0m1-4h0m0 8h0m0-5h0m0 3h0m0-3h0m0 2h0m1-4h0m0 2h0m0 6h0m0 1h0m1 0h0m1-9h0m0-1h0m0 4h0m0 6h0m0 0h0m1 0h0m0 1h0m0-10h0m0 12h0m1-2h0m0-9h0m1 11h0m1-2h0m0-5h0m0 3h0m0-8h0m0 12h0m0-4h0m1 0h0m0 3h0m1-5h0m0-5h0m0 3h0m1-3h0m0-1h0m0 3h0m0-1h0m1 2h0m0 7h0m0-10h0m1 11h0m0-11h0m1 1h0m2-2h0m1 10h0m0 1h0m1-3h0m0-9h0m0 9h0m1 3h0m1-2h0m1-10h0m1 7h0m1-3h0m0 0h0m1 3h0m0-3h0m1 4h0m1 5h0m0-8h0m0 0h0m1 2h0m0-6h0m2 4h0m0-2h0m2-1h0m0-2h0m1 5h0m0-4h0m1 1h0m0 10h0m0-12h0m0 11h0m1-6h0m0-5h0m0 12h0m1-4h0m2 5h0m4-1h0m1-10h0m0 5h0m1-1h0m0 1h0m0 1h0m1-5h0m0 5h0m1-4h0m2 5h0m1 3h0m0 0h0m1-8h0m3-2h0m2 2h0m-3 13h0m-7 4h0m-2-4h0m-1-3h0m-1 0h0m0 1h0m0 2h0m0 2h0m-1 1h0m0 3h0m-1-1h0m-1-7h0m0-1h0m0 0h0m0 0h0m-1 1h0m0 8h0m0-7h0m-1 6h0m-2-5h0m-1 5h0m0 4h0m-1-4h0m-3-5h0m-2 1h0m0-4h0m0 7h0m0-3h0m0-4h0m0 11h0m-1-8h0m-1 4h0m-1 6h0m0-3h0m-1-8h0m-2-1h0m-1 4h0m0 4h0m0-5h0m-1-3h0m0 3h0m-2 4h0m0-4h0m-1 7h0m0-3h0m0-5h0m-1 1h0m-2 2h0m0 6h0m-1-9h0m0-2h0m0 3h0m-1 3h0m0-5h0m-1 3h0m-1 8h0m-1-3h0m0-9h0m0 3h0m-1-4h0m0 10h0m0 1h0m-1-9h0m0 5h0m0-5h0m0 9h0m0 2h0m-2-5h0m0-3h0m-1 3h0m0-2h0m-1-4h0m-3 0h0m-1 5h0m0 4h0m-3-6h0m-1-2h0m0 7h0m0-6h0m0-3h0m-1 0h0m0 2h0m-13-1h0m23 14h0m2-1h0m5 2h0m1 1h0m5-3h0m3 2h0m1-1h0m5 3h0m5-5h0m1 0h0m1 3h0"/><path id="Tc" d="M1017 508h0m0 7h0m6-1h0m14 3h0m0-1h0m2 0h0m3 0h0m0-5h0m0 3h0m0-1h0m2-2h0m2 0h0m3-4h0m-1 21h0m-1-6h0m-1-3h0m0 2h0m-1 3h0m0-2h0m0 8h0m0 1h0m-1-5h0m0-4h0m-1 8h0m0-1h0m-1-2h0m0-8h0m-2 6h0m0-1h0m-1-3h0m0 5h0m-2-3h0m0-5h0m-1 0h0m-12 0h0m-27 12h0m-4-4h0m-14 3h0m-6 10h0m1-3h0m2 5h0m0 0h0m1-4h0m0 3h0m1-1h0m1 0h0m0 2h0m1 2h0m1-2h0m1-3h0m0 1h0m0-1h0m0 3h0m1 0h0m0-2h0m0-3h0m0 9h0m10-13h0m5 7h0m0-2h0m14-1h0m7 8h0m4-9h0m1 7h0m12-2h0m1 5h0m0-6h0m0 0h0m0-2h0m1 8h0m0-4h0m0-6h0m2 3h0m2 4h0m1-10h0m-4 21h0m-3-3h0m0-2h0m-5 4h0m-22 5h0m0-2h0m-7-6h0m-20 3h0m0 3h0m-2-3h0m0 1h0m-1-5h0m-1 5h0m-1-4h0m0-3h0m0 12h0m-1-11h0m-2 2h0m0 1h0m0-3h0m50 13h0"/></defs>
<rect width="1925" height="1244" fill="#fff"/>
<text x="2.5" y="45.5" font-size="59">A</text>
<line x1="79" y1="47" x2="79" y2="443.04999999999995" stroke="#000" stroke-width="3.3"/>
<line x1="77.35" y1="441.4" x2="527" y2="441.4" stroke="#000" stroke-width="3.3"/>
<line x1="106.7" y1="441.4" x2="106.7" y2="448.7" stroke="#000" stroke-width="2.9"/>
<text x="106.7" y="471.4" font-size="23" text-anchor="middle">−5</text>
<line x1="222.9" y1="441.4" x2="222.9" y2="448.7" stroke="#000" stroke-width="2.9"/>
<text x="222.9" y="471.4" font-size="23" text-anchor="middle">0</text>
<line x1="339" y1="441.4" x2="339" y2="448.7" stroke="#000" stroke-width="2.9"/>
<text x="339" y="471.4" font-size="23" text-anchor="middle">5</text>
<line x1="454.5" y1="441.4" x2="454.5" y2="448.7" stroke="#000" stroke-width="2.9"/>
<text x="454.5" y="471.4" font-size="23" text-anchor="middle">10</text>
<line x1="71.7" y1="104" x2="79" y2="104" stroke="#000" stroke-width="2.9"/>
<text x="66" y="112.2" font-size="23" text-anchor="end">10</text>
<line x1="71.7" y1="195" x2="79" y2="195" stroke="#000" stroke-width="2.9"/>
<text x="66" y="203.2" font-size="23" text-anchor="end">5</text>
<line x1="71.7" y1="285" x2="79" y2="285" stroke="#000" stroke-width="2.9"/>
<text x="66" y="293.2" font-size="23" text-anchor="end">0</text>
<line x1="71.7" y1="376" x2="79" y2="376" stroke="#000" stroke-width="2.9"/>
<text x="66" y="384.2" font-size="23" text-anchor="end">−5</text>
<text x="279" y="514" font-size="32.5" text-anchor="middle">UMAP_1</text>
<text x="36" y="268" font-size="32.5" text-anchor="middle" transform="rotate(-90 36 268)">UMAP_2</text>
<g fill="none" stroke-linecap="round" stroke-width="5.8">
<use href="#k0" transform="scale(.5)" stroke="#F8766D"/>
<use href="#k1" transform="scale(.5)" stroke="#DE8C00"/>
<use href="#k2" transform="scale(.5)" stroke="#B79F00"/>
<use href="#k3" transform="scale(.5)" stroke="#7CAE00"/>
<use href="#k4" transform="scale(.5)" stroke="#00BA38"/>
<use href="#k5" transform="scale(.5)" stroke="#00C08B"/>
<use href="#k6" transform="scale(.5)" stroke="#00BFC4"/>
<use href="#k7" transform="scale(.5)" stroke="#00B4F0"/>
<use href="#k8" transform="scale(.5)" stroke="#619CFF"/>
<use href="#k9" transform="scale(.5)" stroke="#C77CFF"/>
<use href="#k10" transform="scale(.5)" stroke="#F564E3"/>
<use href="#k11" transform="scale(.5)" stroke="#FF64B0"/>
</g>
<text x="228" y="371" font-size="20.5" text-anchor="middle">0</text>
<text x="143.5" y="343" font-size="20.5" text-anchor="middle">1</text>
<text x="208" y="238" font-size="20.5" text-anchor="middle">2</text>
<text x="144" y="193.5" font-size="20.5" text-anchor="middle">3</text>
<text x="278.5" y="201.5" font-size="20.5" text-anchor="middle">4</text>
<text x="308" y="354" font-size="20.5" text-anchor="middle">5</text>
<text x="216.5" y="304" font-size="20.5" text-anchor="middle">6</text>
<text x="275" y="302" font-size="20.5" text-anchor="middle">7</text>
<text x="288" y="96" font-size="20.5" text-anchor="middle">8</text>
<text x="124.5" y="264" font-size="20.5" text-anchor="middle">9</text>
<text x="504" y="275" font-size="20.5" text-anchor="middle">10</text>
<text x="163.5" y="293" font-size="20.5" text-anchor="middle">11</text>
<circle cx="583.4" cy="90.2" r="7.9" fill="#F8766D"/>
<text x="611" y="99.0" font-size="23">0</text>
<circle cx="583.4" cy="118.9" r="7.9" fill="#DE8C00"/>
<text x="611" y="127.67999999999999" font-size="23">1</text>
<circle cx="583.4" cy="147.6" r="7.9" fill="#B79F00"/>
<text x="611" y="156.36" font-size="23">2</text>
<circle cx="583.4" cy="176.2" r="7.9" fill="#7CAE00"/>
<text x="611" y="185.04000000000002" font-size="23">3</text>
<circle cx="583.4" cy="204.9" r="7.9" fill="#00BA38"/>
<text x="611" y="213.72000000000003" font-size="23">4</text>
<circle cx="583.4" cy="233.6" r="7.9" fill="#00C08B"/>
<text x="611" y="242.40000000000003" font-size="23">5</text>
<circle cx="583.4" cy="262.3" r="7.9" fill="#00BFC4"/>
<text x="611" y="271.08" font-size="23">6</text>
<circle cx="583.4" cy="291.0" r="7.9" fill="#00B4F0"/>
<text x="611" y="299.76" font-size="23">7</text>
<circle cx="583.4" cy="319.6" r="7.9" fill="#619CFF"/>
<text x="611" y="328.44" font-size="23">8</text>
<circle cx="583.4" cy="348.3" r="7.9" fill="#C77CFF"/>
<text x="611" y="357.12" font-size="23">9</text>
<circle cx="583.4" cy="377.0" r="7.9" fill="#F564E3"/>
<text x="611" y="385.8" font-size="23">10</text>
<circle cx="583.4" cy="405.7" r="7.9" fill="#FF64B0"/>
<text x="611" y="414.48" font-size="23">11</text>
<text x="688.5" y="45" font-size="59">B</text>
<line x1="767.3" y1="27" x2="767.3" y2="450.34999999999997" stroke="#000" stroke-width="3.3"/>
<line x1="765.65" y1="448.7" x2="1246" y2="448.7" stroke="#000" stroke-width="3.3"/>
<line x1="796.3" y1="448.7" x2="796.3" y2="456.0" stroke="#000" stroke-width="2.9"/>
<text x="796.3" y="480.5" font-size="23" text-anchor="middle">−5</text>
<line x1="921.3" y1="448.7" x2="921.3" y2="456.0" stroke="#000" stroke-width="2.9"/>
<text x="921.3" y="480.5" font-size="23" text-anchor="middle">0</text>
<line x1="1045.9" y1="448.7" x2="1045.9" y2="456.0" stroke="#000" stroke-width="2.9"/>
<text x="1045.9" y="480.5" font-size="23" text-anchor="middle">5</text>
<line x1="1170.5" y1="448.7" x2="1170.5" y2="456.0" stroke="#000" stroke-width="2.9"/>
<text x="1170.5" y="480.5" font-size="23" text-anchor="middle">10</text>
<line x1="760.0" y1="85.5" x2="767.3" y2="85.5" stroke="#000" stroke-width="2.9"/>
<text x="753" y="93.7" font-size="23" text-anchor="end">10</text>
<line x1="760.0" y1="182.7" x2="767.3" y2="182.7" stroke="#000" stroke-width="2.9"/>
<text x="753" y="190.89999999999998" font-size="23" text-anchor="end">5</text>
<line x1="760.0" y1="280.8" x2="767.3" y2="280.8" stroke="#000" stroke-width="2.9"/>
<text x="753" y="289.0" font-size="23" text-anchor="end">0</text>
<line x1="760.0" y1="378.5" x2="767.3" y2="378.5" stroke="#000" stroke-width="2.9"/>
<text x="753" y="386.7" font-size="23" text-anchor="end">−5</text>
<text x="969" y="513.5" font-size="32.5" text-anchor="middle">UMAP_1</text>
<text x="723" y="268" font-size="32.5" text-anchor="middle" transform="rotate(-90 723 268)">UMAP_2</text>
<g fill="none" stroke-linecap="round" stroke-width="4.6">
<g transform="translate(685.8 -14.5) scale(.5354 .52)"><use href="#Bb" stroke="#00BFC4"/><use href="#Ba" stroke="#F8766D"/><use href="#Bc" stroke="#00BFC4"/></g>
<g transform="translate(670.5 13.4) scale(.5354 .48)"><use href="#Tb" stroke="#00BFC4"/><use href="#Ta" stroke="#F8766D"/><use href="#Tc" stroke="#00BFC4"/></g>
</g>
<text x="1257" y="201.5" font-size="23.2">Treatment</text>
<circle cx="1260.4" cy="235.8" r="7.6" fill="#F8766D"/>
<circle cx="1260.4" cy="267.3" r="7.6" fill="#00BFC4"/>
<text x="1280" y="242" font-size="23">NG</text>
<text x="1280" y="272" font-size="23">EG</text>
<text x="1386.5" y="45.5" font-size="59">C</text>
<line x1="1463.3" y1="47.5" x2="1463.3" y2="443.34999999999997" stroke="#000" stroke-width="3.3"/>
<line x1="1461.6499999999999" y1="441.7" x2="1911.5" y2="441.7" stroke="#000" stroke-width="3.3"/>
<line x1="1491" y1="441.7" x2="1491" y2="449.0" stroke="#000" stroke-width="2.9"/>
<text x="1491" y="471" font-size="23" text-anchor="middle">−5</text>
<line x1="1606" y1="441.7" x2="1606" y2="449.0" stroke="#000" stroke-width="2.9"/>
<text x="1606" y="471" font-size="23" text-anchor="middle">0</text>
<line x1="1722.4" y1="441.7" x2="1722.4" y2="449.0" stroke="#000" stroke-width="2.9"/>
<text x="1722.4" y="471" font-size="23" text-anchor="middle">5</text>
<line x1="1838.6" y1="441.7" x2="1838.6" y2="449.0" stroke="#000" stroke-width="2.9"/>
<text x="1838.6" y="471" font-size="23" text-anchor="middle">10</text>
<line x1="1456.0" y1="104.6" x2="1463.3" y2="104.6" stroke="#000" stroke-width="2.9"/>
<text x="1449" y="112.8" font-size="23" text-anchor="end">10</text>
<line x1="1456.0" y1="195.3" x2="1463.3" y2="195.3" stroke="#000" stroke-width="2.9"/>
<text x="1449" y="203.5" font-size="23" text-anchor="end">5</text>
<line x1="1456.0" y1="286.4" x2="1463.3" y2="286.4" stroke="#000" stroke-width="2.9"/>
<text x="1449" y="294.59999999999997" font-size="23" text-anchor="end">0</text>
<line x1="1456.0" y1="377" x2="1463.3" y2="377" stroke="#000" stroke-width="2.9"/>
<text x="1449" y="385.2" font-size="23" text-anchor="end">−5</text>
<text x="1673" y="513.5" font-size="32.5" text-anchor="middle">UMAP_1</text>
<text x="1420" y="268" font-size="32.5" text-anchor="middle" transform="rotate(-90 1420 268)">UMAP_2</text>
<g fill="none" stroke-linecap="round" stroke-width="5.8">
<use href="#k4" transform="translate(1376.5 11.56) scale(.5055 .47)" stroke="#F8766D"/>
<use href="#k8" transform="translate(1376.5 11.56) scale(.5055 .47)" stroke="#DE8C00"/>
<use href="#k10" transform="translate(1389.5 3.5) scale(.5055 .47)" stroke="#7CAE00"/>
<use href="#k0" transform="translate(1376.5 11.56) scale(.5055 .47)" stroke="#00BA38"/>
<use href="#k1" transform="translate(1376.5 11.56) scale(.5055 .47)" stroke="#00C08B"/>
<use href="#k2" transform="translate(1376.5 11.56) scale(.5055 .47)" stroke="#00BFC4"/>
<use href="#k3" transform="translate(1376.5 11.56) scale(.5055 .47)" stroke="#00B4F0"/>
<use href="#k5" transform="translate(1376.5 11.56) scale(.5055 .47)" stroke="#619CFF"/>
<use href="#k6" transform="translate(1376.5 11.56) scale(.5055 .47)" stroke="#C77CFF"/>
<use href="#k7" transform="translate(1376.5 11.56) scale(.5055 .47)" stroke="#F564E3"/>
<use href="#k9" transform="translate(1376.5 11.56) scale(.5055 .47)" stroke="#FF64B0"/>
<use href="#k11" transform="translate(1376.5 11.56) scale(.5055 .47)" stroke="#B79F00"/>
</g>
<text transform="translate(1681.6 100.8) scale(.89 1)" font-size="21" text-anchor="middle">DC2</text>
<text transform="translate(1662 196.3) scale(.89 1)" font-size="21" text-anchor="middle">DC1</text>
<text transform="translate(1520.2 188.9) scale(.89 1)" font-size="21" text-anchor="middle">TAM4</text>
<text transform="translate(1587.4 229.7) scale(.89 1)" font-size="21" text-anchor="middle">TAM3</text>
<text transform="translate(1493.7 244.0) scale(.89 1)" font-size="21" text-anchor="middle">TAM8</text>
<text transform="translate(1542.7 282.2) scale(.89 1)" font-size="21" text-anchor="middle">DC3</text>
<text transform="translate(1591.7 294.7) scale(.89 1)" font-size="21" text-anchor="middle">TAM6</text>
<text transform="translate(1659 294.7) scale(.89 1)" font-size="21" text-anchor="middle">TAM7</text>
<text transform="translate(1521 323.0) scale(.89 1)" font-size="21" text-anchor="middle">TAM2</text>
<text transform="translate(1687.2 351.2) scale(.89 1)" font-size="21" text-anchor="middle">TAM5</text>
<text transform="translate(1612.1 366.8) scale(.89 1)" font-size="21" text-anchor="middle">TAM1</text>
<text transform="translate(1899.4 262.6) scale(.89 1)" font-size="21" text-anchor="middle">pDC</text>
<text x="2.5" y="578" font-size="59">D</text>
<line x1="81" y1="618" x2="81" y2="1078.6" stroke="#000" stroke-width="2.2"/>
<line x1="80" y1="1077.6" x2="539" y2="1077.6" stroke="#000" stroke-width="2.2"/>
<line x1="74" y1="618.7" x2="81" y2="618.7" stroke="#000" stroke-width="2"/>
<text x="63" y="628.5" font-size="20" text-anchor="end">15</text>
<line x1="74" y1="780.9" x2="81" y2="780.9" stroke="#000" stroke-width="2"/>
<text x="63" y="790.6999999999999" font-size="20" text-anchor="end">10</text>
<line x1="74" y1="943" x2="81" y2="943" stroke="#000" stroke-width="2"/>
<text x="63" y="952.8" font-size="20" text-anchor="end">5</text>
<line x1="81.5" y1="1077.6" x2="81.5" y2="1084.6" stroke="#000" stroke-width="2"/>
<text x="81.5" y="1107" font-size="20" text-anchor="middle">8</text>
<line x1="294.3" y1="1077.6" x2="294.3" y2="1084.6" stroke="#000" stroke-width="2"/>
<text x="294.3" y="1107" font-size="20" text-anchor="middle">9</text>
<line x1="507.6" y1="1077.6" x2="507.6" y2="1084.6" stroke="#000" stroke-width="2"/>
<text x="507.6" y="1107" font-size="20" text-anchor="middle">10</text>
<text x="315" y="1150.5" font-size="33" text-anchor="middle">Outgoing interaction strength</text>
<text x="32" y="842" font-size="33" text-anchor="middle" transform="rotate(-90 32 842)">Incoming interaction strength</text>
<circle cx="155.6" cy="898.2" r="17" fill="#984EA3"/>
<text x="155.6" y="876" font-size="22" text-anchor="middle" fill="#984EA3">IFNG+Tc</text>
<circle cx="231.5" cy="963.9" r="9.6" fill="#F5B961"/>
<text x="226" y="949" font-size="22" text-anchor="middle" fill="#EE9A30">MAIT</text>
<circle cx="315.2" cy="949.2" r="24.3" fill="#56ACE2"/>
<text x="313" y="922" font-size="22" text-anchor="middle" fill="#56ACE2">TAM</text>
<circle cx="124.5" cy="1049.9" r="17" fill="#377EB8"/>
<text x="135" y="1032" font-size="22" text-anchor="middle" fill="#377EB8">DC</text>
<circle cx="462.9" cy="1049.9" r="10.8" fill="#F781BF"/>
<text x="467" y="1032" font-size="22" text-anchor="middle" fill="#F781BF">PD1+TRM</text>
<text x="553" y="759.2" font-size="26">Count</text>
<circle cx="575.8" cy="792.7" r="8.8"/>
<text x="612.6" y="799.7" font-size="20">200</text>
<circle cx="575.8" cy="822.5" r="13.2"/>
<text x="612.6" y="829.5" font-size="20">250</text>
<circle cx="575.8" cy="855" r="15.2"/>
<text x="612.6" y="862" font-size="20">300</text>
<circle cx="575.8" cy="893.8" r="17.2"/>
<text x="612.6" y="900.8" font-size="20">350</text>
<circle cx="575.8" cy="938" r="18.3"/>
<text x="612.6" y="945" font-size="20">400</text>
<text x="689" y="578" font-size="59">E</text>
<rect x="941.3" y="602.3" width="197.9000000000001" height="465.70000000000005" fill="#fff"/>
<line x1="941.3" y1="639.6" x2="1139.2" y2="639.6" stroke="#e4e4e4" stroke-width="1.2"/>
<line x1="941.3" y1="672.4" x2="1139.2" y2="672.4" stroke="#e4e4e4" stroke-width="1.2"/>
<line x1="941.3" y1="705.2" x2="1139.2" y2="705.2" stroke="#e4e4e4" stroke-width="1.2"/>
<line x1="941.3" y1="737.9" x2="1139.2" y2="737.9" stroke="#e4e4e4" stroke-width="1.2"/>
<line x1="941.3" y1="770.7" x2="1139.2" y2="770.7" stroke="#e4e4e4" stroke-width="1.2"/>
<line x1="941.3" y1="803.5" x2="1139.2" y2="803.5" stroke="#e4e4e4" stroke-width="1.2"/>
<line x1="941.3" y1="836.3" x2="1139.2" y2="836.3" stroke="#e4e4e4" stroke-width="1.2"/>
<line x1="941.3" y1="869.1" x2="1139.2" y2="869.1" stroke="#e4e4e4" stroke-width="1.2"/>
<line x1="941.3" y1="901.8" x2="1139.2" y2="901.8" stroke="#e4e4e4" stroke-width="1.2"/>
<line x1="941.3" y1="934.6" x2="1139.2" y2="934.6" stroke="#e4e4e4" stroke-width="1.2"/>
<line x1="941.3" y1="967.4" x2="1139.2" y2="967.4" stroke="#e4e4e4" stroke-width="1.2"/>
<line x1="941.3" y1="1000.2" x2="1139.2" y2="1000.2" stroke="#e4e4e4" stroke-width="1.2"/>
<line x1="941.3" y1="1033.0" x2="1139.2" y2="1033.0" stroke="#e4e4e4" stroke-width="1.2"/>
<line x1="1009.5" y1="602.3" x2="1009.5" y2="1068" stroke="#e4e4e4" stroke-width="1.2"/>
<line x1="1070.8" y1="602.3" x2="1070.8" y2="1068" stroke="#e4e4e4" stroke-width="1.2"/>
<line x1="935.3" y1="623.2" x2="941.3" y2="623.2" stroke="#000" stroke-width="2.2"/>
<text x="932" y="631.1" font-size="18" text-anchor="end">TNFSF14  − TNFRSF14</text>
<circle cx="1040.3" cy="623.2" r="7.3" fill="#3A78B5"/>
<line x1="935.3" y1="656.0" x2="941.3" y2="656.0" stroke="#000" stroke-width="2.2"/>
<text x="932" y="661.2" font-size="18" text-anchor="end">SPP1 − CD44</text>
<circle cx="1101.4" cy="656.0" r="7.3" fill="#3683BB"/>
<line x1="935.3" y1="688.8" x2="941.3" y2="688.8" stroke="#000" stroke-width="2.2"/>
<text x="932" y="694.6" font-size="18" text-anchor="end">PTPRC  − MRC1</text>
<circle cx="978.6" cy="688.8" r="7.3" fill="#6BC4A5"/>
<circle cx="1040.3" cy="688.8" r="7.3" fill="#7DCBA4"/>
<circle cx="1101.4" cy="688.8" r="7.3" fill="#67C2A5"/>
<line x1="935.3" y1="721.5" x2="941.3" y2="721.5" stroke="#000" stroke-width="2.2"/>
<text x="932" y="727.7" font-size="18" text-anchor="end">MIF − (CD74+CD44)</text>
<circle cx="1040.3" cy="721.5" r="7.3" fill="#F0663F"/>
<circle cx="1101.4" cy="721.5" r="7.3" fill="#A50F44"/>
<line x1="935.3" y1="754.3" x2="941.3" y2="754.3" stroke="#000" stroke-width="2.2"/>
<text x="932" y="761.1" font-size="18" text-anchor="end">ITGB2  − ICAM1</text>
<circle cx="978.6" cy="754.3" r="7.3" fill="#3E8FBA"/>
<circle cx="1040.3" cy="754.3" r="7.3" fill="#3585BC"/>
<circle cx="1101.4" cy="754.3" r="7.3" fill="#4FA8AF"/>
<line x1="935.3" y1="787.1" x2="941.3" y2="787.1" stroke="#000" stroke-width="2.2"/>
<text x="932" y="794.6" font-size="18" text-anchor="end">IL16  − CD4</text>
<circle cx="1040.3" cy="787.1" r="7.3" fill="#78C9A4"/>
<line x1="935.3" y1="819.9" x2="941.3" y2="819.9" stroke="#000" stroke-width="2.2"/>
<text x="932" y="830.4" font-size="18" text-anchor="end">IFNG − (IFNGR1+IFNGR2)</text>
<circle cx="978.6" cy="819.9" r="7.3" fill="#98D6A4"/>
<circle cx="1101.4" cy="819.9" r="7.3" fill="#5FBAA8"/>
<line x1="935.3" y1="852.7" x2="941.3" y2="852.7" stroke="#000" stroke-width="2.2"/>
<text x="932" y="860.8" font-size="18" text-anchor="end">HLA−F − LILRB1</text>
<circle cx="978.6" cy="852.7" r="7.3" fill="#3A74B4"/>
<circle cx="1040.3" cy="852.7" r="7.3" fill="#4468AE"/>
<circle cx="1101.4" cy="852.7" r="7.3" fill="#4B62AB"/>
<line x1="935.3" y1="885.4" x2="941.3" y2="885.4" stroke="#000" stroke-width="2.2"/>
<text x="932" y="894.1" font-size="18" text-anchor="end">CD99  − PILRA</text>
<circle cx="978.6" cy="885.4" r="7.3" fill="#A5DBA4"/>
<circle cx="1040.3" cy="885.4" r="7.3" fill="#8FD2A4"/>
<circle cx="1101.4" cy="885.4" r="7.3" fill="#A0D9A4"/>
<line x1="935.3" y1="918.2" x2="941.3" y2="918.2" stroke="#000" stroke-width="2.2"/>
<text x="932" y="927.8" font-size="18" text-anchor="end">CD6 − ALCAM</text>
<circle cx="1040.3" cy="918.2" r="7.3" fill="#4369AE"/>
<circle cx="1101.4" cy="918.2" r="7.3" fill="#5E4FA2"/>
<line x1="935.3" y1="951.0" x2="941.3" y2="951.0" stroke="#000" stroke-width="2.2"/>
<text x="932" y="960.9" font-size="18" text-anchor="end">CD40LG  − CD40</text>
<circle cx="1040.3" cy="951.0" r="7.3" fill="#4468AE"/>
<line x1="935.3" y1="983.8" x2="941.3" y2="983.8" stroke="#000" stroke-width="2.2"/>
<text x="932" y="994.7" font-size="18" text-anchor="end">CCL5 − CCR1</text>
<circle cx="978.6" cy="983.8" r="7.3" fill="#DFF299"/>
<circle cx="1040.3" cy="983.8" r="7.3" fill="#C4E79F"/>
<circle cx="1101.4" cy="983.8" r="7.3" fill="#94D4A4"/>
<line x1="935.3" y1="1016.6" x2="941.3" y2="1016.6" stroke="#000" stroke-width="2.2"/>
<text x="932" y="1028.4" font-size="18" text-anchor="end">CCL3 − CCR1</text>
<circle cx="1101.4" cy="1016.6" r="7.3" fill="#4F5BA8"/>
<line x1="935.3" y1="1049.3" x2="941.3" y2="1049.3" stroke="#000" stroke-width="2.2"/>
<text x="932" y="1062.2" font-size="18" text-anchor="end">ANXA1  − FPR1</text>
<circle cx="978.6" cy="1049.3" r="7.3" fill="#3987BB"/>
<circle cx="1040.3" cy="1049.3" r="7.3" fill="#7BCAA4"/>
<circle cx="1101.4" cy="1049.3" r="7.3" fill="#3A78B5"/>
<line x1="978.6" y1="1068" x2="978.6" y2="1074" stroke="#000" stroke-width="2.2"/>
<text x="986.2" y="1084.5" font-size="18.8" text-anchor="end" transform="rotate(-90 986.2 1084.5)">IFNG+Tc  −&gt; TAM</text>
<line x1="1040.3" y1="1068" x2="1040.3" y2="1074" stroke="#000" stroke-width="2.2"/>
<text x="1047.8999999999999" y="1084.5" font-size="18.8" text-anchor="end" transform="rotate(-90 1047.8999999999999 1084.5)">MAIT  −&gt; TAM</text>
<line x1="1101.4" y1="1068" x2="1101.4" y2="1074" stroke="#000" stroke-width="2.2"/>
<text x="1109.0" y="1084.5" font-size="18.8" text-anchor="end" transform="rotate(-90 1109.0 1084.5)">PD1+TRM  −&gt; TAM</text>
<rect x="941.3" y="602.3" width="197.9000000000001" height="465.70000000000005" fill="none" stroke="#000" stroke-width="2.6"/>
<text x="1170" y="718" font-size="18">Commun. Prob.</text>
<rect x="1170" y="739.2" width="15" height="237.69999999999993" fill="url(#spec)"/>
<line x1="1170" y1="824.0589" x2="1173.5" y2="824.0589" stroke="#fff" stroke-width="1.2"/>
<line x1="1181.5" y1="824.0589" x2="1185" y2="824.0589" stroke="#fff" stroke-width="1.2"/>
<text x="1190.5" y="753.9" font-size="13.5">max</text>
<text x="1190.5" y="975.5" font-size="13.5">min</text>
<text x="1170" y="1019" font-size="15">p−value</text>
<ellipse cx="1186.3" cy="1052" rx="6.3" ry="8.6"/>
<text x="1199.3" y="1054" font-size="14.4">p &lt; 0.01</text>
<text x="1385" y="578" font-size="59">F</text>
<rect x="1546.4" y="634.5" width="202.5999999999999" height="386.5" fill="#fff"/>
<line x1="1546.4" y1="673.2" x2="1749" y2="673.2" stroke="#e4e4e4" stroke-width="1.2"/>
<line x1="1546.4" y1="707.6" x2="1749" y2="707.6" stroke="#e4e4e4" stroke-width="1.2"/>
<line x1="1546.4" y1="742.0" x2="1749" y2="742.0" stroke="#e4e4e4" stroke-width="1.2"/>
<line x1="1546.4" y1="776.4" x2="1749" y2="776.4" stroke="#e4e4e4" stroke-width="1.2"/>
<line x1="1546.4" y1="810.8" x2="1749" y2="810.8" stroke="#e4e4e4" stroke-width="1.2"/>
<line x1="1546.4" y1="845.3" x2="1749" y2="845.3" stroke="#e4e4e4" stroke-width="1.2"/>
<line x1="1546.4" y1="879.7" x2="1749" y2="879.7" stroke="#e4e4e4" stroke-width="1.2"/>
<line x1="1546.4" y1="914.1" x2="1749" y2="914.1" stroke="#e4e4e4" stroke-width="1.2"/>
<line x1="1546.4" y1="948.5" x2="1749" y2="948.5" stroke="#e4e4e4" stroke-width="1.2"/>
<line x1="1546.4" y1="982.9" x2="1749" y2="982.9" stroke="#e4e4e4" stroke-width="1.2"/>
<line x1="1615.4" y1="634.5" x2="1615.4" y2="1021" stroke="#e4e4e4" stroke-width="1.2"/>
<line x1="1678.5" y1="634.5" x2="1678.5" y2="1021" stroke="#e4e4e4" stroke-width="1.2"/>
<line x1="1540.4" y1="656.0" x2="1546.4" y2="656.0" stroke="#000" stroke-width="2.2"/>
<text x="1531.8" y="663.4" font-size="18" text-anchor="end">SPP1 − CD44</text>
<circle cx="1583.7" cy="656.0" r="6.2" fill="#DAF09A"/>
<circle cx="1647.1" cy="656.0" r="6.2" fill="#A2D9A4"/>
<circle cx="1709.9" cy="656.0" r="6.2" fill="#D3ED9C"/>
<line x1="1540.4" y1="690.4" x2="1546.4" y2="690.4" stroke="#000" stroke-width="2.2"/>
<text x="1528.4" y="697.2" font-size="18" text-anchor="end">SPP1 − (ITGA4+ITGB1)</text>
<circle cx="1709.9" cy="690.4" r="6.2" fill="#5DB8A8"/>
<line x1="1540.4" y1="724.8" x2="1546.4" y2="724.8" stroke="#000" stroke-width="2.2"/>
<text x="1534.8" y="732.6" font-size="18" text-anchor="end">LGALS9 − CD45</text>
<circle cx="1583.7" cy="724.8" r="6.2" fill="#CC2D4B"/>
<circle cx="1647.1" cy="724.8" r="6.2" fill="#A20643"/>
<circle cx="1709.9" cy="724.8" r="6.2" fill="#E2524A"/>
<line x1="1540.4" y1="759.2" x2="1546.4" y2="759.2" stroke="#000" stroke-width="2.2"/>
<text x="1534.8" y="767.0" font-size="18" text-anchor="end">LGALS9 − CD44</text>
<circle cx="1583.7" cy="759.2" r="6.2" fill="#F5E78B"/>
<circle cx="1647.1" cy="759.2" r="6.2" fill="#C7EA9B"/>
<circle cx="1709.9" cy="759.2" r="6.2" fill="#EFEA92"/>
<line x1="1540.4" y1="793.6" x2="1546.4" y2="793.6" stroke="#000" stroke-width="2.2"/>
<text x="1536.1" y="802.5" font-size="18" text-anchor="end">ICAM1  − SPN</text>
<circle cx="1647.1" cy="793.6" r="6.2" fill="#3585BC"/>
<circle cx="1709.9" cy="793.6" r="6.2" fill="#4663AC"/>
<line x1="1540.4" y1="828.0" x2="1546.4" y2="828.0" stroke="#000" stroke-width="2.2"/>
<text x="1531.8" y="833.8" font-size="18" text-anchor="end">FN1  − CD44</text>
<circle cx="1583.7" cy="828.0" r="6.2" fill="#3C8DBB"/>
<circle cx="1647.1" cy="828.0" r="6.2" fill="#3E72B3"/>
<circle cx="1709.9" cy="828.0" r="6.2" fill="#3A90B9"/>
<line x1="1540.4" y1="862.5" x2="1546.4" y2="862.5" stroke="#000" stroke-width="2.2"/>
<text x="1531.4" y="869.3" font-size="18" text-anchor="end">FN1  − (ITGA4+ITGB1)</text>
<circle cx="1709.9" cy="862.5" r="6.2" fill="#5E4FA2"/>
<line x1="1540.4" y1="896.9" x2="1546.4" y2="896.9" stroke="#000" stroke-width="2.2"/>
<text x="1531.1" y="903.1" font-size="18" text-anchor="end">CXCL9  − CXCR3</text>
<circle cx="1709.9" cy="896.9" r="6.2" fill="#4369AE"/>
<line x1="1540.4" y1="931.3" x2="1546.4" y2="931.3" stroke="#000" stroke-width="2.2"/>
<text x="1529.7" y="939.2" font-size="18" text-anchor="end">CXCL16  − CXCR6</text>
<circle cx="1647.1" cy="931.3" r="6.2" fill="#F6E68C"/>
<line x1="1540.4" y1="965.7" x2="1546.4" y2="965.7" stroke="#000" stroke-width="2.2"/>
<text x="1533.5" y="974.0" font-size="18" text-anchor="end">CLEC2B  − KLRB1</text>
<circle cx="1647.1" cy="965.7" r="6.2" fill="#F46D43"/>
<line x1="1540.4" y1="1000.1" x2="1546.4" y2="1000.1" stroke="#000" stroke-width="2.2"/>
<text x="1532.4" y="1009.4" font-size="18" text-anchor="end">ALCAM − CD6</text>
<circle cx="1647.1" cy="1000.1" r="6.2" fill="#3A7BB7"/>
<circle cx="1709.9" cy="1000.1" r="6.2" fill="#5E4FA2"/>
<line x1="1583.7" y1="1021" x2="1583.7" y2="1027" stroke="#000" stroke-width="2.2"/>
<text x="1591.3" y="1038" font-size="18" text-anchor="end" transform="rotate(-90 1591.3 1038)">TAM −&gt; IFNG+Tc</text>
<line x1="1647.1" y1="1021" x2="1647.1" y2="1027" stroke="#000" stroke-width="2.2"/>
<text x="1654.6999999999998" y="1038" font-size="18" text-anchor="end" transform="rotate(-90 1654.6999999999998 1038)">TAM −&gt; MAIT</text>
<line x1="1709.9" y1="1021" x2="1709.9" y2="1027" stroke="#000" stroke-width="2.2"/>
<text x="1717.5" y="1038" font-size="18" text-anchor="end" transform="rotate(-90 1717.5 1038)">TAM −&gt; PD1+TRM</text>
<rect x="1546.4" y="634.5" width="202.5999999999999" height="386.5" fill="none" stroke="#000" stroke-width="2.6"/>
<text x="1787" y="724" font-size="18">Commun. Prob.</text>
<rect x="1787" y="744.9" width="13.5" height="237.70000000000005" fill="url(#spec)"/>
<line x1="1787" y1="829.7589" x2="1790.5" y2="829.7589" stroke="#fff" stroke-width="1.2"/>
<line x1="1797.0" y1="829.7589" x2="1800.5" y2="829.7589" stroke="#fff" stroke-width="1.2"/>
<text x="1806.0" y="760.1" font-size="13.5">max</text>
<text x="1806.0" y="981.4" font-size="13.5">min</text>
<text x="1787" y="1025" font-size="15">p−value</text>
<ellipse cx="1802.7" cy="1057.8" rx="6.3" ry="8.6"/>
<text x="1815.7" y="1059.8" font-size="14.4">p &lt; 0.01</text>
</svg>
</body></html>
